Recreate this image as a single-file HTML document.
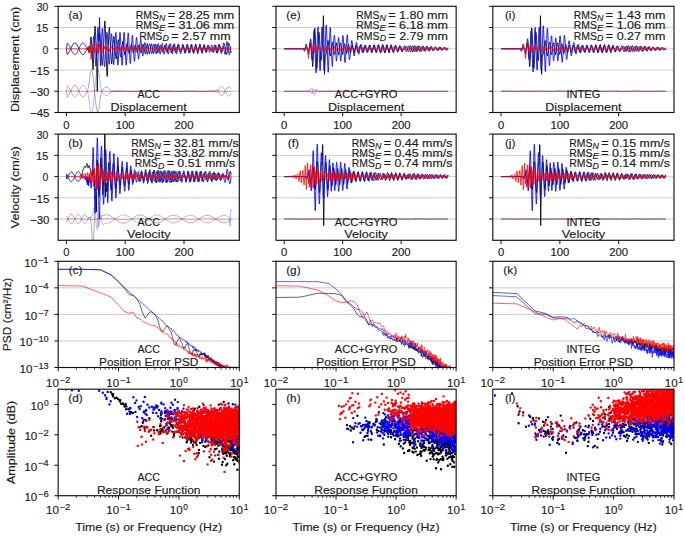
<!DOCTYPE html><html><head><meta charset="utf-8"><style>html,body{margin:0;padding:0;background:#fff;}svg{display:block;}svg text{stroke:#1a1a1a;stroke-width:0.15px;}</style></head><body><svg width="685" height="536" viewBox="0 0 685 536" font-family='"Liberation Sans", sans-serif' fill="#1a1a1a"><defs><clipPath id="c00"><rect x="58.15" y="6.30" width="181.15" height="106.20"/></clipPath><clipPath id="c01"><rect x="58.15" y="134.10" width="181.15" height="106.20"/></clipPath><clipPath id="c02"><rect x="58.15" y="261.30" width="181.15" height="106.20"/></clipPath><clipPath id="c03"><rect x="58.15" y="389.20" width="181.15" height="106.50"/></clipPath><clipPath id="c10"><rect x="276.00" y="6.30" width="180.15" height="106.20"/></clipPath><clipPath id="c11"><rect x="276.00" y="134.10" width="180.15" height="106.20"/></clipPath><clipPath id="c12"><rect x="276.00" y="261.30" width="180.15" height="106.20"/></clipPath><clipPath id="c13"><rect x="276.00" y="389.20" width="180.15" height="106.50"/></clipPath><clipPath id="c20"><rect x="492.80" y="6.30" width="181.20" height="106.20"/></clipPath><clipPath id="c21"><rect x="492.80" y="134.10" width="181.20" height="106.20"/></clipPath><clipPath id="c22"><rect x="492.80" y="261.30" width="181.20" height="106.20"/></clipPath><clipPath id="c23"><rect x="492.80" y="389.20" width="181.20" height="106.50"/></clipPath></defs>
<line x1="58.15" y1="27.54" x2="239.30" y2="27.54" stroke="#c4c4c4" stroke-width="0.9"/>
<line x1="58.15" y1="48.78" x2="239.30" y2="48.78" stroke="#c4c4c4" stroke-width="0.9"/>
<line x1="58.15" y1="70.02" x2="239.30" y2="70.02" stroke="#c4c4c4" stroke-width="0.9"/>
<line x1="58.15" y1="91.26" x2="239.30" y2="91.26" stroke="#c4c4c4" stroke-width="0.9"/>
<line x1="58.15" y1="155.34" x2="239.30" y2="155.34" stroke="#c4c4c4" stroke-width="0.9"/>
<line x1="58.15" y1="176.58" x2="239.30" y2="176.58" stroke="#c4c4c4" stroke-width="0.9"/>
<line x1="58.15" y1="197.82" x2="239.30" y2="197.82" stroke="#c4c4c4" stroke-width="0.9"/>
<line x1="58.15" y1="219.06" x2="239.30" y2="219.06" stroke="#c4c4c4" stroke-width="0.9"/>
<line x1="58.15" y1="287.85" x2="239.30" y2="287.85" stroke="#c4c4c4" stroke-width="0.9"/>
<line x1="58.15" y1="314.40" x2="239.30" y2="314.40" stroke="#c4c4c4" stroke-width="0.9"/>
<line x1="58.15" y1="340.95" x2="239.30" y2="340.95" stroke="#c4c4c4" stroke-width="0.9"/>
<line x1="276.00" y1="27.54" x2="456.15" y2="27.54" stroke="#c4c4c4" stroke-width="0.9"/>
<line x1="276.00" y1="48.78" x2="456.15" y2="48.78" stroke="#c4c4c4" stroke-width="0.9"/>
<line x1="276.00" y1="70.02" x2="456.15" y2="70.02" stroke="#c4c4c4" stroke-width="0.9"/>
<line x1="276.00" y1="91.26" x2="456.15" y2="91.26" stroke="#c4c4c4" stroke-width="0.9"/>
<line x1="276.00" y1="155.34" x2="456.15" y2="155.34" stroke="#c4c4c4" stroke-width="0.9"/>
<line x1="276.00" y1="176.58" x2="456.15" y2="176.58" stroke="#c4c4c4" stroke-width="0.9"/>
<line x1="276.00" y1="197.82" x2="456.15" y2="197.82" stroke="#c4c4c4" stroke-width="0.9"/>
<line x1="276.00" y1="219.06" x2="456.15" y2="219.06" stroke="#c4c4c4" stroke-width="0.9"/>
<line x1="276.00" y1="287.85" x2="456.15" y2="287.85" stroke="#c4c4c4" stroke-width="0.9"/>
<line x1="276.00" y1="314.40" x2="456.15" y2="314.40" stroke="#c4c4c4" stroke-width="0.9"/>
<line x1="276.00" y1="340.95" x2="456.15" y2="340.95" stroke="#c4c4c4" stroke-width="0.9"/>
<line x1="492.80" y1="27.54" x2="674.00" y2="27.54" stroke="#c4c4c4" stroke-width="0.9"/>
<line x1="492.80" y1="48.78" x2="674.00" y2="48.78" stroke="#c4c4c4" stroke-width="0.9"/>
<line x1="492.80" y1="70.02" x2="674.00" y2="70.02" stroke="#c4c4c4" stroke-width="0.9"/>
<line x1="492.80" y1="91.26" x2="674.00" y2="91.26" stroke="#c4c4c4" stroke-width="0.9"/>
<line x1="492.80" y1="155.34" x2="674.00" y2="155.34" stroke="#c4c4c4" stroke-width="0.9"/>
<line x1="492.80" y1="176.58" x2="674.00" y2="176.58" stroke="#c4c4c4" stroke-width="0.9"/>
<line x1="492.80" y1="197.82" x2="674.00" y2="197.82" stroke="#c4c4c4" stroke-width="0.9"/>
<line x1="492.80" y1="219.06" x2="674.00" y2="219.06" stroke="#c4c4c4" stroke-width="0.9"/>
<line x1="492.80" y1="287.85" x2="674.00" y2="287.85" stroke="#c4c4c4" stroke-width="0.9"/>
<line x1="492.80" y1="314.40" x2="674.00" y2="314.40" stroke="#c4c4c4" stroke-width="0.9"/>
<line x1="492.80" y1="340.95" x2="674.00" y2="340.95" stroke="#c4c4c4" stroke-width="0.9"/>
<g clip-path="url(#c00)">
<path d="M66.4 91.3l0.3 1.9l0.3 1.9l0.3 1.8l0.3 -0.2l0.3 -0.2l0.2 -0.3l0.3 -0.4l0.3 -0.5l0.3 -0.5l0.3 -0.5l0.3 -0.6l0.3 -0.6l0.3 -0.7l0.3 -0.6l0.3 -0.7l0.3 -0.6l0.3 -0.7l0.3 -0.6l0.3 -0.6l0.3 -0.6l0.3 -0.5l0.3 -0.5l0.2 -0.4l0.3 -0.4l0.3 -0.3l0.3 -0.2l0.3 -0.1l0.3 -0.1l0.3 0l0.3 0l0.3 0.2l0.3 0.2l0.3 0.3l0.3 0.3l0.3 0.4l0.3 0.5l0.3 0.5l0.3 0.6l0.3 0.6l0.2 0.6l0.3 0.6l0.3 0.7l0.3 0.7l0.3 0.6l0.3 0.7l0.3 0.6l0.3 0.6l0.3 0.5l0.3 0.5l0.3 0.5l0.3 0.4l0.3 0.3l0.3 0.3l0.3 0.2l0.3 0.1l0.3 0.1l0.2 -0.1l0.3 -0.1l0.3 -0.1l0.3 -0.3l0.3 -0.3l0.3 -0.4l0.3 -0.4l0.3 -0.5l0.3 -0.5l0.3 -0.6l0.3 -0.6l0.3 -0.6l0.3 -0.7l0.3 -0.6l0.3 -0.5l0.3 -0.2l0.3 -0.8l0.2 -1.2l0.3 -1.5l0.3 -2l0.3 -2.1l0.3 -2.3l0.3 -2.1l0.3 -2.1l0.3 -1.8l0.3 -1.6l0.3 -1.2l0.3 -0.9l0.3 -0.4l0.3 -0.1l0.3 0.5l0.3 0.9l0.3 1.3l0.3 1.7l0.2 2.1l0.3 2.4l0.3 2.7l0.3 3l0.3 3l0.3 3.2l0.3 3.1l0.3 3.1l0.3 2.9l0.3 2.7l0.3 2.4l0.3 2.1l0.3 1.7l0.3 1.4l0.3 0.8l0.3 0.5l0.3 0l0.2 -0.5l0.3 -0.9l0.3 -1.2l0.3 -1.6l0.3 -1.8l0.3 -2l0.3 -2.2l0.3 -2.2l0.3 -2.2l0.3 -2.1l0.3 -1.8l0.3 -1.4l0.3 -0.8l0.3 -0.5l0.3 -0.4l0.3 -0.4l0.2 -0.4l0.3 -0.3l0.3 -0.4l0.3 -0.3l0.3 -0.3l0.3 -0.3l0.3 -0.3l0.3 -0.2l0.3 -0.2l0.3 -0.1l0.3 -0.1l0.3 -0.1l0.3 0l0.3 0l0.3 0.1l0.3 0.1l0.3 0.1l0.2 0.2l0.3 0.2l0.3 0.3l0.3 0.3l0.3 0.3l0.3 0.3l0.3 0.4l0.3 0.3l0.3 0.4l0.3 0.4l0.3 0.4l0.3 0.5l0.3 0l0.3 0l0.3 0l0.3 0l0.3 0l0.2 0l0.3 0l0.3 0l0.3 0l0.3 0l0.3 0l0.3 0l0.3 0l0.3 0l0.3 0l0.3 0l0.3 0l0.3 0l0.3 0l0.3 0l0.3 0l0.3 0l0.2 0l0.3 0l0.3 0l0.3 0l0.3 0l0.3 0l0.3 0l0.3 0l0.3 0l0.3 0l0.3 0l0.3 0l0.3 0l0.3 0l0.3 0l0.3 0l0.3 0l0.2 0l0.3 0l0.3 0l0.3 0l0.3 0l0.3 0l0.3 0l0.3 0l0.3 0l0.3 0l0.3 0l0.3 0l0.3 0l0.3 0l0.3 0l0.3 0l0.3 0l0.2 0l0.3 0l0.3 0l0.3 0l0.3 0l0.3 0l0.3 0l0.3 0l0.3 0l0.3 0l0.3 0l0.3 0l0.3 0l0.3 0l0.3 0l0.3 0l0.3 0l0.2 0l0.3 0l0.3 0l0.3 0l0.3 0l0.3 0l0.3 0l0.3 0l0.3 0l0.3 0l0.3 0l0.3 0l0.3 0l0.3 0l0.3 0l0.3 0l0.3 0l0.2 0l0.3 0l0.3 0l0.3 0l0.3 0l0.3 0l0.3 0l0.3 0l0.3 0l0.3 0l0.3 0l0.3 0l0.3 0l0.3 0l0.3 0l0.3 0l0.2 0l0.3 0l0.3 0l0.3 0l0.3 0l0.3 0l0.3 0l0.3 0l0.3 0l0.3 0l0.3 0l0.3 0l0.3 0l0.3 0l0.3 0l0.3 0l0.3 0l0.2 0l0.3 0l0.3 0l0.3 0l0.3 0l0.3 0l0.3 0l0.3 0l0.3 0l0.3 0l0.3 0l0.3 0l0.3 0l0.3 0l0.3 0l0.3 0l0.3 0l0.2 0l0.3 0l0.3 0l0.3 0l0.3 0l0.3 0l0.3 0l0.3 0l0.3 0l0.3 0l0.3 0l0.3 0l0.3 0l0.3 0l0.3 0l0.3 0l0.3 0l0.2 0l0.3 0l0.3 0l0.3 0l0.3 0l0.3 0l0.3 0l0.3 0l0.3 0l0.3 0l0.3 0l0.3 0l0.3 0l0.3 0l0.3 0l0.3 0l0.3 0l0.2 0l0.3 0l0.3 0l0.3 0l0.3 0l0.3 0l0.3 0l0.3 0l0.3 0l0.3 0l0.3 0l0.3 0l0.3 0l0.3 0l0.3 0l0.3 0l0.3 0l0.2 0l0.3 0l0.3 0l0.3 0l0.3 0l0.3 0l0.3 0l0.3 0l0.3 0l0.3 0l0.3 0l0.3 0l0.3 0l0.3 0l0.3 0l0.3 0l0.3 0l0.2 0l0.3 0l0.3 0l0.3 0l0.3 0l0.3 0l0.3 0l0.3 0l0.3 0l0.3 0l0.3 0l0.3 0l0.3 0l0.3 0l0.3 0l0.3 0l0.3 0l0.2 0l0.3 0l0.3 0l0.3 0l0.3 0l0.3 0l0.3 0l0.3 0l0.3 0l0.3 0l0.3 0l0.3 0l0.3 0l0.3 0l0.3 0l0.3 0l0.2 0l0.3 0l0.3 0l0.3 0l0.3 0l0.3 0l0.3 0l0.3 0l0.3 0l0.3 0l0.3 0l0.3 0l0.3 0l0.3 0l0.3 0l0.3 0l0.3 0l0.2 0l0.3 0l0.3 0l0.3 0l0.3 0l0.3 0l0.3 0l0.3 0l0.3 0l0.3 0l0.3 0l0.3 0l0.3 0l0.3 0l0.3 0l0.3 0l0.3 0l0.2 0l0.3 0l0.3 0l0.3 0l0.3 0l0.3 0l0.3 0l0.3 0l0.3 0l0.3 0l0.3 0l0.3 0l0.3 0l0.3 0l0.3 0l0.3 0l0.3 0l0.2 0l0.3 0l0.3 0l0.3 0l0.3 0l0.3 0l0.3 0l0.3 0l0.3 0l0.3 0l0.3 0l0.3 0l0.3 0l0.3 0l0.3 0l0.3 0l0.3 0l0.2 0l0.3 0l0.3 0l0.3 0l0.3 0l0.3 0l0.3 0l0.3 0l0.3 0l0.3 0l0.3 0l0.3 0l0.3 0l0.3 0l0.3 0l0.3 0l0.3 0l0.2 0l0.3 0l0.3 0l0.3 0l0.3 0l0.3 0l0.3 0l0.3 0l0.3 0l0.3 0l0.3 0l0.3 0l0.3 0l0.3 0l0.3 0l0.3 0l0.3 0l0.2 0l0.3 0l0.3 0l0.3 0l0.3 0l0.3 0l0.3 0l0.3 0l0.3 0l0.3 -0.1l0.3 -0.1l0.3 -0.2l0.3 -0.2l0.3 -0.2l0.3 -0.2l0.3 -0.1l0.3 0l0.2 0.1l0.3 0.2l0.3 0.3l0.3 0.5l0.3 0.5l0.3 0.5l0.3 0.6l0.3 0.5l0.3 0.4l0.3 0.5l0.3 0.3l0.3 0.3l0.3 0.3l0.3 0.2l0.3 0.1l0.3 0l0.2 0l0.3 -0.1l0.3 -0.2l0.3 -0.3l0.3 -0.3l0.3 -0.3l0.3 -0.5l0.3 -0.4l0.3 -0.5l0.3 -0.5l0.3 -0.6l0.3 -0.5l0.3 -0.6l0.3 -0.5l0.3 -0.6l0.3 -0.5l0.3 -0.4l0.2 -0.4l0.3 -0.4l0.3 -0.3l0.3 -0.3l0.3 -0.1l0.3 -0.2l0.3 0l0.3 0l0.3 0.2l0.3 0.1l0.3 0.3l0.3 0.3l0.3 0.4l0.3 0.4l0.3 0.4" fill="none" stroke="#000000" stroke-width="0.65" stroke-linejoin="round" opacity="0.5"/>
<path d="M66.4 91.3l0.3 -2l0.3 -1.9l0.3 -1.8l0.3 0.2l0.3 0.2l0.2 0.4l0.3 0.4l0.3 0.4l0.3 0.5l0.3 0.5l0.3 0.6l0.3 0.6l0.3 0.7l0.3 0.6l0.3 0.7l0.3 0.7l0.3 0.6l0.3 0.6l0.3 0.6l0.3 0.6l0.3 0.5l0.3 0.5l0.2 0.4l0.3 0.4l0.3 0.3l0.3 0.2l0.3 0.2l0.3 0.1l0.3 0l0.3 -0.1l0.3 -0.1l0.3 -0.3l0.3 -0.2l0.3 -0.4l0.3 -0.4l0.3 -0.5l0.3 -0.5l0.3 -0.6l0.3 -0.5l0.2 -0.7l0.3 -0.6l0.3 -0.7l0.3 -0.6l0.3 -0.7l0.3 -0.6l0.3 -0.7l0.3 -0.5l0.3 -0.6l0.3 -0.5l0.3 -0.5l0.3 -0.4l0.3 -0.3l0.3 -0.3l0.3 -0.2l0.3 -0.1l0.3 0l0.2 0l0.3 0.1l0.3 0.1l0.3 0.3l0.3 0.3l0.3 0.4l0.3 0.4l0.3 0.5l0.3 0.5l0.3 0.6l0.3 0.6l0.3 0.6l0.3 0.7l0.3 0.7l0.3 0.4l0.3 0.2l0.3 0.8l0.2 1.3l0.3 1.7l0.3 2l0.3 2.4l0.3 2.3l0.3 2.3l0.3 2.2l0.3 1.9l0.3 1.7l0.3 1.3l0.3 0.9l0.3 0.5l0.3 0l0.3 -0.5l0.3 -0.9l0.3 -1.4l0.3 -1.8l0.2 -2.2l0.3 -2.6l0.3 -2.9l0.3 -3.1l0.3 -3.2l0.3 -3.3l0.3 -3.4l0.3 -3.2l0.3 -3.1l0.3 -2.9l0.3 -2.5l0.3 -2.3l0.3 -1.8l0.3 -1.4l0.3 -0.9l0.3 -0.5l0.3 0l0.2 0.5l0.3 0.9l0.3 1.4l0.3 1.6l0.3 2l0.3 2.1l0.3 2.3l0.3 2.4l0.3 2.3l0.3 2.2l0.3 1.9l0.3 1.5l0.3 0.9l0.3 0.4l0.3 0.4l0.3 0.4l0.2 0.4l0.3 0.4l0.3 0.3l0.3 0.4l0.3 0.3l0.3 0.2l0.3 0.3l0.3 0.2l0.3 0.2l0.3 0.1l0.3 0.1l0.3 0.1l0.3 0l0.3 0l0.3 -0.1l0.3 -0.1l0.3 -0.1l0.2 -0.2l0.3 -0.2l0.3 -0.3l0.3 -0.2l0.3 -0.3l0.3 -0.4l0.3 -0.3l0.3 -0.4l0.3 -0.4l0.3 -0.4l0.3 -0.4l0.3 -0.4l0.3 0l0.3 0l0.3 0l0.3 0l0.3 0l0.2 0l0.3 0l0.3 0l0.3 0l0.3 0l0.3 0l0.3 0l0.3 0l0.3 0l0.3 0l0.3 0l0.3 0l0.3 0l0.3 0l0.3 0l0.3 0l0.3 0l0.2 0l0.3 0l0.3 0l0.3 0l0.3 0l0.3 0l0.3 0l0.3 0l0.3 0l0.3 0l0.3 0l0.3 0l0.3 0l0.3 0l0.3 0l0.3 0l0.3 0l0.2 0l0.3 0l0.3 0l0.3 0l0.3 0l0.3 0l0.3 0l0.3 0l0.3 0l0.3 0l0.3 0l0.3 0l0.3 0l0.3 0l0.3 0l0.3 0l0.3 0l0.2 0l0.3 0l0.3 0l0.3 0l0.3 0l0.3 0l0.3 0l0.3 0l0.3 0l0.3 0l0.3 0l0.3 0l0.3 0l0.3 0l0.3 0l0.3 0l0.3 0l0.2 0l0.3 0l0.3 0l0.3 0l0.3 0l0.3 0l0.3 0l0.3 0l0.3 0l0.3 0l0.3 0l0.3 0l0.3 0l0.3 0l0.3 0l0.3 0l0.3 0l0.2 0l0.3 0l0.3 0l0.3 0l0.3 0l0.3 0l0.3 0l0.3 0l0.3 0l0.3 0l0.3 0l0.3 0l0.3 0l0.3 0l0.3 0l0.3 0l0.2 0l0.3 0l0.3 0l0.3 0l0.3 0l0.3 0l0.3 0l0.3 0l0.3 0l0.3 0l0.3 0l0.3 0l0.3 0l0.3 0l0.3 0l0.3 0l0.3 0l0.2 0l0.3 0l0.3 0l0.3 0l0.3 0l0.3 0l0.3 0l0.3 0l0.3 0l0.3 0l0.3 0l0.3 0l0.3 0l0.3 0l0.3 0l0.3 0l0.3 0l0.2 0l0.3 0l0.3 0l0.3 0l0.3 0l0.3 0l0.3 0l0.3 0l0.3 0l0.3 0l0.3 0l0.3 0l0.3 0l0.3 0l0.3 0l0.3 0l0.3 0l0.2 0l0.3 0l0.3 0l0.3 0l0.3 0l0.3 0l0.3 0l0.3 0l0.3 0l0.3 0l0.3 0l0.3 0l0.3 0l0.3 0l0.3 0l0.3 0l0.3 0l0.2 0l0.3 0l0.3 0l0.3 0l0.3 0l0.3 0l0.3 0l0.3 0l0.3 0l0.3 0l0.3 0l0.3 0l0.3 0l0.3 0l0.3 0l0.3 0l0.3 0l0.2 0l0.3 0l0.3 0l0.3 0l0.3 0l0.3 0l0.3 0l0.3 0l0.3 0l0.3 0l0.3 0l0.3 0l0.3 0l0.3 0l0.3 0l0.3 0l0.3 0l0.2 0l0.3 0l0.3 0l0.3 0l0.3 0l0.3 0l0.3 0l0.3 0l0.3 0l0.3 0l0.3 0l0.3 0l0.3 0l0.3 0l0.3 0l0.3 0l0.3 0l0.2 0l0.3 0l0.3 0l0.3 0l0.3 0l0.3 0l0.3 0l0.3 0l0.3 0l0.3 0l0.3 0l0.3 0l0.3 0l0.3 0l0.3 0l0.3 0l0.2 0l0.3 0l0.3 0l0.3 0l0.3 0l0.3 0l0.3 0l0.3 0l0.3 0l0.3 0l0.3 0l0.3 0l0.3 0l0.3 0l0.3 0l0.3 0l0.3 0l0.2 0l0.3 0l0.3 0l0.3 0l0.3 0l0.3 0l0.3 0l0.3 0l0.3 0l0.3 0l0.3 0l0.3 0l0.3 0l0.3 0l0.3 0l0.3 0l0.3 0l0.2 0l0.3 0l0.3 0l0.3 0l0.3 0l0.3 0l0.3 0l0.3 0l0.3 0l0.3 0l0.3 0l0.3 0l0.3 0l0.3 0l0.3 0l0.3 0l0.3 0l0.2 0l0.3 0l0.3 0l0.3 0l0.3 0l0.3 0l0.3 0l0.3 0l0.3 0l0.3 0l0.3 0l0.3 0l0.3 0l0.3 0l0.3 0l0.3 0l0.3 0l0.2 0l0.3 0l0.3 0l0.3 0l0.3 0l0.3 0l0.3 0l0.3 0l0.3 0l0.3 0l0.3 0l0.3 0l0.3 0l0.3 0l0.3 0l0.3 0l0.3 0l0.2 0l0.3 0l0.3 0l0.3 0l0.3 0l0.3 0l0.3 0l0.3 0l0.3 0l0.3 0l0.3 0l0.3 0l0.3 0l0.3 0l0.3 0l0.3 0l0.3 0l0.2 0l0.3 0l0.3 0l0.3 0l0.3 0l0.3 0l0.3 0l0.3 0l0.3 0l0.3 0l0.3 0.2l0.3 0.2l0.3 0.2l0.3 0.3l0.3 0.2l0.3 0.1l0.3 0l0.2 -0.1l0.3 -0.3l0.3 -0.3l0.3 -0.5l0.3 -0.6l0.3 -0.7l0.3 -0.6l0.3 -0.6l0.3 -0.6l0.3 -0.4l0.3 -0.5l0.3 -0.3l0.3 -0.3l0.3 -0.2l0.3 -0.2l0.3 0l0.2 0l0.3 0.2l0.3 0.2l0.3 0.3l0.3 0.3l0.3 0.5l0.3 0.4l0.3 0.6l0.3 0.6l0.3 0.6l0.3 0.6l0.3 0.7l0.3 0.6l0.3 0.6l0.3 0.7l0.3 0.5l0.3 0.6l0.2 0.5l0.3 0.4l0.3 0.4l0.3 0.2l0.3 0.2l0.3 0.2l0.3 0l0.3 0l0.3 -0.2l0.3 -0.2l0.3 -0.2l0.3 -0.4l0.3 -0.4l0.3 -0.5l0.3 -0.6" fill="none" stroke="#0000ff" stroke-width="0.65" stroke-linejoin="round" opacity="0.45"/>
<path d="M66.4 91.3l0.3 -0.1l0.3 0l0.3 -0.1l0.3 0l0.3 -0.1l0.2 0l0.3 0l0.3 -0.1l0.3 0l0.3 0l0.3 -0.1l0.3 0l0.3 0l0.3 0l0.3 -0.1l0.3 0l0.3 0l0.3 0l0.3 0l0.3 0l0.3 0l0.3 0l0.2 0l0.3 0l0.3 0l0.3 0.1l0.3 0l0.3 0l0.3 0l0.3 0.1l0.3 0l0.3 0l0.3 0.1l0.3 0l0.3 0l0.3 0.1l0.3 0l0.3 0.1l0.3 0l0.2 0.1l0.3 0l0.3 0l0.3 0.1l0.3 0l0.3 0.1l0.3 0l0.3 0.1l0.3 0l0.3 0l0.3 0.1l0.3 0l0.3 0l0.3 0l0.3 0.1l0.3 0l0.3 0l0.2 0l0.3 0l0.3 0l0.3 0l0.3 0l0.3 0l0.3 0l0.3 0l0.3 0l0.3 0l0.3 -0.1l0.3 0l0.3 0l0.3 0l0.3 -0.1l0.3 0l0.3 0l0.2 -0.1l0.3 0l0.3 -0.1l0.3 0l0.3 -0.1l0.3 0l0.3 0l0.3 -0.1l0.3 0l0.3 -0.1l0.3 0l0.3 -0.1l0.3 0l0.3 0l0.3 -0.1l0.3 0l0.3 0l0.2 -0.1l0.3 0l0.3 0l0.3 0l0.3 -0.1l0.3 0l0.3 0l0.3 0l0.3 0l0.3 0l0.3 0l0.3 0l0.3 0l0.3 0l0.3 0l0.3 0.1l0.3 0l0.2 0l0.3 0l0.3 0.1l0.3 0l0.3 0l0.3 0.1l0.3 0l0.3 0l0.3 0.1l0.3 0l0.3 0.1l0.3 0l0.3 0.1l0.3 0l0.3 0l0.3 0.1l0.2 0l0.3 0.1l0.3 0l0.3 0.1l0.3 0l0.3 0l0.3 0.1l0.3 0l0.3 0l0.3 0l0.3 0.1l0.3 0l0.3 0l0.3 0l0.3 0l0.3 0l0.3 0l0.2 0l0.3 0l0.3 0l0.3 0l0.3 0l0.3 0l0.3 -0.1l0.3 0l0.3 0l0.3 0l0.3 -0.1l0.3 0l0.3 0l0.3 -0.1l0.3 0l0.3 -0.1l0.3 0l0.2 -0.1l0.3 0l0.3 0l0.3 -0.1l0.3 0l0.3 -0.1l0.3 0l0.3 -0.1l0.3 0l0.3 0l0.3 -0.1l0.3 0l0.3 0l0.3 -0.1l0.3 0l0.3 0l0.3 0l0.2 -0.1l0.3 0l0.3 0l0.3 0l0.3 0l0.3 0l0.3 0l0.3 0l0.3 0l0.3 0l0.3 0l0.3 0.1l0.3 0l0.3 0l0.3 0l0.3 0.1l0.3 0l0.2 0l0.3 0.1l0.3 0l0.3 0l0.3 0.1l0.3 0l0.3 0.1l0.3 0l0.3 0.1l0.3 0l0.3 0l0.3 0.1l0.3 0l0.3 0.1l0.3 0l0.3 0.1l0.3 0l0.2 0l0.3 0.1l0.3 0l0.3 0l0.3 0l0.3 0.1l0.3 0l0.3 0l0.3 0l0.3 0l0.3 0l0.3 0l0.3 0l0.3 0l0.3 0l0.3 0l0.3 0l0.2 0l0.3 -0.1l0.3 0l0.3 0l0.3 0l0.3 -0.1l0.3 0l0.3 0l0.3 -0.1l0.3 0l0.3 -0.1l0.3 0l0.3 -0.1l0.3 0l0.3 0l0.3 -0.1l0.3 0l0.2 -0.1l0.3 0l0.3 -0.1l0.3 0l0.3 0l0.3 -0.1l0.3 0l0.3 0l0.3 -0.1l0.3 0l0.3 0l0.3 0l0.3 -0.1l0.3 0l0.3 0l0.3 0l0.2 0l0.3 0l0.3 0l0.3 0l0.3 0l0.3 0l0.3 0l0.3 0.1l0.3 0l0.3 0l0.3 0l0.3 0.1l0.3 0l0.3 0l0.3 0.1l0.3 0l0.3 0l0.2 0.1l0.3 0l0.3 0.1l0.3 0l0.3 0.1l0.3 0l0.3 0l0.3 0.1l0.3 0l0.3 0.1l0.3 0l0.3 0.1l0.3 0l0.3 0l0.3 0.1l0.3 0l0.3 0l0.2 0l0.3 0.1l0.3 0l0.3 0l0.3 0l0.3 0l0.3 0l0.3 0l0.3 0l0.3 0l0.3 0l0.3 0l0.3 0l0.3 0l0.3 -0.1l0.3 0l0.3 0l0.2 0l0.3 -0.1l0.3 0l0.3 0l0.3 -0.1l0.3 0l0.3 -0.1l0.3 0l0.3 -0.1l0.3 0l0.3 0l0.3 -0.1l0.3 0l0.3 -0.1l0.3 0l0.3 -0.1l0.3 0l0.2 0l0.3 -0.1l0.3 0l0.3 0l0.3 -0.1l0.3 0l0.3 0l0.3 0l0.3 -0.1l0.3 0l0.3 0l0.3 0l0.3 0l0.3 0l0.3 0l0.3 0l0.3 0l0.2 0l0.3 0l0.3 0.1l0.3 0l0.3 0l0.3 0l0.3 0.1l0.3 0l0.3 0l0.3 0.1l0.3 0l0.3 0l0.3 0.1l0.3 0l0.3 0.1l0.3 0l0.3 0.1l0.2 0l0.3 0l0.3 0.1l0.3 0l0.3 0.1l0.3 0l0.3 0.1l0.3 0l0.3 0l0.3 0.1l0.3 0l0.3 0l0.3 0l0.3 0.1l0.3 0l0.3 0l0.3 0l0.2 0l0.3 0l0.3 0l0.3 0l0.3 0l0.3 0l0.3 0l0.3 0l0.3 0l0.3 -0.1l0.3 0l0.3 0l0.3 0l0.3 -0.1l0.3 0l0.3 0l0.2 -0.1l0.3 0l0.3 -0.1l0.3 0l0.3 -0.1l0.3 0l0.3 0l0.3 -0.1l0.3 0l0.3 -0.1l0.3 0l0.3 -0.1l0.3 0l0.3 0l0.3 -0.1l0.3 0l0.3 0l0.2 -0.1l0.3 0l0.3 0l0.3 0l0.3 -0.1l0.3 0l0.3 0l0.3 0l0.3 0l0.3 0l0.3 0l0.3 0l0.3 0l0.3 0l0.3 0l0.3 0.1l0.3 0l0.2 0l0.3 0l0.3 0.1l0.3 0l0.3 0l0.3 0.1l0.3 0l0.3 0l0.3 0.1l0.3 0l0.3 0.1l0.3 0l0.3 0.1l0.3 0l0.3 0l0.3 0.1l0.3 0l0.2 0.1l0.3 0l0.3 0.1l0.3 0l0.3 0l0.3 0.1l0.3 0l0.3 0l0.3 0l0.3 0.1l0.3 0l0.3 0l0.3 0l0.3 0l0.3 0l0.3 0l0.3 0l0.2 0l0.3 0l0.3 0l0.3 0l0.3 0l0.3 -0.1l0.3 0l0.3 0l0.3 0l0.3 -0.1l0.3 0l0.3 0l0.3 -0.1l0.3 0l0.3 -0.1l0.3 0l0.3 -0.1l0.2 0l0.3 0l0.3 -0.1l0.3 0l0.3 -0.1l0.3 0l0.3 -0.1l0.3 0l0.3 0l0.3 -0.1l0.3 0l0.3 0l0.3 -0.1l0.3 0l0.3 0l0.3 0l0.3 -0.1l0.2 0l0.3 0l0.3 0l0.3 0l0.3 0l0.3 0l0.3 0l0.3 0l0.3 0l0.3 0l0.3 0.1l0.3 0l0.3 0l0.3 0l0.3 0.1l0.3 0l0.3 0l0.2 0.1l0.3 0l0.3 0l0.3 0.1l0.3 0l0.3 0.1l0.3 0l0.3 0.1l0.3 0l0.3 0l0.3 0.1l0.3 0l0.3 0.1l0.3 0l0.3 0.1l0.3 0l0.2 0l0.3 0.1l0.3 0l0.3 0l0.3 0l0.3 0.1l0.3 0l0.3 0l0.3 0l0.3 0l0.3 0l0.3 0l0.3 0l0.3 0l0.3 0l0.3 0l0.3 0l0.2 0l0.3 -0.1l0.3 0l0.3 0l0.3 0l0.3 -0.1l0.3 0l0.3 0l0.3 -0.1l0.3 0l0.3 -0.1l0.3 0l0.3 -0.1l0.3 0l0.3 0" fill="none" stroke="#ff0000" stroke-width="0.65" stroke-linejoin="round" opacity="0.45"/>
<path d="M66.4 48.8l0.3 1.9l0.3 1.9l0.3 1.8l0.3 -0.1l0.3 -0.3l0.2 -0.3l0.3 -0.4l0.3 -0.5l0.3 -0.5l0.3 -0.5l0.3 -0.6l0.3 -0.6l0.3 -0.6l0.3 -0.7l0.3 -0.7l0.3 -0.6l0.3 -0.7l0.3 -0.6l0.3 -0.6l0.3 -0.6l0.3 -0.5l0.3 -0.5l0.2 -0.4l0.3 -0.3l0.3 -0.3l0.3 -0.3l0.3 -0.1l0.3 -0.1l0.3 0l0.3 0l0.3 0.2l0.3 0.2l0.3 0.3l0.3 0.3l0.3 0.4l0.3 0.5l0.3 0.5l0.3 0.6l0.3 0.6l0.2 0.6l0.3 0.7l0.3 0.6l0.3 0.7l0.3 0.6l0.3 0.7l0.3 0.6l0.3 0.6l0.3 0.5l0.3 0.5l0.3 0.5l0.3 0.4l0.3 0.3l0.3 0.3l0.3 0.2l0.3 0.1l0.3 0.1l0.2 0l0.3 -0.1l0.3 -0.2l0.3 -0.2l0.3 -0.4l0.3 -0.3l0.3 -0.5l0.3 -0.5l0.3 -0.5l0.3 -0.6l0.3 -0.6l0.3 -0.6l0.3 -0.7l0.3 -0.6l0.3 -0.6l0.3 -0.4l0.3 -0.2l0.2 0.7l0.3 1.7l0.3 1.8l0.3 1l0.3 -0.6l0.3 -2l0.3 -1.8l0.3 -3.6l0.3 -4.4l0.3 -3.3l0.3 -0.2l0.3 3.1l0.3 5.3l0.3 4.1l0.3 6.5l0.3 7.9l0.3 5.5l0.2 0.5l0.3 -5.2l0.3 -8.7l0.3 -7.2l0.3 -7.7l0.3 -9.1l0.3 -5.7l0.3 0.1l0.3 5.4l0.3 8.4l0.3 7.5l0.3 4.8l0.3 9.5l0.3 17l0.3 12.4l0.3 -12.3l0.3 -16.9l0.2 -9.1l0.3 -4.4l0.3 -4.7l0.3 -5.8l0.3 -4.1l0.3 -1.2l0.3 2l0.3 4.3l0.3 5.2l0.3 4.1l0.3 3.1l0.3 4.9l0.3 4.9l0.3 3.1l0.3 1l0.3 -1.7l0.2 -4.1l0.3 -4.9l0.3 -5.2l0.3 -4l0.3 -7.6l0.3 -8.6l0.3 -6.4l0.3 -2l0.3 3.7l0.3 9.9l0.3 10.3l0.3 6.1l0.3 9.8l0.3 9.7l0.3 6l0.3 -0.1l0.3 -6.1l0.2 -9.9l0.3 -9.4l0.3 -5.4l0.3 -8.4l0.3 -7l0.3 -2.8l0.3 2.4l0.3 6.1l0.3 7.5l0.3 5.3l0.3 4l0.3 5.8l0.3 4.3l0.3 1.2l0.3 -2.3l0.3 -4.8l0.3 -5.3l0.2 -3.2l0.3 -4.4l0.3 -4.6l0.3 -2.8l0.3 0l0.3 2.8l0.3 4.3l0.3 4.2l0.3 2.4l0.3 3.9l0.3 3.3l0.3 1.5l0.3 -0.9l0.3 -2.6l0.3 -3.7l0.3 -2.8l0.3 -2.5l0.2 -3.4l0.3 -2.6l0.3 -0.7l0.3 1.4l0.3 3l0.3 3.3l0.3 2l0.3 2.9l0.3 3l0.3 1.6l0.3 -0.3l0.3 -2.1l0.3 -3l0.3 -2.6l0.3 -1.9l0.3 -2.9l0.3 -2.2l0.2 -0.6l0.3 1.3l0.3 2.5l0.3 2.7l0.3 1.6l0.3 2.5l0.3 2.2l0.3 1.1l0.3 -0.6l0.3 -1.8l0.3 -2.4l0.3 -1.7l0.3 -1.8l0.3 -2.2l0.3 -1.4l0.3 -0.1l0.3 1.3l0.2 2.1l0.3 1.9l0.3 1.3l0.3 2l0.3 1.6l0.3 0.4l0.3 -0.8l0.3 -1.8l0.3 -1.9l0.3 -1.1l0.3 -1.8l0.3 -1.5l0.3 -0.7l0.3 0.6l0.3 1.6l0.3 1.8l0.3 1l0.2 1.7l0.3 1.5l0.3 0.5l0.3 -0.7l0.3 -1.6l0.3 -1.6l0.3 -1.1l0.3 -1.7l0.3 -1.2l0.3 0l0.3 1.1l0.3 1.8l0.3 1.1l0.3 1.6l0.3 1.5l0.3 0.6l0.3 -0.8l0.2 -1.5l0.3 -1.5l0.3 -1.2l0.3 -1.7l0.3 -1.1l0.3 0l0.3 1.2l0.3 1.7l0.3 1.2l0.3 1.6l0.3 1.6l0.3 0.9l0.3 -0.4l0.3 -1.5l0.3 -1.7l0.3 -1.2l0.2 -1.7l0.3 -1.7l0.3 -0.7l0.3 0.5l0.3 1.6l0.3 1.8l0.3 1.2l0.3 1.9l0.3 1.7l0.3 0.8l0.3 -0.6l0.3 -1.6l0.3 -2l0.3 -1.2l0.3 -2l0.3 -1.8l0.3 -0.9l0.2 0.5l0.3 1.7l0.3 2l0.3 1.3l0.3 1.9l0.3 2l0.3 1l0.3 -0.4l0.3 -1.6l0.3 -2l0.3 -1.4l0.3 -1.7l0.3 -2l0.3 -1.1l0.3 0.1l0.3 1.4l0.3 1.9l0.2 1.6l0.3 1.4l0.3 1.9l0.3 1.2l0.3 0.2l0.3 -1.1l0.3 -1.7l0.3 -1.7l0.3 -1.1l0.3 -1.7l0.3 -1.4l0.3 -0.4l0.3 0.6l0.3 1.5l0.3 1.6l0.3 1l0.3 1.4l0.2 1.4l0.3 0.8l0.3 -0.1l0.3 -1l0.3 -1.4l0.3 -1.3l0.3 -0.8l0.3 -1.4l0.3 -1.1l0.3 -0.4l0.3 0.2l0.3 1l0.3 1.2l0.3 1.1l0.3 0.7l0.3 1.2l0.3 1.1l0.2 0.5l0.3 -0.1l0.3 -0.8l0.3 -1.2l0.3 -1.1l0.3 -0.8l0.3 -1.3l0.3 -1.1l0.3 -0.6l0.3 0.2l0.3 1l0.3 1.3l0.3 1.1l0.3 1.1l0.3 1.4l0.3 1.1l0.3 0.2l0.2 -0.7l0.3 -1.4l0.3 -1.5l0.3 -0.9l0.3 -1.6l0.3 -1.3l0.3 -0.5l0.3 0.6l0.3 1.3l0.3 1.6l0.3 1l0.3 1.6l0.3 1.5l0.3 0.6l0.3 -0.3l0.3 -1.3l0.3 -1.7l0.2 -1l0.3 -1.5l0.3 -1.5l0.3 -0.9l0.3 0.2l0.3 1l0.3 1.6l0.3 1.3l0.3 1.1l0.3 1.5l0.3 1.1l0.3 0.1l0.3 -0.7l0.3 -1.4l0.3 -1.3l0.3 -0.9l0.3 -1.3l0.2 -1.1l0.3 -0.6l0.3 0.1l0.3 0.9l0.3 1.1l0.3 1.1l0.3 0.6l0.3 0.9l0.3 1l0.3 0.6l0.3 0.4l0.3 -0.2l0.3 -0.5l0.3 -0.8l0.3 -1l0.3 -0.7l0.2 -0.7l0.3 -1.2l0.3 -1l0.3 -0.6l0.3 0.2l0.3 0.8l0.3 1.3l0.3 1.1l0.3 1l0.3 1.4l0.3 1.2l0.3 0.3l0.3 -0.6l0.3 -1.3l0.3 -1.5l0.3 -1l0.3 -1.6l0.2 -1.4l0.3 -0.6l0.3 0.5l0.3 1.5l0.3 1.6l0.3 1.1l0.3 1.7l0.3 1.6l0.3 0.6l0.3 -0.6l0.3 -1.5l0.3 -1.8l0.3 -1.1l0.3 -1.8l0.3 -1.6l0.3 -0.6l0.3 0.6l0.2 1.7l0.3 1.8l0.3 1.2l0.3 1.8l0.3 1.7l0.3 0.5l0.3 -0.7l0.3 -1.7l0.3 -1.9l0.3 -1.1l0.3 -2l0.3 -1.6l0.3 -0.6l0.3 0.7l0.3 1.7l0.3 1.9l0.3 1.2l0.2 1.9l0.3 1.7l0.3 0.7l0.3 -0.6l0.3 -1.7l0.3 -1.9l0.3 -1.2l0.3 -1.8l0.3 -1.8l0.3 -0.8l0.3 0.5l0.3 1.5l0.3 1.9l0.3 1.2l0.3 1.7l0.3 1.8l0.3 0.9l0.2 -0.2l0.3 -1.3l0.3 -1.8l0.3 -1.3l0.3 -1.4l0.3 -1.7l0.3 -1.1l0.3 -0.1l0.3 1l0.3 1.6l0.3 1.5l0.3 1l0.3 1.5l0.3 1.2l0.3 0.3l0.3 -0.5l0.3 -1.3l0.2 -1.3l0.3 -0.9l0.3 -1.1l0.3 -1.1l0.3 -0.8l0.3 0l0.3 0.5l0.3 0.7l0.3 0.9l0.3 0.6l0.3 0.4l0.3 0.1l0.3 0.3l0.3 0.5l0.3 0.6l0.3 0.8l0.3 0.7l0.2 0.3l0.3 -0.3l0.3 -0.9l0.3 -1.1l0.3 -0.9l0.3 -1.1l0.3 -1.3l0.3 -1.1l0.3 -0.4l0.3 0.6l0.3 1.2l0.3 1.5l0.3 0.9l0.3 1.5l0.3 1.5l0.3 0.9l0.3 -0.1l0.2 -1l0.3 -1.7l0.3 -1.3l0.3 -1.2l0.3 -1.7l0.3 -1.3l0.3 -0.5l0.3 0.6l0.3 1.5l0.3 1.6l0.3 1.1l0.3 1.4l0.3 1.6l0.3 1.2l0.3 0.3l0.3 -0.7l0.2 -1.2l0.3 -1.4l0.3 -1l0.3 -1.6l0.3 -2l0.3 -1.6l0.3 -0.9l0.3 -0.1l0.3 0.9l0.3 1.3l0.3 1.2l0.3 1.7l0.3 2.3l0.3 2.2l0.3 1.5l0.3 0.5l0.3 -0.2l0.2 -1.2l0.3 -1.3l0.3 -1.2l0.3 -2.3l0.3 -2.2l0.3 -2l0.3 -1l0.3 0.1l0.3 0.8l0.3 1.4l0.3 1.1l0.3 2l0.3 2.8l0.3 1.3l0.3 -1.4" fill="none" stroke="#000000" stroke-width="0.85" stroke-linejoin="round"/>
<path d="M66.4 48.8l0.3 -2l0.3 -1.9l0.3 -1.8l0.3 0.2l0.3 0.3l0.2 0.3l0.3 0.4l0.3 0.4l0.3 0.5l0.3 0.6l0.3 0.5l0.3 0.7l0.3 0.6l0.3 0.7l0.3 0.6l0.3 0.7l0.3 0.6l0.3 0.6l0.3 0.7l0.3 0.5l0.3 0.5l0.3 0.5l0.2 0.4l0.3 0.4l0.3 0.3l0.3 0.2l0.3 0.2l0.3 0.1l0.3 0l0.3 -0.1l0.3 -0.1l0.3 -0.2l0.3 -0.3l0.3 -0.4l0.3 -0.4l0.3 -0.5l0.3 -0.5l0.3 -0.5l0.3 -0.6l0.2 -0.7l0.3 -0.6l0.3 -0.7l0.3 -0.6l0.3 -0.7l0.3 -0.6l0.3 -0.6l0.3 -0.6l0.3 -0.6l0.3 -0.5l0.3 -0.4l0.3 -0.4l0.3 -0.4l0.3 -0.2l0.3 -0.2l0.3 -0.2l0.3 0l0.2 0l0.3 0.1l0.3 0.2l0.3 0.2l0.3 0.3l0.3 0.4l0.3 0.4l0.3 0.5l0.3 0.6l0.3 0.5l0.3 0.6l0.3 0.7l0.3 0.6l0.3 0.7l0.3 0.5l0.3 0.5l0.3 0.2l0.2 0.1l0.3 -0.1l0.3 -0.3l0.3 -0.6l0.3 -1.3l0.3 -1.3l0.3 -0.6l0.3 0.6l0.3 1.4l0.3 1.3l0.3 2.4l0.3 2.8l0.3 2l0.3 -0.2l0.3 -2.3l0.3 -3.5l0.3 -2.5l0.2 -4.4l0.3 -4.7l0.3 -2.6l0.3 0.7l0.3 4l0.3 5.5l0.3 3.7l0.3 6.2l0.3 6.4l0.3 3.5l0.3 -1.1l0.3 -5.3l0.3 -7.3l0.3 -4.9l0.3 -7.4l0.3 -8.2l0.3 -4.8l0.2 0.5l0.3 5.7l0.3 7.8l0.3 -0.1l0.3 -12.1l0.3 -11.4l0.3 16.4l0.3 25.7l0.3 6.2l0.3 -7l0.3 -8.3l0.3 -5l0.3 -8l0.3 -6.5l0.3 -2.8l0.3 2l0.2 5.7l0.3 7l0.3 5.6l0.3 4.6l0.3 6.5l0.3 5.2l0.3 1.8l0.3 -2.1l0.3 -5l0.3 -6.3l0.3 -4.5l0.3 -4.4l0.3 -6l0.3 -4.5l0.3 -1.6l0.3 1.9l0.3 4.8l0.2 5.9l0.3 4l0.3 4.6l0.3 5.6l0.3 4.2l0.3 1l0.3 -2.5l0.3 -5l0.3 -5.6l0.3 -3.4l0.3 -5.2l0.3 -5.5l0.3 -3.3l0.3 0.1l0.3 3.6l0.3 5.7l0.3 5.1l0.2 3.9l0.3 6.1l0.3 4.8l0.3 1.6l0.3 -2.3l0.3 -5.5l0.3 -6l0.3 -3.8l0.3 -6.1l0.3 -5.8l0.3 -2.8l0.3 1.3l0.3 5.1l0.3 6.5l0.3 4.2l0.3 5.9l0.3 6.3l0.2 3.5l0.3 -0.7l0.3 -4.8l0.3 -6.6l0.3 -4.6l0.3 -5.7l0.3 -6.5l0.3 -4l0.3 0.4l0.3 4.7l0.3 6.7l0.3 4.9l0.3 5.6l0.3 6.7l0.3 4.1l0.3 -0.3l0.3 -4.7l0.2 -6.9l0.3 -4.9l0.3 -5.7l0.3 -6.6l0.3 -4.1l0.3 0.4l0.3 4.7l0.3 6.8l0.3 4.9l0.3 5.6l0.3 6.6l0.3 4l0.3 -0.5l0.3 -4.6l0.3 -6.7l0.3 -4.8l0.3 -5.5l0.2 -6.5l0.3 -3.8l0.3 0.5l0.3 4.5l0.3 6.5l0.3 4.6l0.3 5.1l0.3 6l0.3 3.6l0.3 -0.3l0.3 -4.2l0.3 -6l0.3 -4.4l0.3 -4.6l0.3 -5.6l0.3 -3.4l0.3 0.2l0.2 3.8l0.3 5.5l0.3 4.2l0.3 4.1l0.3 5.1l0.3 3.3l0.3 -0.1l0.3 -3.3l0.3 -5l0.3 -4.1l0.3 -3.5l0.3 -4.8l0.3 -3l0.3 -0.1l0.3 2.9l0.3 4.5l0.3 3.8l0.2 3.1l0.3 4.3l0.3 2.9l0.3 0.2l0.3 -2.4l0.3 -4.1l0.3 -3.5l0.3 -2.6l0.3 -3.6l0.3 -2.6l0.3 -0.4l0.3 2l0.3 3.3l0.3 3.1l0.3 1.9l0.3 3l0.2 2.3l0.3 0.6l0.3 -1.2l0.3 -2.5l0.3 -2.7l0.3 -1.6l0.3 -2.4l0.3 -2.2l0.3 -1.1l0.3 0.5l0.3 1.8l0.3 2.3l0.3 1.8l0.3 1.6l0.3 2.1l0.3 1.5l0.3 0.4l0.2 -0.8l0.3 -1.8l0.3 -2l0.3 -1.2l0.3 -1.7l0.3 -1.8l0.3 -1.3l0.3 -0.1l0.3 0.9l0.3 1.7l0.3 1.8l0.3 1.1l0.3 1.8l0.3 1.7l0.3 1l0.3 -0.2l0.3 -1.2l0.2 -1.9l0.3 -1.6l0.3 -1.3l0.3 -1.9l0.3 -1.4l0.3 -0.3l0.3 0.9l0.3 1.8l0.3 1.8l0.3 1.3l0.3 2l0.3 1.6l0.3 0.6l0.3 -0.8l0.3 -1.9l0.3 -1.9l0.3 -1.3l0.2 -2.1l0.3 -1.8l0.3 -0.6l0.3 0.8l0.3 2l0.3 2l0.3 1.4l0.3 2.2l0.3 1.8l0.3 0.5l0.3 -0.9l0.3 -2.1l0.3 -2.1l0.3 -1.4l0.3 -2.3l0.3 -1.7l0.3 -0.4l0.2 1.1l0.3 2.2l0.3 2l0.3 1.5l0.3 2.2l0.3 1.6l0.3 0.3l0.3 -1.3l0.3 -2.2l0.3 -1.9l0.3 -1.5l0.3 -2.3l0.3 -1.4l0.3 -0.1l0.3 1.4l0.3 2.2l0.3 1.7l0.2 1.7l0.3 2.1l0.3 1.4l0.3 -0.1l0.3 -1.4l0.3 -2.2l0.3 -1.6l0.3 -1.7l0.3 -2.1l0.3 -1.3l0.3 0.1l0.3 1.5l0.3 2.1l0.3 1.5l0.3 1.8l0.3 2.1l0.3 1.2l0.2 -0.1l0.3 -1.5l0.3 -2.1l0.3 -1.5l0.3 -1.8l0.3 -2l0.3 -1.2l0.3 0.1l0.3 1.5l0.3 2l0.3 1.5l0.3 1.7l0.3 2l0.3 1.3l0.3 -0.1l0.3 -1.4l0.3 -2l0.2 -1.5l0.3 -1.6l0.3 -2l0.3 -1.3l0.3 0l0.3 1.2l0.3 2l0.3 1.6l0.3 1.5l0.3 2l0.3 1.4l0.3 0.1l0.3 -1.1l0.3 -2l0.3 -1.7l0.3 -1.3l0.2 -2l0.3 -1.4l0.3 -0.2l0.3 1l0.3 1.8l0.3 1.7l0.3 1.2l0.3 1.9l0.3 1.4l0.3 0.4l0.3 -0.8l0.3 -1.7l0.3 -1.7l0.3 -1.1l0.3 -1.7l0.3 -1.5l0.3 -0.5l0.2 0.6l0.3 1.5l0.3 1.7l0.3 1l0.3 1.6l0.3 1.5l0.3 0.7l0.3 -0.4l0.3 -1.3l0.3 -1.7l0.3 -1l0.3 -1.4l0.3 -1.5l0.3 -0.8l0.3 0.2l0.3 1l0.3 1.5l0.2 1.2l0.3 1.1l0.3 1.4l0.3 1l0.3 0.1l0.3 -0.8l0.3 -1.3l0.3 -1.3l0.3 -0.9l0.3 -1.4l0.3 -1.1l0.3 -0.3l0.3 0.5l0.3 1.1l0.3 1.4l0.3 0.8l0.3 1.2l0.2 1.2l0.3 0.6l0.3 -0.2l0.3 -1l0.3 -1.3l0.3 -0.9l0.3 -1.1l0.3 -1.2l0.3 -0.8l0.3 0l0.3 0.8l0.3 1.3l0.3 1.1l0.3 1l0.3 1.3l0.3 0.8l0.3 0l0.2 -0.8l0.3 -1.4l0.3 -0.9l0.3 -1.2l0.3 -1.3l0.3 -0.7l0.3 0.2l0.3 1l0.3 1.4l0.3 0.9l0.3 1.3l0.3 1.2l0.3 0.5l0.3 -0.5l0.3 -1.3l0.3 -1.4l0.3 -0.9l0.2 -1.5l0.3 -1l0.3 -0.1l0.3 1l0.3 1.4l0.3 1.1l0.3 1.3l0.3 1.4l0.3 0.8l0.3 -0.3l0.3 -1.3l0.3 -1.5l0.3 -0.9l0.3 -1.6l0.3 -1.3l0.3 -0.5l0.3 0.6l0.2 1.4l0.3 1.5l0.3 1l0.3 1.6l0.3 1.3l0.3 0.3l0.3 -0.8l0.3 -1.6l0.3 -1.4l0.3 -1.1l0.3 -1.7l0.3 -1.1l0.3 -0.1l0.3 0.9l0.3 1.7l0.3 1.3l0.3 1.2l0.2 1.7l0.3 1l0.3 -0.1l0.3 -1.1l0.3 -1.7l0.3 -1.1l0.3 -1.4l0.3 -1.6l0.3 -0.8l0.3 0.3l0.3 1.3l0.3 1.6l0.3 0.9l0.3 1.4l0.3 1.2l0.3 0.2l0.2 -0.9l0.3 -1.5l0.3 -1.5l0.3 -0.6l0.3 -0.7l0.3 -0.1l0.3 1.1l0.3 2.1l0.3 2.2l0.3 1.2l0.3 1.1l0.3 0.2l0.3 -1.1l0.3 -2.4l0.3 -3.1l0.3 -2.3l0.3 -2.5l0.2 -1.5l0.3 0.2l0.3 1.8l0.3 2.3l0.3 2.3l0.3 3l0.3 2.3l0.3 1.3l0.3 0l0.3 -1.2l0.3 -1.1l0.3 -2l0.3 -2.4l0.3 -1.3l0.3 0.3" fill="none" stroke="#0000ff" stroke-width="0.85" stroke-linejoin="round"/>
<path d="M66.4 48.8l0.3 0l0.3 0l0.3 0l0.3 0l0.3 0l0.2 0l0.3 0l0.3 0l0.3 -0.1l0.3 0l0.3 0.1l0.3 0.1l0.3 0l0.3 -0.1l0.3 -0.1l0.3 0l0.3 0.1l0.3 0.1l0.3 0l0.3 -0.1l0.3 -0.1l0.3 -0.1l0.2 0.1l0.3 0.1l0.3 0.1l0.3 0.1l0.3 -0.1l0.3 -0.1l0.3 0l0.3 0l0.3 0l0.3 -0.1l0.3 -0.1l0.3 0l0.3 0.1l0.3 0.1l0.3 0.1l0.3 0.1l0.3 -0.1l0.2 -0.2l0.3 -0.1l0.3 -0.1l0.3 0.2l0.3 0.1l0.3 0.1l0.3 0.1l0.3 -0.2l0.3 -0.2l0.3 0.2l0.3 0.1l0.3 0.2l0.3 0l0.3 -0.1l0.3 -0.1l0.3 -0.1l0.3 -0.2l0.2 -0.2l0.3 0l0.3 0.1l0.3 0.3l0.3 0.2l0.3 0.1l0.3 0l0.3 -0.2l0.3 -0.1l0.3 0l0.3 -0.1l0.3 -0.1l0.3 -0.1l0.3 0.3l0.3 0.5l0.3 0.1l0.3 -0.8l0.2 -1.7l0.3 -0.7l0.3 1.6l0.3 1.9l0.3 3l0.3 0l0.3 -3.7l0.3 -3.4l0.3 1.7l0.3 7l0.3 5.3l0.3 -3l0.3 -6l0.3 -5.2l0.3 -1l0.3 2.8l0.3 2.2l0.2 2.4l0.3 -0.5l0.3 -4.5l0.3 0.7l0.3 1.9l0.3 2.6l0.3 0.6l0.3 -0.9l0.3 -0.1l0.3 -0.4l0.3 -2.1l0.3 -2.7l0.3 -2.6l0.3 1.4l0.3 3.3l0.3 2.5l0.3 2.5l0.2 -0.4l0.3 -2.8l0.3 -2.2l0.3 -2.8l0.3 -1.2l0.3 2.1l0.3 2.6l0.3 2.8l0.3 1.6l0.3 -1.8l0.3 -2.7l0.3 -2.9l0.3 -1.4l0.3 1.7l0.3 2.5l0.3 1.9l0.2 2.1l0.3 0.1l0.3 -2.3l0.3 -2l0.3 -2.2l0.3 0.1l0.3 2.2l0.3 0.6l0.3 -1.8l0.3 -1.1l0.3 1.7l0.3 1.7l0.3 0.1l0.3 -2.8l0.3 0.2l0.3 1.7l0.3 1.6l0.2 0.5l0.3 -1.7l0.3 -1l0.3 1.2l0.3 1.9l0.3 0.1l0.3 -1.6l0.3 -1l0.3 -0.2l0.3 0.1l0.3 -0.6l0.3 -1.1l0.3 -0.4l0.3 0.8l0.3 1.2l0.3 1l0.3 1.1l0.2 -0.1l0.3 -1.3l0.3 -0.9l0.3 0.7l0.3 1.1l0.3 0.5l0.3 -0.5l0.3 -1.1l0.3 -0.8l0.3 -1.1l0.3 -0.5l0.3 0l0.3 0.4l0.3 1.1l0.3 1.1l0.3 1.8l0.3 0.3l0.2 -1.7l0.3 -1.4l0.3 -1.4l0.3 0l0.3 1.4l0.3 1.3l0.3 -0.7l0.3 -1.5l0.3 0.2l0.3 1.5l0.3 2.1l0.3 -0.6l0.3 -1.8l0.3 -1.8l0.3 -0.9l0.3 1.2l0.3 1.5l0.2 1.1l0.3 0.4l0.3 0l0.3 -0.5l0.3 -1l0.3 -1.2l0.3 -0.7l0.3 0.7l0.3 1.2l0.3 1.3l0.3 1.1l0.3 -0.6l0.3 -1.7l0.3 -1.7l0.3 -0.8l0.3 2l0.3 1.8l0.2 -0.3l0.3 -1.6l0.3 -1.4l0.3 0.4l0.3 1.4l0.3 1l0.3 1l0.3 0.2l0.3 -0.4l0.3 -1.1l0.3 -0.8l0.3 -1l0.3 -0.9l0.3 -0.2l0.3 0.5l0.3 0.6l0.3 0.3l0.2 0.4l0.3 0.6l0.3 1.2l0.3 0.9l0.3 -0.8l0.3 -1.6l0.3 -1.7l0.3 0l0.3 1.6l0.3 1.2l0.3 1.2l0.3 -0.4l0.3 -1.5l0.3 -1l0.3 0.1l0.3 1.7l0.3 -0.4l0.2 -0.9l0.3 -0.7l0.3 0.1l0.3 0.5l0.3 -1.2l0.3 -0.3l0.3 1.3l0.3 1.2l0.3 1.3l0.3 -0.2l0.3 -1.5l0.3 -1.1l0.3 -1.1l0.3 0.3l0.3 1.3l0.3 0.4l0.2 0.1l0.3 0.2l0.3 0.6l0.3 0.4l0.3 -0.1l0.3 -0.3l0.3 -0.5l0.3 -0.5l0.3 -0.7l0.3 -0.6l0.3 0.4l0.3 1l0.3 1.2l0.3 0.7l0.3 -0.7l0.3 -1.2l0.3 -1.1l0.2 -0.7l0.3 0.6l0.3 1l0.3 0.5l0.3 0.4l0.3 -0.4l0.3 -0.4l0.3 0.3l0.3 0.3l0.3 0.3l0.3 0.2l0.3 -0.2l0.3 -0.7l0.3 -0.7l0.3 -0.5l0.3 0.3l0.3 0.7l0.2 0.3l0.3 0.4l0.3 0.2l0.3 -0.3l0.3 -0.5l0.3 -0.5l0.3 -0.3l0.3 0.8l0.3 0.6l0.3 -0.8l0.3 -0.9l0.3 0l0.3 0.8l0.3 0.4l0.3 -0.2l0.3 -0.3l0.3 0.5l0.2 1l0.3 0.6l0.3 -0.5l0.3 -1.2l0.3 -0.7l0.3 1.3l0.3 0.6l0.3 -0.9l0.3 -1l0.3 -1l0.3 0.5l0.3 1.2l0.3 1.4l0.3 0.1l0.3 -1.5l0.3 -1.4l0.3 -0.1l0.2 1.3l0.3 1.3l0.3 0.6l0.3 -1.1l0.3 -1.3l0.3 -1l0.3 1.1l0.3 0.9l0.3 0.6l0.3 -0.1l0.3 0l0.3 -0.1l0.3 -0.7l0.3 -0.7l0.3 -0.4l0.3 0.4l0.3 0.6l0.2 0.4l0.3 0.4l0.3 0.3l0.3 -0.3l0.3 -0.8l0.3 -1l0.3 0l0.3 1l0.3 1.1l0.3 0.3l0.3 -1.2l0.3 -1l0.3 0.7l0.3 1l0.3 0.7l0.3 -0.6l0.3 -0.9l0.2 -0.9l0.3 -0.8l0.3 0.2l0.3 1l0.3 0.9l0.3 1l0.3 0.3l0.3 -0.3l0.3 -0.4l0.3 -0.1l0.3 -0.5l0.3 -0.5l0.3 -0.9l0.3 -0.7l0.3 0.2l0.3 1l0.3 0.8l0.2 1l0.3 -0.2l0.3 -0.6l0.3 -0.1l0.3 0.6l0.3 -0.3l0.3 -0.9l0.3 -1.2l0.3 0.3l0.3 1.1l0.3 0.7l0.3 0.4l0.3 -0.1l0.3 -0.6l0.3 -0.8l0.3 -0.5l0.2 0.9l0.3 1.1l0.3 0l0.3 -1.1l0.3 -0.8l0.3 -0.2l0.3 0.3l0.3 -0.1l0.3 0.3l0.3 0.6l0.3 0.9l0.3 -0.2l0.3 -0.5l0.3 0.3l0.3 -0.1l0.3 -0.6l0.3 -1l0.2 -0.6l0.3 0.7l0.3 1l0.3 0.6l0.3 0.6l0.3 -0.2l0.3 -0.8l0.3 -0.8l0.3 -0.3l0.3 0.9l0.3 1l0.3 -0.2l0.3 -0.9l0.3 -1l0.3 0.3l0.3 0.8l0.3 -0.4l0.2 -0.7l0.3 0.4l0.3 0.9l0.3 1.1l0.3 0.2l0.3 -0.8l0.3 -0.7l0.3 -0.6l0.3 -0.1l0.3 0.9l0.3 0.9l0.3 -0.2l0.3 -0.9l0.3 -0.9l0.3 -0.1l0.3 0.3l0.3 0.1l0.2 -0.5l0.3 0.6l0.3 1.1l0.3 0.9l0.3 -0.9l0.3 -1l0.3 -1l0.3 0.7l0.3 0.9l0.3 0.6l0.3 -1.2l0.3 -0.4l0.3 0.7l0.3 0.7l0.3 0.2l0.3 -0.7l0.3 -0.8l0.2 -0.1l0.3 0.1l0.3 0.3l0.3 0.3l0.3 0.3l0.3 0.7l0.3 0.4l0.3 -0.5l0.3 -0.8l0.3 -0.8l0.3 0.2l0.3 0.9l0.3 1l0.3 -0.2l0.3 -1l0.3 -0.7l0.3 -0.3l0.2 0.8l0.3 0l0.3 -1.2l0.3 -0.5l0.3 0.9l0.3 0.9l0.3 1.2l0.3 0.4l0.3 -1l0.3 -1l0.3 -0.7l0.3 0.7l0.3 0.8l0.3 1.2l0.3 -0.2l0.3 -1.3l0.3 -1.1l0.2 0l0.3 1.3l0.3 0.9l0.3 -1.2l0.3 -1.2l0.3 0l0.3 1.2l0.3 1l0.3 0l0.3 -0.8l0.3 -0.2l0.3 0.8l0.3 0.3l0.3 -0.8l0.3 -0.8l0.3 -0.9l0.3 -0.1l0.2 0.4l0.3 0.6l0.3 0.6l0.3 1.1l0.3 0.5l0.3 -0.9l0.3 -0.9l0.3 -1.2l0.3 -0.5l0.3 0.8l0.3 1l0.3 0.9l0.3 0.5l0.3 -0.6l0.3 -0.9l0.3 -0.9l0.2 0.2l0.3 0.9l0.3 0.9l0.3 -0.3l0.3 -0.5l0.3 0l0.3 -0.2l0.3 -0.6l0.3 -0.9l0.3 0.3l0.3 1.2l0.3 0.9l0.3 0.6l0.3 -0.7l0.3 -0.8l0.3 -0.7l0.3 -0.4l0.2 0.3l0.3 0.5l0.3 0.5l0.3 0.7l0.3 -0.1l0.3 -0.8l0.3 -0.9l0.3 0.2l0.3 0.7l0.3 0.5l0.3 -0.1l0.3 -0.1l0.3 0.6l0.3 0.3l0.3 -0.8" fill="none" stroke="#ff0000" stroke-width="0.8" stroke-linejoin="round"/>
</g>
<g clip-path="url(#c10)">
<path d="M284.2 91.3l0.3 0l0.3 0l0.3 0l0.3 0l0.3 0l0.2 0l0.3 0l0.3 0l0.3 0l0.3 0l0.3 0l0.3 0l0.3 0l0.3 0l0.3 0l0.3 0l0.3 0l0.3 0l0.2 0l0.3 0l0.3 0l0.3 0l0.3 0l0.3 0l0.3 0l0.3 0l0.3 0l0.3 0l0.3 0l0.3 0l0.3 0l0.2 0l0.3 0l0.3 0l0.3 0l0.3 0l0.3 0l0.3 0l0.3 0l0.3 0l0.3 0l0.3 0l0.3 0l0.3 0l0.2 0l0.3 0l0.3 0l0.3 0l0.3 0l0.3 0l0.3 0l0.3 0l0.3 0l0.3 0l0.3 0l0.3 0l0.3 0l0.3 0l0.2 0l0.3 0l0.3 0l0.3 0l0.3 0l0.3 0l0.3 0l0.3 0l0.3 0l0.3 0l0.3 0l0.3 0l0.3 0l0.2 0l0.3 0l0.3 0l0.3 0l0.3 0l0.3 0l0.3 0l0.3 -0.1l0.3 -0.1l0.3 -0.1l0.3 -0.1l0.3 -0.1l0.3 -0.1l0.2 0l0.3 0.1l0.3 0.2l0.3 0.3l0.3 0.3l0.3 0.4l0.3 0.4l0.3 0.3l0.3 0.2l0.3 0l0.3 -0.1l0.3 -0.4l0.3 -0.5l0.2 -0.6l0.3 -0.7l0.3 -0.6l0.3 -0.4l0.3 -0.3l0.3 -0.1l0.3 0.2l0.3 0.3l0.3 0.5l0.3 0.5l0.3 0.6l0.3 0.4l0.3 0.3l0.3 0.2l0.2 0l0.3 0l0.3 -0.2l0.3 -0.2l0.3 -0.2l0.3 -0.2l0.3 -0.1l0.3 -0.1l0.3 -0.1l0.3 0l0.3 0l0.3 0l0.3 0l0.2 0.1l0.3 0l0.3 0l0.3 0.1l0.3 0l0.3 0l0.3 0l0.3 0l0.3 0l0.3 0l0.3 0l0.3 0l0.3 0l0.2 0l0.3 0l0.3 0l0.3 0l0.3 0l0.3 0l0.3 0l0.3 0l0.3 0l0.3 0l0.3 0l0.3 0l0.3 0l0.2 0l0.3 0l0.3 0l0.3 0l0.3 0l0.3 0l0.3 0l0.3 0l0.3 0l0.3 0l0.3 0l0.3 0l0.3 0l0.3 0l0.2 0l0.3 0l0.3 0l0.3 0l0.3 0l0.3 0l0.3 0l0.3 0l0.3 0l0.3 0l0.3 0l0.3 0l0.3 0l0.2 0l0.3 0l0.3 0l0.3 0l0.3 0l0.3 0l0.3 0l0.3 0l0.3 0l0.3 0l0.3 0l0.3 0l0.3 0l0.2 0l0.3 0l0.3 0l0.3 0l0.3 0l0.3 0l0.3 0l0.3 0l0.3 0l0.3 0l0.3 0l0.3 0l0.3 0l0.2 0l0.3 0l0.3 0l0.3 0l0.3 0l0.3 0l0.3 0l0.3 0l0.3 0l0.3 0l0.3 0l0.3 0l0.3 0l0.3 0l0.2 0l0.3 0l0.3 0l0.3 0l0.3 0l0.3 0l0.3 0l0.3 0l0.3 0l0.3 0l0.3 0l0.3 0l0.3 0l0.2 0l0.3 0l0.3 0l0.3 0l0.3 0l0.3 0l0.3 0l0.3 0l0.3 0l0.3 0l0.3 0l0.3 0l0.3 0l0.2 0l0.3 0l0.3 0l0.3 0l0.3 0l0.3 0l0.3 0l0.3 0l0.3 0l0.3 0l0.3 0l0.3 0l0.3 0l0.2 0l0.3 0l0.3 0l0.3 0l0.3 0l0.3 0l0.3 0l0.3 0l0.3 0l0.3 0l0.3 0l0.3 0l0.3 0l0.3 0l0.2 0l0.3 0l0.3 0l0.3 0l0.3 0l0.3 0l0.3 0l0.3 0l0.3 0l0.3 0l0.3 0l0.3 0l0.3 0l0.2 0l0.3 0l0.3 0l0.3 0l0.3 0l0.3 0l0.3 0l0.3 0l0.3 0l0.3 0l0.3 0l0.3 0l0.3 0l0.2 0l0.3 0l0.3 0l0.3 0l0.3 0l0.3 0l0.3 0l0.3 0l0.3 0l0.3 0l0.3 0l0.3 0l0.3 0l0.2 0l0.3 0l0.3 0l0.3 0l0.3 0l0.3 0l0.3 0l0.3 0l0.3 0l0.3 0l0.3 0l0.3 0l0.3 0l0.3 0l0.2 0l0.3 0l0.3 0l0.3 0l0.3 0l0.3 0l0.3 0l0.3 0l0.3 0l0.3 0l0.3 0l0.3 0l0.3 0l0.2 0l0.3 0l0.3 0l0.3 0l0.3 0l0.3 0l0.3 0l0.3 0l0.3 0l0.3 0l0.3 0l0.3 0l0.3 0l0.2 0l0.3 0l0.3 0l0.3 0l0.3 0l0.3 0l0.3 0l0.3 0l0.3 0l0.3 0l0.3 0l0.3 0l0.3 0l0.2 0l0.3 0l0.3 0l0.3 0l0.3 0l0.3 0l0.3 0l0.3 0l0.3 0l0.3 0l0.3 0l0.3 0l0.3 0l0.3 0l0.2 0l0.3 0l0.3 0l0.3 0l0.3 0l0.3 0l0.3 0l0.3 0l0.3 0l0.3 0l0.3 0l0.3 0l0.3 0l0.2 0l0.3 0l0.3 0l0.3 0l0.3 0l0.3 0l0.3 0l0.3 0l0.3 0l0.3 0l0.3 0l0.3 0l0.3 0l0.2 0l0.3 0l0.3 0l0.3 0l0.3 0l0.3 0l0.3 0l0.3 0l0.3 0l0.3 0l0.3 0l0.3 0l0.3 0l0.2 0l0.3 0l0.3 0l0.3 0l0.3 0l0.3 0l0.3 0l0.3 0l0.3 0l0.3 0l0.3 0l0.3 0l0.3 0l0.3 0l0.2 0l0.3 0l0.3 0l0.3 0l0.3 0l0.3 0l0.3 0l0.3 0l0.3 0l0.3 0l0.3 0l0.3 0l0.3 0l0.2 0l0.3 0l0.3 0l0.3 0l0.3 0l0.3 0l0.3 0l0.3 0l0.3 0l0.3 0l0.3 0l0.3 0l0.3 0l0.2 0l0.3 0l0.3 0l0.3 0l0.3 0l0.3 0l0.3 0l0.3 0l0.3 0l0.3 0l0.3 0l0.3 0l0.3 0l0.2 0l0.3 0l0.3 0l0.3 0l0.3 0l0.3 0l0.3 0l0.3 0l0.3 0l0.3 0l0.3 0l0.3 0l0.3 0l0.3 0l0.2 0l0.3 0l0.3 0l0.3 0l0.3 0l0.3 0l0.3 0l0.3 0l0.3 0l0.3 0l0.3 0l0.3 0l0.3 0l0.2 0l0.3 0l0.3 0l0.3 0l0.3 0l0.3 0l0.3 0l0.3 0l0.3 0l0.3 0l0.3 0l0.3 0l0.3 0l0.2 0l0.3 0l0.3 0l0.3 0l0.3 0l0.3 0l0.3 0l0.3 0l0.3 0l0.3 0l0.3 0l0.3 0l0.3 0l0.2 0l0.3 0l0.3 0l0.3 0l0.3 0l0.3 0l0.3 0l0.3 0l0.3 0l0.3 0l0.3 0l0.3 0l0.3 0l0.3 0l0.2 0l0.3 0l0.3 0l0.3 0l0.3 0l0.3 0l0.3 0l0.3 0l0.3 0l0.3 0l0.3 0l0.3 0l0.3 0l0.2 0l0.3 0l0.3 0l0.3 0l0.3 0l0.3 0l0.3 0l0.3 0l0.3 0l0.3 0l0.3 0l0.3 0" fill="none" stroke="#000000" stroke-width="0.65" stroke-linejoin="round" opacity="0.5"/>
<path d="M284.2 91.3l0.3 0l0.3 0l0.3 0l0.3 0l0.3 0l0.2 0l0.3 0l0.3 0l0.3 0l0.3 0l0.3 0l0.3 0l0.3 0l0.3 0l0.3 0l0.3 0l0.3 0l0.3 0l0.2 0l0.3 0l0.3 0l0.3 0l0.3 0l0.3 0l0.3 0l0.3 0l0.3 0l0.3 0l0.3 0l0.3 0l0.3 0l0.2 0l0.3 0l0.3 0l0.3 0l0.3 0l0.3 0l0.3 0l0.3 0l0.3 0l0.3 0l0.3 0l0.3 0l0.3 0l0.2 0l0.3 0l0.3 0l0.3 0l0.3 0l0.3 0l0.3 0l0.3 0l0.3 0l0.3 0l0.3 0l0.3 0l0.3 0l0.3 0l0.2 0l0.3 0l0.3 0l0.3 0l0.3 0l0.3 0l0.3 0l0.3 0l0.3 0l0.3 0l0.3 -0.1l0.3 0l0.3 0l0.2 0l0.3 -0.1l0.3 0l0.3 0l0.3 0l0.3 0.1l0.3 0.1l0.3 0.1l0.3 0.2l0.3 0.2l0.3 0.3l0.3 0.2l0.3 0.1l0.2 0l0.3 -0.2l0.3 -0.4l0.3 -0.5l0.3 -0.8l0.3 -0.8l0.3 -0.7l0.3 -0.7l0.3 -0.4l0.3 0l0.3 0.3l0.3 0.8l0.3 1l0.2 1.3l0.3 1.3l0.3 1.2l0.3 0.9l0.3 0.5l0.3 0.1l0.3 -0.3l0.3 -0.7l0.3 -1l0.3 -1l0.3 -1l0.3 -0.9l0.3 -0.7l0.3 -0.3l0.2 -0.1l0.3 0.1l0.3 0.3l0.3 0.4l0.3 0.5l0.3 0.4l0.3 0.3l0.3 0.2l0.3 0.1l0.3 0l0.3 0l0.3 0l0.3 -0.1l0.2 -0.1l0.3 -0.1l0.3 0l0.3 0l0.3 -0.1l0.3 0l0.3 0l0.3 0l0.3 0l0.3 0l0.3 0.1l0.3 0l0.3 0l0.2 0l0.3 0l0.3 0l0.3 0l0.3 0l0.3 0l0.3 0l0.3 0l0.3 0l0.3 0l0.3 0l0.3 0l0.3 0l0.2 0l0.3 0l0.3 0l0.3 0l0.3 0l0.3 0l0.3 0l0.3 0l0.3 0l0.3 0l0.3 0l0.3 0l0.3 0l0.3 0l0.2 0l0.3 0l0.3 0l0.3 0l0.3 0l0.3 0l0.3 0l0.3 0l0.3 0l0.3 0l0.3 0l0.3 0l0.3 0l0.2 0l0.3 0l0.3 0l0.3 0l0.3 0l0.3 0l0.3 0l0.3 0l0.3 0l0.3 0l0.3 0l0.3 0l0.3 0l0.2 0l0.3 0l0.3 0l0.3 0l0.3 0l0.3 0l0.3 0l0.3 0l0.3 0l0.3 0l0.3 0l0.3 0l0.3 0l0.2 0l0.3 0l0.3 0l0.3 0l0.3 0l0.3 0l0.3 0l0.3 0l0.3 0l0.3 0l0.3 0l0.3 0l0.3 0l0.3 0l0.2 0l0.3 0l0.3 0l0.3 0l0.3 0l0.3 0l0.3 0l0.3 0l0.3 0l0.3 0l0.3 0l0.3 0l0.3 0l0.2 0l0.3 0l0.3 0l0.3 0l0.3 0l0.3 0l0.3 0l0.3 0l0.3 0l0.3 0l0.3 0l0.3 0l0.3 0l0.2 0l0.3 0l0.3 0l0.3 0l0.3 0l0.3 0l0.3 0l0.3 0l0.3 0l0.3 0l0.3 0l0.3 0l0.3 0l0.2 0l0.3 0l0.3 0l0.3 0l0.3 0l0.3 0l0.3 0l0.3 0l0.3 0l0.3 0l0.3 0l0.3 0l0.3 0l0.3 0l0.2 0l0.3 0l0.3 0l0.3 0l0.3 0l0.3 0l0.3 0l0.3 0l0.3 0l0.3 0l0.3 0l0.3 0l0.3 0l0.2 0l0.3 0l0.3 0l0.3 0l0.3 0l0.3 0l0.3 0l0.3 0l0.3 0l0.3 0l0.3 0l0.3 0l0.3 0l0.2 0l0.3 0l0.3 0l0.3 0l0.3 0l0.3 0l0.3 0l0.3 0l0.3 0l0.3 0l0.3 0l0.3 0l0.3 0l0.2 0l0.3 0l0.3 0l0.3 0l0.3 0l0.3 0l0.3 0l0.3 0l0.3 0l0.3 0l0.3 0l0.3 0l0.3 0l0.3 0l0.2 0l0.3 0l0.3 0l0.3 0l0.3 0l0.3 0l0.3 0l0.3 0l0.3 0l0.3 0l0.3 0l0.3 0l0.3 0l0.2 0l0.3 0l0.3 0l0.3 0l0.3 0l0.3 0l0.3 0l0.3 0l0.3 0l0.3 0l0.3 0l0.3 0l0.3 0l0.2 0l0.3 0l0.3 0l0.3 0l0.3 0l0.3 0l0.3 0l0.3 0l0.3 0l0.3 0l0.3 0l0.3 0l0.3 0l0.2 0l0.3 0l0.3 0l0.3 0l0.3 0l0.3 0l0.3 0l0.3 0l0.3 0l0.3 0l0.3 0l0.3 0l0.3 0l0.3 0l0.2 0l0.3 0l0.3 0l0.3 0l0.3 0l0.3 0l0.3 0l0.3 0l0.3 0l0.3 0l0.3 0l0.3 0l0.3 0l0.2 0l0.3 0l0.3 0l0.3 0l0.3 0l0.3 0l0.3 0l0.3 0l0.3 0l0.3 0l0.3 0l0.3 0l0.3 0l0.2 0l0.3 0l0.3 0l0.3 0l0.3 0l0.3 0l0.3 0l0.3 0l0.3 0l0.3 0l0.3 0l0.3 0l0.3 0l0.2 0l0.3 0l0.3 0l0.3 0l0.3 0l0.3 0l0.3 0l0.3 0l0.3 0l0.3 0l0.3 0l0.3 0l0.3 0l0.3 0l0.2 0l0.3 0l0.3 0l0.3 0l0.3 0l0.3 0l0.3 0l0.3 0l0.3 0l0.3 0l0.3 0l0.3 0l0.3 0l0.2 0l0.3 0l0.3 0l0.3 0l0.3 0l0.3 0l0.3 0l0.3 0l0.3 0l0.3 0l0.3 0l0.3 0l0.3 0l0.2 0l0.3 0l0.3 0l0.3 0l0.3 0l0.3 0l0.3 0l0.3 0l0.3 0l0.3 0l0.3 0l0.3 0l0.3 0l0.2 0l0.3 0l0.3 0l0.3 0l0.3 0l0.3 0l0.3 0l0.3 0l0.3 0l0.3 0l0.3 0l0.3 0l0.3 0l0.3 0l0.2 0l0.3 0l0.3 0l0.3 0l0.3 0l0.3 0l0.3 0l0.3 0l0.3 0l0.3 0l0.3 0l0.3 0l0.3 0l0.2 0l0.3 0l0.3 0l0.3 0l0.3 0l0.3 0l0.3 0l0.3 0l0.3 0l0.3 0l0.3 0l0.3 0l0.3 0l0.2 0l0.3 0l0.3 0l0.3 0l0.3 0l0.3 0l0.3 0l0.3 0l0.3 0l0.3 0l0.3 0l0.3 0l0.3 0l0.2 0l0.3 0l0.3 0l0.3 0l0.3 0l0.3 0l0.3 0l0.3 0l0.3 0l0.3 0l0.3 0l0.3 0l0.3 0l0.3 0l0.2 0l0.3 0l0.3 0l0.3 0l0.3 0l0.3 0l0.3 0l0.3 0l0.3 0l0.3 0l0.3 0l0.3 0l0.3 0l0.2 0l0.3 0l0.3 0l0.3 0l0.3 0l0.3 0l0.3 0l0.3 0l0.3 0l0.3 0l0.3 0l0.3 0" fill="none" stroke="#0000ff" stroke-width="0.65" stroke-linejoin="round" opacity="0.45"/>
<path d="M284.2 91.3l0.3 0l0.3 0l0.3 0l0.3 0l0.3 0l0.2 0l0.3 0l0.3 0l0.3 0l0.3 0l0.3 0l0.3 0l0.3 0l0.3 0l0.3 0l0.3 0l0.3 0l0.3 0l0.2 0l0.3 0l0.3 0l0.3 0l0.3 0l0.3 0l0.3 0l0.3 0l0.3 0l0.3 0l0.3 0l0.3 0l0.3 0l0.2 0l0.3 0l0.3 0l0.3 0l0.3 0l0.3 0l0.3 0l0.3 0l0.3 0l0.3 0l0.3 0l0.3 0l0.3 0l0.2 0l0.3 0l0.3 0l0.3 0l0.3 0l0.3 0l0.3 0l0.3 0l0.3 0l0.3 0l0.3 0l0.3 0l0.3 0l0.3 0l0.2 0l0.3 0l0.3 0l0.3 0l0.3 0l0.3 0l0.3 0l0.3 0l0.3 0l0.3 0l0.3 0l0.3 0l0.3 0l0.2 0l0.3 0l0.3 0l0.3 0.1l0.3 0l0.3 0l0.3 0l0.3 -0.1l0.3 0l0.3 -0.1l0.3 -0.2l0.3 -0.1l0.3 -0.2l0.2 -0.1l0.3 -0.1l0.3 -0.1l0.3 0l0.3 0l0.3 0.2l0.3 0.3l0.3 0.4l0.3 0.4l0.3 0.4l0.3 0.5l0.3 0.4l0.3 0.2l0.2 0.1l0.3 0l0.3 -0.2l0.3 -0.3l0.3 -0.5l0.3 -0.5l0.3 -0.5l0.3 -0.5l0.3 -0.4l0.3 -0.3l0.3 -0.2l0.3 0l0.3 0.1l0.3 0.1l0.2 0.3l0.3 0.2l0.3 0.3l0.3 0.2l0.3 0.2l0.3 0.1l0.3 0.1l0.3 0l0.3 0l0.3 0l0.3 -0.1l0.3 0l0.3 0l0.2 -0.1l0.3 0l0.3 0l0.3 0l0.3 0l0.3 -0.1l0.3 0l0.3 0l0.3 0.1l0.3 0l0.3 0l0.3 0l0.3 0l0.2 0l0.3 0l0.3 0l0.3 0l0.3 0l0.3 0l0.3 0l0.3 0l0.3 0l0.3 0l0.3 0l0.3 0l0.3 0l0.2 0l0.3 0l0.3 0l0.3 0l0.3 0l0.3 0l0.3 0l0.3 0l0.3 0l0.3 0l0.3 0l0.3 0l0.3 0l0.3 0l0.2 0l0.3 0l0.3 0l0.3 0l0.3 0l0.3 0l0.3 0l0.3 0l0.3 0l0.3 0l0.3 0l0.3 0l0.3 0l0.2 0l0.3 0l0.3 0l0.3 0l0.3 0l0.3 0l0.3 0l0.3 0l0.3 0l0.3 0l0.3 0l0.3 0l0.3 0l0.2 0l0.3 0l0.3 0l0.3 0l0.3 0l0.3 0l0.3 0l0.3 0l0.3 0l0.3 0l0.3 0l0.3 0l0.3 0l0.2 0l0.3 0l0.3 0l0.3 0l0.3 0l0.3 0l0.3 0l0.3 0l0.3 0l0.3 0l0.3 0l0.3 0l0.3 0l0.3 0l0.2 0l0.3 0l0.3 0l0.3 0l0.3 0l0.3 0l0.3 0l0.3 0l0.3 0l0.3 0l0.3 0l0.3 0l0.3 0l0.2 0l0.3 0l0.3 0l0.3 0l0.3 0l0.3 0l0.3 0l0.3 0l0.3 0l0.3 0l0.3 0l0.3 0l0.3 0l0.2 0l0.3 0l0.3 0l0.3 0l0.3 0l0.3 0l0.3 0l0.3 0l0.3 0l0.3 0l0.3 0l0.3 0l0.3 0l0.2 0l0.3 0l0.3 0l0.3 0l0.3 0l0.3 0l0.3 0l0.3 0l0.3 0l0.3 0l0.3 0l0.3 0l0.3 0l0.3 0l0.2 0l0.3 0l0.3 0l0.3 0l0.3 0l0.3 0l0.3 0l0.3 0l0.3 0l0.3 0l0.3 0l0.3 0l0.3 0l0.2 0l0.3 0l0.3 0l0.3 0l0.3 0l0.3 0l0.3 0l0.3 0l0.3 0l0.3 0l0.3 0l0.3 0l0.3 0l0.2 0l0.3 0l0.3 0l0.3 0l0.3 0l0.3 0l0.3 0l0.3 0l0.3 0l0.3 0l0.3 0l0.3 0l0.3 0l0.2 0l0.3 0l0.3 0l0.3 0l0.3 0l0.3 0l0.3 0l0.3 0l0.3 0l0.3 0l0.3 0l0.3 0l0.3 0l0.3 0l0.2 0l0.3 0l0.3 0l0.3 0l0.3 0l0.3 0l0.3 0l0.3 0l0.3 0l0.3 0l0.3 0l0.3 0l0.3 0l0.2 0l0.3 0l0.3 0l0.3 0l0.3 0l0.3 0l0.3 0l0.3 0l0.3 0l0.3 0l0.3 0l0.3 0l0.3 0l0.2 0l0.3 0l0.3 0l0.3 0l0.3 0l0.3 0l0.3 0l0.3 0l0.3 0l0.3 0l0.3 0l0.3 0l0.3 0l0.2 0l0.3 0l0.3 0l0.3 0l0.3 0l0.3 0l0.3 0l0.3 0l0.3 0l0.3 0l0.3 0l0.3 0l0.3 0l0.3 0l0.2 0l0.3 0l0.3 0l0.3 0l0.3 0l0.3 0l0.3 0l0.3 0l0.3 0l0.3 0l0.3 0l0.3 0l0.3 0l0.2 0l0.3 0l0.3 0l0.3 0l0.3 0l0.3 0l0.3 0l0.3 0l0.3 0l0.3 0l0.3 0l0.3 0l0.3 0l0.2 0l0.3 0l0.3 0l0.3 0l0.3 0l0.3 0l0.3 0l0.3 0l0.3 0l0.3 0l0.3 0l0.3 0l0.3 0l0.2 0l0.3 0l0.3 0l0.3 0l0.3 0l0.3 0l0.3 0l0.3 0l0.3 0l0.3 0l0.3 0l0.3 0l0.3 0l0.3 0l0.2 0l0.3 0l0.3 0l0.3 0l0.3 0l0.3 0l0.3 0l0.3 0l0.3 0l0.3 0l0.3 0l0.3 0l0.3 0l0.2 0l0.3 0l0.3 0l0.3 0l0.3 0l0.3 0l0.3 0l0.3 0l0.3 0l0.3 0l0.3 0l0.3 0l0.3 0l0.2 0l0.3 0l0.3 0l0.3 0l0.3 0l0.3 0l0.3 0l0.3 0l0.3 0l0.3 0l0.3 0l0.3 0l0.3 0l0.2 0l0.3 0l0.3 0l0.3 0l0.3 0l0.3 0l0.3 0l0.3 0l0.3 0l0.3 0l0.3 0l0.3 0l0.3 0l0.3 0l0.2 0l0.3 0l0.3 0l0.3 0l0.3 0l0.3 0l0.3 0l0.3 0l0.3 0l0.3 0l0.3 0l0.3 0l0.3 0l0.2 0l0.3 0l0.3 0l0.3 0l0.3 0l0.3 0l0.3 0l0.3 0l0.3 0l0.3 0l0.3 0l0.3 0l0.3 0l0.2 0l0.3 0l0.3 0l0.3 0l0.3 0l0.3 0l0.3 0l0.3 0l0.3 0l0.3 0l0.3 0l0.3 0l0.3 0l0.2 0l0.3 0l0.3 0l0.3 0l0.3 0l0.3 0l0.3 0l0.3 0l0.3 0l0.3 0l0.3 0l0.3 0l0.3 0l0.3 0l0.2 0l0.3 0l0.3 0l0.3 0l0.3 0l0.3 0l0.3 0l0.3 0l0.3 0l0.3 0l0.3 0l0.3 0l0.3 0l0.2 0l0.3 0l0.3 0l0.3 0l0.3 0l0.3 0l0.3 0l0.3 0l0.3 0l0.3 0l0.3 0l0.3 0" fill="none" stroke="#ff0000" stroke-width="0.65" stroke-linejoin="round" opacity="0.45"/>
<path d="M284.2 48.8l0.3 0l0.3 0l0.3 0l0.3 0l0.3 0l0.2 0l0.3 0l0.3 0l0.3 0l0.3 0l0.3 0l0.3 0l0.3 0l0.3 0l0.3 0l0.3 0l0.3 0l0.3 0l0.2 0l0.3 0l0.3 0l0.3 0l0.3 0l0.3 0l0.3 0l0.3 0l0.3 0l0.3 0l0.3 0l0.3 0l0.3 0l0.2 0l0.3 0l0.3 0l0.3 0l0.3 0l0.3 0l0.3 0l0.3 0l0.3 0l0.3 0l0.3 0l0.3 0l0.3 0l0.2 0l0.3 0l0.3 0l0.3 0l0.3 0l0.3 0l0.3 0l0.3 0l0.3 0l0.3 0l0.3 0l0.3 0l0.3 0l0.3 0l0.2 0l0.3 0l0.3 0l0.3 0l0.3 0l0.3 0l0.3 0l0.3 0l0.3 0.8l0.3 1l0.3 0.8l0.3 -0.3l0.3 -1.3l0.2 -1.2l0.3 -1.9l0.3 -1.8l0.3 -0.8l0.3 0.3l0.3 1.4l0.3 1.7l0.3 1.2l0.3 0.9l0.3 1.7l0.3 1.8l0.3 0.9l0.3 -0.5l0.2 -1.8l0.3 -2.4l0.3 -1.8l0.3 -3.3l0.3 -3.4l0.3 -1.9l0.3 0.3l0.3 2.9l0.3 4.5l0.3 3.3l0.3 5.7l0.3 6.6l0.3 4.3l0.2 0l0.3 -4.7l0.3 -7.6l0.3 -5.7l0.3 -7l0.3 -8.1l0.3 -5.2l0.3 -0.1l0.3 5l0.3 8.1l0.3 7.1l0.3 5.5l0.3 7.9l0.3 5.6l0.2 1.1l0.3 -3.8l0.3 -7.1l0.3 -7l0.3 -4.2l0.3 -6.7l0.3 -5.5l0.3 -1.8l0.3 2.3l0.3 5.3l0.3 6l0.3 3.5l0.3 4.5l0.2 4.4l0.3 2.3l0.3 -0.7l0.3 -3.1l0.3 -4.4l0.3 -3.4l0.3 -2.7l0.3 -7.2l0.3 -14.3l0.3 -9.1l0.3 10.5l0.3 18.8l0.3 18.7l0.2 10.6l0.3 -6.9l0.3 -10l0.3 -2.5l0.3 0.3l0.3 -0.5l0.3 -1.7l0.3 -2.4l0.3 -1.8l0.3 -2.2l0.3 -3.1l0.3 -2.3l0.3 -0.7l0.2 1.1l0.3 2.4l0.3 3l0.3 1.9l0.3 2.4l0.3 2.8l0.3 1.8l0.3 0l0.3 -1.7l0.3 -2.8l0.3 -2.4l0.3 -1.9l0.3 -2.7l0.3 -1.9l0.2 -0.2l0.3 1.5l0.3 2.6l0.3 2.2l0.3 1.7l0.3 2.4l0.3 1.8l0.3 0.2l0.3 -1.3l0.3 -2.4l0.3 -2.1l0.3 -1.8l0.3 -2.5l0.2 -1.7l0.3 -0.1l0.3 1.4l0.3 2.5l0.3 2l0.3 1.8l0.3 2.5l0.3 1.7l0.3 0.1l0.3 -1.5l0.3 -2.4l0.3 -2.1l0.3 -1.7l0.2 -2.5l0.3 -1.6l0.3 -0.1l0.3 1.4l0.3 2.4l0.3 2l0.3 1.7l0.3 2.3l0.3 1.5l0.3 0.2l0.3 -1.4l0.3 -2.2l0.3 -1.9l0.2 -1.6l0.3 -2.2l0.3 -1.4l0.3 -0.1l0.3 1.3l0.3 2.1l0.3 1.7l0.3 1.5l0.3 2.1l0.3 1.2l0.3 0l0.3 -1.4l0.3 -2l0.3 -1.4l0.2 -1.6l0.3 -1.8l0.3 -0.9l0.3 0.5l0.3 1.5l0.3 1.9l0.3 1.1l0.3 1.8l0.3 1.4l0.3 0l0.3 -1.2l0.3 -1.8l0.3 -1.1l0.2 -1.8l0.3 -1.4l0.3 -0.3l0.3 1l0.3 1.7l0.3 1.2l0.3 1.5l0.3 1.5l0.3 0.7l0.3 -0.6l0.3 -1.4l0.3 -1.5l0.3 -1l0.2 -1.6l0.3 -1.2l0.3 -0.3l0.3 0.7l0.3 1.4l0.3 1.4l0.3 1l0.3 1.5l0.3 1.2l0.3 0.4l0.3 -0.6l0.3 -1.3l0.3 -1.4l0.2 -0.9l0.3 -1.3l0.3 -1.3l0.3 -0.6l0.3 0.1l0.3 1l0.3 1.3l0.3 1.1l0.3 0.9l0.3 1.4l0.3 1l0.3 0.4l0.3 -0.4l0.3 -1.1l0.2 -1.3l0.3 -0.8l0.3 -1.1l0.3 -1.3l0.3 -0.9l0.3 -0.3l0.3 0.5l0.3 1l0.3 1.3l0.3 0.8l0.3 1.1l0.3 1.3l0.3 1l0.2 0.2l0.3 -0.5l0.3 -1.1l0.3 -1.3l0.3 -0.9l0.3 -1.1l0.3 -1.4l0.3 -0.9l0.3 -0.1l0.3 0.6l0.3 1.3l0.3 1.3l0.3 0.8l0.2 1.3l0.3 1.3l0.3 0.8l0.3 0l0.3 -0.8l0.3 -1.4l0.3 -1.3l0.3 -0.8l0.3 -1.4l0.3 -1.3l0.3 -0.6l0.3 0.2l0.3 1l0.2 1.5l0.3 1.1l0.3 1.1l0.3 1.4l0.3 1.2l0.3 0.4l0.3 -0.5l0.3 -1.3l0.3 -1.5l0.3 -0.9l0.3 -1.4l0.3 -1.5l0.3 -1l0.3 0l0.2 0.9l0.3 1.5l0.3 1.5l0.3 1l0.3 1.6l0.3 1.4l0.3 0.5l0.3 -0.5l0.3 -1.4l0.3 -1.7l0.3 -1l0.3 -1.6l0.3 -1.6l0.2 -0.8l0.3 0.2l0.3 1.2l0.3 1.6l0.3 1.3l0.3 1.3l0.3 1.7l0.3 1.1l0.3 0.1l0.3 -1l0.3 -1.6l0.3 -1.5l0.3 -1.1l0.2 -1.6l0.3 -1.3l0.3 -0.4l0.3 0.8l0.3 1.5l0.3 1.6l0.3 1l0.3 1.6l0.3 1.4l0.3 0.6l0.3 -0.5l0.3 -1.4l0.3 -1.6l0.2 -1l0.3 -1.5l0.3 -1.5l0.3 -0.9l0.3 0.3l0.3 1.1l0.3 1.7l0.3 1.1l0.3 1.3l0.3 1.5l0.3 1.1l0.3 0l0.3 -0.9l0.3 -1.5l0.2 -1.3l0.3 -0.9l0.3 -1.5l0.3 -1.1l0.3 -0.4l0.3 0.5l0.3 1.2l0.3 1.4l0.3 0.8l0.3 1.2l0.3 1.2l0.3 0.7l0.3 -0.1l0.2 -0.9l0.3 -1.2l0.3 -1l0.3 -0.8l0.3 -1.1l0.3 -0.9l0.3 -0.2l0.3 0.4l0.3 0.9l0.3 1l0.3 0.6l0.3 0.8l0.3 0.9l0.2 0.5l0.3 0.2l0.3 -0.3l0.3 -0.5l0.3 -0.4l0.3 -0.3l0.3 0l0.3 0.1l0.3 -0.2l0.3 -0.4l0.3 -0.4l0.3 -0.5l0.3 -0.8l0.2 -0.8l0.3 -0.4l0.3 0.1l0.3 0.7l0.3 0.9l0.3 0.8l0.3 0.7l0.3 1.1l0.3 0.8l0.3 0.3l0.3 -0.5l0.3 -1l0.3 -1.1l0.3 -0.7l0.2 -1.2l0.3 -1.1l0.3 -0.5l0.3 0.2l0.3 1l0.3 1.3l0.3 0.8l0.3 1.2l0.3 1.2l0.3 0.8l0.3 -0.1l0.3 -0.9l0.3 -1.3l0.2 -1l0.3 -0.9l0.3 -1.3l0.3 -0.9l0.3 -0.1l0.3 0.6l0.3 1.2l0.3 1.2l0.3 0.8l0.3 1.2l0.3 1l0.3 0.3l0.3 -0.5l0.2 -1.1l0.3 -1.2l0.3 -0.7l0.3 -1.2l0.3 -1l0.3 -0.5l0.3 0.4l0.3 1l0.3 1.2l0.3 0.7l0.3 1.1l0.3 1.1l0.3 0.5l0.2 -0.2l0.3 -0.9l0.3 -1.2l0.3 -0.7l0.3 -1l0.3 -1.1l0.3 -0.6l0.3 0.1l0.3 0.8l0.3 1.1l0.3 0.8l0.3 0.9l0.3 1.1l0.3 0.7l0.2 -0.1l0.3 -0.7l0.3 -1.1l0.3 -0.8l0.3 -0.8l0.3 -1.1l0.3 -0.7l0.3 0l0.3 0.7l0.3 1l0.3 0.9l0.3 0.7l0.3 1l0.2 0.6l0.3 0.1l0.3 -0.6l0.3 -0.9l0.3 -0.9l0.3 -0.6l0.3 -0.9l0.3 -0.6l0.3 -0.2l0.3 0.5l0.3 0.8l0.3 0.8l0.3 0.5l0.2 0.9l0.3 0.6l0.3 0.2l0.3 -0.3l0.3 -0.7l0.3 -0.7l0.3 -0.5l0.3 -0.6l0.3 -0.7l0.3 -0.3l0.3 0.1l0.3 0.4l0.3 0.7l0.2 0.6l0.3 0.4l0.3 0.6l0.3 0.5l0.3 0.1l0.3 -0.2l0.3 -0.5l0.3 -0.6l0.3 -0.3l0.3 -0.5l0.3 -0.5l0.3 -0.3l0.3 -0.2l0.3 0.2l0.2 0.4l0.3 0.5l0.3 0.4l0.3 0.3l0.3 0.5l0.3 0.3l0.3 0.2l0.3 -0.1l0.3 -0.4l0.3 -0.4l0.3 -0.4l0.3 -0.2l0.3 -0.4l0.2 -0.4l0.3 -0.2l0.3 0l0.3 0.2l0.3 0.4l0.3 0.4l0.3 0.3l0.3 0.5l0.3 0.3l0.3 0.2l0.3 -0.1l0.3 -0.6" fill="none" stroke="#000000" stroke-width="0.85" stroke-linejoin="round"/>
<path d="M284.2 48.8l0.3 0l0.3 0l0.3 0l0.3 0l0.3 0l0.2 0l0.3 0l0.3 0l0.3 0l0.3 0l0.3 0l0.3 0l0.3 0l0.3 0l0.3 0l0.3 0l0.3 0l0.3 0l0.2 0l0.3 0l0.3 0l0.3 0l0.3 0l0.3 0l0.3 0l0.3 0l0.3 0l0.3 0l0.3 0l0.3 0l0.3 0l0.2 0l0.3 0l0.3 0l0.3 0l0.3 0l0.3 0l0.3 0l0.3 0l0.3 0l0.3 0l0.3 0l0.3 0l0.3 0l0.2 0l0.3 0l0.3 0l0.3 0l0.3 0l0.3 0l0.3 0l0.3 0l0.3 0l0.3 0l0.3 0l0.3 0l0.3 0l0.3 0l0.2 0l0.3 0l0.3 0l0.3 0l0.3 0l0.3 0l0.3 0l0.3 0l0.3 0l0.3 0l0.3 0l0.3 0l0.3 0l0.2 0l0.3 0l0.3 0l0.3 0l0.3 0l0.3 0l0.3 0l0.3 0l0.3 0l0.3 0.6l0.3 0.7l0.3 0.2l0.3 -0.6l0.2 -0.9l0.3 -1.4l0.3 -2.2l0.3 -1.9l0.3 -0.5l0.3 1.5l0.3 2.8l0.3 2.2l0.3 3.7l0.3 4.2l0.3 2.5l0.3 -0.6l0.3 -3.7l0.2 -5l0.3 -3.5l0.3 -6.3l0.3 -6.5l0.3 -3.6l0.3 1.8l0.3 6.7l0.3 8.2l0.3 6.3l0.3 10.1l0.3 7.6l0.3 1.6l0.3 -5.1l0.3 -9.3l0.2 -8.7l0.3 -6.2l0.3 -9.2l0.3 -6.6l0.3 -0.9l0.3 4.7l0.3 8.7l0.3 8l0.3 6.1l0.3 9.1l0.3 6.4l0.3 1l0.3 -5l0.2 -8.7l0.3 -7.8l0.3 -6.2l0.3 -9l0.3 -6.4l0.3 -0.9l0.3 5l0.3 8.8l0.3 7.7l0.3 6.1l0.3 9l0.3 6.3l0.3 1.1l0.2 -4.8l0.3 -8.8l0.3 -7.9l0.3 -6.5l0.3 -9.6l0.3 -6.9l0.3 -1.2l0.3 5.2l0.3 9.4l0.3 8.6l0.3 6.8l0.3 9.9l0.3 6.7l0.2 0.6l0.3 -5.6l0.3 -9.4l0.3 -8l0.3 -6.3l0.3 -8.9l0.3 -6l0.3 -0.6l0.3 5.1l0.3 8.4l0.3 7.3l0.3 5.4l0.3 7.5l0.3 4.9l0.2 0.3l0.3 -4.4l0.3 -6.8l0.3 -5.9l0.3 -4.1l0.3 -5.8l0.3 -3.8l0.3 -0.2l0.3 2.8l0.3 5.1l0.3 4.8l0.3 3.2l0.3 5.1l0.2 3.8l0.3 0.9l0.3 -2.2l0.3 -4.5l0.3 -4.5l0.3 -2.8l0.3 -4.5l0.3 -3.7l0.3 -1.4l0.3 1.3l0.3 3.6l0.3 4.5l0.3 2.8l0.2 4.4l0.3 4.5l0.3 2.6l0.3 -0.6l0.3 -3.4l0.3 -4.9l0.3 -3.6l0.3 -4.1l0.3 -5.2l0.3 -3.6l0.3 -0.4l0.3 2.8l0.3 4.9l0.2 4.8l0.3 3.2l0.3 5.2l0.3 4.5l0.3 1.9l0.3 -1.4l0.3 -4.1l0.3 -5.2l0.3 -3.5l0.3 -4.3l0.3 -5.2l0.3 -3.5l0.3 -0.7l0.3 2.9l0.2 4.8l0.3 4.8l0.3 2.6l0.3 4.2l0.3 3.7l0.3 2l0.3 -0.5l0.3 -2.7l0.3 -3.7l0.3 -3.4l0.3 -2l0.3 -3l0.3 -2.7l0.2 -1.4l0.3 0.4l0.3 1.9l0.3 2.9l0.3 2.6l0.3 1.7l0.3 2.6l0.3 2.4l0.3 1.2l0.3 -0.3l0.3 -1.7l0.3 -2.6l0.3 -2.3l0.2 -1.4l0.3 -2.4l0.3 -2.1l0.3 -1l0.3 0.4l0.3 1.7l0.3 2.2l0.3 2l0.3 1.3l0.3 2.1l0.3 1.6l0.3 0.7l0.3 -0.6l0.2 -1.6l0.3 -1.9l0.3 -1.4l0.3 -1.3l0.3 -1.8l0.3 -1.2l0.3 -0.4l0.3 0.8l0.3 1.5l0.3 1.6l0.3 1l0.3 1.5l0.3 1.5l0.3 0.9l0.2 0l0.3 -1l0.3 -1.5l0.3 -1.4l0.3 -0.9l0.3 -1.5l0.3 -1.1l0.3 -0.5l0.3 0.5l0.3 1.1l0.3 1.4l0.3 0.9l0.3 1.2l0.2 1.3l0.3 0.9l0.3 0.1l0.3 -0.8l0.3 -1.4l0.3 -1.2l0.3 -0.9l0.3 -1.4l0.3 -1.2l0.3 -0.4l0.3 0.4l0.3 1.3l0.3 1.4l0.2 0.9l0.3 1.3l0.3 1.4l0.3 0.7l0.3 -0.2l0.3 -1.1l0.3 -1.4l0.3 -1.1l0.3 -1.2l0.3 -1.4l0.3 -0.9l0.3 -0.1l0.3 0.9l0.2 1.4l0.3 1.3l0.3 1l0.3 1.5l0.3 1.1l0.3 0.2l0.3 -0.7l0.3 -1.4l0.3 -1.4l0.3 -0.9l0.3 -1.5l0.3 -1.2l0.3 -0.3l0.3 0.6l0.2 1.3l0.3 1.4l0.3 0.9l0.3 1.4l0.3 1.3l0.3 0.4l0.3 -0.5l0.3 -1.2l0.3 -1.4l0.3 -0.9l0.3 -1.4l0.3 -1.2l0.3 -0.6l0.2 0.4l0.3 1.2l0.3 1.4l0.3 0.8l0.3 1.3l0.3 1.3l0.3 0.6l0.3 -0.3l0.3 -1l0.3 -1.4l0.3 -0.8l0.3 -1.2l0.3 -1.3l0.2 -0.7l0.3 0.1l0.3 0.9l0.3 1.3l0.3 1l0.3 1l0.3 1.2l0.3 0.8l0.3 0.1l0.3 -0.7l0.3 -1.2l0.3 -1.1l0.3 -0.7l0.2 -1.2l0.3 -1l0.3 -0.3l0.3 0.4l0.3 1l0.3 1.2l0.3 0.7l0.3 1l0.3 1.1l0.3 0.6l0.3 -0.1l0.3 -0.7l0.3 -1l0.3 -1l0.2 -0.7l0.3 -1.1l0.3 -0.9l0.3 -0.4l0.3 0.3l0.3 0.9l0.3 1.1l0.3 0.7l0.3 0.9l0.3 1l0.3 0.8l0.3 0.2l0.3 -0.4l0.2 -1l0.3 -1.1l0.3 -0.6l0.3 -1.1l0.3 -1.1l0.3 -0.6l0.3 0l0.3 0.7l0.3 1.1l0.3 1l0.3 0.8l0.3 1.2l0.3 1l0.2 0.4l0.3 -0.4l0.3 -1l0.3 -1.1l0.3 -0.8l0.3 -1.1l0.3 -1.1l0.3 -0.8l0.3 0l0.3 0.7l0.3 1.2l0.3 1l0.3 0.8l0.2 1.1l0.3 1l0.3 0.4l0.3 -0.4l0.3 -1l0.3 -1.2l0.3 -0.7l0.3 -1.1l0.3 -1.1l0.3 -0.6l0.3 0.1l0.3 0.8l0.3 1.1l0.3 1l0.2 0.8l0.3 1.1l0.3 0.9l0.3 0.2l0.3 -0.6l0.3 -1l0.3 -1.1l0.3 -0.7l0.3 -1.1l0.3 -1l0.3 -0.5l0.3 0.3l0.3 0.9l0.2 1.1l0.3 0.8l0.3 0.9l0.3 1.1l0.3 0.7l0.3 0l0.3 -0.7l0.3 -1.1l0.3 -0.9l0.3 -0.7l0.3 -1.1l0.3 -0.8l0.3 -0.3l0.2 0.4l0.3 0.9l0.3 1l0.3 0.7l0.3 0.9l0.3 0.9l0.3 0.5l0.3 -0.1l0.3 -0.6l0.3 -0.9l0.3 -0.9l0.3 -0.5l0.3 -0.9l0.2 -0.7l0.3 -0.3l0.3 0.3l0.3 0.7l0.3 0.9l0.3 0.5l0.3 0.7l0.3 0.8l0.3 0.6l0.3 0.1l0.3 -0.4l0.3 -0.8l0.3 -0.7l0.3 -0.5l0.2 -0.7l0.3 -0.8l0.3 -0.4l0.3 0.1l0.3 0.4l0.3 0.8l0.3 0.7l0.3 0.4l0.3 0.8l0.3 0.6l0.3 0.3l0.3 -0.1l0.3 -0.6l0.2 -0.7l0.3 -0.6l0.3 -0.6l0.3 -0.7l0.3 -0.6l0.3 -0.1l0.3 0.3l0.3 0.6l0.3 0.8l0.3 0.4l0.3 0.7l0.3 0.7l0.3 0.4l0.2 0l0.3 -0.5l0.3 -0.7l0.3 -0.7l0.3 -0.5l0.3 -0.7l0.3 -0.6l0.3 -0.1l0.3 0.2l0.3 0.6l0.3 0.8l0.3 0.4l0.3 0.6l0.2 0.7l0.3 0.4l0.3 0l0.3 -0.5l0.3 -0.7l0.3 -0.6l0.3 -0.4l0.3 -0.7l0.3 -0.5l0.3 -0.2l0.3 0.2l0.3 0.6l0.3 0.7l0.3 0.4l0.2 0.6l0.3 0.6l0.3 0.3l0.3 0l0.3 -0.4l0.3 -0.6l0.3 -0.5l0.3 -0.4l0.3 -0.7l0.3 -0.5l0.3 -0.1l0.3 0.2l0.3 0.5l0.2 0.6l0.3 0.3l0.3 0.5l0.3 0.6l0.3 0.3l0.3 0.1l0.3 -0.3l0.3 -0.5l0.3 -0.6l0.3 -0.4l0.3 -0.6l0.3 -0.4" fill="none" stroke="#0000ff" stroke-width="0.85" stroke-linejoin="round"/>
<path d="M284.2 48.8l0.3 0l0.3 0l0.3 0l0.3 0l0.3 -0.1l0.2 0l0.3 0l0.3 0.1l0.3 0.1l0.3 0l0.3 0l0.3 -0.1l0.3 -0.1l0.3 -0.1l0.3 0l0.3 0.1l0.3 0.1l0.3 0.1l0.2 0.2l0.3 0l0.3 -0.2l0.3 -0.1l0.3 -0.1l0.3 -0.2l0.3 -0.1l0.3 0.1l0.3 0.2l0.3 0.1l0.3 0.3l0.3 0.1l0.3 0l0.2 -0.3l0.3 -0.1l0.3 -0.3l0.3 -0.2l0.3 0l0.3 0.2l0.3 0.2l0.3 0.2l0.3 0.3l0.3 0.2l0.3 0l0.3 -0.3l0.3 -0.3l0.2 -0.2l0.3 -0.4l0.3 -0.2l0.3 0.1l0.3 0.4l0.3 0.3l0.3 0.3l0.3 0.3l0.3 0.1l0.3 0l0.3 -0.2l0.3 -0.2l0.3 -0.3l0.3 -0.3l0.2 -0.4l0.3 -0.2l0.3 0.1l0.3 0.5l0.3 0.3l0.3 0.6l0.3 0.3l0.3 -0.2l0.3 -0.6l0.3 -0.5l0.3 -0.5l0.3 0.4l0.3 0.5l0.2 0.7l0.3 0.3l0.3 -0.3l0.3 -0.7l0.3 -0.6l0.3 -1.1l0.3 -0.5l0.3 1l0.3 1.6l0.3 3l0.3 3.9l0.3 2.3l0.3 -1l0.2 -3l0.3 -4.2l0.3 -2.6l0.3 0.8l0.3 -0.3l0.3 -1.6l0.3 -1.1l0.3 1l0.3 2.1l0.3 1.8l0.3 1.7l0.3 -1.1l0.3 -2.1l0.2 -2.3l0.3 -1.1l0.3 1.7l0.3 1.9l0.3 2.5l0.3 1.1l0.3 -1.4l0.3 -2.2l0.3 -1.8l0.3 -1.9l0.3 0.1l0.3 1.7l0.3 1.7l0.3 1.9l0.2 1.5l0.3 -0.2l0.3 -1.6l0.3 -1.6l0.3 -1.5l0.3 -1.5l0.3 -0.2l0.3 1.2l0.3 1.5l0.3 0.7l0.3 0.8l0.3 0.5l0.3 0l0.2 -0.3l0.3 0.1l0.3 0.5l0.3 0.3l0.3 -0.2l0.3 -0.7l0.3 -0.9l0.3 -0.7l0.3 -1.1l0.3 -0.8l0.3 -0.1l0.3 1l0.3 1.2l0.2 1l0.3 1.3l0.3 0.3l0.3 -1.1l0.3 -1.3l0.3 -1.4l0.3 -1l0.3 0.4l0.3 1.5l0.3 1l0.3 1.3l0.3 0.5l0.3 -0.7l0.2 -1.2l0.3 -0.6l0.3 -0.9l0.3 -0.6l0.3 -0.1l0.3 0.3l0.3 0.8l0.3 0.7l0.3 0.9l0.3 0.7l0.3 -0.6l0.3 -1.2l0.3 -1.3l0.3 -0.1l0.2 1l0.3 0.9l0.3 1.3l0.3 0.6l0.3 -0.6l0.3 -1.4l0.3 -1l0.3 -1.3l0.3 -0.4l0.3 1l0.3 1.3l0.3 1l0.3 1.2l0.2 0.1l0.3 -1l0.3 -1.1l0.3 -0.9l0.3 -0.8l0.3 0.1l0.3 0.9l0.3 0.7l0.3 0.7l0.3 0.2l0.3 -1.4l0.3 0.5l0.3 0.7l0.2 0.7l0.3 0l0.3 -0.8l0.3 -0.7l0.3 -1l0.3 -0.7l0.3 0.1l0.3 1l0.3 0.8l0.3 1l0.3 0.8l0.3 -0.1l0.3 -1.1l0.2 -0.8l0.3 -1.2l0.3 -0.8l0.3 0.3l0.3 1.1l0.3 0.9l0.3 1.1l0.3 0.7l0.3 -0.1l0.3 -1l0.3 -0.9l0.3 -0.8l0.3 -0.9l0.3 -0.2l0.2 0.6l0.3 0.9l0.3 0.6l0.3 0.8l0.3 0.3l0.3 -0.5l0.3 -1.9l0.3 0.5l0.3 0.7l0.3 0.8l0.3 0.6l0.3 -0.2l0.3 -0.7l0.2 -0.7l0.3 -0.7l0.3 -0.5l0.3 -0.1l0.3 0.5l0.3 0.5l0.3 0.3l0.3 -0.6l0.3 -0.2l0.3 0.4l0.3 0.4l0.3 0.4l0.3 0.4l0.2 0.4l0.3 0.1l0.3 0l0.3 0l0.3 -0.2l0.3 -0.4l0.3 -0.6l0.3 -0.4l0.3 -0.7l0.3 -0.3l0.3 0.4l0.3 0.8l0.3 0.6l0.2 0.8l0.3 0l0.3 -0.9l0.3 -0.7l0.3 -0.9l0.3 0.2l0.3 0.8l0.3 0.7l0.3 0.9l0.3 0.1l0.3 -0.6l0.3 -0.8l0.3 -0.8l0.3 -0.8l0.2 0.1l0.3 0.9l0.3 0.7l0.3 1l0.3 0.4l0.3 -0.4l0.3 -0.9l0.3 -0.6l0.3 -0.7l0.3 -0.2l0.3 0.5l0.3 0.6l0.3 0.2l0.2 -0.4l0.3 -0.1l0.3 0.4l0.3 0.4l0.3 0.6l0.3 0.3l0.3 -0.3l0.3 -0.7l0.3 -0.4l0.3 -0.7l0.3 -0.4l0.3 0.3l0.3 0.6l0.2 0.5l0.3 0.6l0.3 0.4l0.3 -0.5l0.3 -0.7l0.3 -0.8l0.3 0l0.3 0.7l0.3 0.5l0.3 0.7l0.3 0.3l0.3 -0.4l0.3 -0.7l0.2 -0.5l0.3 -0.9l0.3 -0.4l0.3 0.2l0.3 0.8l0.3 0.6l0.3 0.8l0.3 0.7l0.3 0l0.3 -0.7l0.3 -0.8l0.3 -0.7l0.3 -0.8l0.3 0l0.2 0.7l0.3 0.8l0.3 0.7l0.3 0.8l0.3 0l0.3 -0.8l0.3 -0.7l0.3 -0.9l0.3 -0.6l0.3 0.1l0.3 0.8l0.3 0.6l0.3 0.8l0.2 0.6l0.3 -0.1l0.3 -0.6l0.3 -0.6l0.3 -0.4l0.3 -0.6l0.3 -0.3l0.3 0.1l0.3 0.6l0.3 0.5l0.3 0.6l0.3 0.6l0.3 -0.1l0.2 -0.6l0.3 -0.6l0.3 -0.7l0.3 -0.4l0.3 0.2l0.3 0.6l0.3 0.5l0.3 0.6l0.3 0.3l0.3 -0.1l0.3 -0.5l0.3 -0.4l0.3 -0.4l0.2 -0.5l0.3 -0.1l0.3 0.3l0.3 0.5l0.3 0.5l0.3 0.6l0.3 0.3l0.3 -0.3l0.3 -0.7l0.3 -0.5l0.3 -0.7l0.3 -0.3l0.3 0.2l0.3 0.8l0.2 0.5l0.3 0.7l0.3 0.3l0.3 -0.6l0.3 -0.7l0.3 -0.9l0.3 0.1l0.3 0.8l0.3 0.6l0.3 0.7l0.3 0l0.3 -0.7l0.3 -0.6l0.2 -0.8l0.3 -0.5l0.3 0.1l0.3 0.7l0.3 0.6l0.3 0.7l0.3 0.6l0.3 -0.1l0.3 -0.7l0.3 -0.6l0.3 -0.7l0.3 -0.5l0.3 0.3l0.2 0.7l0.3 0.5l0.3 0.8l0.3 0.3l0.3 -0.4l0.3 -0.7l0.3 -0.5l0.3 -0.6l0.3 -0.3l0.3 0.3l0.3 0.5l0.3 0.3l0.3 0.1l0.2 0.1l0.3 0.2l0.3 0.4l0.3 0.3l0.3 -0.1l0.3 -0.5l0.3 -0.4l0.3 -0.6l0.3 -0.5l0.3 0.1l0.3 0.6l0.3 0.5l0.3 0.5l0.3 0.2l0.2 -0.9l0.3 -0.7l0.3 0l0.3 0.4l0.3 0.4l0.3 0.6l0.3 0.5l0.3 0l0.3 -0.5l0.3 -0.5l0.3 -0.5l0.3 -0.5l0.3 -0.3l0.2 0.3l0.3 0.6l0.3 0.4l0.3 0.5l0.3 0.2l0.3 -0.1l0.3 -1.5l0.3 0.8l0.3 0.4l0.3 0.6l0.3 0l0.3 -0.5l0.3 -0.6l0.2 -0.7l0.3 -0.5l0.3 0.1l0.3 0.7l0.3 0.6l0.3 0.7l0.3 0.5l0.3 -0.1l0.3 -0.5l0.3 -0.5l0.3 -0.4l0.3 -0.5l0.3 -0.5l0.2 -0.1l0.3 0.3l0.3 0.7l0.3 0.4l0.3 0.7l0.3 0.5l0.3 -0.2l0.3 -0.7l0.3 -0.6l0.3 -0.8l0.3 -0.3l0.3 0.4l0.3 0.8l0.3 0.7l0.2 0.5l0.3 -0.4l0.3 -0.7l0.3 -0.8l0.3 -0.3l0.3 0.6l0.3 0.6l0.3 0.7l0.3 0.4l0.3 -0.5l0.3 -0.7l0.3 -0.6l0.3 -0.6l0.2 0.1l0.3 0.6l0.3 0.6l0.3 0.7l0.3 0.4l0.3 -0.2l0.3 -0.7l0.3 -0.5l0.3 -0.6l0.3 -0.4l0.3 0.1l0.3 0.5l0.3 0.5l0.2 0.4l0.3 0.6l0.3 0.3l0.3 -0.1l0.3 -0.5l0.3 -0.6l0.3 -0.4l0.3 -0.6l0.3 -0.2l0.3 0.4l0.3 0.6l0.3 0.5l0.3 0.7l0.2 0.2l0.3 -0.4l0.3 -0.6l0.3 -0.5l0.3 -0.6l0.3 -0.3l0.3 0.1l0.3 0.5l0.3 0.6l0.3 0.4l0.3 0.6l0.3 0.2l0.3 -0.3l0.3 -0.7l0.2 -0.4l0.3 -0.6l0.3 -0.4l0.3 0.2l0.3 0.6l0.3 0.5l0.3 0.6l0.3 0.4l0.3 -0.1l0.3 -0.6l0.3 -0.5l0.3 -0.6l0.3 -0.4l0.2 0.3l0.3 0.6l0.3 0.3l0.3 0.4l0.3 0.2l0.3 0l0.3 -0.2l0.3 -0.5l0.3 0.4l0.3 0l0.3 0.2l0.3 -0.7" fill="none" stroke="#ff0000" stroke-width="0.8" stroke-linejoin="round"/>
</g>
<g clip-path="url(#c20)">
<path d="M501 91.3l0.3 -0.1l0.3 0l0.3 0l0.3 0l0.3 0l0.3 0l0.3 0l0.3 0l0.3 0l0.3 0l0.3 0l0.3 0l0.3 -0.1l0.3 0l0.2 0l0.3 0l0.3 0l0.3 0l0.3 0l0.3 0l0.3 0l0.3 0l0.3 0l0.3 0l0.3 0l0.3 0l0.3 0l0.3 0l0.3 0l0.3 0l0.3 0l0.2 0.1l0.3 0l0.3 0l0.3 0l0.3 0l0.3 0l0.3 0l0.3 0l0.3 0l0.3 0l0.3 0l0.3 0.1l0.3 0l0.3 0l0.3 0l0.3 0l0.3 0l0.2 0l0.3 0l0.3 0l0.3 0l0.3 0l0.3 0.1l0.3 0l0.3 0l0.3 0l0.3 0l0.3 0l0.3 0l0.3 0l0.3 0l0.3 0l0.3 0l0.3 0l0.3 0l0.2 0l0.3 0l0.3 0l0.3 0l0.3 0l0.3 0l0.3 0l0.3 0l0.3 0l0.3 0l0.3 0l0.3 0l0.3 -0.1l0.3 0l0.3 0l0.3 0l0.3 0l0.2 0l0.3 0l0.3 0l0.3 0l0.3 0l0.3 -0.1l0.3 0l0.3 0l0.3 0l0.3 0l0.3 0l0.3 0l0.3 0l0.3 0l0.3 0l0.3 0l0.3 0l0.2 -0.1l0.3 0l0.3 0l0.3 0l0.3 0l0.3 0l0.3 0l0.3 0l0.3 0l0.3 0l0.3 0l0.3 0l0.3 0l0.3 0l0.3 0l0.3 0l0.3 0l0.2 0l0.3 0l0.3 0.1l0.3 0l0.3 0l0.3 0l0.3 0l0.3 0l0.3 0l0.3 0l0.3 0l0.3 0l0.3 0l0.3 0.1l0.3 0l0.3 0l0.3 0l0.2 0l0.3 0l0.3 0l0.3 0l0.3 0l0.3 0l0.3 0l0.3 0.1l0.3 0l0.3 0l0.3 0l0.3 0l0.3 0l0.3 0l0.3 0l0.3 0l0.3 0l0.2 0l0.3 0l0.3 0l0.3 0l0.3 0l0.3 0l0.3 0l0.3 0l0.3 0l0.3 0l0.3 0l0.3 0l0.3 0l0.3 0l0.3 0l0.3 -0.1l0.3 0l0.2 0l0.3 0l0.3 0l0.3 0l0.3 0l0.3 0l0.3 0l0.3 0l0.3 -0.1l0.3 0l0.3 0l0.3 0l0.3 0l0.3 0l0.3 0l0.3 0l0.3 0l0.2 0l0.3 0l0.3 0l0.3 -0.1l0.3 0l0.3 0l0.3 0l0.3 0l0.3 0l0.3 0l0.3 0l0.3 0l0.3 0l0.3 0l0.3 0l0.3 0l0.3 0l0.3 0l0.2 0l0.3 0l0.3 0l0.3 0l0.3 0.1l0.3 0l0.3 0l0.3 0l0.3 0l0.3 0l0.3 0l0.3 0l0.3 0l0.3 0l0.3 0l0.3 0.1l0.3 0l0.2 0l0.3 0l0.3 0l0.3 0l0.3 0l0.3 0l0.3 0l0.3 0l0.3 0l0.3 0.1l0.3 0l0.3 0l0.3 0l0.3 0l0.3 0l0.3 0l0.3 0l0.2 0l0.3 0l0.3 0l0.3 0l0.3 0l0.3 0l0.3 0l0.3 0l0.3 0l0.3 0l0.3 0l0.3 0l0.3 0l0.3 0l0.3 0l0.3 0l0.3 0l0.2 -0.1l0.3 0l0.3 0l0.3 0l0.3 0l0.3 0l0.3 0l0.3 0l0.3 0l0.3 0l0.3 -0.1l0.3 0l0.3 0l0.3 0l0.3 0l0.3 0l0.3 0l0.2 0l0.3 0l0.3 0l0.3 0l0.3 0l0.3 -0.1l0.3 0l0.3 0l0.3 0l0.3 0l0.3 0l0.3 0l0.3 0l0.3 0l0.3 0l0.3 0l0.3 0l0.2 0l0.3 0l0.3 0l0.3 0l0.3 0l0.3 0l0.3 0l0.3 0.1l0.3 0l0.3 0l0.3 0l0.3 0l0.3 0l0.3 0l0.3 0l0.3 0l0.3 0l0.2 0l0.3 0.1l0.3 0l0.3 0l0.3 0l0.3 0l0.3 0l0.3 0l0.3 0l0.3 0l0.3 0l0.3 0l0.3 0.1l0.3 0l0.3 0l0.3 0l0.3 0l0.2 0l0.3 0l0.3 0l0.3 0l0.3 0l0.3 0l0.3 0l0.3 0l0.3 0l0.3 0l0.3 0l0.3 0l0.3 0l0.3 0l0.3 0l0.3 0l0.3 0l0.2 0l0.3 0l0.3 0l0.3 -0.1l0.3 0l0.3 0l0.3 0l0.3 0l0.3 0l0.3 0l0.3 0l0.3 0l0.3 0l0.3 -0.1l0.3 0l0.3 0l0.3 0l0.2 0l0.3 0l0.3 0l0.3 0l0.3 0l0.3 0l0.3 0l0.3 0l0.3 -0.1l0.3 0l0.3 0l0.3 0l0.3 0l0.3 0l0.3 0l0.3 0l0.3 0l0.3 0l0.2 0l0.3 0l0.3 0l0.3 0l0.3 0l0.3 0l0.3 0l0.3 0l0.3 0l0.3 0.1l0.3 0l0.3 0l0.3 0l0.3 0l0.3 0l0.3 0l0.3 0l0.2 0l0.3 0l0.3 0l0.3 0.1l0.3 0l0.3 0l0.3 0l0.3 0l0.3 0l0.3 0l0.3 0l0.3 0l0.3 0l0.3 0l0.3 0.1l0.3 0l0.3 0l0.2 0l0.3 0l0.3 0l0.3 0l0.3 0l0.3 0l0.3 0l0.3 0l0.3 0l0.3 0l0.3 0l0.3 0l0.3 0l0.3 0l0.3 0l0.3 0l0.3 0l0.2 0l0.3 0l0.3 0l0.3 0l0.3 0l0.3 -0.1l0.3 0l0.3 0l0.3 0l0.3 0l0.3 0l0.3 0l0.3 0l0.3 0l0.3 0l0.3 -0.1l0.3 0l0.2 0l0.3 0l0.3 0l0.3 0l0.3 0l0.3 0l0.3 0l0.3 0l0.3 0l0.3 0l0.3 -0.1l0.3 0l0.3 0l0.3 0l0.3 0l0.3 0l0.3 0l0.2 0l0.3 0l0.3 0l0.3 0l0.3 0l0.3 0l0.3 0l0.3 0l0.3 0l0.3 0l0.3 0l0.3 0l0.3 0.1l0.3 0l0.3 0l0.3 0l0.3 0l0.2 0l0.3 0l0.3 0l0.3 0l0.3 0l0.3 0l0.3 0.1l0.3 0l0.3 0l0.3 0l0.3 0l0.3 0l0.3 0l0.3 0l0.3 0l0.3 0l0.3 0l0.2 0.1l0.3 0l0.3 0l0.3 0l0.3 0l0.3 0l0.3 0l0.3 0l0.3 0l0.3 0l0.3 0l0.3 0l0.3 0l0.3 0l0.3 0l0.3 0l0.3 0l0.3 0l0.2 0l0.3 0l0.3 0l0.3 0l0.3 0l0.3 0l0.3 0l0.3 -0.1l0.3 0l0.3 0l0.3 0l0.3 0l0.3 0l0.3 0l0.3 0l0.3 0l0.3 0l0.2 -0.1l0.3 0l0.3 0l0.3 0l0.3 0l0.3 0l0.3 0l0.3 0l0.3 0l0.3 0l0.3 0l0.3 0l0.3 -0.1l0.3 0l0.3 0l0.3 0l0.3 0l0.2 0l0.3 0l0.3 0l0.3 0l0.3 0l0.3 0l0.3 0l0.3 0l0.3 0l0.3 0l0.3 0l0.3 0l0.3 0l0.3 0l0.3 0.1" fill="none" stroke="#000000" stroke-width="0.65" stroke-linejoin="round" opacity="0.5"/>
<path d="M501 91.3l0.3 -0.1l0.3 0l0.3 0l0.3 0l0.3 0l0.3 0l0.3 0l0.3 0l0.3 -0.1l0.3 0l0.3 0l0.3 0l0.3 0l0.3 0l0.2 0l0.3 0l0.3 0l0.3 0l0.3 0l0.3 0l0.3 0l0.3 0l0.3 0.1l0.3 0l0.3 0l0.3 0l0.3 0l0.3 0l0.3 0l0.3 0l0.3 0.1l0.2 0l0.3 0l0.3 0l0.3 0l0.3 0l0.3 0l0.3 0l0.3 0.1l0.3 0l0.3 0l0.3 0l0.3 0l0.3 0l0.3 0l0.3 0l0.3 0l0.3 0l0.2 0l0.3 0l0.3 0l0.3 0l0.3 0l0.3 0l0.3 0l0.3 -0.1l0.3 0l0.3 0l0.3 0l0.3 0l0.3 0l0.3 0l0.3 0l0.3 -0.1l0.3 0l0.3 0l0.2 0l0.3 0l0.3 0l0.3 0l0.3 0l0.3 -0.1l0.3 0l0.3 0l0.3 0l0.3 0l0.3 0l0.3 0l0.3 0l0.3 0l0.3 0l0.3 0l0.3 0l0.2 0l0.3 0l0.3 0.1l0.3 0l0.3 0l0.3 0l0.3 0l0.3 0l0.3 0l0.3 0l0.3 0.1l0.3 0l0.3 0l0.3 0l0.3 0l0.3 0l0.3 0l0.2 0l0.3 0.1l0.3 0l0.3 0l0.3 0l0.3 0l0.3 0l0.3 0l0.3 0l0.3 0l0.3 0l0.3 0l0.3 0l0.3 0l0.3 0l0.3 0l0.3 0l0.2 0l0.3 -0.1l0.3 0l0.3 0l0.3 0l0.3 0l0.3 0l0.3 0l0.3 0l0.3 -0.1l0.3 0l0.3 0l0.3 0l0.3 0l0.3 0l0.3 0l0.3 0l0.2 -0.1l0.3 0l0.3 0l0.3 0l0.3 0l0.3 0l0.3 0l0.3 0l0.3 0l0.3 0l0.3 0l0.3 0l0.3 0l0.3 0l0.3 0.1l0.3 0l0.3 0l0.2 0l0.3 0l0.3 0l0.3 0l0.3 0l0.3 0.1l0.3 0l0.3 0l0.3 0l0.3 0l0.3 0l0.3 0l0.3 0.1l0.3 0l0.3 0l0.3 0l0.3 0l0.2 0l0.3 0l0.3 0l0.3 0l0.3 0l0.3 0l0.3 0l0.3 0l0.3 0l0.3 0l0.3 0l0.3 0l0.3 0l0.3 -0.1l0.3 0l0.3 0l0.3 0l0.2 0l0.3 0l0.3 0l0.3 0l0.3 -0.1l0.3 0l0.3 0l0.3 0l0.3 0l0.3 0l0.3 0l0.3 0l0.3 -0.1l0.3 0l0.3 0l0.3 0l0.3 0l0.3 0l0.2 0l0.3 0l0.3 0l0.3 0l0.3 0l0.3 0l0.3 0l0.3 0l0.3 0.1l0.3 0l0.3 0l0.3 0l0.3 0l0.3 0l0.3 0l0.3 0l0.3 0.1l0.2 0l0.3 0l0.3 0l0.3 0l0.3 0l0.3 0l0.3 0.1l0.3 0l0.3 0l0.3 0l0.3 0l0.3 0l0.3 0l0.3 0l0.3 0l0.3 0l0.3 0l0.2 0l0.3 0l0.3 0l0.3 0l0.3 0l0.3 0l0.3 0l0.3 -0.1l0.3 0l0.3 0l0.3 0l0.3 0l0.3 0l0.3 0l0.3 0l0.3 -0.1l0.3 0l0.2 0l0.3 0l0.3 0l0.3 0l0.3 0l0.3 0l0.3 -0.1l0.3 0l0.3 0l0.3 0l0.3 0l0.3 0l0.3 0l0.3 0l0.3 0l0.3 0l0.3 0l0.2 0l0.3 0l0.3 0.1l0.3 0l0.3 0l0.3 0l0.3 0l0.3 0l0.3 0l0.3 0l0.3 0l0.3 0.1l0.3 0l0.3 0l0.3 0l0.3 0l0.3 0l0.2 0l0.3 0.1l0.3 0l0.3 0l0.3 0l0.3 0l0.3 0l0.3 0l0.3 0l0.3 0l0.3 0l0.3 0l0.3 0l0.3 0l0.3 0l0.3 0l0.3 0l0.2 0l0.3 0l0.3 -0.1l0.3 0l0.3 0l0.3 0l0.3 0l0.3 0l0.3 0l0.3 -0.1l0.3 0l0.3 0l0.3 0l0.3 0l0.3 0l0.3 0l0.3 0l0.2 0l0.3 -0.1l0.3 0l0.3 0l0.3 0l0.3 0l0.3 0l0.3 0l0.3 0l0.3 0l0.3 0l0.3 0l0.3 0l0.3 0l0.3 0.1l0.3 0l0.3 0l0.2 0l0.3 0l0.3 0l0.3 0l0.3 0l0.3 0.1l0.3 0l0.3 0l0.3 0l0.3 0l0.3 0l0.3 0l0.3 0l0.3 0.1l0.3 0l0.3 0l0.3 0l0.2 0l0.3 0l0.3 0l0.3 0l0.3 0l0.3 0l0.3 0l0.3 0l0.3 0l0.3 0l0.3 0l0.3 0l0.3 0l0.3 0l0.3 -0.1l0.3 0l0.3 0l0.3 0l0.2 0l0.3 0l0.3 0l0.3 -0.1l0.3 0l0.3 0l0.3 0l0.3 0l0.3 0l0.3 0l0.3 0l0.3 -0.1l0.3 0l0.3 0l0.3 0l0.3 0l0.3 0l0.2 0l0.3 0l0.3 0l0.3 0l0.3 0l0.3 0l0.3 0l0.3 0l0.3 0.1l0.3 0l0.3 0l0.3 0l0.3 0l0.3 0l0.3 0l0.3 0l0.3 0.1l0.2 0l0.3 0l0.3 0l0.3 0l0.3 0l0.3 0l0.3 0l0.3 0.1l0.3 0l0.3 0l0.3 0l0.3 0l0.3 0l0.3 0l0.3 0l0.3 0l0.3 0l0.2 0l0.3 0l0.3 0l0.3 0l0.3 0l0.3 0l0.3 0l0.3 -0.1l0.3 0l0.3 0l0.3 0l0.3 0l0.3 0l0.3 0l0.3 0l0.3 -0.1l0.3 0l0.2 0l0.3 0l0.3 0l0.3 0l0.3 0l0.3 0l0.3 -0.1l0.3 0l0.3 0l0.3 0l0.3 0l0.3 0l0.3 0l0.3 0l0.3 0l0.3 0l0.3 0l0.2 0l0.3 0l0.3 0l0.3 0.1l0.3 0l0.3 0l0.3 0l0.3 0l0.3 0l0.3 0l0.3 0l0.3 0.1l0.3 0l0.3 0l0.3 0l0.3 0l0.3 0l0.2 0l0.3 0l0.3 0.1l0.3 0l0.3 0l0.3 0l0.3 0l0.3 0l0.3 0l0.3 0l0.3 0l0.3 0l0.3 0l0.3 0l0.3 0l0.3 0l0.3 0l0.2 0l0.3 0l0.3 -0.1l0.3 0l0.3 0l0.3 0l0.3 0l0.3 0l0.3 0l0.3 0l0.3 -0.1l0.3 0l0.3 0l0.3 0l0.3 0l0.3 0l0.3 0l0.3 0l0.2 -0.1l0.3 0l0.3 0l0.3 0l0.3 0l0.3 0l0.3 0l0.3 0l0.3 0l0.3 0l0.3 0l0.3 0l0.3 0l0.3 0l0.3 0.1l0.3 0l0.3 0l0.2 0l0.3 0l0.3 0l0.3 0l0.3 0l0.3 0.1l0.3 0l0.3 0l0.3 0l0.3 0l0.3 0l0.3 0l0.3 0.1l0.3 0l0.3 0l0.3 0l0.3 0l0.2 0l0.3 0l0.3 0l0.3 0l0.3 0l0.3 0l0.3 0l0.3 0l0.3 0l0.3 0l0.3 0l0.3 0l0.3 0l0.3 -0.1l0.3 0" fill="none" stroke="#0000ff" stroke-width="0.65" stroke-linejoin="round" opacity="0.45"/>
<path d="M501 91.3l0.3 -0.1l0.3 0l0.3 0l0.3 0l0.3 0l0.3 -0.1l0.3 0l0.3 0l0.3 0l0.3 0l0.3 0l0.3 0l0.3 0l0.3 0.1l0.2 0l0.3 0l0.3 0l0.3 0l0.3 0.1l0.3 0l0.3 0l0.3 0l0.3 0.1l0.3 0l0.3 0l0.3 0l0.3 0l0.3 0l0.3 0l0.3 0l0.3 0l0.2 0l0.3 0l0.3 -0.1l0.3 0l0.3 0l0.3 0l0.3 0l0.3 -0.1l0.3 0l0.3 0l0.3 0l0.3 0l0.3 -0.1l0.3 0l0.3 0l0.3 0l0.3 0l0.2 0l0.3 0l0.3 0l0.3 0.1l0.3 0l0.3 0l0.3 0l0.3 0l0.3 0.1l0.3 0l0.3 0l0.3 0l0.3 0.1l0.3 0l0.3 0l0.3 0l0.3 0l0.3 0l0.2 0l0.3 0l0.3 0l0.3 0l0.3 0l0.3 -0.1l0.3 0l0.3 0l0.3 0l0.3 -0.1l0.3 0l0.3 0l0.3 0l0.3 0l0.3 -0.1l0.3 0l0.3 0l0.2 0l0.3 0l0.3 0l0.3 0l0.3 0l0.3 0.1l0.3 0l0.3 0l0.3 0l0.3 0l0.3 0.1l0.3 0l0.3 0l0.3 0l0.3 0l0.3 0.1l0.3 0l0.2 0l0.3 0l0.3 0l0.3 0l0.3 0l0.3 0l0.3 0l0.3 0l0.3 -0.1l0.3 0l0.3 0l0.3 0l0.3 0l0.3 -0.1l0.3 0l0.3 0l0.3 0l0.2 0l0.3 -0.1l0.3 0l0.3 0l0.3 0l0.3 0l0.3 0l0.3 0l0.3 0l0.3 0.1l0.3 0l0.3 0l0.3 0l0.3 0l0.3 0.1l0.3 0l0.3 0l0.2 0l0.3 0l0.3 0.1l0.3 0l0.3 0l0.3 0l0.3 0l0.3 0l0.3 0l0.3 0l0.3 0l0.3 0l0.3 -0.1l0.3 0l0.3 0l0.3 0l0.3 0l0.2 -0.1l0.3 0l0.3 0l0.3 0l0.3 0l0.3 -0.1l0.3 0l0.3 0l0.3 0l0.3 0l0.3 0l0.3 0l0.3 0l0.3 0.1l0.3 0l0.3 0l0.3 0l0.2 0l0.3 0.1l0.3 0l0.3 0l0.3 0l0.3 0.1l0.3 0l0.3 0l0.3 0l0.3 0l0.3 0l0.3 0l0.3 0l0.3 0l0.3 0l0.3 0l0.3 -0.1l0.2 0l0.3 0l0.3 0l0.3 -0.1l0.3 0l0.3 0l0.3 0l0.3 0l0.3 -0.1l0.3 0l0.3 0l0.3 0l0.3 0l0.3 0l0.3 0l0.3 0l0.3 0l0.3 0.1l0.2 0l0.3 0l0.3 0l0.3 0.1l0.3 0l0.3 0l0.3 0l0.3 0l0.3 0.1l0.3 0l0.3 0l0.3 0l0.3 0l0.3 0l0.3 0l0.3 0l0.3 0l0.2 0l0.3 0l0.3 -0.1l0.3 0l0.3 0l0.3 0l0.3 -0.1l0.3 0l0.3 0l0.3 0l0.3 0l0.3 -0.1l0.3 0l0.3 0l0.3 0l0.3 0l0.3 0l0.2 0l0.3 0l0.3 0.1l0.3 0l0.3 0l0.3 0l0.3 0l0.3 0.1l0.3 0l0.3 0l0.3 0l0.3 0l0.3 0.1l0.3 0l0.3 0l0.3 0l0.3 0l0.2 0l0.3 0l0.3 0l0.3 0l0.3 0l0.3 -0.1l0.3 0l0.3 0l0.3 0l0.3 0l0.3 -0.1l0.3 0l0.3 0l0.3 0l0.3 0l0.3 -0.1l0.3 0l0.2 0l0.3 0l0.3 0l0.3 0l0.3 0l0.3 0l0.3 0.1l0.3 0l0.3 0l0.3 0l0.3 0l0.3 0.1l0.3 0l0.3 0l0.3 0l0.3 0.1l0.3 0l0.2 0l0.3 0l0.3 0l0.3 0l0.3 0l0.3 0l0.3 0l0.3 0l0.3 0l0.3 -0.1l0.3 0l0.3 0l0.3 0l0.3 0l0.3 -0.1l0.3 0l0.3 0l0.2 0l0.3 -0.1l0.3 0l0.3 0l0.3 0l0.3 0l0.3 0l0.3 0l0.3 0l0.3 0l0.3 0.1l0.3 0l0.3 0l0.3 0l0.3 0l0.3 0.1l0.3 0l0.2 0l0.3 0l0.3 0.1l0.3 0l0.3 0l0.3 0l0.3 0l0.3 0l0.3 0l0.3 0l0.3 0l0.3 0l0.3 0l0.3 -0.1l0.3 0l0.3 0l0.3 0l0.2 -0.1l0.3 0l0.3 0l0.3 0l0.3 0l0.3 -0.1l0.3 0l0.3 0l0.3 0l0.3 0l0.3 0l0.3 0l0.3 0l0.3 0.1l0.3 0l0.3 0l0.3 0l0.2 0l0.3 0.1l0.3 0l0.3 0l0.3 0l0.3 0l0.3 0.1l0.3 0l0.3 0l0.3 0l0.3 0l0.3 0l0.3 0l0.3 0l0.3 0l0.3 0l0.3 -0.1l0.3 0l0.2 0l0.3 0l0.3 0l0.3 -0.1l0.3 0l0.3 0l0.3 0l0.3 0l0.3 -0.1l0.3 0l0.3 0l0.3 0l0.3 0l0.3 0l0.3 0l0.3 0l0.3 0.1l0.2 0l0.3 0l0.3 0l0.3 0l0.3 0.1l0.3 0l0.3 0l0.3 0l0.3 0.1l0.3 0l0.3 0l0.3 0l0.3 0l0.3 0l0.3 0l0.3 0l0.3 0l0.2 0l0.3 0l0.3 -0.1l0.3 0l0.3 0l0.3 0l0.3 0l0.3 -0.1l0.3 0l0.3 0l0.3 0l0.3 0l0.3 -0.1l0.3 0l0.3 0l0.3 0l0.3 0l0.2 0l0.3 0l0.3 0l0.3 0.1l0.3 0l0.3 0l0.3 0l0.3 0l0.3 0.1l0.3 0l0.3 0l0.3 0l0.3 0.1l0.3 0l0.3 0l0.3 0l0.3 0l0.2 0l0.3 0l0.3 0l0.3 0l0.3 0l0.3 0l0.3 -0.1l0.3 0l0.3 0l0.3 0l0.3 -0.1l0.3 0l0.3 0l0.3 0l0.3 0l0.3 -0.1l0.3 0l0.2 0l0.3 0l0.3 0l0.3 0l0.3 0l0.3 0l0.3 0.1l0.3 0l0.3 0l0.3 0l0.3 0l0.3 0.1l0.3 0l0.3 0l0.3 0l0.3 0l0.3 0.1l0.2 0l0.3 0l0.3 0l0.3 0l0.3 0l0.3 0l0.3 0l0.3 0l0.3 0l0.3 -0.1l0.3 0l0.3 0l0.3 0l0.3 0l0.3 -0.1l0.3 0l0.3 0l0.2 0l0.3 0l0.3 -0.1l0.3 0l0.3 0l0.3 0l0.3 0l0.3 0l0.3 0l0.3 0l0.3 0.1l0.3 0l0.3 0l0.3 0l0.3 0l0.3 0.1l0.3 0l0.3 0l0.2 0l0.3 0l0.3 0.1l0.3 0l0.3 0l0.3 0l0.3 0l0.3 0l0.3 0l0.3 0l0.3 0l0.3 0l0.3 -0.1l0.3 0l0.3 0l0.3 0l0.3 0l0.2 -0.1l0.3 0l0.3 0l0.3 0l0.3 0l0.3 -0.1l0.3 0l0.3 0l0.3 0l0.3 0l0.3 0l0.3 0l0.3 0l0.3 0.1l0.3 0l0.3 0l0.3 0l0.2 0l0.3 0.1l0.3 0l0.3 0l0.3 0l0.3 0.1l0.3 0l0.3 0l0.3 0l0.3 0l0.3 0l0.3 0l0.3 0l0.3 0l0.3 0" fill="none" stroke="#ff0000" stroke-width="0.65" stroke-linejoin="round" opacity="0.45"/>
<path d="M501 48.8l0.3 0l0.3 0l0.3 0l0.3 0l0.3 0l0.3 0l0.3 0l0.3 0l0.3 0l0.3 0l0.3 0l0.3 0l0.3 0l0.3 0l0.2 0l0.3 0l0.3 0l0.3 0l0.3 0l0.3 0l0.3 0l0.3 0l0.3 0l0.3 0l0.3 0l0.3 0l0.3 0l0.3 0l0.3 0l0.3 0l0.3 0l0.2 0l0.3 0l0.3 0l0.3 0l0.3 0l0.3 0l0.3 0l0.3 0l0.3 0l0.3 0l0.3 0l0.3 0l0.3 0l0.3 0l0.3 0l0.3 0l0.3 0l0.2 0l0.3 0l0.3 0l0.3 0l0.3 0l0.3 0l0.3 0l0.3 0l0.3 0l0.3 0l0.3 0l0.3 0l0.3 0l0.3 0l0.3 0l0.3 0l0.3 0l0.3 0l0.2 0.8l0.3 1l0.3 0.8l0.3 -0.3l0.3 -1.3l0.3 -1.2l0.3 -1.9l0.3 -1.8l0.3 -0.8l0.3 0.3l0.3 1.4l0.3 1.7l0.3 1.2l0.3 0.9l0.3 1.7l0.3 1.8l0.3 0.9l0.2 -0.5l0.3 -1.8l0.3 -2.4l0.3 -1.8l0.3 -3.3l0.3 -3.4l0.3 -1.9l0.3 0.3l0.3 2.9l0.3 4.5l0.3 3.3l0.3 5.7l0.3 6.6l0.3 4.3l0.3 0l0.3 -4.7l0.3 -7.6l0.2 -5.7l0.3 -7l0.3 -8.1l0.3 -5.2l0.3 -0.1l0.3 5l0.3 8.1l0.3 7.1l0.3 5.5l0.3 7.9l0.3 5.6l0.3 1.1l0.3 -3.8l0.3 -7.1l0.3 -7l0.3 -4.2l0.3 -6.7l0.2 -5.5l0.3 -1.8l0.3 2.3l0.3 5.3l0.3 6l0.3 3.5l0.3 4.5l0.3 4.4l0.3 2.3l0.3 -0.7l0.3 -3.1l0.3 -4.4l0.3 -3.4l0.3 -2.7l0.3 -7.2l0.3 -14.3l0.3 -9.1l0.2 10.5l0.3 18.8l0.3 18.7l0.3 10.6l0.3 -6.9l0.3 -10l0.3 -2.5l0.3 0.3l0.3 -0.5l0.3 -1.7l0.3 -2.4l0.3 -1.8l0.3 -2.2l0.3 -3.1l0.3 -2.3l0.3 -0.7l0.3 1.1l0.2 2.4l0.3 3l0.3 1.9l0.3 2.4l0.3 2.8l0.3 1.8l0.3 0l0.3 -1.7l0.3 -2.8l0.3 -2.4l0.3 -1.9l0.3 -2.7l0.3 -1.9l0.3 -0.2l0.3 1.5l0.3 2.6l0.3 2.2l0.2 1.7l0.3 2.4l0.3 1.8l0.3 0.2l0.3 -1.3l0.3 -2.4l0.3 -2.1l0.3 -1.8l0.3 -2.5l0.3 -1.7l0.3 -0.1l0.3 1.4l0.3 2.5l0.3 2l0.3 1.8l0.3 2.5l0.3 1.7l0.2 0.1l0.3 -1.5l0.3 -2.4l0.3 -2.1l0.3 -1.7l0.3 -2.5l0.3 -1.6l0.3 -0.1l0.3 1.4l0.3 2.4l0.3 2l0.3 1.7l0.3 2.3l0.3 1.5l0.3 0.2l0.3 -1.4l0.3 -2.2l0.3 -1.9l0.2 -1.6l0.3 -2.2l0.3 -1.4l0.3 -0.1l0.3 1.3l0.3 2.1l0.3 1.7l0.3 1.5l0.3 2.1l0.3 1.2l0.3 0l0.3 -1.4l0.3 -2l0.3 -1.4l0.3 -1.6l0.3 -1.8l0.3 -0.9l0.2 0.5l0.3 1.5l0.3 1.9l0.3 1.1l0.3 1.8l0.3 1.4l0.3 0l0.3 -1.2l0.3 -1.8l0.3 -1.1l0.3 -1.8l0.3 -1.4l0.3 -0.3l0.3 1l0.3 1.7l0.3 1.2l0.3 1.5l0.2 1.5l0.3 0.7l0.3 -0.6l0.3 -1.4l0.3 -1.5l0.3 -1l0.3 -1.6l0.3 -1.2l0.3 -0.3l0.3 0.7l0.3 1.4l0.3 1.4l0.3 1l0.3 1.5l0.3 1.2l0.3 0.4l0.3 -0.6l0.2 -1.3l0.3 -1.4l0.3 -0.9l0.3 -1.3l0.3 -1.3l0.3 -0.6l0.3 0.1l0.3 1l0.3 1.3l0.3 1.1l0.3 0.9l0.3 1.4l0.3 1l0.3 0.4l0.3 -0.4l0.3 -1.1l0.3 -1.3l0.2 -0.8l0.3 -1.1l0.3 -1.3l0.3 -0.9l0.3 -0.3l0.3 0.5l0.3 1l0.3 1.3l0.3 0.8l0.3 1.1l0.3 1.3l0.3 1l0.3 0.2l0.3 -0.5l0.3 -1.1l0.3 -1.3l0.3 -0.9l0.2 -1.1l0.3 -1.4l0.3 -0.9l0.3 -0.1l0.3 0.6l0.3 1.3l0.3 1.3l0.3 0.8l0.3 1.3l0.3 1.3l0.3 0.8l0.3 0l0.3 -0.8l0.3 -1.4l0.3 -1.3l0.3 -0.8l0.3 -1.4l0.2 -1.3l0.3 -0.6l0.3 0.2l0.3 1l0.3 1.5l0.3 1.1l0.3 1.1l0.3 1.4l0.3 1.2l0.3 0.4l0.3 -0.5l0.3 -1.3l0.3 -1.5l0.3 -0.9l0.3 -1.4l0.3 -1.5l0.3 -1l0.2 0l0.3 0.9l0.3 1.5l0.3 1.5l0.3 1l0.3 1.6l0.3 1.4l0.3 0.5l0.3 -0.5l0.3 -1.4l0.3 -1.7l0.3 -1l0.3 -1.6l0.3 -1.6l0.3 -0.8l0.3 0.2l0.3 1.2l0.2 1.6l0.3 1.3l0.3 1.3l0.3 1.7l0.3 1.1l0.3 0.1l0.3 -1l0.3 -1.6l0.3 -1.5l0.3 -1.1l0.3 -1.6l0.3 -1.3l0.3 -0.4l0.3 0.8l0.3 1.5l0.3 1.6l0.3 1l0.2 1.6l0.3 1.4l0.3 0.6l0.3 -0.5l0.3 -1.4l0.3 -1.6l0.3 -1l0.3 -1.5l0.3 -1.5l0.3 -0.9l0.3 0.3l0.3 1.1l0.3 1.7l0.3 1.1l0.3 1.3l0.3 1.5l0.3 1.1l0.3 0l0.2 -0.9l0.3 -1.5l0.3 -1.3l0.3 -0.9l0.3 -1.5l0.3 -1.1l0.3 -0.4l0.3 0.5l0.3 1.2l0.3 1.4l0.3 0.8l0.3 1.2l0.3 1.2l0.3 0.7l0.3 -0.1l0.3 -0.9l0.3 -1.2l0.2 -1l0.3 -0.8l0.3 -1.1l0.3 -0.9l0.3 -0.2l0.3 0.4l0.3 0.9l0.3 1l0.3 0.6l0.3 0.8l0.3 0.9l0.3 0.5l0.3 0.2l0.3 -0.3l0.3 -0.5l0.3 -0.4l0.3 -0.3l0.2 0l0.3 0.1l0.3 -0.2l0.3 -0.4l0.3 -0.4l0.3 -0.5l0.3 -0.8l0.3 -0.8l0.3 -0.4l0.3 0.1l0.3 0.7l0.3 0.9l0.3 0.8l0.3 0.7l0.3 1.1l0.3 0.8l0.3 0.3l0.2 -0.5l0.3 -1l0.3 -1.1l0.3 -0.7l0.3 -1.2l0.3 -1.1l0.3 -0.5l0.3 0.2l0.3 1l0.3 1.3l0.3 0.8l0.3 1.2l0.3 1.2l0.3 0.8l0.3 -0.1l0.3 -0.9l0.3 -1.3l0.2 -1l0.3 -0.9l0.3 -1.3l0.3 -0.9l0.3 -0.1l0.3 0.6l0.3 1.2l0.3 1.2l0.3 0.8l0.3 1.2l0.3 1l0.3 0.3l0.3 -0.5l0.3 -1.1l0.3 -1.2l0.3 -0.7l0.3 -1.2l0.2 -1l0.3 -0.5l0.3 0.4l0.3 1l0.3 1.2l0.3 0.7l0.3 1.1l0.3 1.1l0.3 0.5l0.3 -0.2l0.3 -0.9l0.3 -1.2l0.3 -0.7l0.3 -1l0.3 -1.1l0.3 -0.6l0.3 0.1l0.2 0.8l0.3 1.1l0.3 0.8l0.3 0.9l0.3 1.1l0.3 0.7l0.3 -0.1l0.3 -0.7l0.3 -1.1l0.3 -0.8l0.3 -0.8l0.3 -1.1l0.3 -0.7l0.3 0l0.3 0.7l0.3 1l0.3 0.9l0.2 0.7l0.3 1l0.3 0.6l0.3 0.1l0.3 -0.6l0.3 -0.9l0.3 -0.9l0.3 -0.6l0.3 -0.9l0.3 -0.6l0.3 -0.2l0.3 0.5l0.3 0.8l0.3 0.8l0.3 0.5l0.3 0.9l0.3 0.6l0.3 0.2l0.2 -0.3l0.3 -0.7l0.3 -0.7l0.3 -0.5l0.3 -0.6l0.3 -0.7l0.3 -0.3l0.3 0.1l0.3 0.4l0.3 0.7l0.3 0.6l0.3 0.4l0.3 0.6l0.3 0.5l0.3 0.1l0.3 -0.2l0.3 -0.5l0.2 -0.6l0.3 -0.3l0.3 -0.5l0.3 -0.5l0.3 -0.3l0.3 -0.2l0.3 0.2l0.3 0.4l0.3 0.5l0.3 0.4l0.3 0.3l0.3 0.5l0.3 0.3l0.3 0.2l0.3 -0.1l0.3 -0.4l0.3 -0.4l0.2 -0.4l0.3 -0.2l0.3 -0.4l0.3 -0.4l0.3 -0.2l0.3 0l0.3 0.2l0.3 0.4l0.3 0.4l0.3 0.3l0.3 0.5l0.3 0.3l0.3 0.2l0.3 -0.1l0.3 -0.6" fill="none" stroke="#000000" stroke-width="0.85" stroke-linejoin="round"/>
<path d="M501 48.8l0.3 0l0.3 0l0.3 0l0.3 0l0.3 0l0.3 0l0.3 0l0.3 0l0.3 0l0.3 0l0.3 0l0.3 0l0.3 0l0.3 0l0.2 0l0.3 0l0.3 0l0.3 0l0.3 0l0.3 0l0.3 0l0.3 0l0.3 0l0.3 0l0.3 0l0.3 0l0.3 0l0.3 0l0.3 0l0.3 0l0.3 0l0.2 0l0.3 0l0.3 0l0.3 0l0.3 0l0.3 0l0.3 0l0.3 0l0.3 0l0.3 0l0.3 0l0.3 0l0.3 0l0.3 0l0.3 0l0.3 0l0.3 0l0.2 0l0.3 0l0.3 0l0.3 0l0.3 0l0.3 0l0.3 0l0.3 0l0.3 0l0.3 0l0.3 0l0.3 0l0.3 0l0.3 0l0.3 0l0.3 0l0.3 0l0.3 0l0.2 0l0.3 0l0.3 0l0.3 0l0.3 0l0.3 0l0.3 0l0.3 0l0.3 0l0.3 0l0.3 0l0.3 0l0.3 0l0.3 0l0.3 0.6l0.3 0.7l0.3 0.1l0.2 -0.5l0.3 -0.9l0.3 -1.3l0.3 -2.2l0.3 -1.9l0.3 -0.4l0.3 1.5l0.3 2.7l0.3 2.1l0.3 3.5l0.3 4.1l0.3 2.5l0.3 -0.6l0.3 -3.6l0.3 -4.8l0.3 -3.4l0.3 -6.1l0.2 -6.4l0.3 -3.4l0.3 1.7l0.3 6.5l0.3 7.9l0.3 6.2l0.3 9.8l0.3 7.3l0.3 1.6l0.3 -4.9l0.3 -9.1l0.3 -8.4l0.3 -6l0.3 -9l0.3 -6.4l0.3 -0.9l0.3 4.7l0.2 8.4l0.3 7.7l0.3 5.9l0.3 8.8l0.3 6.3l0.3 0.9l0.3 -4.8l0.3 -8.5l0.3 -7.5l0.3 -6l0.3 -8.8l0.3 -6.2l0.3 -0.8l0.3 4.8l0.3 8.5l0.3 7.5l0.3 6l0.2 8.7l0.3 6.1l0.3 1l0.3 -4.7l0.3 -8.4l0.3 -7.7l0.3 -6.3l0.3 -9.3l0.3 -6.8l0.3 -1.1l0.3 5.1l0.3 9.1l0.3 8.3l0.3 6.7l0.3 9.5l0.3 6.5l0.3 0.6l0.2 -5.5l0.3 -9l0.3 -7.9l0.3 -6l0.3 -8.6l0.3 -5.9l0.3 -0.5l0.3 4.9l0.3 8.1l0.3 7.1l0.3 5.2l0.3 7.3l0.3 4.8l0.3 0.2l0.3 -4.2l0.3 -6.6l0.3 -5.7l0.2 -4l0.3 -5.6l0.3 -3.7l0.3 -0.2l0.3 2.7l0.3 4.9l0.3 4.7l0.3 3.2l0.3 4.8l0.3 3.7l0.3 1l0.3 -2.2l0.3 -4.3l0.3 -4.4l0.3 -2.8l0.3 -4.3l0.3 -3.6l0.2 -1.3l0.3 1.2l0.3 3.5l0.3 4.3l0.3 2.7l0.3 4.4l0.3 4.3l0.3 2.5l0.3 -0.6l0.3 -3.3l0.3 -4.7l0.3 -3.5l0.3 -4l0.3 -5l0.3 -3.5l0.3 -0.4l0.3 2.7l0.3 4.7l0.2 4.7l0.3 3.1l0.3 5l0.3 4.4l0.3 1.9l0.3 -1.4l0.3 -3.9l0.3 -5.1l0.3 -3.4l0.3 -4.2l0.3 -5l0.3 -3.4l0.3 -0.6l0.3 2.8l0.3 4.6l0.3 4.6l0.3 2.6l0.2 4l0.3 3.7l0.3 1.9l0.3 -0.5l0.3 -2.6l0.3 -3.6l0.3 -3.3l0.3 -1.9l0.3 -3l0.3 -2.6l0.3 -1.3l0.3 0.3l0.3 1.9l0.3 2.8l0.3 2.6l0.3 1.5l0.3 2.6l0.2 2.3l0.3 1.2l0.3 -0.3l0.3 -1.7l0.3 -2.4l0.3 -2.3l0.3 -1.4l0.3 -2.3l0.3 -2l0.3 -1l0.3 0.4l0.3 1.6l0.3 2.2l0.3 1.9l0.3 1.3l0.3 2l0.3 1.6l0.2 0.6l0.3 -0.6l0.3 -1.5l0.3 -1.9l0.3 -1.3l0.3 -1.3l0.3 -1.7l0.3 -1.2l0.3 -0.3l0.3 0.7l0.3 1.4l0.3 1.7l0.3 0.9l0.3 1.5l0.3 1.4l0.3 0.9l0.3 -0.1l0.2 -0.9l0.3 -1.5l0.3 -1.3l0.3 -0.9l0.3 -1.4l0.3 -1.1l0.3 -0.5l0.3 0.5l0.3 1.1l0.3 1.3l0.3 0.9l0.3 1.1l0.3 1.3l0.3 0.9l0.3 0.1l0.3 -0.8l0.3 -1.3l0.2 -1.2l0.3 -0.9l0.3 -1.4l0.3 -1.1l0.3 -0.4l0.3 0.4l0.3 1.2l0.3 1.4l0.3 0.8l0.3 1.4l0.3 1.3l0.3 0.7l0.3 -0.2l0.3 -1l0.3 -1.5l0.3 -1l0.3 -1.1l0.2 -1.4l0.3 -0.9l0.3 -0.1l0.3 0.9l0.3 1.4l0.3 1.2l0.3 1l0.3 1.4l0.3 1.1l0.3 0.2l0.3 -0.7l0.3 -1.4l0.3 -1.3l0.3 -0.9l0.3 -1.4l0.3 -1.2l0.3 -0.3l0.2 0.6l0.3 1.3l0.3 1.3l0.3 0.9l0.3 1.4l0.3 1.2l0.3 0.4l0.3 -0.5l0.3 -1.2l0.3 -1.3l0.3 -0.9l0.3 -1.3l0.3 -1.2l0.3 -0.6l0.3 0.4l0.3 1.1l0.3 1.4l0.2 0.8l0.3 1.3l0.3 1.2l0.3 0.6l0.3 -0.3l0.3 -1l0.3 -1.3l0.3 -0.8l0.3 -1.2l0.3 -1.2l0.3 -0.7l0.3 0.1l0.3 0.9l0.3 1.3l0.3 0.9l0.3 0.9l0.3 1.2l0.2 0.9l0.3 0l0.3 -0.7l0.3 -1.1l0.3 -1.1l0.3 -0.7l0.3 -1.2l0.3 -0.9l0.3 -0.3l0.3 0.4l0.3 1l0.3 1.1l0.3 0.7l0.3 1l0.3 1l0.3 0.6l0.3 0l0.3 -0.7l0.2 -1.1l0.3 -0.9l0.3 -0.7l0.3 -1l0.3 -0.9l0.3 -0.4l0.3 0.3l0.3 0.8l0.3 1.1l0.3 0.7l0.3 0.8l0.3 1.1l0.3 0.8l0.3 0.2l0.3 -0.5l0.3 -0.9l0.3 -1.1l0.2 -0.6l0.3 -1l0.3 -1.1l0.3 -0.6l0.3 0l0.3 0.7l0.3 1l0.3 1l0.3 0.8l0.3 1.1l0.3 1l0.3 0.4l0.3 -0.4l0.3 -0.9l0.3 -1.2l0.3 -0.7l0.3 -1l0.2 -1.2l0.3 -0.7l0.3 0l0.3 0.7l0.3 1.1l0.3 1l0.3 0.8l0.3 1.1l0.3 0.9l0.3 0.4l0.3 -0.4l0.3 -1l0.3 -1.1l0.3 -0.7l0.3 -1l0.3 -1.1l0.3 -0.6l0.2 0.1l0.3 0.7l0.3 1.1l0.3 1l0.3 0.7l0.3 1.2l0.3 0.8l0.3 0.2l0.3 -0.5l0.3 -1.1l0.3 -1l0.3 -0.7l0.3 -1.1l0.3 -0.9l0.3 -0.5l0.3 0.3l0.3 0.9l0.2 1l0.3 0.8l0.3 0.9l0.3 1l0.3 0.7l0.3 0l0.3 -0.7l0.3 -1l0.3 -0.9l0.3 -0.7l0.3 -1l0.3 -0.9l0.3 -0.2l0.3 0.4l0.3 0.9l0.3 1l0.3 0.6l0.2 0.8l0.3 0.9l0.3 0.5l0.3 0l0.3 -0.7l0.3 -0.9l0.3 -0.8l0.3 -0.5l0.3 -0.9l0.3 -0.7l0.3 -0.2l0.3 0.3l0.3 0.7l0.3 0.8l0.3 0.5l0.3 0.7l0.3 0.8l0.2 0.5l0.3 0.1l0.3 -0.4l0.3 -0.7l0.3 -0.8l0.3 -0.4l0.3 -0.7l0.3 -0.7l0.3 -0.4l0.3 0l0.3 0.5l0.3 0.7l0.3 0.7l0.3 0.4l0.3 0.7l0.3 0.7l0.3 0.3l0.2 -0.2l0.3 -0.5l0.3 -0.8l0.3 -0.5l0.3 -0.6l0.3 -0.7l0.3 -0.5l0.3 -0.2l0.3 0.3l0.3 0.7l0.3 0.7l0.3 0.4l0.3 0.7l0.3 0.7l0.3 0.4l0.3 -0.1l0.3 -0.4l0.3 -0.8l0.2 -0.6l0.3 -0.4l0.3 -0.8l0.3 -0.5l0.3 -0.2l0.3 0.3l0.3 0.6l0.3 0.7l0.3 0.4l0.3 0.6l0.3 0.7l0.3 0.4l0.3 -0.1l0.3 -0.4l0.3 -0.7l0.3 -0.6l0.3 -0.4l0.2 -0.7l0.3 -0.5l0.3 -0.2l0.3 0.3l0.3 0.5l0.3 0.7l0.3 0.4l0.3 0.5l0.3 0.6l0.3 0.4l0.3 0l0.3 -0.4l0.3 -0.6l0.3 -0.6l0.3 -0.3l0.3 -0.6l0.3 -0.5l0.2 -0.2l0.3 0.2l0.3 0.5l0.3 0.6l0.3 0.3l0.3 0.5l0.3 0.5l0.3 0.4l0.3 0.1l0.3 -0.4l0.3 -0.4l0.3 -0.6l0.3 -0.4l0.3 -0.5l0.3 -0.5" fill="none" stroke="#0000ff" stroke-width="0.85" stroke-linejoin="round"/>
<path d="M501 48.8l0.3 0l0.3 0l0.3 0l0.3 0l0.3 -0.1l0.3 0l0.3 0l0.3 0.1l0.3 0.1l0.3 0l0.3 0l0.3 -0.1l0.3 -0.1l0.3 -0.1l0.2 0l0.3 0.1l0.3 0.1l0.3 0.1l0.3 0.2l0.3 0l0.3 -0.2l0.3 -0.1l0.3 -0.1l0.3 -0.2l0.3 -0.1l0.3 0.1l0.3 0.2l0.3 0.1l0.3 0.3l0.3 0.1l0.3 0l0.2 -0.3l0.3 -0.1l0.3 -0.3l0.3 -0.2l0.3 0l0.3 0.2l0.3 0.2l0.3 0.2l0.3 0.3l0.3 0.2l0.3 0l0.3 -0.3l0.3 -0.3l0.3 -0.2l0.3 -0.4l0.3 -0.2l0.3 0.1l0.2 0.4l0.3 0.3l0.3 0.3l0.3 0.3l0.3 0.1l0.3 0l0.3 -0.2l0.3 -0.2l0.3 -0.3l0.3 -0.3l0.3 -0.4l0.3 -0.2l0.3 0.1l0.3 0.5l0.3 0.3l0.3 0.6l0.3 0.3l0.3 -0.2l0.2 -0.6l0.3 -0.5l0.3 -0.5l0.3 0.4l0.3 0.5l0.3 0.7l0.3 0.3l0.3 -0.3l0.3 -0.7l0.3 -0.6l0.3 -1.1l0.3 -0.5l0.3 1l0.3 1.6l0.3 3l0.3 3.9l0.3 2.3l0.2 -1l0.3 -3l0.3 -4.2l0.3 -2.6l0.3 0.8l0.3 -0.3l0.3 -1.6l0.3 -1.1l0.3 1l0.3 2.1l0.3 1.8l0.3 1.7l0.3 -1.1l0.3 -2.1l0.3 -2.3l0.3 -1.1l0.3 1.7l0.2 1.9l0.3 2.5l0.3 1.1l0.3 -1.4l0.3 -2.2l0.3 -1.8l0.3 -1.9l0.3 0.1l0.3 1.7l0.3 1.7l0.3 1.9l0.3 1.5l0.3 -0.2l0.3 -1.6l0.3 -1.6l0.3 -1.5l0.3 -1.5l0.2 -0.2l0.3 1.2l0.3 1.5l0.3 0.7l0.3 0.8l0.3 0.5l0.3 0l0.3 -0.3l0.3 0.1l0.3 0.5l0.3 0.3l0.3 -0.2l0.3 -0.7l0.3 -0.9l0.3 -0.7l0.3 -1.1l0.3 -0.8l0.2 -0.1l0.3 1l0.3 1.2l0.3 1l0.3 1.3l0.3 0.3l0.3 -1.1l0.3 -1.3l0.3 -1.4l0.3 -1l0.3 0.4l0.3 1.5l0.3 1l0.3 1.3l0.3 0.5l0.3 -0.7l0.3 -1.2l0.2 -0.6l0.3 -0.9l0.3 -0.6l0.3 -0.1l0.3 0.3l0.3 0.8l0.3 0.7l0.3 0.9l0.3 0.7l0.3 -0.6l0.3 -1.2l0.3 -1.3l0.3 -0.1l0.3 1l0.3 0.9l0.3 1.3l0.3 0.6l0.2 -0.6l0.3 -1.4l0.3 -1l0.3 -1.3l0.3 -0.4l0.3 1l0.3 1.3l0.3 1l0.3 1.2l0.3 0.1l0.3 -1l0.3 -1.1l0.3 -0.9l0.3 -0.8l0.3 0.1l0.3 0.9l0.3 0.7l0.2 0.7l0.3 0.2l0.3 -1.4l0.3 0.5l0.3 0.7l0.3 0.7l0.3 0l0.3 -0.8l0.3 -0.7l0.3 -1l0.3 -0.7l0.3 0.1l0.3 1l0.3 0.8l0.3 1l0.3 0.8l0.3 -0.1l0.3 -1.1l0.2 -0.8l0.3 -1.2l0.3 -0.8l0.3 0.3l0.3 1.1l0.3 0.9l0.3 1.1l0.3 0.7l0.3 -0.1l0.3 -1l0.3 -0.9l0.3 -0.8l0.3 -0.9l0.3 -0.2l0.3 0.6l0.3 0.9l0.3 0.6l0.2 0.8l0.3 0.3l0.3 -0.5l0.3 -1.9l0.3 0.5l0.3 0.7l0.3 0.8l0.3 0.6l0.3 -0.2l0.3 -0.7l0.3 -0.7l0.3 -0.7l0.3 -0.5l0.3 -0.1l0.3 0.5l0.3 0.5l0.3 0.3l0.2 -0.6l0.3 -0.2l0.3 0.4l0.3 0.4l0.3 0.4l0.3 0.4l0.3 0.4l0.3 0.1l0.3 0l0.3 0l0.3 -0.2l0.3 -0.4l0.3 -0.6l0.3 -0.4l0.3 -0.7l0.3 -0.3l0.3 0.4l0.2 0.8l0.3 0.6l0.3 0.8l0.3 0l0.3 -0.9l0.3 -0.7l0.3 -0.9l0.3 0.2l0.3 0.8l0.3 0.7l0.3 0.9l0.3 0.1l0.3 -0.6l0.3 -0.8l0.3 -0.8l0.3 -0.8l0.3 0.1l0.2 0.9l0.3 0.7l0.3 1l0.3 0.4l0.3 -0.4l0.3 -0.9l0.3 -0.6l0.3 -0.7l0.3 -0.2l0.3 0.5l0.3 0.6l0.3 0.2l0.3 -0.4l0.3 -0.1l0.3 0.4l0.3 0.4l0.3 0.6l0.2 0.3l0.3 -0.3l0.3 -0.7l0.3 -0.4l0.3 -0.7l0.3 -0.4l0.3 0.3l0.3 0.6l0.3 0.5l0.3 0.6l0.3 0.4l0.3 -0.5l0.3 -0.7l0.3 -0.8l0.3 0l0.3 0.7l0.3 0.5l0.2 0.7l0.3 0.3l0.3 -0.4l0.3 -0.7l0.3 -0.5l0.3 -0.9l0.3 -0.4l0.3 0.2l0.3 0.8l0.3 0.6l0.3 0.8l0.3 0.7l0.3 0l0.3 -0.7l0.3 -0.8l0.3 -0.7l0.3 -0.8l0.2 0l0.3 0.7l0.3 0.8l0.3 0.7l0.3 0.8l0.3 0l0.3 -0.8l0.3 -0.7l0.3 -0.9l0.3 -0.6l0.3 0.1l0.3 0.8l0.3 0.6l0.3 0.8l0.3 0.6l0.3 -0.1l0.3 -0.6l0.2 -0.6l0.3 -0.4l0.3 -0.6l0.3 -0.3l0.3 0.1l0.3 0.6l0.3 0.5l0.3 0.6l0.3 0.6l0.3 -0.1l0.3 -0.6l0.3 -0.6l0.3 -0.7l0.3 -0.4l0.3 0.2l0.3 0.6l0.3 0.5l0.2 0.6l0.3 0.3l0.3 -0.1l0.3 -0.5l0.3 -0.4l0.3 -0.4l0.3 -0.5l0.3 -0.1l0.3 0.3l0.3 0.5l0.3 0.5l0.3 0.6l0.3 0.3l0.3 -0.3l0.3 -0.7l0.3 -0.5l0.3 -0.7l0.3 -0.3l0.2 0.2l0.3 0.8l0.3 0.5l0.3 0.7l0.3 0.3l0.3 -0.6l0.3 -0.7l0.3 -0.9l0.3 0.1l0.3 0.8l0.3 0.6l0.3 0.7l0.3 0l0.3 -0.7l0.3 -0.6l0.3 -0.8l0.3 -0.5l0.2 0.1l0.3 0.7l0.3 0.6l0.3 0.7l0.3 0.6l0.3 -0.1l0.3 -0.7l0.3 -0.6l0.3 -0.7l0.3 -0.5l0.3 0.3l0.3 0.7l0.3 0.5l0.3 0.8l0.3 0.3l0.3 -0.4l0.3 -0.7l0.2 -0.5l0.3 -0.6l0.3 -0.3l0.3 0.3l0.3 0.5l0.3 0.3l0.3 0.1l0.3 0.1l0.3 0.2l0.3 0.4l0.3 0.3l0.3 -0.1l0.3 -0.5l0.3 -0.4l0.3 -0.6l0.3 -0.5l0.3 0.1l0.2 0.6l0.3 0.5l0.3 0.5l0.3 0.2l0.3 -0.9l0.3 -0.7l0.3 0l0.3 0.4l0.3 0.4l0.3 0.6l0.3 0.5l0.3 0l0.3 -0.5l0.3 -0.5l0.3 -0.5l0.3 -0.5l0.3 -0.3l0.2 0.3l0.3 0.6l0.3 0.4l0.3 0.5l0.3 0.2l0.3 -0.1l0.3 -1.5l0.3 0.8l0.3 0.4l0.3 0.6l0.3 0l0.3 -0.5l0.3 -0.6l0.3 -0.7l0.3 -0.5l0.3 0.1l0.3 0.7l0.2 0.6l0.3 0.7l0.3 0.5l0.3 -0.1l0.3 -0.5l0.3 -0.5l0.3 -0.4l0.3 -0.5l0.3 -0.5l0.3 -0.1l0.3 0.3l0.3 0.7l0.3 0.4l0.3 0.7l0.3 0.5l0.3 -0.2l0.3 -0.7l0.2 -0.6l0.3 -0.8l0.3 -0.3l0.3 0.4l0.3 0.8l0.3 0.7l0.3 0.5l0.3 -0.4l0.3 -0.7l0.3 -0.8l0.3 -0.3l0.3 0.6l0.3 0.6l0.3 0.7l0.3 0.4l0.3 -0.5l0.3 -0.7l0.2 -0.6l0.3 -0.6l0.3 0.1l0.3 0.6l0.3 0.6l0.3 0.7l0.3 0.4l0.3 -0.2l0.3 -0.7l0.3 -0.5l0.3 -0.6l0.3 -0.4l0.3 0.1l0.3 0.5l0.3 0.5l0.3 0.4l0.3 0.6l0.3 0.3l0.2 -0.1l0.3 -0.5l0.3 -0.6l0.3 -0.4l0.3 -0.6l0.3 -0.2l0.3 0.4l0.3 0.6l0.3 0.5l0.3 0.7l0.3 0.2l0.3 -0.4l0.3 -0.6l0.3 -0.5l0.3 -0.6l0.3 -0.3l0.3 0.1l0.2 0.5l0.3 0.6l0.3 0.4l0.3 0.6l0.3 0.2l0.3 -0.3l0.3 -0.7l0.3 -0.4l0.3 -0.6l0.3 -0.4l0.3 0.2l0.3 0.6l0.3 0.5l0.3 0.6l0.3 0.4l0.3 -0.1l0.3 -0.6l0.2 -0.5l0.3 -0.6l0.3 -0.4l0.3 0.3l0.3 0.6l0.3 0.3l0.3 0.4l0.3 0.2l0.3 0l0.3 -0.2l0.3 -0.5l0.3 0.4l0.3 0l0.3 0.2l0.3 -0.7" fill="none" stroke="#ff0000" stroke-width="0.8" stroke-linejoin="round"/>
</g>
<g clip-path="url(#c01)">
<path d="M66.4 222.3l0.3 -0.5l0.3 -0.6l0.3 -0.6l0.3 -0.6l0.3 -0.7l0.2 -0.6l0.3 -0.7l0.3 -0.6l0.3 -0.6l0.3 -0.6l0.3 -0.5l0.3 -0.4l0.3 -0.4l0.3 -0.3l0.3 -0.2l0.3 -0.1l0.3 -0.1l0.3 0.1l0.3 0.1l0.3 0.3l0.3 0.3l0.3 0.4l0.2 0.4l0.3 0.6l0.3 0.5l0.3 0.6l0.3 0.7l0.3 0.6l0.3 0.6l0.3 0.7l0.3 0.6l0.3 0.6l0.3 0.5l0.3 0.5l0.3 0.4l0.3 0.4l0.3 0.3l0.3 0.1l0.3 0.2l0.2 0l0.3 -0.1l0.3 -0.1l0.3 -0.2l0.3 -0.4l0.3 -0.3l0.3 -0.5l0.3 -0.5l0.3 -0.5l0.3 -0.6l0.3 -0.6l0.3 -0.6l0.3 -0.6l0.3 -0.6l0.3 -0.6l0.3 -0.6l0.3 -0.5l0.2 -0.4l0.3 -0.4l0.3 -0.4l0.3 -0.2l0.3 -0.2l0.3 -0.1l0.3 0l0.3 0l0.3 0.2l0.3 0.3l0.3 0.3l0.3 0.4l0.3 0.5l0.3 0.5l0.3 0.5l0.3 0.5l0.3 0.3l0.2 0.2l0.3 0l0.3 -0.2l0.3 -0.4l0.3 -0.5l0.3 -0.4l0.3 -0.2l0.3 0.4l0.3 1.1l0.3 2l0.3 3l0.3 3.9l0.3 4.5l0.3 4.6l0.3 4.3l0.3 3.1l0.3 1.5l0.2 -0.5l0.3 -2.8l0.3 -5.1l0.3 -6.8l0.3 -8l0.3 -8.1l0.3 -7.5l0.3 -5.8l0.3 -3.7l0.3 -1.3l0.3 1.2l0.3 3.2l0.3 4.6l0.3 5.3l0.3 5.2l0.3 4.6l0.3 3.6l0.2 2.2l0.3 1l0.3 0l0.3 -1l0.3 -1.4l0.3 -1.7l0.3 -1.6l0.3 -1.5l0.3 -1.2l0.3 -0.9l0.3 -0.6l0.3 -0.4l0.3 -0.2l0.3 -0.1l0.3 -0.1l0.3 0l0.2 -0.1l0.3 0l0.3 -0.1l0.3 -0.1l0.3 -0.1l0.3 -0.1l0.3 -0.1l0.3 -0.1l0.3 0l0.3 -0.1l0.3 0l0.3 -0.1l0.3 0l0.3 0l0.3 0l0.3 0l0.3 0.1l0.2 0l0.3 0.1l0.3 0.1l0.3 0l0.3 0.1l0.3 0.1l0.3 0.2l0.3 0.1l0.3 0.1l0.3 0.2l0.3 0.1l0.3 0.2l0.3 0.2l0.3 0.2l0.3 0.2l0.3 0.2l0.3 0.2l0.2 0.2l0.3 0.2l0.3 0.2l0.3 0.3l0.3 0.2l0.3 0.2l0.3 0.2l0.3 0.3l0.3 0.2l0.3 0.2l0.3 0.3l0.3 0.2l0.3 0.2l0.3 0.3l0.3 0.2l0.3 0.2l0.3 0.2l0.2 0.2l0.3 0.2l0.3 0.2l0.3 0.2l0.3 0.1l0.3 0.2l0.3 0.2l0.3 0.1l0.3 0.1l0.3 0.2l0.3 0.1l0.3 0.1l0.3 0.1l0.3 0l0.3 0.1l0.3 0.1l0.3 0l0.2 0l0.3 0l0.3 0l0.3 0l0.3 0l0.3 0l0.3 -0.1l0.3 0l0.3 -0.1l0.3 -0.1l0.3 -0.1l0.3 -0.1l0.3 -0.1l0.3 -0.1l0.3 -0.2l0.3 -0.1l0.3 -0.2l0.2 -0.1l0.3 -0.2l0.3 -0.2l0.3 -0.2l0.3 -0.2l0.3 -0.2l0.3 -0.2l0.3 -0.2l0.3 -0.2l0.3 -0.3l0.3 -0.2l0.3 -0.2l0.3 -0.2l0.3 -0.3l0.3 -0.2l0.3 -0.2l0.3 -0.2l0.2 -0.3l0.3 -0.2l0.3 -0.2l0.3 -0.2l0.3 -0.2l0.3 -0.2l0.3 -0.2l0.3 -0.2l0.3 -0.2l0.3 -0.2l0.3 -0.2l0.3 -0.1l0.3 -0.2l0.3 -0.1l0.3 -0.1l0.3 -0.2l0.3 -0.1l0.2 -0.1l0.3 -0.1l0.3 0l0.3 -0.1l0.3 0l0.3 -0.1l0.3 0l0.3 0l0.3 0l0.3 0l0.3 0l0.3 0l0.3 0.1l0.3 0l0.3 0.1l0.3 0.1l0.2 0.1l0.3 0.1l0.3 0.1l0.3 0.1l0.3 0.2l0.3 0.1l0.3 0.2l0.3 0.1l0.3 0.2l0.3 0.2l0.3 0.2l0.3 0.2l0.3 0.2l0.3 0.2l0.3 0.2l0.3 0.2l0.3 0.2l0.2 0.2l0.3 0.2l0.3 0.3l0.3 0.2l0.3 0.2l0.3 0.2l0.3 0.2l0.3 0.3l0.3 0.2l0.3 0.2l0.3 0.2l0.3 0.2l0.3 0.2l0.3 0.2l0.3 0.2l0.3 0.2l0.3 0.1l0.2 0.2l0.3 0.2l0.3 0.1l0.3 0.1l0.3 0.2l0.3 0.1l0.3 0.1l0.3 0.1l0.3 0.1l0.3 0.1l0.3 0l0.3 0.1l0.3 0l0.3 0l0.3 0l0.3 0l0.3 0l0.2 0l0.3 0l0.3 -0.1l0.3 0l0.3 -0.1l0.3 -0.1l0.3 -0.1l0.3 -0.1l0.3 -0.1l0.3 -0.1l0.3 -0.1l0.3 -0.2l0.3 -0.1l0.3 -0.2l0.3 -0.2l0.3 -0.1l0.3 -0.2l0.2 -0.2l0.3 -0.2l0.3 -0.2l0.3 -0.2l0.3 -0.2l0.3 -0.2l0.3 -0.2l0.3 -0.2l0.3 -0.2l0.3 -0.3l0.3 -0.2l0.3 -0.2l0.3 -0.2l0.3 -0.2l0.3 -0.2l0.3 -0.2l0.3 -0.2l0.2 -0.2l0.3 -0.2l0.3 -0.2l0.3 -0.2l0.3 -0.2l0.3 -0.2l0.3 -0.1l0.3 -0.2l0.3 -0.1l0.3 -0.1l0.3 -0.2l0.3 -0.1l0.3 -0.1l0.3 -0.1l0.3 -0.1l0.3 0l0.3 -0.1l0.2 0l0.3 -0.1l0.3 0l0.3 0l0.3 0l0.3 0l0.3 0l0.3 0l0.3 0.1l0.3 0l0.3 0.1l0.3 0.1l0.3 0.1l0.3 0.1l0.3 0.1l0.3 0.1l0.3 0.1l0.2 0.2l0.3 0.1l0.3 0.2l0.3 0.1l0.3 0.2l0.3 0.2l0.3 0.2l0.3 0.2l0.3 0.1l0.3 0.2l0.3 0.2l0.3 0.2l0.3 0.3l0.3 0.2l0.3 0.2l0.3 0.2l0.2 0.2l0.3 0.2l0.3 0.2l0.3 0.2l0.3 0.2l0.3 0.2l0.3 0.2l0.3 0.2l0.3 0.2l0.3 0.2l0.3 0.2l0.3 0.1l0.3 0.2l0.3 0.2l0.3 0.1l0.3 0.2l0.3 0.1l0.2 0.1l0.3 0.1l0.3 0.1l0.3 0.1l0.3 0.1l0.3 0.1l0.3 0l0.3 0.1l0.3 0l0.3 0l0.3 0l0.3 0l0.3 0l0.3 0l0.3 0l0.3 -0.1l0.3 0l0.2 -0.1l0.3 -0.1l0.3 0l0.3 -0.1l0.3 -0.1l0.3 -0.2l0.3 -0.1l0.3 -0.1l0.3 -0.2l0.3 -0.1l0.3 -0.2l0.3 -0.1l0.3 -0.2l0.3 -0.2l0.3 -0.2l0.3 -0.2l0.3 -0.2l0.2 -0.2l0.3 -0.2l0.3 -0.2l0.3 -0.2l0.3 -0.2l0.3 -0.2l0.3 -0.2l0.3 -0.2l0.3 -0.2l0.3 -0.2l0.3 -0.2l0.3 -0.2l0.3 -0.2l0.3 -0.2l0.3 -0.1l0.3 -0.2l0.3 -0.2l0.2 -0.2l0.3 -0.1l0.3 -0.2l0.3 -0.1l0.3 -0.2l0.3 -0.1l0.3 -0.1l0.3 -0.1l0.3 -0.1l0.3 -0.1l0.3 -0.1l0.3 0l0.3 -0.1l0.3 0l0.3 -0.1l0.3 0l0.3 0l0.2 0l0.3 0l0.3 0l0.3 0l0.3 0.1l0.3 0l0.3 0.1l0.3 0.1l0.3 0.1l0.3 0.1l0.3 0.1l0.3 0.1l0.3 0.1l0.3 0.1l0.3 0.2l0.3 0.1l0.3 0.2l0.2 0.1l0.3 0.2l0.3 0.2l0.3 0.1l0.3 0.2l0.3 0.2l0.3 0.2l0.3 0.2l0.3 0.2l0.3 0.2l0.3 0.2l0.3 0.2l0.3 0.2l0.3 0.2l0.3 0.2l0.3 0.2l0.3 0.2l0.2 0.2l0.3 0.2l0.3 0.1l0.3 0.2l0.3 0.2l0.3 0.2l0.3 0.1l0.3 0.2l0.3 0.1l0.3 0.2l0.3 0.1l0.3 0.1l0.3 0.1l0.3 0.1l0.3 0.1l0.3 0.1l0.2 0.1l0.3 0.1l0.3 0l0.3 0.1l0.3 0l0.3 0l0.3 0l0.3 0l0.3 0l0.3 0l0.3 0l0.3 -0.1l0.3 0l0.3 -0.1l0.3 0l0.3 -0.1l0.3 -0.1l0.2 -0.1l0.3 -0.1l0.3 -0.1l0.3 -0.2l0.3 -0.1l0.3 -0.2l0.3 -0.1l0.3 -0.2l0.3 -0.1l0.3 -0.2l0.3 -0.2l0.3 -0.1l0.3 -0.2l0.3 -0.2l0.3 -0.2" fill="none" stroke="#000000" stroke-width="0.65" stroke-linejoin="round" opacity="0.5"/>
<path d="M66.4 215.8l0.3 0.5l0.3 0.6l0.3 0.6l0.3 0.6l0.3 0.7l0.2 0.7l0.3 0.6l0.3 0.6l0.3 0.6l0.3 0.6l0.3 0.5l0.3 0.4l0.3 0.4l0.3 0.3l0.3 0.2l0.3 0.1l0.3 0.1l0.3 -0.1l0.3 -0.1l0.3 -0.3l0.3 -0.3l0.3 -0.4l0.2 -0.4l0.3 -0.5l0.3 -0.6l0.3 -0.6l0.3 -0.6l0.3 -0.7l0.3 -0.6l0.3 -0.7l0.3 -0.6l0.3 -0.6l0.3 -0.5l0.3 -0.5l0.3 -0.4l0.3 -0.4l0.3 -0.2l0.3 -0.2l0.3 -0.1l0.2 -0.1l0.3 0.1l0.3 0.1l0.3 0.3l0.3 0.3l0.3 0.3l0.3 0.5l0.3 0.5l0.3 0.5l0.3 0.6l0.3 0.6l0.3 0.6l0.3 0.6l0.3 0.6l0.3 0.6l0.3 0.6l0.3 0.5l0.2 0.5l0.3 0.4l0.3 0.3l0.3 0.3l0.3 0.2l0.3 0.1l0.3 0l0.3 -0.1l0.3 -0.1l0.3 -0.2l0.3 -0.4l0.3 -0.4l0.3 -0.4l0.3 -0.6l0.3 -0.6l0.3 -0.6l0.3 -0.6l0.2 -0.6l0.3 -0.5l0.3 -0.5l0.3 -0.3l0.3 -0.2l0.3 -0.1l0.3 0l0.3 0.1l0.3 0.1l0.3 0.1l0.3 -0.1l0.3 -0.2l0.3 -0.5l0.3 -0.8l0.3 -1l0.3 -1.3l0.3 -1.3l0.2 -1.6l0.3 -1.3l0.3 -1l0.3 -0.4l0.3 0.3l0.3 1.1l0.3 1.9l0.3 2.6l0.3 3l0.3 3.2l0.3 3.1l0.3 2.7l0.3 2.1l0.3 1.2l0.3 0.2l0.3 -0.8l0.3 -1.7l0.2 -2.2l0.3 -2.7l0.3 -2.7l0.3 -2.4l0.3 -2l0.3 -1.3l0.3 -0.6l0.3 0.1l0.3 0.8l0.3 1.3l0.3 1.6l0.3 1.7l0.3 1.7l0.3 1.5l0.3 1.2l0.3 0.9l0.2 0.5l0.3 0.3l0.3 0l0.3 -0.2l0.3 -0.3l0.3 -0.3l0.3 -0.3l0.3 -0.3l0.3 -0.1l0.3 -0.2l0.3 0l0.3 0l0.3 0l0.3 0.1l0.3 0l0.3 0l0.3 0l0.2 0l0.3 0l0.3 0l0.3 -0.1l0.3 -0.1l0.3 -0.1l0.3 -0.1l0.3 -0.2l0.3 -0.1l0.3 -0.2l0.3 -0.1l0.3 -0.2l0.3 -0.2l0.3 -0.2l0.3 -0.1l0.3 -0.2l0.3 -0.3l0.2 -0.2l0.3 -0.2l0.3 -0.2l0.3 -0.2l0.3 -0.3l0.3 -0.2l0.3 -0.2l0.3 -0.3l0.3 -0.2l0.3 -0.2l0.3 -0.3l0.3 -0.2l0.3 -0.2l0.3 -0.2l0.3 -0.3l0.3 -0.2l0.3 -0.2l0.2 -0.2l0.3 -0.2l0.3 -0.2l0.3 -0.1l0.3 -0.2l0.3 -0.2l0.3 -0.1l0.3 -0.2l0.3 -0.1l0.3 -0.1l0.3 -0.2l0.3 -0.1l0.3 0l0.3 -0.1l0.3 -0.1l0.3 0l0.3 -0.1l0.2 0l0.3 0l0.3 0l0.3 0l0.3 0l0.3 0l0.3 0.1l0.3 0l0.3 0.1l0.3 0.1l0.3 0.1l0.3 0.1l0.3 0.1l0.3 0.2l0.3 0.1l0.3 0.1l0.3 0.2l0.2 0.2l0.3 0.1l0.3 0.2l0.3 0.2l0.3 0.2l0.3 0.2l0.3 0.2l0.3 0.2l0.3 0.3l0.3 0.2l0.3 0.2l0.3 0.2l0.3 0.3l0.3 0.2l0.3 0.2l0.3 0.2l0.3 0.3l0.2 0.2l0.3 0.2l0.3 0.2l0.3 0.2l0.3 0.3l0.3 0.2l0.3 0.2l0.3 0.1l0.3 0.2l0.3 0.2l0.3 0.2l0.3 0.1l0.3 0.2l0.3 0.1l0.3 0.2l0.3 0.1l0.3 0.1l0.2 0.1l0.3 0.1l0.3 0l0.3 0.1l0.3 0.1l0.3 0l0.3 0l0.3 0l0.3 0l0.3 0l0.3 0l0.3 0l0.3 -0.1l0.3 0l0.3 -0.1l0.3 -0.1l0.2 -0.1l0.3 -0.1l0.3 -0.1l0.3 -0.1l0.3 -0.2l0.3 -0.1l0.3 -0.2l0.3 -0.1l0.3 -0.2l0.3 -0.2l0.3 -0.2l0.3 -0.1l0.3 -0.2l0.3 -0.2l0.3 -0.3l0.3 -0.2l0.3 -0.2l0.2 -0.2l0.3 -0.2l0.3 -0.2l0.3 -0.3l0.3 -0.2l0.3 -0.2l0.3 -0.2l0.3 -0.2l0.3 -0.3l0.3 -0.2l0.3 -0.2l0.3 -0.2l0.3 -0.2l0.3 -0.2l0.3 -0.2l0.3 -0.1l0.3 -0.2l0.2 -0.2l0.3 -0.1l0.3 -0.2l0.3 -0.1l0.3 -0.2l0.3 -0.1l0.3 -0.1l0.3 -0.1l0.3 -0.1l0.3 0l0.3 -0.1l0.3 0l0.3 -0.1l0.3 0l0.3 0l0.3 0l0.3 0l0.2 0l0.3 0l0.3 0.1l0.3 0l0.3 0.1l0.3 0.1l0.3 0.1l0.3 0.1l0.3 0.1l0.3 0.1l0.3 0.2l0.3 0.1l0.3 0.1l0.3 0.2l0.3 0.2l0.3 0.1l0.3 0.2l0.2 0.2l0.3 0.2l0.3 0.2l0.3 0.2l0.3 0.2l0.3 0.2l0.3 0.2l0.3 0.3l0.3 0.2l0.3 0.2l0.3 0.2l0.3 0.2l0.3 0.2l0.3 0.2l0.3 0.3l0.3 0.2l0.3 0.2l0.2 0.2l0.3 0.2l0.3 0.1l0.3 0.2l0.3 0.2l0.3 0.2l0.3 0.1l0.3 0.2l0.3 0.1l0.3 0.2l0.3 0.1l0.3 0.1l0.3 0.1l0.3 0.1l0.3 0.1l0.3 0.1l0.3 0l0.2 0.1l0.3 0l0.3 0l0.3 0l0.3 0l0.3 0l0.3 0l0.3 0l0.3 -0.1l0.3 0l0.3 -0.1l0.3 -0.1l0.3 -0.1l0.3 -0.1l0.3 -0.1l0.3 -0.1l0.3 -0.1l0.2 -0.2l0.3 -0.1l0.3 -0.2l0.3 -0.1l0.3 -0.2l0.3 -0.2l0.3 -0.1l0.3 -0.2l0.3 -0.2l0.3 -0.2l0.3 -0.2l0.3 -0.2l0.3 -0.2l0.3 -0.2l0.3 -0.3l0.3 -0.2l0.2 -0.2l0.3 -0.2l0.3 -0.2l0.3 -0.2l0.3 -0.2l0.3 -0.2l0.3 -0.2l0.3 -0.2l0.3 -0.2l0.3 -0.2l0.3 -0.2l0.3 -0.1l0.3 -0.2l0.3 -0.1l0.3 -0.2l0.3 -0.1l0.3 -0.2l0.2 -0.1l0.3 -0.1l0.3 -0.1l0.3 -0.1l0.3 -0.1l0.3 0l0.3 -0.1l0.3 0l0.3 -0.1l0.3 0l0.3 0l0.3 0l0.3 0l0.3 0l0.3 0l0.3 0.1l0.3 0l0.2 0.1l0.3 0.1l0.3 0.1l0.3 0.1l0.3 0.1l0.3 0.1l0.3 0.1l0.3 0.1l0.3 0.2l0.3 0.1l0.3 0.2l0.3 0.2l0.3 0.1l0.3 0.2l0.3 0.2l0.3 0.2l0.3 0.2l0.2 0.2l0.3 0.2l0.3 0.2l0.3 0.2l0.3 0.2l0.3 0.2l0.3 0.2l0.3 0.2l0.3 0.2l0.3 0.2l0.3 0.2l0.3 0.2l0.3 0.2l0.3 0.2l0.3 0.2l0.3 0.1l0.3 0.2l0.2 0.2l0.3 0.1l0.3 0.2l0.3 0.1l0.3 0.2l0.3 0.1l0.3 0.1l0.3 0.1l0.3 0.1l0.3 0.1l0.3 0.1l0.3 0.1l0.3 0l0.3 0.1l0.3 0l0.3 0l0.3 0l0.2 0l0.3 0l0.3 0l0.3 0l0.3 -0.1l0.3 0l0.3 -0.1l0.3 -0.1l0.3 0l0.3 -0.1l0.3 -0.1l0.3 -0.1l0.3 -0.2l0.3 -0.1l0.3 -0.1l0.3 -0.2l0.3 -0.1l0.2 -0.2l0.3 -0.2l0.3 -0.1l0.3 -0.2l0.3 -0.2l0.3 -0.2l0.3 -0.2l0.3 -0.2l0.3 -0.2l0.3 -0.2l0.3 -0.2l0.3 -0.2l0.3 -0.2l0.3 -0.2l0.3 -0.2l0.3 -0.2l0.3 -0.2l0.2 -0.2l0.3 -0.1l0.3 -0.2l0.3 -0.2l0.3 -0.2l0.3 -0.1l0.3 -0.2l0.3 -0.2l0.3 -0.1l0.3 -0.1l0.3 -0.2l0.3 -0.1l0.3 -0.1l0.3 -0.1l0.3 -0.1l0.3 -0.1l0.2 -0.1l0.3 0l0.3 -0.1l0.3 0l0.3 -0.1l0.3 0l0.3 0l0.3 0l0.3 0l0.3 0l0.3 0l0.3 0.1l0.3 0l0.3 0.1l0.3 0.1l0.3 0l0.3 0.1l0.2 0.1l0.3 0.2l0.3 0.1l0.3 0.1l0.3 0.1l0.3 0.2l0.3 0.1l0.3 0.2l0.3 0.6l0.3 2.5l0.3 4.9l0.3 1.2l0.3 -8.4l0.3 -8.3l0.3 1.2" fill="none" stroke="#0000ff" stroke-width="0.65" stroke-linejoin="round" opacity="0.45"/>
<path d="M66.4 219.1l0.3 -0.1l0.3 0l0.3 0l0.3 0l0.3 -0.1l0.2 0l0.3 0l0.3 0l0.3 0l0.3 -0.1l0.3 0l0.3 0l0.3 0l0.3 0l0.3 -0.1l0.3 0l0.3 0l0.3 0l0.3 0l0.3 0l0.3 0l0.3 0l0.2 0l0.3 -0.1l0.3 0l0.3 0l0.3 0l0.3 0l0.3 0l0.3 0l0.3 0l0.3 0l0.3 0l0.3 0.1l0.3 0l0.3 0l0.3 0l0.3 0l0.3 0l0.2 0l0.3 0l0.3 0.1l0.3 0l0.3 0l0.3 0l0.3 0l0.3 0l0.3 0.1l0.3 0l0.3 0l0.3 0l0.3 0.1l0.3 0l0.3 0l0.3 0l0.3 0l0.2 0.1l0.3 0l0.3 0l0.3 0l0.3 0.1l0.3 0l0.3 0l0.3 0l0.3 0.1l0.3 0l0.3 0l0.3 0l0.3 0l0.3 0l0.3 0.1l0.3 0l0.3 0l0.2 0l0.3 0l0.3 0l0.3 0l0.3 0.1l0.3 0l0.3 0l0.3 0l0.3 0l0.3 0l0.3 0l0.3 0l0.3 0l0.3 0l0.3 0l0.3 0l0.3 0l0.2 0l0.3 0l0.3 -0.1l0.3 0l0.3 0l0.3 0l0.3 0l0.3 0l0.3 0l0.3 -0.1l0.3 0l0.3 0l0.3 0l0.3 0l0.3 -0.1l0.3 0l0.3 0l0.2 0l0.3 0l0.3 -0.1l0.3 0l0.3 0l0.3 0l0.3 -0.1l0.3 0l0.3 0l0.3 0l0.3 -0.1l0.3 0l0.3 0l0.3 0l0.3 0l0.3 -0.1l0.2 0l0.3 0l0.3 0l0.3 0l0.3 -0.1l0.3 0l0.3 0l0.3 0l0.3 0l0.3 0l0.3 0l0.3 0l0.3 0l0.3 -0.1l0.3 0l0.3 0l0.3 0l0.2 0l0.3 0l0.3 0l0.3 0l0.3 0l0.3 0l0.3 0.1l0.3 0l0.3 0l0.3 0l0.3 0l0.3 0l0.3 0l0.3 0l0.3 0.1l0.3 0l0.3 0l0.2 0l0.3 0l0.3 0l0.3 0.1l0.3 0l0.3 0l0.3 0l0.3 0.1l0.3 0l0.3 0l0.3 0l0.3 0l0.3 0.1l0.3 0l0.3 0l0.3 0l0.3 0.1l0.2 0l0.3 0l0.3 0l0.3 0.1l0.3 0l0.3 0l0.3 0l0.3 0l0.3 0l0.3 0.1l0.3 0l0.3 0l0.3 0l0.3 0l0.3 0l0.3 0l0.3 0.1l0.2 0l0.3 0l0.3 0l0.3 0l0.3 0l0.3 0l0.3 0l0.3 0l0.3 0l0.3 0l0.3 0l0.3 0l0.3 0l0.3 0l0.3 -0.1l0.3 0l0.3 0l0.2 0l0.3 0l0.3 0l0.3 0l0.3 -0.1l0.3 0l0.3 0l0.3 0l0.3 0l0.3 -0.1l0.3 0l0.3 0l0.3 0l0.3 0l0.3 -0.1l0.3 0l0.3 0l0.2 0l0.3 -0.1l0.3 0l0.3 0l0.3 0l0.3 -0.1l0.3 0l0.3 0l0.3 0l0.3 0l0.3 -0.1l0.3 0l0.3 0l0.3 0l0.3 0l0.3 -0.1l0.3 0l0.2 0l0.3 0l0.3 0l0.3 0l0.3 0l0.3 0l0.3 0l0.3 -0.1l0.3 0l0.3 0l0.3 0l0.3 0l0.3 0l0.3 0l0.3 0l0.3 0l0.2 0l0.3 0.1l0.3 0l0.3 0l0.3 0l0.3 0l0.3 0l0.3 0l0.3 0l0.3 0l0.3 0.1l0.3 0l0.3 0l0.3 0l0.3 0l0.3 0.1l0.3 0l0.2 0l0.3 0l0.3 0l0.3 0.1l0.3 0l0.3 0l0.3 0l0.3 0.1l0.3 0l0.3 0l0.3 0l0.3 0.1l0.3 0l0.3 0l0.3 0l0.3 0l0.3 0.1l0.2 0l0.3 0l0.3 0l0.3 0l0.3 0.1l0.3 0l0.3 0l0.3 0l0.3 0l0.3 0l0.3 0l0.3 0.1l0.3 0l0.3 0l0.3 0l0.3 0l0.3 0l0.2 0l0.3 0l0.3 0l0.3 0l0.3 0l0.3 0l0.3 0l0.3 0l0.3 0l0.3 -0.1l0.3 0l0.3 0l0.3 0l0.3 0l0.3 0l0.3 0l0.3 -0.1l0.2 0l0.3 0l0.3 0l0.3 0l0.3 -0.1l0.3 0l0.3 0l0.3 0l0.3 0l0.3 -0.1l0.3 0l0.3 0l0.3 0l0.3 -0.1l0.3 0l0.3 0l0.3 0l0.2 0l0.3 -0.1l0.3 0l0.3 0l0.3 0l0.3 -0.1l0.3 0l0.3 0l0.3 0l0.3 0l0.3 0l0.3 -0.1l0.3 0l0.3 0l0.3 0l0.3 0l0.3 0l0.2 0l0.3 0l0.3 -0.1l0.3 0l0.3 0l0.3 0l0.3 0l0.3 0l0.3 0l0.3 0l0.3 0l0.3 0l0.3 0.1l0.3 0l0.3 0l0.3 0l0.3 0l0.2 0l0.3 0l0.3 0l0.3 0l0.3 0.1l0.3 0l0.3 0l0.3 0l0.3 0l0.3 0.1l0.3 0l0.3 0l0.3 0l0.3 0l0.3 0.1l0.3 0l0.2 0l0.3 0l0.3 0.1l0.3 0l0.3 0l0.3 0l0.3 0.1l0.3 0l0.3 0l0.3 0l0.3 0l0.3 0.1l0.3 0l0.3 0l0.3 0l0.3 0l0.3 0.1l0.2 0l0.3 0l0.3 0l0.3 0l0.3 0l0.3 0l0.3 0.1l0.3 0l0.3 0l0.3 0l0.3 0l0.3 0l0.3 0l0.3 0l0.3 0l0.3 0l0.3 0l0.2 0l0.3 0l0.3 0l0.3 0l0.3 -0.1l0.3 0l0.3 0l0.3 0l0.3 0l0.3 0l0.3 0l0.3 -0.1l0.3 0l0.3 0l0.3 0l0.3 0l0.3 0l0.2 -0.1l0.3 0l0.3 0l0.3 0l0.3 -0.1l0.3 0l0.3 0l0.3 0l0.3 -0.1l0.3 0l0.3 0l0.3 0l0.3 0l0.3 -0.1l0.3 0l0.3 0l0.3 0l0.2 -0.1l0.3 0l0.3 0l0.3 0l0.3 0l0.3 0l0.3 -0.1l0.3 0l0.3 0l0.3 0l0.3 0l0.3 0l0.3 0l0.3 0l0.3 -0.1l0.3 0l0.3 0l0.2 0l0.3 0l0.3 0l0.3 0l0.3 0l0.3 0l0.3 0l0.3 0.1l0.3 0l0.3 0l0.3 0l0.3 0l0.3 0l0.3 0l0.3 0l0.3 0l0.3 0.1l0.2 0l0.3 0l0.3 0l0.3 0l0.3 0.1l0.3 0l0.3 0l0.3 0l0.3 0l0.3 0.1l0.3 0l0.3 0l0.3 0l0.3 0.1l0.3 0l0.3 0l0.3 0l0.2 0.1l0.3 0l0.3 0l0.3 0l0.3 0l0.3 0.1l0.3 0l0.3 0l0.3 0l0.3 0l0.3 0.1l0.3 0l0.3 0l0.3 0l0.3 0l0.3 0l0.2 0l0.3 0.1l0.3 0l0.3 0l0.3 0l0.3 0l0.3 0l0.3 0l0.3 0l0.3 0l0.3 0l0.3 0l0.3 0l0.3 0l0.3 0l0.3 0l0.3 -0.1l0.2 0l0.3 0l0.3 0l0.3 0l0.3 0l0.3 0l0.3 -0.1l0.3 0l0.3 0l0.3 0l0.3 0l0.3 0l0.3 -0.1l0.3 0l0.3 0" fill="none" stroke="#ff0000" stroke-width="0.65" stroke-linejoin="round" opacity="0.45"/>
<path d="M66.4 176.6l0.3 2.2l0.3 -0.1l0.3 -0.6l0.3 -0.6l0.3 -0.7l0.2 -0.6l0.3 -0.6l0.3 -0.6l0.3 -0.6l0.3 -0.6l0.3 -0.5l0.3 -0.4l0.3 -0.3l0.3 -0.3l0.3 -0.2l0.3 -0.2l0.3 0l0.3 0.1l0.3 0.1l0.3 0.2l0.3 0.3l0.3 0.4l0.2 0.4l0.3 0.5l0.3 0.6l0.3 0.6l0.3 0.6l0.3 0.6l0.3 0.7l0.3 0.6l0.3 0.6l0.3 0.6l0.3 0.5l0.3 0.5l0.3 0.4l0.3 0.4l0.3 0.3l0.3 0.2l0.3 0.1l0.2 0.1l0.3 -0.1l0.3 -0.1l0.3 -0.3l0.3 -0.3l0.3 -0.3l0.3 -0.5l0.3 -0.5l0.3 -0.5l0.3 -0.6l0.3 -0.7l0.3 -0.6l0.3 -0.5l0.3 -1.8l0.3 -1.6l0.3 -1.4l0.3 -1.3l0.2 -0.6l0.3 -0.6l0.3 -0.6l0.3 -0.8l0.3 -0.8l0.3 -0.8l0.3 0.3l0.3 0.4l0.3 0.3l0.3 0.4l0.3 -1l0.3 -1l0.3 -1l0.3 -1l0.3 1.2l0.3 1.1l0.3 1.2l0.2 1.2l0.3 -0.7l0.3 -0.7l0.3 -0.7l0.3 -0.7l0.3 1.1l0.3 1.2l0.3 1.2l0.3 1.2l0.3 1.2l0.3 1.1l0.3 1.8l0.3 1l0.3 0.4l0.3 0l0.3 -2.3l0.3 -2.5l0.2 -1.2l0.3 0.9l0.3 2.9l0.3 3.2l0.3 3.5l0.3 5.6l0.3 4.3l0.3 0.9l0.3 -1.8l0.3 2.5l0.3 14.7l0.3 5.7l0.3 -20.4l0.3 -24.2l0.3 -7l0.3 5.1l0.3 8.2l0.2 5.3l0.3 8.2l0.3 7.2l0.3 2.4l0.3 -3.7l0.3 -7.9l0.3 -7.7l0.3 -5.7l0.3 -8.5l0.3 -5.5l0.3 0l0.3 5.5l0.3 8.2l0.3 5.6l0.3 7l0.3 7.2l0.2 3.5l0.3 -1.8l0.3 -6.4l0.3 -7.5l0.3 -4.9l0.3 -10.6l0.3 -24.1l0.3 -17.5l0.3 35.8l0.3 39.4l0.3 -4.6l0.3 -9.5l0.3 4.1l0.3 4.4l0.3 0.4l0.3 -3.7l0.3 -6.1l0.2 -5.2l0.3 -4l0.3 -5.7l0.3 -4.1l0.3 -0.7l0.3 2.9l0.3 5.1l0.3 5.1l0.3 3.2l0.3 5.1l0.3 4.5l0.3 1.9l0.3 -1.2l0.3 -3.9l0.3 -5.1l0.3 -3.5l0.3 -3.9l0.2 -4.9l0.3 -3.5l0.3 -0.9l0.3 2.2l0.3 4.4l0.3 4.7l0.3 2.8l0.3 4.3l0.3 4.3l0.3 2.6l0.3 -0.2l0.3 -2.8l0.3 -4.4l0.3 -4l0.3 -2.6l0.3 -4.2l0.3 -3.5l0.2 -1.3l0.3 1.2l0.3 3.4l0.3 4l0.3 2.6l0.3 3.2l0.3 3.6l0.3 2.4l0.3 0.1l0.3 -2.1l0.3 -3.6l0.3 -3.3l0.3 -2.3l0.3 -3.6l0.3 -3l0.3 -1.1l0.3 1.3l0.2 3l0.3 3.6l0.3 2.2l0.3 3.2l0.3 3.3l0.3 1.9l0.3 -0.4l0.3 -2.4l0.3 -3.5l0.3 -2.7l0.3 -2.5l0.3 -3.4l0.3 -2.4l0.3 -0.5l0.3 1.7l0.3 3.2l0.3 3.1l0.2 2l0.3 3.1l0.3 2.7l0.3 1l0.3 -0.9l0.3 -2.4l0.3 -3l0.3 -1.9l0.3 -2.3l0.3 -2.6l0.3 -1.6l0.3 0l0.3 1.5l0.3 2.4l0.3 2.3l0.3 1.3l0.3 2.2l0.2 1.9l0.3 0.9l0.3 -0.5l0.3 -1.4l0.3 -2l0.3 -1.7l0.3 -1l0.3 -1.6l0.3 -1.5l0.3 -0.8l0.3 -0.2l0.3 0.4l0.3 0.8l0.3 0.9l0.3 0.9l0.3 0.9l0.3 0.8l0.2 0.5l0.3 1.1l0.3 1.4l0.3 1.4l0.3 0.7l0.3 -0.1l0.3 -1.1l0.3 -1.8l0.3 -1.7l0.3 -1.3l0.3 -2.1l0.3 -1.8l0.3 -0.9l0.3 0.6l0.3 1.9l0.3 2.3l0.2 1.4l0.3 2.4l0.3 2.4l0.3 1.4l0.3 -0.2l0.3 -1.8l0.3 -2.7l0.3 -1.9l0.3 -2.4l0.3 -2.8l0.3 -1.7l0.3 0.1l0.3 1.8l0.3 2.8l0.3 2.2l0.3 2.1l0.3 2.8l0.2 1.9l0.3 0.2l0.3 -1.6l0.3 -2.7l0.3 -2.4l0.3 -1.9l0.3 -2.7l0.3 -2l0.3 -0.5l0.3 1.4l0.3 2.6l0.3 2.5l0.3 1.7l0.3 2.7l0.3 2.1l0.3 0.6l0.3 -1.2l0.2 -2.4l0.3 -2.5l0.3 -1.7l0.3 -2.6l0.3 -2.2l0.3 -0.7l0.3 1l0.3 2.3l0.3 2.6l0.3 1.6l0.3 2.6l0.3 2.2l0.3 0.8l0.3 -1l0.3 -2.3l0.3 -2.6l0.3 -1.6l0.2 -2.7l0.3 -2.2l0.3 -0.6l0.3 1.3l0.3 2.6l0.3 2.4l0.3 1.7l0.3 2.5l0.3 1.6l0.3 -0.2l0.3 -1.9l0.3 -2.5l0.3 -1.5l0.3 -2.4l0.3 -1.9l0.3 -0.4l0.3 1.4l0.2 2.4l0.3 1.6l0.3 2.2l0.3 2.1l0.3 0.7l0.3 -1.1l0.3 -2.2l0.3 -1.9l0.3 -1.7l0.3 -2.3l0.3 -1.3l0.3 0.2l0.3 1.7l0.3 2.3l0.3 1.4l0.3 2.2l0.3 2.1l0.2 1.1l0.3 -0.5l0.3 -1.9l0.3 -2.2l0.3 -1.5l0.3 -2.1l0.3 -2.2l0.3 -1.2l0.3 0.4l0.3 1.6l0.3 2.3l0.3 1.6l0.3 1.9l0.3 2.3l0.3 1.5l0.3 0.1l0.3 -1.3l0.2 -2.2l0.3 -2l0.3 -1.4l0.3 -2.3l0.3 -1.9l0.3 -0.7l0.3 0.8l0.3 1.9l0.3 2.3l0.3 1.3l0.3 2.1l0.3 2.1l0.3 1.1l0.3 -0.2l0.3 -1.5l0.3 -2.1l0.3 -1.8l0.2 -1.4l0.3 -2l0.3 -1.5l0.3 -0.3l0.3 0.9l0.3 1.8l0.3 1.8l0.3 1.1l0.3 1.7l0.3 1.5l0.3 0.8l0.3 -0.2l0.3 -1l0.3 -1.5l0.3 -1.3l0.3 -0.7l0.2 -1.1l0.3 -1.1l0.3 -0.7l0.3 -0.4l0.3 -0.1l0.3 0.2l0.3 0.5l0.3 0.7l0.3 1l0.3 1l0.3 0.7l0.3 1.2l0.3 1.4l0.3 1l0.3 0.2l0.3 -0.8l0.3 -1.5l0.2 -1.6l0.3 -1l0.3 -1.8l0.3 -1.5l0.3 -0.7l0.3 0.5l0.3 1.5l0.3 1.9l0.3 1.2l0.3 1.9l0.3 1.8l0.3 0.9l0.3 -0.5l0.3 -1.6l0.3 -2l0.3 -1.3l0.3 -1.9l0.2 -1.9l0.3 -1l0.3 0.5l0.3 1.7l0.3 2.1l0.3 1.3l0.3 2l0.3 1.9l0.3 0.9l0.3 -0.4l0.3 -1.7l0.3 -2.1l0.3 -1.3l0.3 -2l0.3 -2l0.3 -1l0.3 0.3l0.2 1.5l0.3 2.1l0.3 1.4l0.3 1.8l0.3 2l0.3 1.4l0.3 0.1l0.3 -1.2l0.3 -2l0.3 -1.8l0.3 -1.3l0.3 -2.1l0.3 -1.8l0.3 -0.7l0.3 0.7l0.3 1.7l0.3 2.1l0.2 1.3l0.3 1.9l0.3 2l0.3 1.2l0.3 0l0.3 -1.2l0.3 -2l0.3 -1.9l0.3 -1.3l0.3 -2.1l0.3 -1.7l0.3 -0.6l0.3 0.7l0.3 1.8l0.3 2.1l0.3 1.3l0.3 2l0.2 1.9l0.3 1.1l0.3 -0.3l0.3 -1.6l0.3 -2.1l0.3 -1.5l0.3 -1.6l0.3 -2.1l0.3 -1.4l0.3 -0.1l0.3 1.2l0.3 2.1l0.3 1.8l0.3 1.4l0.3 2.1l0.3 1.5l0.3 0.4l0.2 -1l0.3 -1.9l0.3 -1.9l0.3 -1.1l0.3 -1.9l0.3 -1.6l0.3 -0.6l0.3 0.6l0.3 1.6l0.3 1.8l0.3 1.1l0.3 1.7l0.3 1.6l0.3 0.8l0.3 -0.3l0.3 -1.3l0.3 -1.7l0.2 -1.2l0.3 -1.3l0.3 -1.6l0.3 -1l0.3 0l0.3 1l0.3 1.6l0.3 1.3l0.3 1.1l0.3 1.6l0.3 1.1l0.3 0.2l0.3 -0.8l0.3 -1.4l0.3 -1.2l0.3 -0.8l0.2 -1.2l0.3 -1.1l0.3 -0.3l0.3 0.3l0.3 0.9l0.3 0.6l0.3 0l0.3 0.7l0.3 0.6l0.3 0.2l0.3 -0.5l0.3 -0.6l0.3 -0.3l0.3 0.3l0.3 -0.2l0.3 -0.1l0.3 0.5l0.2 1.1l0.3 1.4l0.3 0.9l0.3 0.2l0.3 0.4l0.3 -0.3l0.3 -1.2l0.3 -2.1l0.3 -2.1l0.3 -1.3l0.3 -1.1l0.3 -0.7l0.3 0l0.3 1l0.3 2.6" fill="none" stroke="#000000" stroke-width="0.85" stroke-linejoin="round"/>
<path d="M66.4 176.6l0.3 -2.4l0.3 0.1l0.3 0.6l0.3 0.7l0.3 0.7l0.2 0.7l0.3 0.7l0.3 0.7l0.3 0.6l0.3 0.6l0.3 0.5l0.3 0.5l0.3 0.4l0.3 0.3l0.3 0.2l0.3 0.1l0.3 0.1l0.3 -0.1l0.3 -0.1l0.3 -0.3l0.3 -0.3l0.3 -0.4l0.2 -0.5l0.3 -0.5l0.3 -0.6l0.3 -0.7l0.3 -0.7l0.3 -0.6l0.3 -0.7l0.3 -0.7l0.3 -0.7l0.3 -0.6l0.3 -0.6l0.3 -0.5l0.3 -0.5l0.3 -0.4l0.3 -0.3l0.3 -0.2l0.3 -0.2l0.2 0l0.3 0l0.3 0.2l0.3 0.2l0.3 0.4l0.3 0.4l0.3 0.5l0.3 0.5l0.3 0.6l0.3 0.7l0.3 0.7l0.3 0.6l0.3 0.6l0.3 0.4l0.3 0.2l0.3 0l0.3 -0.1l0.2 -0.3l0.3 -0.2l0.3 -0.2l0.3 -0.1l0.3 0l0.3 0l0.3 0.9l0.3 -0.6l0.3 1.1l0.3 1.7l0.3 -3.1l0.3 5.1l0.3 -2.6l0.3 -0.5l0.3 6.2l0.3 -7.9l0.3 7.3l0.2 -0.6l0.3 -6.1l0.3 8.5l0.3 -8l0.3 2.4l0.3 1.7l0.3 -5.5l0.3 4.8l0.3 -0.4l0.3 3.2l0.3 4l0.3 -1.9l0.3 -3.8l0.3 -5.3l0.3 -5.1l0.3 -10l0.3 -10l0.2 -4.7l0.3 3.5l0.3 11.2l0.3 12.9l0.3 10l0.3 15.2l0.3 11l0.3 2.1l0.3 -7.5l0.3 -13.6l0.3 -13.2l0.3 -8.4l0.3 -14.3l0.3 -12.9l0.3 -5.6l0.3 4.4l0.3 12.9l0.2 15.9l0.3 10.2l0.3 17.4l0.3 14.8l0.3 5.7l0.3 -5.2l0.3 -13.4l0.3 -15.7l0.3 -9.5l0.3 -11.8l0.3 -11.7l0.3 -5.7l0.3 2.2l0.3 7.8l0.3 11.5l0.3 8.9l0.2 8.5l0.3 11.2l0.3 7.5l0.3 0.7l0.3 -6.3l0.3 -10.8l0.3 -9.8l0.3 -7.2l0.3 -10.9l0.3 -8.2l0.3 -1.7l0.3 5.5l0.3 10.2l0.3 9.9l0.3 6.8l0.3 10.6l0.3 8.1l0.2 2l0.3 -5l0.3 -9.8l0.3 -9.8l0.3 -6.6l0.3 -10.4l0.3 -8l0.3 -1.8l0.3 5.2l0.3 9.9l0.3 9.3l0.3 6.8l0.3 10.4l0.3 7.4l0.3 1l0.3 -5.8l0.3 -10l0.2 -8.6l0.3 -7.2l0.3 -9.8l0.3 -6.2l0.3 0.2l0.3 6.5l0.3 9.7l0.3 6.8l0.3 7.7l0.3 8.7l0.3 4.8l0.3 -1.3l0.3 -6.7l0.3 -8.8l0.3 -5.5l0.3 -7.5l0.3 -7.5l0.2 -3.5l0.3 1.9l0.3 6.3l0.3 7.8l0.3 4.6l0.3 6.7l0.3 6.3l0.3 2.9l0.3 -1.6l0.3 -5.2l0.3 -6.5l0.3 -4.1l0.3 -4.9l0.3 -5.5l0.3 -3.7l0.3 -0.8l0.3 2l0.2 4.3l0.3 4.9l0.3 3.8l0.3 3l0.3 4.8l0.3 4.5l0.3 2.5l0.3 -0.4l0.3 -3.3l0.3 -5.4l0.3 -4.9l0.3 -3.7l0.3 -5.9l0.3 -4.6l0.3 -1.1l0.3 3l0.3 6l0.2 5.4l0.3 4.6l0.3 6.1l0.3 3.4l0.3 -0.9l0.3 -4.6l0.3 -5.9l0.3 -3.5l0.3 -4.9l0.3 -4l0.3 -0.8l0.3 2.6l0.3 4.4l0.3 3.7l0.3 2.8l0.3 3.4l0.3 1.9l0.2 -0.7l0.3 -2.8l0.3 -3.4l0.3 -2l0.3 -3.1l0.3 -2.5l0.3 -0.5l0.3 1.7l0.3 2.9l0.3 2.3l0.3 2.1l0.3 2.5l0.3 1.3l0.3 -0.5l0.3 -2l0.3 -2.4l0.3 -1.4l0.2 -2.2l0.3 -2l0.3 -0.6l0.3 1l0.3 2.1l0.3 2l0.3 1.6l0.3 2.1l0.3 1.3l0.3 -0.1l0.3 -1.7l0.3 -2.1l0.3 -1.4l0.3 -2l0.3 -1.7l0.3 -0.3l0.2 1.2l0.3 2.1l0.3 1.4l0.3 2l0.3 1.8l0.3 0.2l0.3 -1.5l0.3 -2.2l0.3 -1.6l0.3 -2.3l0.3 -1l0.3 1.1l0.3 2.1l0.3 1.6l0.3 2.1l0.3 1.5l0.3 0.1l0.2 -1.5l0.3 -2l0.3 -1.3l0.3 -2l0.3 -1.5l0.3 -0.1l0.3 1.4l0.3 1.9l0.3 1.4l0.3 1.9l0.3 1.7l0.3 0.5l0.3 -1l0.3 -2l0.3 -1.5l0.3 -1.8l0.3 -2l0.2 -0.9l0.3 0.6l0.3 1.9l0.3 1.9l0.3 1.5l0.3 2.2l0.3 1.4l0.3 -0.2l0.3 -1.6l0.3 -2.2l0.3 -1.4l0.3 -2.2l0.3 -1.9l0.3 -0.5l0.3 1.1l0.3 2.2l0.3 1.9l0.2 1.9l0.3 2.3l0.3 1.4l0.3 -0.4l0.3 -1.9l0.3 -2.4l0.3 -1.6l0.3 -2.5l0.3 -2.2l0.3 -0.7l0.3 1.1l0.3 2.4l0.3 2.3l0.3 1.8l0.3 2.7l0.3 1.9l0.3 0.1l0.2 -1.7l0.3 -2.6l0.3 -2l0.3 -2.2l0.3 -2.5l0.3 -1.5l0.3 0.4l0.3 1.9l0.3 2.7l0.3 1.7l0.3 2.4l0.3 2.4l0.3 1.1l0.3 -0.8l0.3 -2.2l0.3 -2.6l0.3 -1.6l0.2 -2.6l0.3 -2.1l0.3 -0.7l0.3 1.2l0.3 2.5l0.3 2.3l0.3 1.8l0.3 2.5l0.3 1.8l0.3 0l0.3 -1.7l0.3 -2.5l0.3 -1.7l0.3 -2.2l0.3 -2.3l0.3 -1.1l0.3 0.6l0.2 2l0.3 2.4l0.3 1.5l0.3 2.4l0.3 1.9l0.3 0.3l0.3 -1.2l0.3 -2.3l0.3 -1.9l0.3 -1.9l0.3 -2.2l0.3 -1.3l0.3 0.3l0.3 1.8l0.3 2.3l0.3 1.5l0.3 2.2l0.2 2.1l0.3 0.7l0.3 -0.8l0.3 -2.1l0.3 -2.2l0.3 -1.5l0.3 -2.3l0.3 -1.9l0.3 -0.4l0.3 1.2l0.3 2.2l0.3 2.1l0.3 1.6l0.3 2.4l0.3 1.7l0.3 0.2l0.2 -1.3l0.3 -2.3l0.3 -2l0.3 -1.7l0.3 -2.4l0.3 -1.7l0.3 -0.1l0.3 1.5l0.3 2.3l0.3 2l0.3 1.7l0.3 2.4l0.3 1.6l0.3 0l0.3 -1.5l0.3 -2.4l0.3 -1.8l0.2 -1.9l0.3 -2.4l0.3 -1.4l0.3 0.1l0.3 1.7l0.3 2.3l0.3 1.7l0.3 2.1l0.3 2.3l0.3 1.2l0.3 -0.3l0.3 -1.8l0.3 -2.4l0.3 -1.6l0.3 -2.2l0.3 -2.2l0.3 -1l0.2 0.7l0.3 2l0.3 2.3l0.3 1.5l0.3 2.3l0.3 2l0.3 0.6l0.3 -0.9l0.3 -2.2l0.3 -2.2l0.3 -1.4l0.3 -2.3l0.3 -1.7l0.3 -0.3l0.3 1.2l0.3 2.2l0.3 1.9l0.2 1.5l0.3 2.1l0.3 1.4l0.3 0.1l0.3 -1.4l0.3 -2.1l0.3 -1.5l0.3 -1.6l0.3 -2l0.3 -1.1l0.3 0.1l0.3 1.4l0.3 1.9l0.3 1.3l0.3 1.6l0.3 1.7l0.3 1l0.2 -0.1l0.3 -1.3l0.3 -1.7l0.3 -1.3l0.3 -1.3l0.3 -1.6l0.3 -1l0.3 0.1l0.3 1.1l0.3 1.5l0.3 1.3l0.3 1.1l0.3 1.4l0.3 1l0.3 0.1l0.3 -0.8l0.3 -1.4l0.2 -1.3l0.3 -0.9l0.3 -1.4l0.3 -1.1l0.3 -0.2l0.3 0.8l0.3 1.3l0.3 1.2l0.3 0.9l0.3 1.3l0.3 1.1l0.3 0.2l0.3 -0.8l0.3 -1.4l0.3 -1.1l0.3 -1.2l0.3 -1.4l0.2 -0.7l0.3 0.4l0.3 1.3l0.3 1.4l0.3 1l0.3 1.6l0.3 0.8l0.3 -0.4l0.3 -1.4l0.3 -1.4l0.3 -1.5l0.3 -1.4l0.3 -0.3l0.3 0.8l0.3 1.5l0.3 1l0.3 1.4l0.2 1.3l0.3 0.4l0.3 -0.7l0.3 -1.4l0.3 -1.1l0.3 -1.2l0.3 -1.4l0.3 -0.7l0.3 0.3l0.3 1.2l0.3 1.3l0.3 0.9l0.3 1.3l0.3 1.1l0.3 0.2l0.3 -0.9l0.2 -1.6l0.3 -1.5l0.3 -0.9l0.3 -1.1l0.3 -0.2l0.3 0.9l0.3 1.9l0.3 2.4l0.3 1.8l0.3 1.1l0.3 1l0.3 0l0.3 -1.2l0.3 -2.2l0.3 -2.9l0.3 -2.3l0.3 -2l0.2 -1.9l0.3 -0.7l0.3 0.6l0.3 1.7l0.3 2.5l0.3 2.3l0.3 2.1l0.3 2.3l0.3 1.6l0.3 1.3l0.3 0.1l0.3 -0.7l0.3 -0.8l0.3 -2.1l0.3 -3.6" fill="none" stroke="#0000ff" stroke-width="0.85" stroke-linejoin="round"/>
<path d="M66.4 176.6l0.3 0l0.3 0l0.3 0l0.3 -0.1l0.3 0l0.2 0l0.3 0.2l0.3 0l0.3 -0.1l0.3 -0.2l0.3 0.1l0.3 0.3l0.3 0l0.3 -0.2l0.3 -0.3l0.3 0l0.3 0.3l0.3 0.3l0.3 0l0.3 -0.3l0.3 -0.4l0.3 0l0.2 0.4l0.3 0.3l0.3 -0.1l0.3 -0.2l0.3 -0.2l0.3 -0.2l0.3 0.1l0.3 0.2l0.3 0.2l0.3 0.3l0.3 -0.1l0.3 -0.3l0.3 -0.2l0.3 0.4l0.3 0.1l0.3 -0.3l0.3 -0.4l0.2 -0.3l0.3 0.4l0.3 0.6l0.3 0.8l0.3 -0.1l0.3 -1l0.3 -1l0.3 -0.8l0.3 0.7l0.3 1.1l0.3 1.1l0.3 0.8l0.3 -0.1l0.3 -1l0.3 -1.1l0.3 -1.8l0.3 -0.6l0.2 1.4l0.3 1.5l0.3 1.8l0.3 0.9l0.3 -0.6l0.3 -1.5l0.3 -1.6l0.3 -2.4l0.3 -0.1l0.3 2.7l0.3 2.3l0.3 2.1l0.3 -1.4l0.3 -2.5l0.3 -2.7l0.3 -1.2l0.3 2.2l0.2 2.5l0.3 3.1l0.3 -1.3l0.3 -3.3l0.3 -2.1l0.3 3.9l0.3 3.5l0.3 -3.7l0.3 -4.6l0.3 -1.8l0.3 5l0.3 5l0.3 1.9l0.3 -5.2l0.3 -5.7l0.3 -4.2l0.3 5.2l0.2 6.3l0.3 7l0.3 -2.6l0.3 -7.1l0.3 -6.5l0.3 -2.1l0.3 5.7l0.3 4.4l0.3 5.1l0.3 1.8l0.3 -5.1l0.3 -6.4l0.3 -7.8l0.3 4.8l0.3 9l0.3 10l0.3 -4.1l0.2 -9.2l0.3 -9.5l0.3 -3.5l0.3 6.6l0.3 7.2l0.3 8.2l0.3 3.4l0.3 -7l0.3 -7l0.3 -6.5l0.3 1.8l0.3 5.5l0.3 1.7l0.3 -0.3l0.3 1.7l0.3 3.5l0.2 -0.4l0.3 -4.4l0.3 -3.9l0.3 -2.7l0.3 3.3l0.3 3.8l0.3 3.8l0.3 -2.5l0.3 -4.5l0.3 -1.5l0.3 4.2l0.3 3.7l0.3 -1.7l0.3 -2.6l0.3 -1.5l0.3 -1l0.3 -1.7l0.2 1l0.3 3.4l0.3 4l0.3 -1.2l0.3 -4.4l0.3 -2.8l0.3 4l0.3 3.8l0.3 0.6l0.3 -3.2l0.3 -1.9l0.3 -2.4l0.3 -1.5l0.3 1.4l0.3 3.4l0.3 4l0.3 1.2l0.2 -4.1l0.3 -3.7l0.3 -2l0.3 2.8l0.3 2.1l0.3 -1l0.3 -0.5l0.3 1.8l0.3 3.4l0.3 0.4l0.3 -3.5l0.3 -2.7l0.3 -2.8l0.3 0.8l0.3 3.2l0.3 2.6l0.3 2.5l0.2 -1.7l0.3 -3l0.3 -2.8l0.3 0.7l0.3 2.6l0.3 2.1l0.3 -1.6l0.3 -1.9l0.3 -1.2l0.3 0.6l0.3 0.1l0.3 -0.7l0.3 1.2l0.3 1.3l0.3 1.7l0.3 0.3l0.3 -1.5l0.2 -1.2l0.3 -1.2l0.3 -0.4l0.3 -0.1l0.3 0.2l0.3 1.7l0.3 1.9l0.3 1.6l0.3 -2l0.3 -2.6l0.3 -1.8l0.3 2.7l0.3 3l0.3 -0.4l0.3 -2.9l0.3 -2.9l0.3 2l0.2 3l0.3 2.5l0.3 -2.1l0.3 -2.7l0.3 -2.1l0.3 2.2l0.3 2.4l0.3 0.4l0.3 -2.1l0.3 -2.2l0.3 0.6l0.3 1.9l0.3 2.2l0.3 -0.5l0.3 -2.2l0.3 -1.9l0.3 2.2l0.2 2.5l0.3 -0.2l0.3 -2.2l0.3 -2.5l0.3 -0.7l0.3 2.2l0.3 2l0.3 1.8l0.3 -1.1l0.3 -1.8l0.3 -1.5l0.3 0.1l0.3 1.6l0.3 -1.5l0.3 -0.1l0.3 1.7l0.3 1.6l0.2 -1.5l0.3 -1.8l0.3 -0.4l0.3 1.8l0.3 1.8l0.3 0.7l0.3 -1.8l0.3 -1.8l0.3 -1.5l0.3 1.3l0.3 1.7l0.3 1.9l0.3 -0.2l0.3 -1.7l0.3 -1.3l0.3 -1l0.2 0.6l0.3 1.1l0.3 0.3l0.3 0.1l0.3 0.9l0.3 0.9l0.3 -0.7l0.3 -1.3l0.3 -1.3l0.3 -0.3l0.3 0.2l0.3 0l0.3 -0.3l0.3 1.3l0.3 1.6l0.3 1.5l0.3 -1.2l0.2 -1.7l0.3 -2l0.3 0.2l0.3 2l0.3 1.4l0.3 0.7l0.3 -0.5l0.3 -1l0.3 -1l0.3 -1.5l0.3 0l0.3 1.8l0.3 1.6l0.3 0.7l0.3 -1.7l0.3 -1.4l0.3 -0.8l0.2 1.2l0.3 1.1l0.3 0.8l0.3 -0.9l0.3 -1.5l0.3 1.2l0.3 1.2l0.3 0l0.3 -1.2l0.3 -1.3l0.3 -0.8l0.3 1.1l0.3 1.3l0.3 1.5l0.3 -0.5l0.3 -1.5l0.3 -1.5l0.2 -0.1l0.3 1.4l0.3 0.9l0.3 0.6l0.3 0l0.3 -0.7l0.3 -0.8l0.3 -0.9l0.3 0.7l0.3 1.3l0.3 0.3l0.3 -1.2l0.3 -1.5l0.3 0.4l0.3 1.3l0.3 1.5l0.3 -0.1l0.2 -1.3l0.3 -1l0.3 -0.6l0.3 0.1l0.3 0.8l0.3 0.6l0.3 0.9l0.3 0.3l0.3 -0.5l0.3 -0.7l0.3 -0.6l0.3 -0.9l0.3 0.3l0.3 1.1l0.3 1.2l0.3 -0.1l0.3 -1.3l0.2 -1.4l0.3 0.5l0.3 1.3l0.3 1.5l0.3 -0.1l0.3 -1.5l0.3 -1.3l0.3 -0.8l0.3 1.2l0.3 1.3l0.3 1.4l0.3 -0.8l0.3 -1.5l0.3 -1.5l0.3 1.1l0.3 1.7l0.3 1l0.2 -1.7l0.3 -1.6l0.3 -0.3l0.3 1.6l0.3 1.5l0.3 0.3l0.3 -1.5l0.3 -1.1l0.3 -0.6l0.3 0.8l0.3 0.9l0.3 1.2l0.3 -0.2l0.3 -1.2l0.3 -1.5l0.3 -0.3l0.3 1.4l0.2 1.2l0.3 1l0.3 -0.6l0.3 -1l0.3 -0.3l0.3 -0.4l0.3 -0.9l0.3 -0.1l0.3 1.1l0.3 1.2l0.3 0.8l0.3 -1l0.3 -1.2l0.3 -0.7l0.3 1.2l0.3 1.1l0.2 -0.3l0.3 -1l0.3 -0.9l0.3 0.8l0.3 1.1l0.3 -0.4l0.3 -1.3l0.3 0.4l0.3 0.9l0.3 0.7l0.3 -0.5l0.3 -0.8l0.3 -0.7l0.3 0.5l0.3 0.8l0.3 0.8l0.3 -0.6l0.2 -1l0.3 -1l0.3 0.6l0.3 1l0.3 1.2l0.3 0.3l0.3 -0.8l0.3 -0.7l0.3 -0.5l0.3 -0.8l0.3 -0.5l0.3 0.5l0.3 1l0.3 0.9l0.3 0.8l0.3 -0.2l0.3 -0.9l0.2 -0.5l0.3 -0.4l0.3 -0.2l0.3 -0.6l0.3 -0.1l0.3 1.1l0.3 1.3l0.3 0.8l0.3 -1.2l0.3 -1.3l0.3 -1.2l0.3 0.9l0.3 1.3l0.3 1.4l0.3 -0.4l0.3 -1.4l0.3 -1.5l0.2 0.1l0.3 1.5l0.3 1.3l0.3 -0.1l0.3 -1.2l0.3 -0.9l0.3 -0.4l0.3 0.6l0.3 0.7l0.3 0.2l0.3 0.2l0.3 0.4l0.3 0.6l0.3 -0.5l0.3 -1l0.3 -1.2l0.3 -0.4l0.2 1.2l0.3 1l0.3 0.8l0.3 -0.4l0.3 -0.9l0.3 -0.6l0.3 -0.4l0.3 0.4l0.3 1.2l0.3 -0.8l0.3 -0.6l0.3 -0.2l0.3 0.3l0.3 0.7l0.3 0.7l0.3 0.6l0.3 -0.6l0.2 -0.8l0.3 -1l0.3 -0.1l0.3 1l0.3 0.7l0.3 0.5l0.3 -0.6l0.3 -1.4l0.3 1.6l0.3 0.3l0.3 -0.6l0.3 -0.8l0.3 -0.8l0.3 0.4l0.3 0.9l0.3 1.1l0.3 0.4l0.2 -1.1l0.3 -1.1l0.3 -1l0.3 0.8l0.3 1.1l0.3 1.1l0.3 -0.2l0.3 -1.1l0.3 -1l0.3 0.3l0.3 1.2l0.3 0.5l0.3 -1l0.3 -1.2l0.3 0.2l0.3 1l0.3 1.3l0.2 -0.1l0.3 -1.2l0.3 -1.1l0.3 -0.1l0.3 1.1l0.3 1l0.3 -0.9l0.3 -1.2l0.3 0.4l0.3 1.1l0.3 1.3l0.3 -0.3l0.3 -1.3l0.3 -1.4l0.3 0l0.3 1.4l0.2 1.5l0.3 -1.2l0.3 -1.6l0.3 0l0.3 1.4l0.3 1.4l0.3 -0.3l0.3 -1.3l0.3 -1.5l0.3 0.4l0.3 1.4l0.3 1.3l0.3 -0.3l0.3 -1.2l0.3 -0.6l0.3 -0.6l0.3 -0.1l0.2 0.6l0.3 0.9l0.3 1.2l0.3 0l0.3 -1.4l0.3 -1.2l0.3 -0.3l0.3 1.3l0.3 1l0.3 0.7l0.3 -0.9l0.3 -0.9l0.3 -1l0.3 0.1l0.3 0.8" fill="none" stroke="#ff0000" stroke-width="0.8" stroke-linejoin="round"/>
</g>
<g clip-path="url(#c11)">
<path d="M284.2 219.1l0.3 -0.1l0.3 0l0.3 0l0.3 0l0.3 0l0.2 0l0.3 0l0.3 0l0.3 0l0.3 0l0.3 0l0.3 0l0.3 -0.1l0.3 0l0.3 0l0.3 0l0.3 0l0.3 0l0.2 0l0.3 0l0.3 0l0.3 0l0.3 0l0.3 0l0.3 0l0.3 0l0.3 0l0.3 0l0.3 0l0.3 0l0.3 0l0.2 0.1l0.3 0l0.3 0l0.3 0l0.3 0l0.3 0l0.3 0l0.3 0l0.3 0l0.3 0l0.3 0l0.3 0.1l0.3 0l0.2 0l0.3 0l0.3 0l0.3 0l0.3 0l0.3 0l0.3 0l0.3 0l0.3 0l0.3 0.1l0.3 0l0.3 0l0.3 0l0.3 0l0.2 0l0.3 0l0.3 0l0.3 0l0.3 0l0.3 0l0.3 0l0.3 0l0.3 0l0.3 0l0.3 0l0.3 0l0.3 0l0.2 0l0.3 0l0.3 0l0.3 0l0.3 0l0.3 0l0.3 0l0.3 -0.1l0.3 0l0.3 0l0.3 0l0.3 0l0.3 0l0.2 0l0.3 0l0.3 0l0.3 0l0.3 -0.1l0.3 0l0.3 0l0.3 0l0.3 0l0.3 0l0.3 0l0.3 0l0.3 0l0.2 0l0.3 0l0.3 0l0.3 -0.1l0.3 0l0.3 0l0.3 0l0.3 0l0.3 0l0.3 0l0.3 0l0.3 0l0.3 0l0.3 0l0.2 0l0.3 0l0.3 0l0.3 0l0.3 0l0.3 0l0.3 0l0.3 0l0.3 0.1l0.3 0l0.3 0l0.3 0l0.3 0l0.2 0l0.3 0l0.3 0l0.3 0l0.3 0l0.3 0l0.3 0.1l0.3 0l0.3 0l0.3 0l0.3 0l0.3 0l0.3 0l0.2 0l0.3 0l0.3 0l0.3 0l0.3 0.1l0.3 0l0.3 0l0.3 0l0.3 0l0.3 0l0.3 0l0.3 0l0.3 0l0.2 0l0.3 0l0.3 0l0.3 0l0.3 0l0.3 0l0.3 0l0.3 0l0.3 0l0.3 0l0.3 0l0.3 0l0.3 0l0.3 0l0.2 0l0.3 0l0.3 -0.1l0.3 0l0.3 0l0.3 0l0.3 0l0.3 0l0.3 0l0.3 0l0.3 0l0.3 0l0.3 -0.1l0.2 0l0.3 0l0.3 0l0.3 0l0.3 0l0.3 0l0.3 0l0.3 0l0.3 0l0.3 0l0.3 0l0.3 -0.1l0.3 0l0.2 0l0.3 0l0.3 0l0.3 0l0.3 0l0.3 0l0.3 0l0.3 0l0.3 0l0.3 0l0.3 0l0.3 0l0.3 0l0.2 0l0.3 0l0.3 0l0.3 0l0.3 0.1l0.3 0l0.3 0l0.3 0l0.3 0l0.3 0l0.3 0l0.3 0l0.3 0l0.3 0l0.2 0l0.3 0.1l0.3 0l0.3 0l0.3 0l0.3 0l0.3 0l0.3 0l0.3 0l0.3 0l0.3 0l0.3 0l0.3 0.1l0.2 0l0.3 0l0.3 0l0.3 0l0.3 0l0.3 0l0.3 0l0.3 0l0.3 0l0.3 0l0.3 0l0.3 0l0.3 0l0.2 0l0.3 0l0.3 0l0.3 0l0.3 0l0.3 0l0.3 0l0.3 0l0.3 0l0.3 0l0.3 0l0.3 -0.1l0.3 0l0.2 0l0.3 0l0.3 0l0.3 0l0.3 0l0.3 0l0.3 0l0.3 0l0.3 -0.1l0.3 0l0.3 0l0.3 0l0.3 0l0.3 0l0.2 0l0.3 0l0.3 0l0.3 0l0.3 0l0.3 0l0.3 -0.1l0.3 0l0.3 0l0.3 0l0.3 0l0.3 0l0.3 0l0.2 0l0.3 0l0.3 0l0.3 0l0.3 0l0.3 0l0.3 0l0.3 0l0.3 0l0.3 0l0.3 0l0.3 0l0.3 0.1l0.2 0l0.3 0l0.3 0l0.3 0l0.3 0l0.3 0l0.3 0l0.3 0l0.3 0l0.3 0l0.3 0.1l0.3 0l0.3 0l0.2 0l0.3 0l0.3 0l0.3 0l0.3 0l0.3 0l0.3 0l0.3 0l0.3 0.1l0.3 0l0.3 0l0.3 0l0.3 0l0.3 0l0.2 0l0.3 0l0.3 0l0.3 0l0.3 0l0.3 0l0.3 0l0.3 0l0.3 0l0.3 0l0.3 0l0.3 0l0.3 0l0.2 0l0.3 0l0.3 0l0.3 0l0.3 0l0.3 0l0.3 -0.1l0.3 0l0.3 0l0.3 0l0.3 0l0.3 0l0.3 0l0.2 0l0.3 0l0.3 0l0.3 -0.1l0.3 0l0.3 0l0.3 0l0.3 0l0.3 0l0.3 0l0.3 0l0.3 0l0.3 0l0.2 0l0.3 0l0.3 -0.1l0.3 0l0.3 0l0.3 0l0.3 0l0.3 0l0.3 0l0.3 0l0.3 0l0.3 0l0.3 0l0.3 0l0.2 0l0.3 0l0.3 0l0.3 0l0.3 0l0.3 0l0.3 0l0.3 0.1l0.3 0l0.3 0l0.3 0l0.3 0l0.3 0l0.2 0l0.3 0l0.3 0l0.3 0l0.3 0l0.3 0.1l0.3 0l0.3 0l0.3 0l0.3 0l0.3 0l0.3 0l0.3 0l0.2 0l0.3 0l0.3 0l0.3 0.1l0.3 0l0.3 0l0.3 0l0.3 0l0.3 0l0.3 0l0.3 0l0.3 0l0.3 0l0.2 0l0.3 0l0.3 0l0.3 0l0.3 0l0.3 0l0.3 0l0.3 0l0.3 0l0.3 0l0.3 0l0.3 0l0.3 0l0.3 0l0.2 0l0.3 -0.1l0.3 0l0.3 0l0.3 0l0.3 0l0.3 0l0.3 0l0.3 0l0.3 0l0.3 0l0.3 -0.1l0.3 0l0.2 0l0.3 0l0.3 0l0.3 0l0.3 0l0.3 0l0.3 0l0.3 0l0.3 0l0.3 0l0.3 -0.1l0.3 0l0.3 0l0.2 0l0.3 0l0.3 0l0.3 0l0.3 0l0.3 0l0.3 0l0.3 0l0.3 0l0.3 0l0.3 0l0.3 0l0.3 0l0.2 0l0.3 0l0.3 0l0.3 0.1l0.3 0l0.3 0l0.3 0l0.3 0l0.3 0l0.3 0l0.3 0l0.3 0l0.3 0l0.3 0l0.2 0.1l0.3 0l0.3 0l0.3 0l0.3 0l0.3 0l0.3 0l0.3 0l0.3 0l0.3 0l0.3 0l0.3 0.1l0.3 0l0.2 0l0.3 0l0.3 0l0.3 0l0.3 0l0.3 0l0.3 0l0.3 0l0.3 0l0.3 0l0.3 0l0.3 0l0.3 0l0.2 0l0.3 0l0.3 0l0.3 0l0.3 0l0.3 0l0.3 0l0.3 0l0.3 0l0.3 0l0.3 -0.1l0.3 0l0.3 0l0.2 0l0.3 0l0.3 0l0.3 0l0.3 0l0.3 0l0.3 0l0.3 -0.1l0.3 0l0.3 0l0.3 0l0.3 0l0.3 0l0.3 0l0.2 0l0.3 0l0.3 0l0.3 0l0.3 0l0.3 -0.1l0.3 0l0.3 0l0.3 0l0.3 0l0.3 0l0.3 0l0.3 0l0.2 0l0.3 0l0.3 0l0.3 0l0.3 0l0.3 0l0.3 0l0.3 0l0.3 0l0.3 0l0.3 0l0.3 0.1" fill="none" stroke="#000000" stroke-width="0.65" stroke-linejoin="round" opacity="0.5"/>
<path d="M284.2 219.1l0.3 -0.1l0.3 0l0.3 0l0.3 0l0.3 0l0.2 0l0.3 0l0.3 0l0.3 -0.1l0.3 0l0.3 0l0.3 0l0.3 0l0.3 0l0.3 0l0.3 0l0.3 0l0.3 0l0.2 0l0.3 0l0.3 0l0.3 0l0.3 0.1l0.3 0l0.3 0l0.3 0l0.3 0l0.3 0l0.3 0l0.3 0l0.3 0.1l0.2 0l0.3 0l0.3 0l0.3 0l0.3 0l0.3 0l0.3 0l0.3 0.1l0.3 0l0.3 0l0.3 0l0.3 0l0.3 0l0.2 0l0.3 0l0.3 0l0.3 0l0.3 0l0.3 0l0.3 0l0.3 0l0.3 0l0.3 0l0.3 0l0.3 -0.1l0.3 0l0.3 0l0.2 0l0.3 0l0.3 0l0.3 0l0.3 0l0.3 -0.1l0.3 0l0.3 0l0.3 0l0.3 0l0.3 0l0.3 0l0.3 0l0.2 -0.1l0.3 0l0.3 0l0.3 0l0.3 0l0.3 0l0.3 0l0.3 0l0.3 0l0.3 0l0.3 0l0.3 0l0.3 0l0.2 0l0.3 0.1l0.3 0l0.3 0l0.3 0l0.3 0l0.3 0l0.3 0l0.3 0l0.3 0.1l0.3 0l0.3 0l0.3 0l0.2 0l0.3 0l0.3 0l0.3 0l0.3 0.1l0.3 0l0.3 0l0.3 0l0.3 0l0.3 0l0.3 0l0.3 0l0.3 0l0.3 0l0.2 0l0.3 0l0.3 0l0.3 0l0.3 0l0.3 0l0.3 0l0.3 -0.1l0.3 0l0.3 0l0.3 0l0.3 0l0.3 0l0.2 0l0.3 0l0.3 -0.1l0.3 0l0.3 0l0.3 0l0.3 0l0.3 0l0.3 0l0.3 0l0.3 -0.1l0.3 0l0.3 0l0.2 0l0.3 0l0.3 0l0.3 0l0.3 0l0.3 0l0.3 0l0.3 0l0.3 0l0.3 0l0.3 0l0.3 0.1l0.3 0l0.2 0l0.3 0l0.3 0l0.3 0l0.3 0l0.3 0l0.3 0.1l0.3 0l0.3 0l0.3 0l0.3 0l0.3 0l0.3 0l0.3 0.1l0.2 0l0.3 0l0.3 0l0.3 0l0.3 0l0.3 0l0.3 0l0.3 0l0.3 0l0.3 0l0.3 0l0.3 0l0.3 0l0.2 0l0.3 0l0.3 0l0.3 0l0.3 -0.1l0.3 0l0.3 0l0.3 0l0.3 0l0.3 0l0.3 0l0.3 0l0.3 -0.1l0.2 0l0.3 0l0.3 0l0.3 0l0.3 0l0.3 0l0.3 0l0.3 -0.1l0.3 0l0.3 0l0.3 0l0.3 0l0.3 0l0.2 0l0.3 0l0.3 0l0.3 0l0.3 0l0.3 0l0.3 0l0.3 0l0.3 0.1l0.3 0l0.3 0l0.3 0l0.3 0l0.3 0l0.2 0l0.3 0l0.3 0.1l0.3 0l0.3 0l0.3 0l0.3 0l0.3 0l0.3 0l0.3 0.1l0.3 0l0.3 0l0.3 0l0.2 0l0.3 0l0.3 0l0.3 0l0.3 0l0.3 0l0.3 0l0.3 0l0.3 0l0.3 0l0.3 0l0.3 0l0.3 0l0.2 0l0.3 -0.1l0.3 0l0.3 0l0.3 0l0.3 0l0.3 0l0.3 0l0.3 0l0.3 -0.1l0.3 0l0.3 0l0.3 0l0.2 0l0.3 0l0.3 0l0.3 0l0.3 -0.1l0.3 0l0.3 0l0.3 0l0.3 0l0.3 0l0.3 0l0.3 0l0.3 0l0.3 0l0.2 0l0.3 0l0.3 0l0.3 0.1l0.3 0l0.3 0l0.3 0l0.3 0l0.3 0l0.3 0l0.3 0l0.3 0l0.3 0.1l0.2 0l0.3 0l0.3 0l0.3 0l0.3 0l0.3 0l0.3 0.1l0.3 0l0.3 0l0.3 0l0.3 0l0.3 0l0.3 0l0.2 0l0.3 0l0.3 0l0.3 0l0.3 0l0.3 0l0.3 0l0.3 0l0.3 0l0.3 0l0.3 0l0.3 -0.1l0.3 0l0.2 0l0.3 0l0.3 0l0.3 0l0.3 0l0.3 -0.1l0.3 0l0.3 0l0.3 0l0.3 0l0.3 0l0.3 0l0.3 0l0.3 0l0.2 -0.1l0.3 0l0.3 0l0.3 0l0.3 0l0.3 0l0.3 0l0.3 0l0.3 0l0.3 0l0.3 0l0.3 0l0.3 0l0.2 0.1l0.3 0l0.3 0l0.3 0l0.3 0l0.3 0l0.3 0l0.3 0l0.3 0.1l0.3 0l0.3 0l0.3 0l0.3 0l0.2 0l0.3 0l0.3 0l0.3 0.1l0.3 0l0.3 0l0.3 0l0.3 0l0.3 0l0.3 0l0.3 0l0.3 0l0.3 0l0.2 0l0.3 0l0.3 0l0.3 0l0.3 0l0.3 0l0.3 0l0.3 0l0.3 -0.1l0.3 0l0.3 0l0.3 0l0.3 0l0.3 0l0.2 0l0.3 -0.1l0.3 0l0.3 0l0.3 0l0.3 0l0.3 0l0.3 0l0.3 0l0.3 -0.1l0.3 0l0.3 0l0.3 0l0.2 0l0.3 0l0.3 0l0.3 0l0.3 0l0.3 0l0.3 0l0.3 0l0.3 0l0.3 0l0.3 0.1l0.3 0l0.3 0l0.2 0l0.3 0l0.3 0l0.3 0l0.3 0l0.3 0.1l0.3 0l0.3 0l0.3 0l0.3 0l0.3 0l0.3 0l0.3 0l0.2 0.1l0.3 0l0.3 0l0.3 0l0.3 0l0.3 0l0.3 0l0.3 0l0.3 0l0.3 0l0.3 0l0.3 0l0.3 0l0.3 0l0.2 0l0.3 0l0.3 0l0.3 -0.1l0.3 0l0.3 0l0.3 0l0.3 0l0.3 0l0.3 0l0.3 0l0.3 -0.1l0.3 0l0.2 0l0.3 0l0.3 0l0.3 0l0.3 0l0.3 0l0.3 -0.1l0.3 0l0.3 0l0.3 0l0.3 0l0.3 0l0.3 0l0.2 0l0.3 0l0.3 0l0.3 0l0.3 0l0.3 0l0.3 0l0.3 0.1l0.3 0l0.3 0l0.3 0l0.3 0l0.3 0l0.2 0l0.3 0l0.3 0.1l0.3 0l0.3 0l0.3 0l0.3 0l0.3 0l0.3 0l0.3 0l0.3 0.1l0.3 0l0.3 0l0.3 0l0.2 0l0.3 0l0.3 0l0.3 0l0.3 0l0.3 0l0.3 0l0.3 0l0.3 0l0.3 0l0.3 0l0.3 0l0.3 0l0.2 -0.1l0.3 0l0.3 0l0.3 0l0.3 0l0.3 0l0.3 0l0.3 0l0.3 -0.1l0.3 0l0.3 0l0.3 0l0.3 0l0.2 0l0.3 0l0.3 0l0.3 -0.1l0.3 0l0.3 0l0.3 0l0.3 0l0.3 0l0.3 0l0.3 0l0.3 0l0.3 0l0.2 0l0.3 0l0.3 0l0.3 0l0.3 0.1l0.3 0l0.3 0l0.3 0l0.3 0l0.3 0l0.3 0l0.3 0l0.3 0.1l0.3 0l0.2 0l0.3 0l0.3 0l0.3 0l0.3 0l0.3 0.1l0.3 0l0.3 0l0.3 0l0.3 0l0.3 0l0.3 0l0.3 0l0.2 0l0.3 0l0.3 0l0.3 0l0.3 0l0.3 0l0.3 0l0.3 0l0.3 0l0.3 0l0.3 -0.1l0.3 0" fill="none" stroke="#0000ff" stroke-width="0.65" stroke-linejoin="round" opacity="0.45"/>
<path d="M284.2 218.9l0.3 0l0.3 0l0.3 0l0.3 0l0.3 0l0.2 0l0.3 0l0.3 0l0.3 0l0.3 0l0.3 0l0.3 0l0.3 0l0.3 0l0.3 0l0.3 0l0.3 0l0.3 0l0.2 0l0.3 0l0.3 0l0.3 0l0.3 0l0.3 0l0.3 0l0.3 0l0.3 0l0.3 0l0.3 0l0.3 0l0.3 0l0.2 0l0.3 0l0.3 0l0.3 0l0.3 0l0.3 0l0.3 0l0.3 0l0.3 0l0.3 0l0.3 0l0.3 0l0.3 0l0.2 0l0.3 0l0.3 0l0.3 0l0.3 0l0.3 0l0.3 0l0.3 0l0.3 0l0.3 0l0.3 0l0.3 0l0.3 0l0.3 0l0.2 0l0.3 0l0.3 0l0.3 0l0.3 0l0.3 0.1l0.3 0l0.3 0.1l0.3 -0.1l0.3 -0.1l0.3 -0.2l0.3 -0.1l0.3 0.1l0.2 0.1l0.3 0.3l0.3 0.2l0.3 0.1l0.3 0l0.3 -0.3l0.3 -0.5l0.3 -0.3l0.3 -0.2l0.3 0.2l0.3 0.5l0.3 0.6l0.3 0.4l0.2 0.1l0.3 -0.3l0.3 -0.7l0.3 -0.7l0.3 -0.4l0.3 0.1l0.3 0.4l0.3 0.7l0.3 0.7l0.3 0.3l0.3 -0.2l0.3 -0.5l0.3 -0.6l0.2 -0.5l0.3 -0.1l0.3 0.2l0.3 0.4l0.3 0.4l0.3 0.3l0.3 0.1l0.3 -0.2l0.3 -0.3l0.3 -0.3l0.3 -0.1l0.3 0l0.3 0.1l0.3 0.2l0.2 0.1l0.3 0.1l0.3 0l0.3 -0.1l0.3 -0.1l0.3 0l0.3 -0.1l0.3 0.1l0.3 0l0.3 0l0.3 0l0.3 0l0.3 0l0.2 0l0.3 0l0.3 0l0.3 0l0.3 0l0.3 0l0.3 0l0.3 0l0.3 0l0.3 0l0.3 0l0.3 0l0.3 0l0.2 0l0.3 0l0.3 0l0.3 0l0.3 0l0.3 0l0.3 0l0.3 0l0.3 0l0.3 0l0.3 0l0.3 0l0.3 0l0.2 0l0.3 0l0.3 0l0.3 0l0.3 0l0.3 0l0.3 0l0.3 0l0.3 0l0.3 0l0.3 0l0.3 0l0.3 0l0.3 0l0.2 0l0.3 0l0.3 0l0.3 0l0.3 0l0.3 0l0.3 0l0.3 0l0.3 0l0.3 0l0.3 0l0.3 0l0.3 0l0.2 0l0.3 0l0.3 0l0.3 0l0.3 0l0.3 0l0.3 0l0.3 0l0.3 0l0.3 0l0.3 0l0.3 0l0.3 0l0.2 0l0.3 0l0.3 0l0.3 0l0.3 0l0.3 0l0.3 0l0.3 0l0.3 0l0.3 0l0.3 0l0.3 0l0.3 0l0.2 0l0.3 0l0.3 0l0.3 0l0.3 0l0.3 0l0.3 0l0.3 0l0.3 0l0.3 0l0.3 0l0.3 0l0.3 0l0.3 0l0.2 0l0.3 0l0.3 0l0.3 0l0.3 0l0.3 0l0.3 0l0.3 0l0.3 0l0.3 0l0.3 0l0.3 0l0.3 0l0.2 0l0.3 0l0.3 0l0.3 0l0.3 0l0.3 0l0.3 0l0.3 0l0.3 0l0.3 0l0.3 0l0.3 0l0.3 0l0.2 0l0.3 0l0.3 0l0.3 0l0.3 0l0.3 0l0.3 0l0.3 0l0.3 0l0.3 0l0.3 0l0.3 0l0.3 0l0.2 0l0.3 0l0.3 0l0.3 0l0.3 0l0.3 0l0.3 0l0.3 0l0.3 0l0.3 0l0.3 0l0.3 0l0.3 0l0.3 0l0.2 0l0.3 0l0.3 0l0.3 0l0.3 0l0.3 0l0.3 0l0.3 0l0.3 0l0.3 0l0.3 0l0.3 0l0.3 0l0.2 0l0.3 0l0.3 0l0.3 0l0.3 0l0.3 0l0.3 0l0.3 0l0.3 0l0.3 0l0.3 0l0.3 0l0.3 0l0.2 0l0.3 0l0.3 0l0.3 0l0.3 0l0.3 0l0.3 0l0.3 0l0.3 0l0.3 0l0.3 0l0.3 0l0.3 0l0.2 0l0.3 0l0.3 0l0.3 0l0.3 0l0.3 0l0.3 0l0.3 0l0.3 0l0.3 0l0.3 0l0.3 0l0.3 0l0.3 0l0.2 0l0.3 0l0.3 0l0.3 0l0.3 0l0.3 0l0.3 0l0.3 0l0.3 0l0.3 0l0.3 0l0.3 0l0.3 0l0.2 0l0.3 0l0.3 0l0.3 0l0.3 0l0.3 0l0.3 0l0.3 0l0.3 0l0.3 0l0.3 0l0.3 0l0.3 0l0.2 0l0.3 0l0.3 0l0.3 0l0.3 0l0.3 0l0.3 0l0.3 0l0.3 0l0.3 0l0.3 0l0.3 0l0.3 0l0.2 0l0.3 0l0.3 0l0.3 0l0.3 0l0.3 0l0.3 0l0.3 0l0.3 0l0.3 0l0.3 0l0.3 0l0.3 0l0.3 0l0.2 0l0.3 0l0.3 0l0.3 0l0.3 0l0.3 0l0.3 0l0.3 0l0.3 0l0.3 0l0.3 0l0.3 0l0.3 0l0.2 0l0.3 0l0.3 0l0.3 0l0.3 0l0.3 0l0.3 0l0.3 0l0.3 0l0.3 0l0.3 0l0.3 0l0.3 0l0.2 0l0.3 0l0.3 0l0.3 0l0.3 0l0.3 0l0.3 0l0.3 0l0.3 0l0.3 0l0.3 0l0.3 0l0.3 0l0.2 0l0.3 0l0.3 0l0.3 0l0.3 0l0.3 0l0.3 0l0.3 0l0.3 0l0.3 0l0.3 0l0.3 0l0.3 0l0.3 0l0.2 0l0.3 0l0.3 0l0.3 0l0.3 0l0.3 0l0.3 0l0.3 0l0.3 0l0.3 0l0.3 0l0.3 0l0.3 0l0.2 0l0.3 0l0.3 0l0.3 0l0.3 0l0.3 0l0.3 0l0.3 0l0.3 0l0.3 0l0.3 0l0.3 0l0.3 0l0.2 0l0.3 0l0.3 0l0.3 0l0.3 0l0.3 0l0.3 0l0.3 0l0.3 0l0.3 0l0.3 0l0.3 0l0.3 0l0.2 0l0.3 0l0.3 0l0.3 0l0.3 0l0.3 0l0.3 0l0.3 0l0.3 0l0.3 0l0.3 0l0.3 0l0.3 0l0.3 0l0.2 0l0.3 0l0.3 0l0.3 0l0.3 0l0.3 0l0.3 0l0.3 0l0.3 0l0.3 0l0.3 0l0.3 0l0.3 0l0.2 0l0.3 0l0.3 0l0.3 0l0.3 0l0.3 0l0.3 0l0.3 0l0.3 0l0.3 0l0.3 0l0.3 0l0.3 0l0.2 0l0.3 0l0.3 0l0.3 0l0.3 0l0.3 0l0.3 0l0.3 0l0.3 0l0.3 0l0.3 0l0.3 0l0.3 0l0.2 0l0.3 0l0.3 0l0.3 0l0.3 0l0.3 0l0.3 0l0.3 0l0.3 0l0.3 0l0.3 0l0.3 0l0.3 0l0.3 0l0.2 0l0.3 0l0.3 0l0.3 0l0.3 0l0.3 0l0.3 0l0.3 0l0.3 0l0.3 0l0.3 0l0.3 0l0.3 0l0.2 0l0.3 0l0.3 0l0.3 0l0.3 0l0.3 0l0.3 0l0.3 0l0.3 0l0.3 0l0.3 0l0.3 0" fill="none" stroke="#ff0000" stroke-width="0.65" stroke-linejoin="round" opacity="0.45"/>
<path d="M284.2 176.6l0.3 0l0.3 0l0.3 0l0.3 0l0.3 0l0.2 0l0.3 0l0.3 0l0.3 0l0.3 0l0.3 0l0.3 0l0.3 0l0.3 0l0.3 0l0.3 0l0.3 0l0.3 0l0.2 0l0.3 0l0.3 0l0.3 0l0.3 0l0.3 0l0.3 0l0.3 0l0.3 0l0.3 0l0.3 0l0.3 0l0.3 0l0.2 0l0.3 0l0.3 0l0.3 0l0.3 0l0.3 0l0.3 0l0.3 0l0.3 0l0.3 0l0.3 0l0.3 0l0.3 0l0.2 0l0.3 0l0.3 0l0.3 0l0.3 0l0.3 0l0.3 0l0.3 0l0.3 0l0.3 0l0.3 0l0.3 0l0.3 0l0.3 0l0.2 0l0.3 0l0.3 0l0.3 0l0.3 0l0.3 0l0.3 0l0.3 0l0.3 0l0.3 0l0.3 0l0.3 0l0.3 -0.2l0.2 0l0.3 0.3l0.3 0.5l0.3 0.8l0.3 0.5l0.3 -0.1l0.3 -0.8l0.3 -1l0.3 -0.9l0.3 -1.6l0.3 -1.3l0.3 -0.3l0.3 0.9l0.2 1.6l0.3 1.5l0.3 1.5l0.3 2.3l0.3 1.9l0.3 0.7l0.3 -0.6l0.3 -1.8l0.3 -2.5l0.3 -1.7l0.3 -2.6l0.3 -3.2l0.3 -2.7l0.2 -1.1l0.3 0.7l0.3 2.7l0.3 3.7l0.3 2.8l0.3 3.3l0.3 4.4l0.3 3.8l0.3 1.5l0.3 -1.4l0.3 -4l0.3 -5.1l0.3 -3.3l0.3 -5.1l0.2 -5.6l0.3 -3.4l0.3 0.2l0.3 3.7l0.3 5.9l0.3 4.9l0.3 4.4l0.3 6.3l0.3 4.6l0.3 0.9l0.3 -3.1l0.3 -6.1l0.3 -5.9l0.2 -3.9l0.3 -5.9l0.3 -4.2l0.3 -0.8l0.3 1.7l0.3 -4l0.3 -15.7l0.3 -0.1l0.3 29.2l0.3 33.4l0.3 18.4l0.3 -16.4l0.3 -21.4l0.2 -9.2l0.3 -3.4l0.3 -5.2l0.3 -5.2l0.3 -2.7l0.3 1.2l0.3 4.6l0.3 6.2l0.3 3.7l0.3 5.4l0.3 4.9l0.3 2l0.3 -1.7l0.2 -4.5l0.3 -5.2l0.3 -3.1l0.3 -4.4l0.3 -4l0.3 -1.6l0.3 1.6l0.3 3.8l0.3 4.2l0.3 2.5l0.3 3.8l0.3 3.3l0.3 1.1l0.3 -1.6l0.2 -3.6l0.3 -3.6l0.3 -2.4l0.3 -3.7l0.3 -2.6l0.3 -0.3l0.3 2.2l0.3 3.6l0.3 2.7l0.3 2.9l0.3 3.5l0.3 1.8l0.3 -0.6l0.2 -2.7l0.3 -3.5l0.3 -2.2l0.3 -3.3l0.3 -3l0.3 -1.1l0.3 1.3l0.3 3.1l0.3 3.3l0.3 2.2l0.3 3.5l0.3 2.6l0.3 0.4l0.2 -1.9l0.3 -3.4l0.3 -2.9l0.3 -2.6l0.3 -3.5l0.3 -2.1l0.3 0.2l0.3 2.4l0.3 3.5l0.3 2.3l0.3 3l0.3 3.1l0.3 1.6l0.2 -0.7l0.3 -2.6l0.3 -3.3l0.3 -1.9l0.3 -3l0.3 -2.7l0.3 -1.1l0.3 1l0.3 2.6l0.3 2.9l0.3 1.7l0.3 2.8l0.3 2.4l0.3 0.8l0.2 -1.1l0.3 -2.4l0.3 -2.6l0.3 -1.7l0.3 -2.6l0.3 -2.2l0.3 -0.7l0.3 1l0.3 2.3l0.3 2.5l0.3 1.6l0.3 2.5l0.3 2l0.2 0.8l0.3 -0.9l0.3 -2.1l0.3 -2.4l0.3 -1.4l0.3 -2.1l0.3 -2l0.3 -0.9l0.3 0.5l0.3 1.7l0.3 2.1l0.3 1.4l0.3 1.8l0.2 1.9l0.3 1.2l0.3 -0.1l0.3 -1.2l0.3 -1.9l0.3 -1.7l0.3 -1.2l0.3 -1.9l0.3 -1.4l0.3 -0.4l0.3 0.8l0.3 1.7l0.3 1.8l0.2 1.1l0.3 1.7l0.3 1.6l0.3 0.6l0.3 -0.6l0.3 -1.5l0.3 -1.8l0.3 -1l0.3 -1.8l0.3 -1.5l0.3 -0.7l0.3 0.6l0.3 1.6l0.3 1.7l0.2 1.1l0.3 1.7l0.3 1.5l0.3 0.3l0.3 -0.8l0.3 -1.7l0.3 -1.5l0.3 -1.2l0.3 -1.8l0.3 -1l0.3 0.1l0.3 1.2l0.3 1.7l0.2 1.1l0.3 1.7l0.3 1.5l0.3 0.5l0.3 -0.6l0.3 -1.6l0.3 -1.5l0.3 -1.1l0.3 -1.7l0.3 -1.2l0.3 0l0.3 1.1l0.3 1.6l0.2 1.2l0.3 1.4l0.3 1.5l0.3 0.8l0.3 -0.3l0.3 -1.3l0.3 -1.6l0.3 -0.9l0.3 -1.5l0.3 -1.4l0.3 -0.7l0.3 0.5l0.3 1.3l0.2 1.5l0.3 0.9l0.3 1.4l0.3 1.3l0.3 0.7l0.3 -0.4l0.3 -1.1l0.3 -1.4l0.3 -0.9l0.3 -1.1l0.3 -1.2l0.3 -0.9l0.3 -0.1l0.3 0.6l0.2 1.1l0.3 1.1l0.3 0.7l0.3 0.9l0.3 1l0.3 0.8l0.3 0.3l0.3 -0.1l0.3 -0.6l0.3 -1l0.3 -1l0.3 -0.6l0.3 -1l0.2 -1.1l0.3 -0.9l0.3 -0.3l0.3 0.5l0.3 1.1l0.3 1.3l0.3 0.8l0.3 1.4l0.3 1.4l0.3 0.8l0.3 0l0.3 -1.1l0.3 -1.5l0.2 -1.2l0.3 -1.3l0.3 -1.7l0.3 -1.2l0.3 0l0.3 1l0.3 1.7l0.3 1.4l0.3 1.3l0.3 1.7l0.3 1.1l0.3 0.1l0.3 -1l0.2 -1.7l0.3 -1.4l0.3 -1.2l0.3 -1.7l0.3 -1.1l0.3 -0.1l0.3 1.1l0.3 1.6l0.3 1.4l0.3 1.2l0.3 1.6l0.3 1.1l0.3 0l0.3 -1l0.2 -1.6l0.3 -1.3l0.3 -1.2l0.3 -1.6l0.3 -1.1l0.3 0l0.3 1l0.3 1.5l0.3 1.3l0.3 1.2l0.3 1.5l0.3 1.1l0.3 0.1l0.2 -0.9l0.3 -1.5l0.3 -1.3l0.3 -1.1l0.3 -1.5l0.3 -1.1l0.3 -0.2l0.3 0.8l0.3 1.4l0.3 1.4l0.3 1l0.3 1.5l0.3 1.1l0.2 0.3l0.3 -0.7l0.3 -1.3l0.3 -1.4l0.3 -0.9l0.3 -1.4l0.3 -1.1l0.3 -0.2l0.3 0.6l0.3 1.2l0.3 1.2l0.3 0.7l0.3 1l0.2 0.9l0.3 0.2l0.3 -0.5l0.3 -1l0.3 -0.9l0.3 -0.6l0.3 -1.3l0.3 1.9l0.3 1.9l0.3 0.1l0.3 -0.7l0.3 -0.9l0.3 -0.6l0.3 -0.8l0.2 -1l0.3 -0.6l0.3 0.1l0.3 0.7l0.3 1l0.3 0.8l0.3 0.9l0.3 1.1l0.3 0.7l0.3 -0.1l0.3 -0.8l0.3 -1.2l0.3 -0.8l0.2 -1l0.3 -1.2l0.3 -0.7l0.3 0.1l0.3 0.9l0.3 1.2l0.3 0.8l0.3 1.1l0.3 1.1l0.3 0.7l0.3 -0.1l0.3 -0.8l0.3 -1.2l0.2 -0.8l0.3 -1l0.3 -1l0.3 -0.7l0.3 0.1l0.3 0.7l0.3 1l0.3 0.9l0.3 0.7l0.3 1l0.3 0.6l0.3 0.1l0.3 -0.5l0.2 -0.9l0.3 -0.8l0.3 -0.5l0.3 -0.8l0.3 -0.7l0.3 -0.3l0.3 0.1l0.3 0.6l0.3 0.7l0.3 0.6l0.3 0.4l0.3 0.7l0.3 0.6l0.3 0.3l0.2 0l0.3 -0.5l0.3 -0.7l0.3 -0.6l0.3 -0.4l0.3 -0.8l0.3 -0.6l0.3 -0.3l0.3 0.1l0.3 0.6l0.3 0.8l0.3 0.5l0.3 0.7l0.2 0.8l0.3 0.6l0.3 0l0.3 -0.6l0.3 -0.8l0.3 -0.7l0.3 -0.6l0.3 -0.9l0.3 -0.7l0.3 -0.1l0.3 0.5l0.3 0.9l0.3 0.8l0.2 0.6l0.3 0.9l0.3 0.7l0.3 0.2l0.3 -0.4l0.3 -0.8l0.3 -0.9l0.3 -0.5l0.3 -0.9l0.3 -0.8l0.3 -0.4l0.3 0.3l0.3 0.7l0.2 0.9l0.3 0.6l0.3 0.8l0.3 0.8l0.3 0.5l0.3 0l0.3 -0.6l0.3 -0.9l0.3 -0.7l0.3 -0.5l0.3 -0.9l0.3 -0.6l0.3 -0.2l0.3 0.4l0.2 0.8l0.3 0.8l0.3 0.5l0.3 0.8l0.3 0.6l0.3 0.3l0.3 -0.2l0.3 -0.7l0.3 -0.8l0.3 -0.5l0.3 -0.7l0.3 -0.7l0.3 -0.4l0.2 0.2l0.3 0.7l0.3 0.8l0.3 0.5l0.3 0.8l0.3 0.6l0.3 0.3l0.3 -0.3l0.3 -0.7l0.3 -0.8l0.3 -0.4l0.3 -1.1" fill="none" stroke="#000000" stroke-width="0.85" stroke-linejoin="round"/>
<path d="M284.2 176.6l0.3 0l0.3 0l0.3 0l0.3 0l0.3 0l0.2 0l0.3 0l0.3 0l0.3 0l0.3 0l0.3 0l0.3 0l0.3 0l0.3 0l0.3 0l0.3 0l0.3 0l0.3 0l0.2 0l0.3 0l0.3 0l0.3 0l0.3 0l0.3 0l0.3 0l0.3 0l0.3 0l0.3 0l0.3 0l0.3 0l0.3 0l0.2 0l0.3 0l0.3 0l0.3 0l0.3 0l0.3 0l0.3 0l0.3 0l0.3 0l0.3 0l0.3 0l0.3 0l0.3 0l0.2 0l0.3 0l0.3 0l0.3 0l0.3 0l0.3 0l0.3 0l0.3 0l0.3 0l0.3 0l0.3 0l0.3 0l0.3 0l0.3 0l0.2 0l0.3 0l0.3 0l0.3 0l0.3 0l0.3 0l0.3 0l0.3 0l0.3 0l0.3 0l0.3 0l0.3 0l0.3 0l0.2 0l0.3 0l0.3 0l0.3 0l0.3 0l0.3 0.7l0.3 0.8l0.3 0.3l0.3 -0.4l0.3 -1.1l0.3 -1l0.3 -2.2l0.3 -2.5l0.2 -1.5l0.3 0.2l0.3 2.1l0.3 3.3l0.3 2.3l0.3 4.4l0.3 5.2l0.3 3.6l0.3 -0.1l0.3 -4.3l0.3 -6.7l0.3 -4.8l0.3 -8.7l0.2 -9.6l0.3 -5.9l0.3 0.9l0.3 8.2l0.3 11.3l0.3 7.5l0.3 12.1l0.3 12.8l0.3 7.2l0.3 -3.3l0.3 -15.7l0.3 -19.2l0.3 -4.5l0.3 -7.1l0.2 -10.9l0.3 -5.8l0.3 2.7l0.3 10l0.3 12.7l0.3 8l0.3 10.3l0.3 10.7l0.3 5.4l0.3 -1.6l0.3 -8.1l0.3 -11l0.3 -7.2l0.2 -8.8l0.3 -9.5l0.3 -5.2l0.3 1.2l0.3 7l0.3 9.5l0.3 6.5l0.3 7.6l0.3 8.8l0.3 5.3l0.3 -0.5l0.3 -6.2l0.3 -9l0.2 -6.4l0.3 -7.4l0.3 -8.6l0.3 -5l0.3 0.7l0.3 6.2l0.3 8.8l0.3 5.9l0.3 7.6l0.3 8l0.3 4l0.3 -1.7l0.3 -6.7l0.2 -8.2l0.3 -5l0.3 -7.3l0.3 -6.3l0.3 -1.8l0.3 3.5l0.3 7l0.3 6.3l0.3 5.1l0.3 6.6l0.3 3.2l0.3 -2.3l0.3 -6.4l0.3 -5.9l0.2 -5.3l0.3 -6.3l0.3 -2.3l0.3 3.2l0.3 6.3l0.3 4.7l0.3 5.8l0.3 5.8l0.3 2l0.3 -2.7l0.3 -5.9l0.3 -5.3l0.3 -4.6l0.2 -6.1l0.3 -3.7l0.3 0.5l0.3 4.4l0.3 6.1l0.3 4l0.3 5.6l0.3 5.7l0.3 2.8l0.3 -1.3l0.3 -4.8l0.3 -6.1l0.3 -3.7l0.2 -5.6l0.3 -5.4l0.3 -2.5l0.3 1.4l0.3 4.7l0.3 5.8l0.3 3.6l0.3 5.2l0.3 5.1l0.3 2.6l0.3 -1l0.3 -4.2l0.3 -5.5l0.2 -3.6l0.3 -4.7l0.3 -5.1l0.3 -2.9l0.3 0.5l0.3 3.7l0.3 5.2l0.3 3.8l0.3 4l0.3 5l0.3 3.2l0.3 0.3l0.3 -2.9l0.3 -5l0.2 -4.2l0.3 -2.7l0.3 -4l0.3 -2.6l0.3 -0.5l0.3 1.9l0.3 3.2l0.3 3.2l0.3 1.7l0.3 2.4l0.3 2.3l0.3 1.2l0.3 -0.5l0.2 -1.7l0.3 -2.3l0.3 -1.9l0.3 -1.3l0.3 -1.9l0.3 -1.4l0.3 -0.4l0.3 0.7l0.3 1.5l0.3 1.7l0.3 1l0.3 1.3l0.3 1.6l0.2 1.2l0.3 0.2l0.3 -0.7l0.3 -1.4l0.3 -1.6l0.3 -1l0.3 -1.6l0.3 -1.6l0.3 -0.9l0.3 0l0.3 1.1l0.3 1.7l0.3 1.6l0.2 1.1l0.3 1.8l0.3 1.5l0.3 0.5l0.3 -0.6l0.3 -1.6l0.3 -1.8l0.3 -1.1l0.3 -1.8l0.3 -1.8l0.3 -1.1l0.3 0.1l0.3 1.3l0.3 1.9l0.2 1.6l0.3 1.3l0.3 2l0.3 1.4l0.3 0.4l0.3 -0.8l0.3 -1.7l0.3 -1.9l0.3 -1.1l0.3 -1.8l0.3 -1.7l0.3 -0.9l0.3 0.3l0.2 1.3l0.3 1.8l0.3 1.5l0.3 1.3l0.3 1.8l0.3 1.3l0.3 0.4l0.3 -0.8l0.3 -1.6l0.3 -1.7l0.3 -1.1l0.3 -1.6l0.3 -1.6l0.2 -1l0.3 0.2l0.3 1.1l0.3 1.6l0.3 1.5l0.3 1l0.3 1.6l0.3 1.4l0.3 0.5l0.3 -0.4l0.3 -1.3l0.3 -1.5l0.3 -1.1l0.2 -1.2l0.3 -1.5l0.3 -1.1l0.3 -0.3l0.3 0.7l0.3 1.3l0.3 1.5l0.3 0.8l0.3 1.3l0.3 1.4l0.3 0.8l0.3 0l0.3 -0.9l0.3 -1.3l0.2 -1.3l0.3 -0.8l0.3 -1.3l0.3 -1.1l0.3 -0.5l0.3 0.3l0.3 1l0.3 1.3l0.3 0.9l0.3 1l0.3 1.2l0.3 0.8l0.3 0.2l0.2 -0.7l0.3 -1.1l0.3 -1.1l0.3 -0.7l0.3 -1.1l0.3 -0.9l0.3 -0.5l0.3 0.3l0.3 0.8l0.3 1.1l0.3 0.7l0.3 0.8l0.3 1l0.2 0.6l0.3 0l0.3 -0.5l0.3 -0.9l0.3 -0.9l0.3 -0.6l0.3 -0.9l0.3 -0.8l0.3 -0.2l0.3 0.5l0.3 2.1l0.3 0.9l0.3 -1.1l0.2 -0.7l0.3 -0.9l0.3 -0.6l0.3 -0.1l0.3 0.5l0.3 0.9l0.3 0.8l0.3 0.6l0.3 0.9l0.3 0.8l0.3 0.2l0.3 -0.3l0.3 -0.9l0.3 -0.9l0.2 -0.6l0.3 -1l0.3 -0.9l0.3 -0.4l0.3 0.1l0.3 0.8l0.3 1l0.3 0.7l0.3 0.9l0.3 1l0.3 0.7l0.3 0.1l0.3 -0.6l0.2 -1l0.3 -1l0.3 -0.6l0.3 -1l0.3 -0.9l0.3 -0.4l0.3 0.3l0.3 0.8l0.3 1l0.3 0.7l0.3 0.9l0.3 1l0.3 0.7l0.2 0.1l0.3 -0.5l0.3 -0.9l0.3 -1l0.3 -0.5l0.3 -1l0.3 -0.9l0.3 -0.6l0.3 0l0.3 0.6l0.3 0.9l0.3 1l0.3 0.5l0.2 1l0.3 0.9l0.3 0.5l0.3 -0.1l0.3 -0.7l0.3 -0.9l0.3 -0.9l0.3 -0.7l0.3 -1l0.3 -0.9l0.3 -0.4l0.3 0.3l0.3 0.8l0.3 1.1l0.2 0.7l0.3 0.9l0.3 1.1l0.3 0.8l0.3 0.2l0.3 -0.6l0.3 -1l0.3 -1.1l0.3 -0.7l0.3 -1.1l0.3 -1l0.3 -0.5l0.3 0.3l0.2 0.8l0.3 1.1l0.3 0.8l0.3 0.9l0.3 1.1l0.3 0.7l0.3 0.1l0.3 -0.6l0.3 -1.1l0.3 -1l0.3 -0.7l0.3 -1.1l0.3 -0.8l0.2 -0.3l0.3 0.4l0.3 0.9l0.3 1.1l0.3 0.7l0.3 1l0.3 1l0.3 0.4l0.3 -0.2l0.3 -0.9l0.3 -1.1l0.3 -0.6l0.3 -1l0.2 -1l0.3 -0.6l0.3 0.1l0.3 0.8l0.3 1.1l0.3 0.7l0.3 1l0.3 1l0.3 0.6l0.3 -0.1l0.3 -0.8l0.3 -1.1l0.3 -0.7l0.3 -0.9l0.2 -1l0.3 -0.6l0.3 0.2l0.3 0.7l0.3 1.1l0.3 0.7l0.3 1l0.3 0.9l0.3 0.5l0.3 -0.3l0.3 -0.8l0.3 -1.1l0.3 -0.6l0.2 -1l0.3 -0.9l0.3 -0.2l0.3 0.5l0.3 0.9l0.3 0.9l0.3 0.7l0.3 0.9l0.3 0.6l0.3 -0.1l0.3 -0.6l0.3 -0.9l0.3 -0.6l0.2 -0.8l0.3 -0.8l0.3 -0.3l0.3 0.3l0.3 0.8l0.3 0.7l0.3 0.6l0.3 0.8l0.3 0.5l0.3 0l0.3 -0.5l0.3 -0.7l0.3 -0.5l0.2 -0.6l0.3 -0.7l0.3 -0.3l0.3 0.1l0.3 0.6l0.3 0.7l0.3 0.4l0.3 0.7l0.3 0.4l0.3 0l0.3 -0.4l0.3 -0.7l0.3 -0.3l0.3 -0.6l0.2 -0.6l0.3 0.2l0.3 1.3l0.3 1.1l0.3 -0.1l0.3 -0.6l0.3 -0.5l0.3 -0.3l0.3 -0.6l0.3 -0.4l0.3 -0.1l0.3 0.2l0.3 0.7l0.2 0.4l0.3 0.6l0.3 0.6l0.3 0.2l0.3 -0.2l0.3 -0.4l0.3 -0.6l0.3 -0.4l0.3 -0.5l0.3 -0.7l0.3 -0.1l0.3 0.6" fill="none" stroke="#0000ff" stroke-width="0.85" stroke-linejoin="round"/>
<path d="M284.2 176.6l0.3 0l0.3 0l0.3 0l0.3 0l0.3 0l0.2 -0.1l0.3 -0.1l0.3 0.1l0.3 0.1l0.3 0.2l0.3 0l0.3 -0.1l0.3 -0.2l0.3 -0.3l0.3 0l0.3 0.3l0.3 0.2l0.3 0.3l0.2 0l0.3 -0.3l0.3 -0.2l0.3 -0.2l0.3 0l0.3 0l0.3 -0.2l0.3 0.1l0.3 0.4l0.3 0.5l0.3 0.2l0.3 -0.5l0.3 -0.6l0.2 -0.5l0.3 0.6l0.3 1.1l0.3 -0.8l0.3 -1.1l0.3 -0.6l0.3 1l0.3 1.2l0.3 1.6l0.3 0.3l0.3 -1.4l0.3 -1.2l0.3 -1.2l0.2 -1l0.3 -0.3l0.3 0.2l0.3 1.4l0.3 1.8l0.3 3.2l0.3 0.9l0.3 -3.2l0.3 -3.2l0.3 -3.9l0.3 0.1l0.3 3.8l0.3 2.8l0.3 3.5l0.2 1.6l0.3 -1.6l0.3 -3.8l0.3 -2.8l0.3 -3.8l0.3 -0.6l0.3 3.6l0.3 3.6l0.3 5.3l0.3 2.2l0.3 -4.1l0.3 -4.9l0.3 -6.6l0.2 -3.8l0.3 3.5l0.3 7l0.3 6.8l0.3 6.7l0.3 -3.3l0.3 -9.1l0.3 -8.2l0.3 -6l0.3 6.3l0.3 8l0.3 6.3l0.3 0.1l0.2 -5.4l0.3 4.8l0.3 4.2l0.3 -5.2l0.3 -7l0.3 -8.9l0.3 -1.5l0.3 8.3l0.3 7.6l0.3 7.8l0.3 -4.8l0.3 -9.1l0.3 -9.7l0.2 5.1l0.3 9.2l0.3 9l0.3 -4.4l0.3 -8.3l0.3 -8.6l0.3 1.7l0.3 8.3l0.3 7.3l0.3 -4.5l0.3 -7.8l0.3 -1.1l0.3 6l0.3 6.4l0.2 1.1l0.3 -5.3l0.3 -4.1l0.3 -4.5l0.3 0.1l0.3 3.9l0.3 3.1l0.3 3.6l0.3 1.5l0.3 -1.6l0.3 -3.6l0.3 -3l0.3 -3l0.2 2.5l0.3 3.9l0.3 3.4l0.3 -2.7l0.3 -3.4l0.3 -2.6l0.3 1.5l0.3 2.5l0.3 1.8l0.3 2.2l0.3 0.2l0.3 -2.8l0.3 -2.7l0.2 -3.1l0.3 1l0.3 3.3l0.3 2.3l0.3 1.3l0.3 -0.5l0.3 -0.5l0.3 -0.8l0.3 -1.5l0.3 -1.7l0.3 -1.3l0.3 0.2l0.3 0.6l0.2 1.1l0.3 1.5l0.3 2.8l0.3 1l0.3 -3l0.3 -3.1l0.3 -2.8l0.3 2.3l0.3 3.4l0.3 3.5l0.3 -2l0.3 -3.7l0.3 -3l0.3 2.9l0.2 3.4l0.3 2.1l0.3 -2.7l0.3 -2.8l0.3 -2.9l0.3 0.5l0.3 3.1l0.3 2.6l0.3 2.3l0.3 -1.6l0.3 -2.8l0.3 -3.3l0.3 -0.3l0.2 3.2l0.3 2.4l0.3 -0.7l0.3 -3.5l0.3 0.6l0.3 2.5l0.3 3.2l0.3 -1.3l0.3 -2.9l0.3 -3.3l0.3 0.1l0.3 3.2l0.3 3l0.2 1.1l0.3 -2.8l0.3 -2.5l0.3 -2.5l0.3 1l0.3 2.7l0.3 2l0.3 0.6l0.3 -3l0.3 -0.1l0.3 2l0.3 2.2l0.3 -1.1l0.2 -2.5l0.3 -2.6l0.3 -1.1l0.3 2l0.3 1.9l0.3 1.3l0.3 0l0.3 -0.4l0.3 1l0.3 0.8l0.3 -1l0.3 -1.7l0.3 -1.5l0.3 -1.6l0.2 0.2l0.3 2.1l0.3 1.8l0.3 1.4l0.3 -2.1l0.3 -2.5l0.3 1.5l0.3 2.3l0.3 1.6l0.3 -2.2l0.3 -2.3l0.3 -2.2l0.3 1.2l0.2 2.4l0.3 2.7l0.3 -0.1l0.3 -2.7l0.3 -2.6l0.3 -0.4l0.3 2.5l0.3 2.2l0.3 1.2l0.3 -1.5l0.3 -1.7l0.3 -2l0.3 -0.8l0.2 1.5l0.3 1.7l0.3 2l0.3 0.4l0.3 -2l0.3 -1.3l0.3 -1l0.3 0.8l0.3 1.5l0.3 -1.4l0.3 -0.7l0.3 0.9l0.3 1.1l0.2 1l0.3 -0.8l0.3 -1.1l0.3 -1l0.3 0.5l0.3 1l0.3 1.2l0.3 0.1l0.3 -1.1l0.3 -0.9l0.3 -0.8l0.3 0.4l0.3 0.9l0.3 0.7l0.2 0.4l0.3 0.1l0.3 -0.1l0.3 -0.7l0.3 -0.8l0.3 -0.9l0.3 0.4l0.3 1l0.3 1l0.3 0.1l0.3 -1.1l0.3 -0.9l0.3 -0.2l0.2 1l0.3 0.9l0.3 0.3l0.3 -0.8l0.3 -0.7l0.3 -0.7l0.3 0l0.3 0.4l0.3 0.5l0.3 0.4l0.3 0.8l0.3 0.3l0.3 -0.5l0.2 -0.8l0.3 -1l0.3 -0.8l0.3 0.3l0.3 1.2l0.3 1l0.3 1.2l0.3 -0.4l0.3 -1.3l0.3 -0.9l0.3 -0.6l0.3 0.3l0.3 -0.1l0.2 0l0.3 0.4l0.3 0.9l0.3 1l0.3 -0.9l0.3 -1.4l0.3 0.2l0.3 1.2l0.3 1.4l0.3 -0.5l0.3 -1.4l0.3 -1.4l0.3 -0.1l0.3 1.4l0.2 1.1l0.3 0.9l0.3 -0.7l0.3 -1l0.3 -0.9l0.3 -0.5l0.3 0.2l0.3 0.5l0.3 0.7l0.3 0.8l0.3 1l0.3 -0.5l0.3 -1.3l0.2 -1.5l0.3 -0.3l0.3 1.5l0.3 1.4l0.3 0.8l0.3 -1.2l0.3 -1.2l0.3 -1.2l0.3 0.5l0.3 1.2l0.3 0.9l0.3 -0.1l0.3 -1.3l0.2 -0.3l0.3 0.9l0.3 1l0.3 -0.2l0.3 -1l0.3 -1l0.3 0l0.3 1l0.3 0.8l0.3 0.5l0.3 -0.1l0.3 -0.3l0.3 -0.5l0.2 -0.5l0.3 -1.1l0.3 -0.6l0.3 0.9l0.3 1.1l0.3 1.3l0.3 0.4l0.3 -1.1l0.3 -1.1l0.3 -1.4l0.3 0.3l0.3 1.4l0.3 1.3l0.3 0.6l0.2 -1l0.3 -1.1l0.3 -1.2l0.3 0l0.3 1.2l0.3 0.9l0.3 0.8l0.3 -0.6l0.3 -1l0.3 -1l0.3 0.3l0.3 1l0.3 0.9l0.2 -0.5l0.3 -1.2l0.3 -0.1l0.3 1l0.3 1.2l0.3 -0.4l0.3 -1.1l0.3 -1.4l0.3 -0.2l0.3 1.2l0.3 1l0.3 0.9l0.3 -0.2l0.2 -0.6l0.3 -0.2l0.3 -0.2l0.3 -0.6l0.3 -1l0.3 -0.1l0.3 1.2l0.3 1.1l0.3 1l0.3 -0.9l0.3 -1.2l0.3 -1.4l0.3 0.5l0.2 1.3l0.3 1.2l0.3 -0.7l0.3 -1.4l0.3 -0.6l0.3 1.3l0.3 1.4l0.3 0.2l0.3 -1.4l0.3 -1.2l0.3 -0.5l0.3 1.1l0.3 0.9l0.3 0.7l0.2 -0.4l0.3 -0.7l0.3 0.1l0.3 -0.1l0.3 -0.8l0.3 0.4l0.3 0.9l0.3 0.4l0.3 -0.8l0.3 -0.9l0.3 -0.6l0.3 0.8l0.3 0.9l0.2 1l0.3 -0.1l0.3 -1l0.3 -0.7l0.3 -0.5l0.3 0l0.3 0.6l0.3 0.5l0.3 0.8l0.3 0l0.3 -0.9l0.3 -1.2l0.3 -0.1l0.2 1.1l0.3 1.2l0.3 0.6l0.3 -1.1l0.3 -1.1l0.3 -1l0.3 0.7l0.3 1.1l0.3 1.2l0.3 -0.2l0.3 -1.1l0.3 -0.9l0.3 -0.4l0.2 0.7l0.3 0.8l0.3 0.7l0.3 -0.7l0.3 -1l0.3 -0.4l0.3 1l0.3 1.2l0.3 0.2l0.3 -1.3l0.3 -1.2l0.3 -0.2l0.3 1.4l0.3 1.3l0.2 -0.1l0.3 -1.3l0.3 -1.3l0.3 0.1l0.3 1.2l0.3 1l0.3 0.6l0.3 -0.7l0.3 -1l0.3 -0.9l0.3 0.4l0.3 1.2l0.3 0.3l0.2 -0.8l0.3 -0.9l0.3 -0.5l0.3 0.6l0.3 0.8l0.3 1l0.3 0.5l0.3 -0.5l0.3 -0.9l0.3 -0.6l0.3 -0.6l0.3 0l0.3 0.5l0.2 0.5l0.3 0.3l0.3 0.5l0.3 0.3l0.3 -0.3l0.3 -0.6l0.3 -0.5l0.3 -0.6l0.3 0l0.3 0.5l0.3 0.5l0.3 0.7l0.3 0.3l0.2 -0.2l0.3 -0.3l0.3 -0.3l0.3 -0.4l0.3 -0.9l0.3 -0.3l0.3 0.9l0.3 0.8l0.3 1l0.3 0l0.3 -1l0.3 -0.7l0.3 -0.7l0.3 0l0.2 0.6l0.3 0.6l0.3 0.7l0.3 0.5l0.3 -0.5l0.3 -0.8l0.3 -1l0.3 -0.4l0.3 0.7l0.3 0.9l0.3 0.9l0.3 0.1l0.3 -0.9l0.2 -0.9l0.3 -0.8l0.3 0.5l0.3 0.9l0.3 0.5l0.3 -0.5l0.3 -0.4l0.3 0.4l0.3 0.8l0.3 0.4l0.3 -0.7l0.3 -1.1" fill="none" stroke="#ff0000" stroke-width="0.8" stroke-linejoin="round"/>
</g>
<g clip-path="url(#c21)">
<path d="M501 219.1l0.3 -0.1l0.3 0l0.3 0l0.3 0l0.3 0l0.3 0l0.3 0l0.3 0l0.3 0l0.3 0l0.3 0l0.3 0l0.3 -0.1l0.3 0l0.2 0l0.3 0l0.3 0l0.3 0l0.3 0l0.3 0l0.3 0l0.3 0l0.3 0l0.3 0l0.3 0l0.3 0l0.3 0l0.3 0l0.3 0l0.3 0l0.3 0l0.2 0.1l0.3 0l0.3 0l0.3 0l0.3 0l0.3 0l0.3 0l0.3 0l0.3 0l0.3 0l0.3 0l0.3 0.1l0.3 0l0.3 0l0.3 0l0.3 0l0.3 0l0.2 0l0.3 0l0.3 0l0.3 0l0.3 0l0.3 0.1l0.3 0l0.3 0l0.3 0l0.3 0l0.3 0l0.3 0l0.3 0l0.3 0l0.3 0l0.3 0l0.3 0l0.3 0l0.2 0l0.3 0l0.3 0l0.3 0l0.3 0l0.3 0l0.3 0l0.3 0l0.3 0l0.3 0l0.3 0l0.3 0l0.3 -0.1l0.3 0l0.3 0l0.3 0l0.3 0l0.2 0l0.3 0l0.3 0l0.3 0l0.3 0l0.3 -0.1l0.3 0l0.3 0l0.3 0l0.3 0l0.3 0l0.3 0l0.3 0l0.3 0l0.3 0l0.3 0l0.3 0l0.2 -0.1l0.3 0l0.3 0l0.3 0l0.3 0l0.3 0l0.3 0l0.3 0l0.3 0l0.3 0l0.3 0l0.3 0l0.3 0l0.3 0l0.3 0l0.3 0l0.3 0l0.2 0l0.3 0l0.3 0.1l0.3 0l0.3 0l0.3 0l0.3 0l0.3 0l0.3 0l0.3 0l0.3 0l0.3 0l0.3 0l0.3 0.1l0.3 0l0.3 0l0.3 0l0.2 0l0.3 0l0.3 0l0.3 0l0.3 0l0.3 0l0.3 0l0.3 0.1l0.3 0l0.3 0l0.3 0l0.3 0l0.3 0l0.3 0l0.3 0l0.3 0l0.3 0l0.2 0l0.3 0l0.3 0l0.3 0l0.3 0l0.3 0l0.3 0l0.3 0l0.3 0l0.3 0l0.3 0l0.3 0l0.3 0l0.3 0l0.3 0l0.3 -0.1l0.3 0l0.2 0l0.3 0l0.3 0l0.3 0l0.3 0l0.3 0l0.3 0l0.3 0l0.3 -0.1l0.3 0l0.3 0l0.3 0l0.3 0l0.3 0l0.3 0l0.3 0l0.3 0l0.2 0l0.3 0l0.3 0l0.3 -0.1l0.3 0l0.3 0l0.3 0l0.3 0l0.3 0l0.3 0l0.3 0l0.3 0l0.3 0l0.3 0l0.3 0l0.3 0l0.3 0l0.3 0l0.2 0l0.3 0l0.3 0l0.3 0l0.3 0.1l0.3 0l0.3 0l0.3 0l0.3 0l0.3 0l0.3 0l0.3 0l0.3 0l0.3 0l0.3 0l0.3 0.1l0.3 0l0.2 0l0.3 0l0.3 0l0.3 0l0.3 0l0.3 0l0.3 0l0.3 0l0.3 0l0.3 0.1l0.3 0l0.3 0l0.3 0l0.3 0l0.3 0l0.3 0l0.3 0l0.2 0l0.3 0l0.3 0l0.3 0l0.3 0l0.3 0l0.3 0l0.3 0l0.3 0l0.3 0l0.3 0l0.3 0l0.3 0l0.3 0l0.3 0l0.3 0l0.3 0l0.2 -0.1l0.3 0l0.3 0l0.3 0l0.3 0l0.3 0l0.3 0l0.3 0l0.3 0l0.3 0l0.3 -0.1l0.3 0l0.3 0l0.3 0l0.3 0l0.3 0l0.3 0l0.2 0l0.3 0l0.3 0l0.3 0l0.3 0l0.3 -0.1l0.3 0l0.3 0l0.3 0l0.3 0l0.3 0l0.3 0l0.3 0l0.3 0l0.3 0l0.3 0l0.3 0l0.2 0l0.3 0l0.3 0l0.3 0l0.3 0l0.3 0l0.3 0l0.3 0.1l0.3 0l0.3 0l0.3 0l0.3 0l0.3 0l0.3 0l0.3 0l0.3 0l0.3 0l0.2 0l0.3 0.1l0.3 0l0.3 0l0.3 0l0.3 0l0.3 0l0.3 0l0.3 0l0.3 0l0.3 0l0.3 0l0.3 0.1l0.3 0l0.3 0l0.3 0l0.3 0l0.2 0l0.3 0l0.3 0l0.3 0l0.3 0l0.3 0l0.3 0l0.3 0l0.3 0l0.3 0l0.3 0l0.3 0l0.3 0l0.3 0l0.3 0l0.3 0l0.3 0l0.2 0l0.3 0l0.3 0l0.3 -0.1l0.3 0l0.3 0l0.3 0l0.3 0l0.3 0l0.3 0l0.3 0l0.3 0l0.3 0l0.3 -0.1l0.3 0l0.3 0l0.3 0l0.2 0l0.3 0l0.3 0l0.3 0l0.3 0l0.3 0l0.3 0l0.3 0l0.3 -0.1l0.3 0l0.3 0l0.3 0l0.3 0l0.3 0l0.3 0l0.3 0l0.3 0l0.3 0l0.2 0l0.3 0l0.3 0l0.3 0l0.3 0l0.3 0l0.3 0l0.3 0l0.3 0l0.3 0.1l0.3 0l0.3 0l0.3 0l0.3 0l0.3 0l0.3 0l0.3 0l0.2 0l0.3 0l0.3 0l0.3 0.1l0.3 0l0.3 0l0.3 0l0.3 0l0.3 0l0.3 0l0.3 0l0.3 0l0.3 0l0.3 0l0.3 0.1l0.3 0l0.3 0l0.2 0l0.3 0l0.3 0l0.3 0l0.3 0l0.3 0l0.3 0l0.3 0l0.3 0l0.3 0l0.3 0l0.3 0l0.3 0l0.3 0l0.3 0l0.3 0l0.3 0l0.2 0l0.3 0l0.3 0l0.3 0l0.3 0l0.3 -0.1l0.3 0l0.3 0l0.3 0l0.3 0l0.3 0l0.3 0l0.3 0l0.3 0l0.3 0l0.3 -0.1l0.3 0l0.2 0l0.3 0l0.3 0l0.3 0l0.3 0l0.3 0l0.3 0l0.3 0l0.3 0l0.3 0l0.3 -0.1l0.3 0l0.3 0l0.3 0l0.3 0l0.3 0l0.3 0l0.2 0l0.3 0l0.3 0l0.3 0l0.3 0l0.3 0l0.3 0l0.3 0l0.3 0l0.3 0l0.3 0l0.3 0l0.3 0.1l0.3 0l0.3 0l0.3 0l0.3 0l0.2 0l0.3 0l0.3 0l0.3 0l0.3 0l0.3 0l0.3 0.1l0.3 0l0.3 0l0.3 0l0.3 0l0.3 0l0.3 0l0.3 0l0.3 0l0.3 0l0.3 0l0.2 0.1l0.3 0l0.3 0l0.3 0l0.3 0l0.3 0l0.3 0l0.3 0l0.3 0l0.3 0l0.3 0l0.3 0l0.3 0l0.3 0l0.3 0l0.3 0l0.3 0l0.3 0l0.2 0l0.3 0l0.3 0l0.3 0l0.3 0l0.3 0l0.3 0l0.3 -0.1l0.3 0l0.3 0l0.3 0l0.3 0l0.3 0l0.3 0l0.3 0l0.3 0l0.3 0l0.2 -0.1l0.3 0l0.3 0l0.3 0l0.3 0l0.3 0l0.3 0l0.3 0l0.3 0l0.3 0l0.3 0l0.3 0l0.3 -0.1l0.3 0l0.3 0l0.3 0l0.3 0l0.2 0l0.3 0l0.3 0l0.3 0l0.3 0l0.3 0l0.3 0l0.3 0l0.3 0l0.3 0l0.3 0l0.3 0l0.3 0l0.3 0l0.3 0.1" fill="none" stroke="#000000" stroke-width="0.65" stroke-linejoin="round" opacity="0.5"/>
<path d="M501 219.1l0.3 -0.1l0.3 0l0.3 0l0.3 0l0.3 0l0.3 0l0.3 0l0.3 0l0.3 -0.1l0.3 0l0.3 0l0.3 0l0.3 0l0.3 0l0.2 0l0.3 0l0.3 0l0.3 0l0.3 0l0.3 0l0.3 0l0.3 0l0.3 0.1l0.3 0l0.3 0l0.3 0l0.3 0l0.3 0l0.3 0l0.3 0l0.3 0.1l0.2 0l0.3 0l0.3 0l0.3 0l0.3 0l0.3 0l0.3 0l0.3 0.1l0.3 0l0.3 0l0.3 0l0.3 0l0.3 0l0.3 0l0.3 0l0.3 0l0.3 0l0.2 0l0.3 0l0.3 0l0.3 0l0.3 0l0.3 0l0.3 0l0.3 -0.1l0.3 0l0.3 0l0.3 0l0.3 0l0.3 0l0.3 0l0.3 0l0.3 -0.1l0.3 0l0.3 0l0.2 0l0.3 0l0.3 0l0.3 0l0.3 0l0.3 -0.1l0.3 0l0.3 0l0.3 0l0.3 0l0.3 0l0.3 0l0.3 0l0.3 0l0.3 0l0.3 0l0.3 0l0.2 0l0.3 0l0.3 0.1l0.3 0l0.3 0l0.3 0l0.3 0l0.3 0l0.3 0l0.3 0l0.3 0.1l0.3 0l0.3 0l0.3 0l0.3 0l0.3 0l0.3 0l0.2 0l0.3 0.1l0.3 0l0.3 0l0.3 0l0.3 0l0.3 0l0.3 0l0.3 0l0.3 0l0.3 0l0.3 0l0.3 0l0.3 0l0.3 0l0.3 0l0.3 0l0.2 0l0.3 -0.1l0.3 0l0.3 0l0.3 0l0.3 0l0.3 0l0.3 0l0.3 0l0.3 -0.1l0.3 0l0.3 0l0.3 0l0.3 0l0.3 0l0.3 0l0.3 0l0.2 -0.1l0.3 0l0.3 0l0.3 0l0.3 0l0.3 0l0.3 0l0.3 0l0.3 0l0.3 0l0.3 0l0.3 0l0.3 0l0.3 0l0.3 0.1l0.3 0l0.3 0l0.2 0l0.3 0l0.3 0l0.3 0l0.3 0l0.3 0.1l0.3 0l0.3 0l0.3 0l0.3 0l0.3 0l0.3 0l0.3 0.1l0.3 0l0.3 0l0.3 0l0.3 0l0.2 0l0.3 0l0.3 0l0.3 0l0.3 0l0.3 0l0.3 0l0.3 0l0.3 0l0.3 0l0.3 0l0.3 0l0.3 0l0.3 -0.1l0.3 0l0.3 0l0.3 0l0.2 0l0.3 0l0.3 0l0.3 0l0.3 -0.1l0.3 0l0.3 0l0.3 0l0.3 0l0.3 0l0.3 0l0.3 0l0.3 -0.1l0.3 0l0.3 0l0.3 0l0.3 0l0.3 0l0.2 0l0.3 0l0.3 0l0.3 0l0.3 0l0.3 0l0.3 0l0.3 0l0.3 0.1l0.3 0l0.3 0l0.3 0l0.3 0l0.3 0l0.3 0l0.3 0l0.3 0.1l0.2 0l0.3 0l0.3 0l0.3 0l0.3 0l0.3 0l0.3 0.1l0.3 0l0.3 0l0.3 0l0.3 0l0.3 0l0.3 0l0.3 0l0.3 0l0.3 0l0.3 0l0.2 0l0.3 0l0.3 0l0.3 0l0.3 0l0.3 0l0.3 0l0.3 -0.1l0.3 0l0.3 0l0.3 0l0.3 0l0.3 0l0.3 0l0.3 0l0.3 -0.1l0.3 0l0.2 0l0.3 0l0.3 0l0.3 0l0.3 0l0.3 0l0.3 -0.1l0.3 0l0.3 0l0.3 0l0.3 0l0.3 0l0.3 0l0.3 0l0.3 0l0.3 0l0.3 0l0.2 0l0.3 0l0.3 0.1l0.3 0l0.3 0l0.3 0l0.3 0l0.3 0l0.3 0l0.3 0l0.3 0l0.3 0.1l0.3 0l0.3 0l0.3 0l0.3 0l0.3 0l0.2 0l0.3 0.1l0.3 0l0.3 0l0.3 0l0.3 0l0.3 0l0.3 0l0.3 0l0.3 0l0.3 0l0.3 0l0.3 0l0.3 0l0.3 0l0.3 0l0.3 0l0.2 0l0.3 0l0.3 -0.1l0.3 0l0.3 0l0.3 0l0.3 0l0.3 0l0.3 0l0.3 -0.1l0.3 0l0.3 0l0.3 0l0.3 0l0.3 0l0.3 0l0.3 0l0.2 0l0.3 -0.1l0.3 0l0.3 0l0.3 0l0.3 0l0.3 0l0.3 0l0.3 0l0.3 0l0.3 0l0.3 0l0.3 0l0.3 0l0.3 0.1l0.3 0l0.3 0l0.2 0l0.3 0l0.3 0l0.3 0l0.3 0l0.3 0.1l0.3 0l0.3 0l0.3 0l0.3 0l0.3 0l0.3 0l0.3 0l0.3 0.1l0.3 0l0.3 0l0.3 0l0.2 0l0.3 0l0.3 0l0.3 0l0.3 0l0.3 0l0.3 0l0.3 0l0.3 0l0.3 0l0.3 0l0.3 0l0.3 0l0.3 0l0.3 -0.1l0.3 0l0.3 0l0.3 0l0.2 0l0.3 0l0.3 0l0.3 -0.1l0.3 0l0.3 0l0.3 0l0.3 0l0.3 0l0.3 0l0.3 0l0.3 -0.1l0.3 0l0.3 0l0.3 0l0.3 0l0.3 0l0.2 0l0.3 0l0.3 0l0.3 0l0.3 0l0.3 0l0.3 0l0.3 0l0.3 0.1l0.3 0l0.3 0l0.3 0l0.3 0l0.3 0l0.3 0l0.3 0l0.3 0.1l0.2 0l0.3 0l0.3 0l0.3 0l0.3 0l0.3 0l0.3 0l0.3 0.1l0.3 0l0.3 0l0.3 0l0.3 0l0.3 0l0.3 0l0.3 0l0.3 0l0.3 0l0.2 0l0.3 0l0.3 0l0.3 0l0.3 0l0.3 0l0.3 0l0.3 -0.1l0.3 0l0.3 0l0.3 0l0.3 0l0.3 0l0.3 0l0.3 0l0.3 -0.1l0.3 0l0.2 0l0.3 0l0.3 0l0.3 0l0.3 0l0.3 0l0.3 -0.1l0.3 0l0.3 0l0.3 0l0.3 0l0.3 0l0.3 0l0.3 0l0.3 0l0.3 0l0.3 0l0.2 0l0.3 0l0.3 0l0.3 0.1l0.3 0l0.3 0l0.3 0l0.3 0l0.3 0l0.3 0l0.3 0l0.3 0.1l0.3 0l0.3 0l0.3 0l0.3 0l0.3 0l0.2 0l0.3 0l0.3 0.1l0.3 0l0.3 0l0.3 0l0.3 0l0.3 0l0.3 0l0.3 0l0.3 0l0.3 0l0.3 0l0.3 0l0.3 0l0.3 0l0.3 0l0.2 0l0.3 0l0.3 -0.1l0.3 0l0.3 0l0.3 0l0.3 0l0.3 0l0.3 0l0.3 0l0.3 -0.1l0.3 0l0.3 0l0.3 0l0.3 0l0.3 0l0.3 0l0.3 0l0.2 -0.1l0.3 0l0.3 0l0.3 0l0.3 0l0.3 0l0.3 0l0.3 0l0.3 0l0.3 0l0.3 0l0.3 0l0.3 0l0.3 0l0.3 0.1l0.3 0l0.3 0l0.2 0l0.3 0l0.3 0l0.3 0l0.3 0l0.3 0.1l0.3 0l0.3 0l0.3 0l0.3 0l0.3 0l0.3 0l0.3 0.1l0.3 0l0.3 0l0.3 0l0.3 0l0.2 0l0.3 0l0.3 0l0.3 0l0.3 0l0.3 0l0.3 0l0.3 0l0.3 0l0.3 0l0.3 0l0.3 0l0.3 0l0.3 -0.1l0.3 0" fill="none" stroke="#0000ff" stroke-width="0.65" stroke-linejoin="round" opacity="0.45"/>
<path d="M501 218.9l0.3 0l0.3 0l0.3 0l0.3 0l0.3 0l0.3 0l0.3 0l0.3 0l0.3 0l0.3 0l0.3 0l0.3 0l0.3 0l0.3 0l0.2 0l0.3 0l0.3 0l0.3 0l0.3 0l0.3 0l0.3 0l0.3 0l0.3 0l0.3 0l0.3 0l0.3 0l0.3 0l0.3 0l0.3 0l0.3 0l0.3 0l0.2 0l0.3 0l0.3 0l0.3 0l0.3 0l0.3 0l0.3 0l0.3 0l0.3 0l0.3 0l0.3 0l0.3 0l0.3 0l0.3 0l0.3 0l0.3 0l0.3 0l0.2 0l0.3 0l0.3 0l0.3 0l0.3 0l0.3 0l0.3 0l0.3 0l0.3 0l0.3 0l0.3 0l0.3 0l0.3 0l0.3 0l0.3 0l0.3 0.1l0.3 0l0.3 0.1l0.2 -0.1l0.3 -0.1l0.3 -0.2l0.3 -0.1l0.3 0.1l0.3 0.1l0.3 0.3l0.3 0.2l0.3 0.1l0.3 0l0.3 -0.3l0.3 -0.5l0.3 -0.3l0.3 -0.2l0.3 0.2l0.3 0.5l0.3 0.6l0.2 0.4l0.3 0.1l0.3 -0.3l0.3 -0.7l0.3 -0.7l0.3 -0.4l0.3 0.1l0.3 0.4l0.3 0.7l0.3 0.7l0.3 0.3l0.3 -0.2l0.3 -0.5l0.3 -0.6l0.3 -0.5l0.3 -0.1l0.3 0.2l0.2 0.4l0.3 0.4l0.3 0.3l0.3 0.1l0.3 -0.2l0.3 -0.3l0.3 -0.3l0.3 -0.1l0.3 0l0.3 0.1l0.3 0.2l0.3 0.1l0.3 0.1l0.3 0l0.3 -0.1l0.3 -0.1l0.3 0l0.2 -0.1l0.3 0.1l0.3 0l0.3 0l0.3 0l0.3 0l0.3 0l0.3 0l0.3 0l0.3 0l0.3 0l0.3 0l0.3 0l0.3 0l0.3 0l0.3 0l0.3 0l0.2 0l0.3 0l0.3 0l0.3 0l0.3 0l0.3 0l0.3 0l0.3 0l0.3 0l0.3 0l0.3 0l0.3 0l0.3 0l0.3 0l0.3 0l0.3 0l0.3 0l0.2 0l0.3 0l0.3 0l0.3 0l0.3 0l0.3 0l0.3 0l0.3 0l0.3 0l0.3 0l0.3 0l0.3 0l0.3 0l0.3 0l0.3 0l0.3 0l0.3 0l0.2 0l0.3 0l0.3 0l0.3 0l0.3 0l0.3 0l0.3 0l0.3 0l0.3 0l0.3 0l0.3 0l0.3 0l0.3 0l0.3 0l0.3 0l0.3 0l0.3 0l0.2 0l0.3 0l0.3 0l0.3 0l0.3 0l0.3 0l0.3 0l0.3 0l0.3 0l0.3 0l0.3 0l0.3 0l0.3 0l0.3 0l0.3 0l0.3 0l0.3 0l0.3 0l0.2 0l0.3 0l0.3 0l0.3 0l0.3 0l0.3 0l0.3 0l0.3 0l0.3 0l0.3 0l0.3 0l0.3 0l0.3 0l0.3 0l0.3 0l0.3 0l0.3 0l0.2 0l0.3 0l0.3 0l0.3 0l0.3 0l0.3 0l0.3 0l0.3 0l0.3 0l0.3 0l0.3 0l0.3 0l0.3 0l0.3 0l0.3 0l0.3 0l0.3 0l0.2 0l0.3 0l0.3 0l0.3 0l0.3 0l0.3 0l0.3 0l0.3 0l0.3 0l0.3 0l0.3 0l0.3 0l0.3 0l0.3 0l0.3 0l0.3 0l0.3 0l0.2 0l0.3 0l0.3 0l0.3 0l0.3 0l0.3 0l0.3 0l0.3 0l0.3 0l0.3 0l0.3 0l0.3 0l0.3 0l0.3 0l0.3 0l0.3 0l0.3 0l0.2 0l0.3 0l0.3 0l0.3 0l0.3 0l0.3 0l0.3 0l0.3 0l0.3 0l0.3 0l0.3 0l0.3 0l0.3 0l0.3 0l0.3 0l0.3 0l0.3 0l0.2 0l0.3 0l0.3 0l0.3 0l0.3 0l0.3 0l0.3 0l0.3 0l0.3 0l0.3 0l0.3 0l0.3 0l0.3 0l0.3 0l0.3 0l0.3 0l0.3 0l0.2 0l0.3 0l0.3 0l0.3 0l0.3 0l0.3 0l0.3 0l0.3 0l0.3 0l0.3 0l0.3 0l0.3 0l0.3 0l0.3 0l0.3 0l0.3 0l0.3 0l0.2 0l0.3 0l0.3 0l0.3 0l0.3 0l0.3 0l0.3 0l0.3 0l0.3 0l0.3 0l0.3 0l0.3 0l0.3 0l0.3 0l0.3 0l0.3 0l0.3 0l0.2 0l0.3 0l0.3 0l0.3 0l0.3 0l0.3 0l0.3 0l0.3 0l0.3 0l0.3 0l0.3 0l0.3 0l0.3 0l0.3 0l0.3 0l0.3 0l0.3 0l0.2 0l0.3 0l0.3 0l0.3 0l0.3 0l0.3 0l0.3 0l0.3 0l0.3 0l0.3 0l0.3 0l0.3 0l0.3 0l0.3 0l0.3 0l0.3 0l0.3 0l0.3 0l0.2 0l0.3 0l0.3 0l0.3 0l0.3 0l0.3 0l0.3 0l0.3 0l0.3 0l0.3 0l0.3 0l0.3 0l0.3 0l0.3 0l0.3 0l0.3 0l0.3 0l0.2 0l0.3 0l0.3 0l0.3 0l0.3 0l0.3 0l0.3 0l0.3 0l0.3 0l0.3 0l0.3 0l0.3 0l0.3 0l0.3 0l0.3 0l0.3 0l0.3 0l0.2 0l0.3 0l0.3 0l0.3 0l0.3 0l0.3 0l0.3 0l0.3 0l0.3 0l0.3 0l0.3 0l0.3 0l0.3 0l0.3 0l0.3 0l0.3 0l0.3 0l0.2 0l0.3 0l0.3 0l0.3 0l0.3 0l0.3 0l0.3 0l0.3 0l0.3 0l0.3 0l0.3 0l0.3 0l0.3 0l0.3 0l0.3 0l0.3 0l0.3 0l0.2 0l0.3 0l0.3 0l0.3 0l0.3 0l0.3 0l0.3 0l0.3 0l0.3 0l0.3 0l0.3 0l0.3 0l0.3 0l0.3 0l0.3 0l0.3 0l0.3 0l0.2 0l0.3 0l0.3 0l0.3 0l0.3 0l0.3 0l0.3 0l0.3 0l0.3 0l0.3 0l0.3 0l0.3 0l0.3 0l0.3 0l0.3 0l0.3 0l0.3 0l0.2 0l0.3 0l0.3 0l0.3 0l0.3 0l0.3 0l0.3 0l0.3 0l0.3 0l0.3 0l0.3 0l0.3 0l0.3 0l0.3 0l0.3 0l0.3 0l0.3 0l0.2 0l0.3 0l0.3 0l0.3 0l0.3 0l0.3 0l0.3 0l0.3 0l0.3 0l0.3 0l0.3 0l0.3 0l0.3 0l0.3 0l0.3 0l0.3 0l0.3 0l0.3 0l0.2 0l0.3 0l0.3 0l0.3 0l0.3 0l0.3 0l0.3 0l0.3 0l0.3 0l0.3 0l0.3 0l0.3 0l0.3 0l0.3 0l0.3 0l0.3 0l0.3 0l0.2 0l0.3 0l0.3 0l0.3 0l0.3 0l0.3 0l0.3 0l0.3 0l0.3 0l0.3 0l0.3 0l0.3 0l0.3 0l0.3 0l0.3 0l0.3 0l0.3 0l0.2 0l0.3 0l0.3 0l0.3 0l0.3 0l0.3 0l0.3 0l0.3 0l0.3 0l0.3 0l0.3 0l0.3 0l0.3 0l0.3 0l0.3 0" fill="none" stroke="#ff0000" stroke-width="0.65" stroke-linejoin="round" opacity="0.45"/>
<path d="M501 176.6l0.3 0l0.3 0l0.3 0l0.3 0l0.3 0l0.3 0l0.3 0l0.3 0l0.3 0l0.3 0l0.3 0l0.3 0l0.3 0l0.3 0l0.2 0l0.3 0l0.3 0l0.3 0l0.3 0l0.3 0l0.3 0l0.3 0l0.3 0l0.3 0l0.3 0l0.3 0l0.3 0l0.3 0l0.3 0l0.3 0l0.3 0l0.2 0l0.3 0l0.3 0l0.3 0l0.3 0l0.3 0l0.3 0l0.3 0l0.3 0l0.3 0l0.3 0l0.3 0l0.3 0l0.3 0l0.3 0l0.3 0l0.3 0l0.2 0l0.3 0l0.3 0l0.3 0l0.3 0l0.3 0l0.3 0l0.3 0l0.3 0l0.3 0l0.3 0l0.3 0l0.3 0l0.3 0l0.3 0l0.3 0l0.3 0l0.3 0l0.2 0l0.3 0l0.3 0l0.3 0l0.3 -0.2l0.3 0l0.3 0.3l0.3 0.5l0.3 0.8l0.3 0.5l0.3 -0.1l0.3 -0.8l0.3 -1l0.3 -0.9l0.3 -1.6l0.3 -1.3l0.3 -0.3l0.2 0.9l0.3 1.6l0.3 1.5l0.3 1.5l0.3 2.3l0.3 1.9l0.3 0.7l0.3 -0.6l0.3 -1.8l0.3 -2.5l0.3 -1.7l0.3 -2.6l0.3 -3.2l0.3 -2.7l0.3 -1.1l0.3 0.7l0.3 2.7l0.2 3.7l0.3 2.8l0.3 3.3l0.3 4.4l0.3 3.8l0.3 1.5l0.3 -1.4l0.3 -4l0.3 -5.1l0.3 -3.3l0.3 -5.1l0.3 -5.6l0.3 -3.4l0.3 0.2l0.3 3.7l0.3 5.9l0.3 4.9l0.2 4.4l0.3 6.3l0.3 4.6l0.3 0.9l0.3 -3.1l0.3 -6.1l0.3 -5.9l0.3 -3.9l0.3 -5.9l0.3 -4.2l0.3 -0.8l0.3 1.7l0.3 -4l0.3 -15.7l0.3 -0.1l0.3 29.2l0.3 33.4l0.2 18.4l0.3 -16.4l0.3 -21.4l0.3 -9.2l0.3 -3.4l0.3 -5.2l0.3 -5.2l0.3 -2.7l0.3 1.2l0.3 4.6l0.3 6.2l0.3 3.7l0.3 5.4l0.3 4.9l0.3 2l0.3 -1.7l0.3 -4.5l0.2 -5.2l0.3 -3.1l0.3 -4.4l0.3 -4l0.3 -1.6l0.3 1.6l0.3 3.8l0.3 4.2l0.3 2.5l0.3 3.8l0.3 3.3l0.3 1.1l0.3 -1.6l0.3 -3.6l0.3 -3.6l0.3 -2.4l0.3 -3.7l0.2 -2.6l0.3 -0.3l0.3 2.2l0.3 3.6l0.3 2.7l0.3 2.9l0.3 3.5l0.3 1.8l0.3 -0.6l0.3 -2.7l0.3 -3.5l0.3 -2.2l0.3 -3.3l0.3 -3l0.3 -1.1l0.3 1.3l0.3 3.1l0.2 3.3l0.3 2.2l0.3 3.5l0.3 2.6l0.3 0.4l0.3 -1.9l0.3 -3.4l0.3 -2.9l0.3 -2.6l0.3 -3.5l0.3 -2.1l0.3 0.2l0.3 2.4l0.3 3.5l0.3 2.3l0.3 3l0.3 3.1l0.3 1.6l0.2 -0.7l0.3 -2.6l0.3 -3.3l0.3 -1.9l0.3 -3l0.3 -2.7l0.3 -1.1l0.3 1l0.3 2.6l0.3 2.9l0.3 1.7l0.3 2.8l0.3 2.4l0.3 0.8l0.3 -1.1l0.3 -2.4l0.3 -2.6l0.2 -1.7l0.3 -2.6l0.3 -2.2l0.3 -0.7l0.3 1l0.3 2.3l0.3 2.5l0.3 1.6l0.3 2.5l0.3 2l0.3 0.8l0.3 -0.9l0.3 -2.1l0.3 -2.4l0.3 -1.4l0.3 -2.1l0.3 -2l0.2 -0.9l0.3 0.5l0.3 1.7l0.3 2.1l0.3 1.4l0.3 1.8l0.3 1.9l0.3 1.2l0.3 -0.1l0.3 -1.2l0.3 -1.9l0.3 -1.7l0.3 -1.2l0.3 -1.9l0.3 -1.4l0.3 -0.4l0.3 0.8l0.2 1.7l0.3 1.8l0.3 1.1l0.3 1.7l0.3 1.6l0.3 0.6l0.3 -0.6l0.3 -1.5l0.3 -1.8l0.3 -1l0.3 -1.8l0.3 -1.5l0.3 -0.7l0.3 0.6l0.3 1.6l0.3 1.7l0.3 1.1l0.2 1.7l0.3 1.5l0.3 0.3l0.3 -0.8l0.3 -1.7l0.3 -1.5l0.3 -1.2l0.3 -1.8l0.3 -1l0.3 0.1l0.3 1.2l0.3 1.7l0.3 1.1l0.3 1.7l0.3 1.5l0.3 0.5l0.3 -0.6l0.2 -1.6l0.3 -1.5l0.3 -1.1l0.3 -1.7l0.3 -1.2l0.3 0l0.3 1.1l0.3 1.6l0.3 1.2l0.3 1.4l0.3 1.5l0.3 0.8l0.3 -0.3l0.3 -1.3l0.3 -1.6l0.3 -0.9l0.3 -1.5l0.2 -1.4l0.3 -0.7l0.3 0.5l0.3 1.3l0.3 1.5l0.3 0.9l0.3 1.4l0.3 1.3l0.3 0.7l0.3 -0.4l0.3 -1.1l0.3 -1.4l0.3 -0.9l0.3 -1.1l0.3 -1.2l0.3 -0.9l0.3 -0.1l0.2 0.6l0.3 1.1l0.3 1.1l0.3 0.7l0.3 0.9l0.3 1l0.3 0.8l0.3 0.3l0.3 -0.1l0.3 -0.6l0.3 -1l0.3 -1l0.3 -0.6l0.3 -1l0.3 -1.1l0.3 -0.9l0.3 -0.3l0.2 0.5l0.3 1.1l0.3 1.3l0.3 0.8l0.3 1.4l0.3 1.4l0.3 0.8l0.3 0l0.3 -1.1l0.3 -1.5l0.3 -1.2l0.3 -1.3l0.3 -1.7l0.3 -1.2l0.3 0l0.3 1l0.3 1.7l0.2 1.4l0.3 1.3l0.3 1.7l0.3 1.1l0.3 0.1l0.3 -1l0.3 -1.7l0.3 -1.4l0.3 -1.2l0.3 -1.7l0.3 -1.1l0.3 -0.1l0.3 1.1l0.3 1.6l0.3 1.4l0.3 1.2l0.3 1.6l0.3 1.1l0.2 0l0.3 -1l0.3 -1.6l0.3 -1.3l0.3 -1.2l0.3 -1.6l0.3 -1.1l0.3 0l0.3 1l0.3 1.5l0.3 1.3l0.3 1.2l0.3 1.5l0.3 1.1l0.3 0.1l0.3 -0.9l0.3 -1.5l0.2 -1.3l0.3 -1.1l0.3 -1.5l0.3 -1.1l0.3 -0.2l0.3 0.8l0.3 1.4l0.3 1.4l0.3 1l0.3 1.5l0.3 1.1l0.3 0.3l0.3 -0.7l0.3 -1.3l0.3 -1.4l0.3 -0.9l0.3 -1.4l0.2 -1.1l0.3 -0.2l0.3 0.6l0.3 1.2l0.3 1.2l0.3 0.7l0.3 1l0.3 0.9l0.3 0.2l0.3 -0.5l0.3 -1l0.3 -0.9l0.3 -0.6l0.3 -1.3l0.3 1.9l0.3 1.9l0.3 0.1l0.2 -0.7l0.3 -0.9l0.3 -0.6l0.3 -0.8l0.3 -1l0.3 -0.6l0.3 0.1l0.3 0.7l0.3 1l0.3 0.8l0.3 0.9l0.3 1.1l0.3 0.7l0.3 -0.1l0.3 -0.8l0.3 -1.2l0.3 -0.8l0.2 -1l0.3 -1.2l0.3 -0.7l0.3 0.1l0.3 0.9l0.3 1.2l0.3 0.8l0.3 1.1l0.3 1.1l0.3 0.7l0.3 -0.1l0.3 -0.8l0.3 -1.2l0.3 -0.8l0.3 -1l0.3 -1l0.3 -0.7l0.2 0.1l0.3 0.7l0.3 1l0.3 0.9l0.3 0.7l0.3 1l0.3 0.6l0.3 0.1l0.3 -0.5l0.3 -0.9l0.3 -0.8l0.3 -0.5l0.3 -0.8l0.3 -0.7l0.3 -0.3l0.3 0.1l0.3 0.6l0.2 0.7l0.3 0.6l0.3 0.4l0.3 0.7l0.3 0.6l0.3 0.3l0.3 0l0.3 -0.5l0.3 -0.7l0.3 -0.6l0.3 -0.4l0.3 -0.8l0.3 -0.6l0.3 -0.3l0.3 0.1l0.3 0.6l0.3 0.8l0.2 0.5l0.3 0.7l0.3 0.8l0.3 0.6l0.3 0l0.3 -0.6l0.3 -0.8l0.3 -0.7l0.3 -0.6l0.3 -0.9l0.3 -0.7l0.3 -0.1l0.3 0.5l0.3 0.9l0.3 0.8l0.3 0.6l0.3 0.9l0.3 0.7l0.2 0.2l0.3 -0.4l0.3 -0.8l0.3 -0.9l0.3 -0.5l0.3 -0.9l0.3 -0.8l0.3 -0.4l0.3 0.3l0.3 0.7l0.3 0.9l0.3 0.6l0.3 0.8l0.3 0.8l0.3 0.5l0.3 0l0.3 -0.6l0.2 -0.9l0.3 -0.7l0.3 -0.5l0.3 -0.9l0.3 -0.6l0.3 -0.2l0.3 0.4l0.3 0.8l0.3 0.8l0.3 0.5l0.3 0.8l0.3 0.6l0.3 0.3l0.3 -0.2l0.3 -0.7l0.3 -0.8l0.3 -0.5l0.2 -0.7l0.3 -0.7l0.3 -0.4l0.3 0.2l0.3 0.7l0.3 0.8l0.3 0.5l0.3 0.8l0.3 0.6l0.3 0.3l0.3 -0.3l0.3 -0.7l0.3 -0.8l0.3 -0.4l0.3 -1.1" fill="none" stroke="#000000" stroke-width="0.85" stroke-linejoin="round"/>
<path d="M501 176.6l0.3 0l0.3 0l0.3 0l0.3 0l0.3 0l0.3 0l0.3 0l0.3 0l0.3 0l0.3 0l0.3 0l0.3 0l0.3 0l0.3 0l0.2 0l0.3 0l0.3 0l0.3 0l0.3 0l0.3 0l0.3 0l0.3 0l0.3 0l0.3 0l0.3 0l0.3 0l0.3 0l0.3 0l0.3 0l0.3 0l0.3 0l0.2 0l0.3 0l0.3 0l0.3 0l0.3 0l0.3 0l0.3 0l0.3 0l0.3 0l0.3 0l0.3 0l0.3 0l0.3 0l0.3 0l0.3 0l0.3 0l0.3 0l0.2 0l0.3 0l0.3 0l0.3 0l0.3 0l0.3 0l0.3 0l0.3 0l0.3 0l0.3 0l0.3 0l0.3 0l0.3 0l0.3 0l0.3 0l0.3 0l0.3 0l0.3 0l0.2 0l0.3 0l0.3 0l0.3 0l0.3 0l0.3 0l0.3 0l0.3 0l0.3 0l0.3 0l0.3 0.7l0.3 0.8l0.3 0.3l0.3 -0.4l0.3 -1.1l0.3 -1l0.3 -2.2l0.2 -2.5l0.3 -1.5l0.3 0.2l0.3 2.1l0.3 3.3l0.3 2.3l0.3 4.4l0.3 5.2l0.3 3.6l0.3 -0.1l0.3 -4.3l0.3 -6.7l0.3 -4.8l0.3 -8.7l0.3 -9.6l0.3 -5.9l0.3 0.9l0.2 8.2l0.3 11.3l0.3 7.5l0.3 12.1l0.3 12.8l0.3 7.2l0.3 -3.3l0.3 -15.7l0.3 -19.2l0.3 -4.5l0.3 -7.1l0.3 -10.9l0.3 -5.8l0.3 2.7l0.3 10l0.3 12.7l0.3 8l0.2 10.3l0.3 10.7l0.3 5.4l0.3 -1.6l0.3 -8.1l0.3 -11l0.3 -7.2l0.3 -8.8l0.3 -9.5l0.3 -5.2l0.3 1.2l0.3 7l0.3 9.5l0.3 6.5l0.3 7.6l0.3 8.8l0.3 5.3l0.2 -0.5l0.3 -6.2l0.3 -9l0.3 -6.4l0.3 -7.4l0.3 -8.6l0.3 -5l0.3 0.7l0.3 6.2l0.3 8.8l0.3 5.9l0.3 7.6l0.3 8l0.3 4l0.3 -1.7l0.3 -6.7l0.3 -8.2l0.2 -5l0.3 -7.3l0.3 -6.3l0.3 -1.8l0.3 3.5l0.3 7l0.3 6.3l0.3 5.1l0.3 6.6l0.3 3.2l0.3 -2.3l0.3 -6.4l0.3 -5.9l0.3 -5.3l0.3 -6.3l0.3 -2.3l0.3 3.2l0.2 6.3l0.3 4.7l0.3 5.8l0.3 5.8l0.3 2l0.3 -2.7l0.3 -5.9l0.3 -5.3l0.3 -4.6l0.3 -6.1l0.3 -3.7l0.3 0.5l0.3 4.4l0.3 6.1l0.3 4l0.3 5.6l0.3 5.7l0.2 2.8l0.3 -1.3l0.3 -4.8l0.3 -6.1l0.3 -3.7l0.3 -5.6l0.3 -5.4l0.3 -2.5l0.3 1.4l0.3 4.7l0.3 5.8l0.3 3.6l0.3 5.2l0.3 5.1l0.3 2.6l0.3 -1l0.3 -4.2l0.3 -5.5l0.2 -3.6l0.3 -4.7l0.3 -5.1l0.3 -2.9l0.3 0.5l0.3 3.7l0.3 5.2l0.3 3.8l0.3 4l0.3 5l0.3 3.2l0.3 0.3l0.3 -2.9l0.3 -5l0.3 -4.2l0.3 -2.7l0.3 -4l0.2 -2.6l0.3 -0.5l0.3 1.9l0.3 3.2l0.3 3.2l0.3 1.7l0.3 2.4l0.3 2.3l0.3 1.2l0.3 -0.5l0.3 -1.7l0.3 -2.3l0.3 -1.9l0.3 -1.3l0.3 -1.9l0.3 -1.4l0.3 -0.4l0.2 0.7l0.3 1.5l0.3 1.7l0.3 1l0.3 1.3l0.3 1.6l0.3 1.2l0.3 0.2l0.3 -0.7l0.3 -1.4l0.3 -1.6l0.3 -1l0.3 -1.6l0.3 -1.6l0.3 -0.9l0.3 0l0.3 1.1l0.2 1.7l0.3 1.6l0.3 1.1l0.3 1.8l0.3 1.5l0.3 0.5l0.3 -0.6l0.3 -1.6l0.3 -1.8l0.3 -1.1l0.3 -1.8l0.3 -1.8l0.3 -1.1l0.3 0.1l0.3 1.3l0.3 1.9l0.3 1.6l0.2 1.3l0.3 2l0.3 1.4l0.3 0.4l0.3 -0.8l0.3 -1.7l0.3 -1.9l0.3 -1.1l0.3 -1.8l0.3 -1.7l0.3 -0.9l0.3 0.3l0.3 1.3l0.3 1.8l0.3 1.5l0.3 1.3l0.3 1.8l0.2 1.3l0.3 0.4l0.3 -0.8l0.3 -1.6l0.3 -1.7l0.3 -1.1l0.3 -1.6l0.3 -1.6l0.3 -1l0.3 0.2l0.3 1.1l0.3 1.6l0.3 1.5l0.3 1l0.3 1.6l0.3 1.4l0.3 0.5l0.2 -0.4l0.3 -1.3l0.3 -1.5l0.3 -1.1l0.3 -1.2l0.3 -1.5l0.3 -1.1l0.3 -0.3l0.3 0.7l0.3 1.3l0.3 1.5l0.3 0.8l0.3 1.3l0.3 1.4l0.3 0.8l0.3 0l0.3 -0.9l0.2 -1.3l0.3 -1.3l0.3 -0.8l0.3 -1.3l0.3 -1.1l0.3 -0.5l0.3 0.3l0.3 1l0.3 1.3l0.3 0.9l0.3 1l0.3 1.2l0.3 0.8l0.3 0.2l0.3 -0.7l0.3 -1.1l0.3 -1.1l0.2 -0.7l0.3 -1.1l0.3 -0.9l0.3 -0.5l0.3 0.3l0.3 0.8l0.3 1.1l0.3 0.7l0.3 0.8l0.3 1l0.3 0.6l0.3 0l0.3 -0.5l0.3 -0.9l0.3 -0.9l0.3 -0.6l0.3 -0.9l0.2 -0.8l0.3 -0.2l0.3 0.5l0.3 2.1l0.3 0.9l0.3 -1.1l0.3 -0.7l0.3 -0.9l0.3 -0.6l0.3 -0.1l0.3 0.5l0.3 0.9l0.3 0.8l0.3 0.6l0.3 0.9l0.3 0.8l0.3 0.2l0.3 -0.3l0.2 -0.9l0.3 -0.9l0.3 -0.6l0.3 -1l0.3 -0.9l0.3 -0.4l0.3 0.1l0.3 0.8l0.3 1l0.3 0.7l0.3 0.9l0.3 1l0.3 0.7l0.3 0.1l0.3 -0.6l0.3 -1l0.3 -1l0.2 -0.6l0.3 -1l0.3 -0.9l0.3 -0.4l0.3 0.3l0.3 0.8l0.3 1l0.3 0.7l0.3 0.9l0.3 1l0.3 0.7l0.3 0.1l0.3 -0.5l0.3 -0.9l0.3 -1l0.3 -0.5l0.3 -1l0.2 -0.9l0.3 -0.6l0.3 0l0.3 0.6l0.3 0.9l0.3 1l0.3 0.5l0.3 1l0.3 0.9l0.3 0.5l0.3 -0.1l0.3 -0.7l0.3 -0.9l0.3 -0.9l0.3 -0.7l0.3 -1l0.3 -0.9l0.2 -0.4l0.3 0.3l0.3 0.8l0.3 1.1l0.3 0.7l0.3 0.9l0.3 1.1l0.3 0.8l0.3 0.2l0.3 -0.6l0.3 -1l0.3 -1.1l0.3 -0.7l0.3 -1.1l0.3 -1l0.3 -0.5l0.3 0.3l0.2 0.8l0.3 1.1l0.3 0.8l0.3 0.9l0.3 1.1l0.3 0.7l0.3 0.1l0.3 -0.6l0.3 -1.1l0.3 -1l0.3 -0.7l0.3 -1.1l0.3 -0.8l0.3 -0.3l0.3 0.4l0.3 0.9l0.3 1.1l0.2 0.7l0.3 1l0.3 1l0.3 0.4l0.3 -0.2l0.3 -0.9l0.3 -1.1l0.3 -0.6l0.3 -1l0.3 -1l0.3 -0.6l0.3 0.1l0.3 0.8l0.3 1.1l0.3 0.7l0.3 1l0.3 1l0.2 0.6l0.3 -0.1l0.3 -0.8l0.3 -1.1l0.3 -0.7l0.3 -0.9l0.3 -1l0.3 -0.6l0.3 0.2l0.3 0.7l0.3 1.1l0.3 0.7l0.3 1l0.3 0.9l0.3 0.5l0.3 -0.3l0.3 -0.8l0.2 -1.1l0.3 -0.6l0.3 -1l0.3 -0.9l0.3 -0.2l0.3 0.5l0.3 0.9l0.3 0.9l0.3 0.7l0.3 0.9l0.3 0.6l0.3 -0.1l0.3 -0.6l0.3 -0.9l0.3 -0.6l0.3 -0.8l0.3 -0.8l0.3 -0.3l0.2 0.3l0.3 0.8l0.3 0.7l0.3 0.6l0.3 0.8l0.3 0.5l0.3 0l0.3 -0.5l0.3 -0.7l0.3 -0.5l0.3 -0.6l0.3 -0.7l0.3 -0.3l0.3 0.1l0.3 0.6l0.3 0.7l0.3 0.4l0.2 0.7l0.3 0.4l0.3 0l0.3 -0.4l0.3 -0.7l0.3 -0.3l0.3 -0.6l0.3 -0.6l0.3 0.2l0.3 1.3l0.3 1.1l0.3 -0.1l0.3 -0.6l0.3 -0.5l0.3 -0.3l0.3 -0.6l0.3 -0.4l0.2 -0.1l0.3 0.2l0.3 0.7l0.3 0.4l0.3 0.6l0.3 0.6l0.3 0.2l0.3 -0.2l0.3 -0.4l0.3 -0.6l0.3 -0.4l0.3 -0.5l0.3 -0.7l0.3 -0.1l0.3 0.6" fill="none" stroke="#0000ff" stroke-width="0.85" stroke-linejoin="round"/>
<path d="M501 176.6l0.3 0l0.3 0l0.3 0l0.3 0l0.3 0l0.3 -0.1l0.3 -0.1l0.3 0.1l0.3 0.1l0.3 0.2l0.3 0l0.3 -0.1l0.3 -0.2l0.3 -0.3l0.2 0l0.3 0.3l0.3 0.2l0.3 0.3l0.3 0l0.3 -0.3l0.3 -0.2l0.3 -0.2l0.3 0l0.3 0l0.3 -0.2l0.3 0.1l0.3 0.4l0.3 0.5l0.3 0.2l0.3 -0.5l0.3 -0.6l0.2 -0.5l0.3 0.6l0.3 1.1l0.3 -0.8l0.3 -1.1l0.3 -0.6l0.3 1l0.3 1.2l0.3 1.6l0.3 0.3l0.3 -1.4l0.3 -1.2l0.3 -1.2l0.3 -1l0.3 -0.3l0.3 0.2l0.3 1.4l0.2 1.8l0.3 3.2l0.3 0.9l0.3 -3.2l0.3 -3.2l0.3 -3.9l0.3 0.1l0.3 3.8l0.3 2.8l0.3 3.5l0.3 1.6l0.3 -1.6l0.3 -3.8l0.3 -2.8l0.3 -3.8l0.3 -0.6l0.3 3.6l0.3 3.6l0.2 5.3l0.3 2.2l0.3 -4.1l0.3 -4.9l0.3 -6.6l0.3 -3.8l0.3 3.5l0.3 7l0.3 6.8l0.3 6.7l0.3 -3.3l0.3 -9.1l0.3 -8.2l0.3 -6l0.3 6.3l0.3 8l0.3 6.3l0.2 0.1l0.3 -5.4l0.3 4.8l0.3 4.2l0.3 -5.2l0.3 -7l0.3 -8.9l0.3 -1.5l0.3 8.3l0.3 7.6l0.3 7.8l0.3 -4.8l0.3 -9.1l0.3 -9.7l0.3 5.1l0.3 9.2l0.3 9l0.2 -4.4l0.3 -8.3l0.3 -8.6l0.3 1.7l0.3 8.3l0.3 7.3l0.3 -4.5l0.3 -7.8l0.3 -1.1l0.3 6l0.3 6.4l0.3 1.1l0.3 -5.3l0.3 -4.1l0.3 -4.5l0.3 0.1l0.3 3.9l0.2 3.1l0.3 3.6l0.3 1.5l0.3 -1.6l0.3 -3.6l0.3 -3l0.3 -3l0.3 2.5l0.3 3.9l0.3 3.4l0.3 -2.7l0.3 -3.4l0.3 -2.6l0.3 1.5l0.3 2.5l0.3 1.8l0.3 2.2l0.2 0.2l0.3 -2.8l0.3 -2.7l0.3 -3.1l0.3 1l0.3 3.3l0.3 2.3l0.3 1.3l0.3 -0.5l0.3 -0.5l0.3 -0.8l0.3 -1.5l0.3 -1.7l0.3 -1.3l0.3 0.2l0.3 0.6l0.3 1.1l0.2 1.5l0.3 2.8l0.3 1l0.3 -3l0.3 -3.1l0.3 -2.8l0.3 2.3l0.3 3.4l0.3 3.5l0.3 -2l0.3 -3.7l0.3 -3l0.3 2.9l0.3 3.4l0.3 2.1l0.3 -2.7l0.3 -2.8l0.2 -2.9l0.3 0.5l0.3 3.1l0.3 2.6l0.3 2.3l0.3 -1.6l0.3 -2.8l0.3 -3.3l0.3 -0.3l0.3 3.2l0.3 2.4l0.3 -0.7l0.3 -3.5l0.3 0.6l0.3 2.5l0.3 3.2l0.3 -1.3l0.2 -2.9l0.3 -3.3l0.3 0.1l0.3 3.2l0.3 3l0.3 1.1l0.3 -2.8l0.3 -2.5l0.3 -2.5l0.3 1l0.3 2.7l0.3 2l0.3 0.6l0.3 -3l0.3 -0.1l0.3 2l0.3 2.2l0.3 -1.1l0.2 -2.5l0.3 -2.6l0.3 -1.1l0.3 2l0.3 1.9l0.3 1.3l0.3 0l0.3 -0.4l0.3 1l0.3 0.8l0.3 -1l0.3 -1.7l0.3 -1.5l0.3 -1.6l0.3 0.2l0.3 2.1l0.3 1.8l0.2 1.4l0.3 -2.1l0.3 -2.5l0.3 1.5l0.3 2.3l0.3 1.6l0.3 -2.2l0.3 -2.3l0.3 -2.2l0.3 1.2l0.3 2.4l0.3 2.7l0.3 -0.1l0.3 -2.7l0.3 -2.6l0.3 -0.4l0.3 2.5l0.2 2.2l0.3 1.2l0.3 -1.5l0.3 -1.7l0.3 -2l0.3 -0.8l0.3 1.5l0.3 1.7l0.3 2l0.3 0.4l0.3 -2l0.3 -1.3l0.3 -1l0.3 0.8l0.3 1.5l0.3 -1.4l0.3 -0.7l0.2 0.9l0.3 1.1l0.3 1l0.3 -0.8l0.3 -1.1l0.3 -1l0.3 0.5l0.3 1l0.3 1.2l0.3 0.1l0.3 -1.1l0.3 -0.9l0.3 -0.8l0.3 0.4l0.3 0.9l0.3 0.7l0.3 0.4l0.2 0.1l0.3 -0.1l0.3 -0.7l0.3 -0.8l0.3 -0.9l0.3 0.4l0.3 1l0.3 1l0.3 0.1l0.3 -1.1l0.3 -0.9l0.3 -0.2l0.3 1l0.3 0.9l0.3 0.3l0.3 -0.8l0.3 -0.7l0.2 -0.7l0.3 0l0.3 0.4l0.3 0.5l0.3 0.4l0.3 0.8l0.3 0.3l0.3 -0.5l0.3 -0.8l0.3 -1l0.3 -0.8l0.3 0.3l0.3 1.2l0.3 1l0.3 1.2l0.3 -0.4l0.3 -1.3l0.2 -0.9l0.3 -0.6l0.3 0.3l0.3 -0.1l0.3 0l0.3 0.4l0.3 0.9l0.3 1l0.3 -0.9l0.3 -1.4l0.3 0.2l0.3 1.2l0.3 1.4l0.3 -0.5l0.3 -1.4l0.3 -1.4l0.3 -0.1l0.2 1.4l0.3 1.1l0.3 0.9l0.3 -0.7l0.3 -1l0.3 -0.9l0.3 -0.5l0.3 0.2l0.3 0.5l0.3 0.7l0.3 0.8l0.3 1l0.3 -0.5l0.3 -1.3l0.3 -1.5l0.3 -0.3l0.3 1.5l0.2 1.4l0.3 0.8l0.3 -1.2l0.3 -1.2l0.3 -1.2l0.3 0.5l0.3 1.2l0.3 0.9l0.3 -0.1l0.3 -1.3l0.3 -0.3l0.3 0.9l0.3 1l0.3 -0.2l0.3 -1l0.3 -1l0.3 0l0.2 1l0.3 0.8l0.3 0.5l0.3 -0.1l0.3 -0.3l0.3 -0.5l0.3 -0.5l0.3 -1.1l0.3 -0.6l0.3 0.9l0.3 1.1l0.3 1.3l0.3 0.4l0.3 -1.1l0.3 -1.1l0.3 -1.4l0.3 0.3l0.3 1.4l0.2 1.3l0.3 0.6l0.3 -1l0.3 -1.1l0.3 -1.2l0.3 0l0.3 1.2l0.3 0.9l0.3 0.8l0.3 -0.6l0.3 -1l0.3 -1l0.3 0.3l0.3 1l0.3 0.9l0.3 -0.5l0.3 -1.2l0.2 -0.1l0.3 1l0.3 1.2l0.3 -0.4l0.3 -1.1l0.3 -1.4l0.3 -0.2l0.3 1.2l0.3 1l0.3 0.9l0.3 -0.2l0.3 -0.6l0.3 -0.2l0.3 -0.2l0.3 -0.6l0.3 -1l0.3 -0.1l0.2 1.2l0.3 1.1l0.3 1l0.3 -0.9l0.3 -1.2l0.3 -1.4l0.3 0.5l0.3 1.3l0.3 1.2l0.3 -0.7l0.3 -1.4l0.3 -0.6l0.3 1.3l0.3 1.4l0.3 0.2l0.3 -1.4l0.3 -1.2l0.2 -0.5l0.3 1.1l0.3 0.9l0.3 0.7l0.3 -0.4l0.3 -0.7l0.3 0.1l0.3 -0.1l0.3 -0.8l0.3 0.4l0.3 0.9l0.3 0.4l0.3 -0.8l0.3 -0.9l0.3 -0.6l0.3 0.8l0.3 0.9l0.2 1l0.3 -0.1l0.3 -1l0.3 -0.7l0.3 -0.5l0.3 0l0.3 0.6l0.3 0.5l0.3 0.8l0.3 0l0.3 -0.9l0.3 -1.2l0.3 -0.1l0.3 1.1l0.3 1.2l0.3 0.6l0.3 -1.1l0.2 -1.1l0.3 -1l0.3 0.7l0.3 1.1l0.3 1.2l0.3 -0.2l0.3 -1.1l0.3 -0.9l0.3 -0.4l0.3 0.7l0.3 0.8l0.3 0.7l0.3 -0.7l0.3 -1l0.3 -0.4l0.3 1l0.3 1.2l0.2 0.2l0.3 -1.3l0.3 -1.2l0.3 -0.2l0.3 1.4l0.3 1.3l0.3 -0.1l0.3 -1.3l0.3 -1.3l0.3 0.1l0.3 1.2l0.3 1l0.3 0.6l0.3 -0.7l0.3 -1l0.3 -0.9l0.3 0.4l0.2 1.2l0.3 0.3l0.3 -0.8l0.3 -0.9l0.3 -0.5l0.3 0.6l0.3 0.8l0.3 1l0.3 0.5l0.3 -0.5l0.3 -0.9l0.3 -0.6l0.3 -0.6l0.3 0l0.3 0.5l0.3 0.5l0.3 0.3l0.3 0.5l0.2 0.3l0.3 -0.3l0.3 -0.6l0.3 -0.5l0.3 -0.6l0.3 0l0.3 0.5l0.3 0.5l0.3 0.7l0.3 0.3l0.3 -0.2l0.3 -0.3l0.3 -0.3l0.3 -0.4l0.3 -0.9l0.3 -0.3l0.3 0.9l0.2 0.8l0.3 1l0.3 0l0.3 -1l0.3 -0.7l0.3 -0.7l0.3 0l0.3 0.6l0.3 0.6l0.3 0.7l0.3 0.5l0.3 -0.5l0.3 -0.8l0.3 -1l0.3 -0.4l0.3 0.7l0.3 0.9l0.2 0.9l0.3 0.1l0.3 -0.9l0.3 -0.9l0.3 -0.8l0.3 0.5l0.3 0.9l0.3 0.5l0.3 -0.5l0.3 -0.4l0.3 0.4l0.3 0.8l0.3 0.4l0.3 -0.7l0.3 -1.1" fill="none" stroke="#ff0000" stroke-width="0.8" stroke-linejoin="round"/>
</g>
<g clip-path="url(#c02)">
<path d="M55.1 269.3l27.1 0l18.2 0.5l10.6 5l7.5 6.9l5.9 5.9l4.8 4.3l4 3.5l3.5 3.3l3.1 5.3l2.8 8.9l2.5 5.2l2.2 -2.8l2.1 -2.9l2 -0.6l1.8 1.4l1.7 1.4l1.6 2.5l1.5 3.4l1.4 5.4l1.3 4l1.3 2.3l1.2 -0.8l1.2 -2.2l1.1 -1.2l1.1 -1.7l1 -0.6l1 2.5l1 1.3l0.9 1.8l0.9 1.5l0.8 3.9l0.9 3.1l0.8 3.2l0.8 1.8l0.7 -0.1l0.8 -1l0.7 -2.5l0.7 -0.4l0.7 -1.6l0.6 -1l0.7 -1l0.6 2.4l0.6 1.5l0.6 1.3l0.6 0.9l0.6 2.7l0.5 0.2l0.6 3.2l0.5 -2.2l0.6 -0.5l0.5 1.1l0.5 -2.2l0.5 -1.6l0.5 0.5l0.5 -0.8l0.4 -0.8l0.5 2.5l0.5 1.6l0.4 1.7l0.4 0.3l0.5 2.1l0.4 1.2l0.4 0.8l0.4 -0.2l0.4 1.7l0.4 0.1l0.4 0.3l0.4 -3.9l0.4 0.3l0.4 -2l0.4 0.8l0.3 0.3l0.4 -1.3l0.3 0.6l0.4 1.3l0.3 0.1l0.4 -1.8l0.3 2.1l0.4 0.8l0.3 1.5l0.3 1.3l0.3 -0.7l0.4 1.4l0.3 0.9l0.3 -0.4l0.3 0.6l0.3 -1.3l0.3 -1.2l0.3 1.4l0.3 -2.5l0.3 1.5l0.3 -1l0.2 0.7l0.3 -0.7l0.3 -0.3l0.3 0.4l0.2 0.3l0.3 0.1l0.3 0.3l0.2 0.8l0.3 -1l0.3 -0.5l0.2 -0.3l0.3 0.4l0.2 -1.5l0.3 2.2l0.2 0.9l0.3 -2l0.2 2.9l0.2 -1.8l0.3 2l0.2 -1l0.3 2.3l0.2 -2.5l0.2 1.1l0.2 0.9l0.3 -2.3l0.6 2.8l0.2 -0.6l0.3 0.3l0.2 -0.7l0.2 0.1l0.2 1.5l0.2 0.1l0.4 1l0.4 -0.9l0.2 -0.6l0.2 -0.5l0.2 2.2l0.4 -0.1l0.2 -2.3l0.8 3.3l0.2 -0.8l0.1 0.7l0.4 1.4l0.2 -2l0.2 1.6l0.1 -2.4l0.6 3.4l0.3 -0.3l0.2 -0.2l0.3 0l0.4 -0.8l0.1 0.2l0.2 0.9l0.7 2.4l0.1 -2.7l0.2 1.1l0.3 -0.9l0.5 2.2l0.1 -1.2l0.5 -0.4l0.3 3.2l0.1 -2l0.2 1.5l0.1 -2.3l0.3 2.4l0.4 -0.5l0.2 -1.7l0.5 4l0.3 -2.7l0.2 1.1l0.4 -1.8l0.5 4.1l0.1 -2.2l0.5 -0.6l0.3 3.2l0.1 0.3l0.3 -3.1l0.6 1.3l0.1 0.1l0.6 -1.7l0.4 4.4l0.1 -2.5l0.3 2.7l0.5 -4.5l0.1 0.8l0.5 4.7l0.4 -0.4l0.1 -2.1l0.3 -0.2l0.4 2.9l0.3 -1.5l0.1 -0.8l0.4 2.2l0.1 -3.1l0.3 2.8l0.1 -0.7l0.2 -0.4l0.6 2.4l0.2 -0.8l0.1 -0.3l0.2 -1.8l0.6 3.3l0.1 -2.1l0.2 3.6l0.8 -5l0 3.1l0.5 1.8l0.3 -3.4l0.1 1.2l0.1 1.4l0.1 -2.4l0.3 2.8l0.6 -0.3l0 0.9l0.4 -3.4l0 4.1l0.5 -2.8l0.1 1.9l0.2 -1.2l0.1 2.7l0.7 -1.6l0 -1.9l0.3 3.8l0.6 -2.5l0.1 2.5l0.1 -2.8l0.9 3.4l0 -2.3l0.2 3.3l0.5 -3.3l0.3 1.6l0 0.3l0.4 -2.1l0.5 3.1l0.1 -0.3l0 0.5l0.2 -2.4l0.1 2.8" fill="none" stroke="#000000" stroke-width="0.6" stroke-linejoin="round"/>
</g>
<g clip-path="url(#c02)">
<path d="M55.1 269.3l27.1 0l18.2 0.5l10.6 5l7.5 6.9l5.9 6.8l4.8 6.2l4 0.7l3.5 3.1l3.1 2.7l2.8 2.5l2.5 2l2.2 2.4l2.1 1.7l2 1.8l1.8 1.2l1.7 1.7l1.6 1.5l1.5 1.5l1.4 1.1l1.3 1.1l1.3 1.2l1.2 0.6l1.2 1.1l1.1 2.7l1.1 0.6l1 0.2l1 1.1l1 0.5l0.9 0.9l0.9 -0.2l0.8 2.5l0.9 0.4l0.8 -0.7l0.8 1.6l0.7 0.7l0.8 1.4l0.7 1.4l0.7 -0.5l0.7 0.6l0.6 1.6l0.7 0.1l0.6 0l0.6 1.1l0.6 -0.2l0.6 0.3l0.6 0.5l0.5 0.8l0.6 -0.4l0.5 0.1l0.6 0.9l0.5 1.2l0.5 -0.8l0.5 1.3l0.5 -0.7l0.5 1.9l0.4 -1.3l0.5 1.1l0.5 1.4l0.4 -0.4l0.4 0l0.5 0.1l0.4 1.4l0.4 0.4l0.4 -0.8l0.4 0.9l0.4 -0.4l0.4 -0.1l0.4 2.4l0.4 -1.4l0.4 -0.6l0.4 1.6l0.3 0.7l0.4 -1.1l0.3 0.7l0.4 -0.3l0.3 1.4l0.4 1.3l0.3 -1l0.4 0.5l0.3 -0.9l0.3 0.8l0.3 1.9l0.4 -0.2l0.3 -1.7l0.3 0.4l0.3 1.4l0.3 -0.3l0.3 -0.2l0.3 0.2l0.3 -0.2l0.3 0.8l0.3 0.5l0.2 0.3l0.3 -1l0.3 3.3l0.3 -1.8l0.2 0l0.3 1.6l0.3 -1.5l0.2 1.1l0.3 -1.2l0.3 1.1l0.2 -0.6l0.3 -0.3l0.2 1l0.3 1.3l0.2 0.8l0.3 -2.9l0.2 1.9l0.2 0.7l0.3 -0.6l0.2 0.5l0.3 -0.9l0.2 1l0.2 0.2l0.2 0.8l0.3 -1l0.6 -0.5l0.2 3l0.3 1.1l0.2 -2.8l0.2 -1.7l0.2 3.5l0.2 0.4l0.2 -1.6l0.6 1.3l0.2 -0.7l0.8 1.9l0.2 -0.4l0.8 1.3l0.2 -2.3l0.1 1.6l0.4 -0.3l0.2 1l0.2 -0.1l0.1 -0.5l0.6 0l0.3 2.1l0.2 0l0.3 -2.3l0.5 4l0.2 -1.9l0.2 -0.8l0.3 1.7l0.3 -1l0.2 0.1l0.1 -1.2l0.4 2.8l0.3 -0.3l0.1 -0.1l0.5 2.1l0.1 -2.4l0.3 2.2l0.2 -1.7l0.5 2l0.2 -3.7l0.1 2.1l0.2 2.1l0.4 0.7l0.4 -2.5l0.2 0.4l0.1 3.7l0.8 -1.1l0.1 -2.7l0.2 -0.2l0.6 3.7l0.1 -3.1l0.2 2.9l0.7 -0.4l0.1 1.1l0.7 -1.6l0.3 1.1l0.1 0.5l0.3 -1l0.2 1.8l0.3 -1.4l0.1 0.9l0.1 1.7l0.5 -2.6l0.3 0.9l0.1 0.3l0.3 -1.9l0.3 3.6l0.4 -1l0.1 -0.3l0.3 -0.5l0.2 1.6l0.3 -0.4l0.1 0.7l0.1 -1.5l0.1 2.5l0.8 -0.7l0.1 -1l0.1 2.9l0.1 -5.6l0.6 2.6l0.1 1.4l0.7 1.4l0.3 -2.4l0 1l0.4 1.1l0.2 -2.5l0.3 2.5l0.1 0.3l0.3 -2.1l0.6 2.6l0.1 -0.4l0 -0.2l0.3 1.8l0.1 -3.2l0.5 2.7l0.1 -0.7l0.8 -1.4l0.1 4.1l0.1 -2.7l0 1.5l0.1 -1.7l0.8 2.8l0 -2.6l0.1 0.5l0.1 -0.5l0.2 2.2l0.7 -1.6l0 2.1l0.3 -3.4l0 4.1l0.7 -1.6l0 -1.4l1 3.9l0 -2l0.2 -0.5l0.1 2.3" fill="none" stroke="#0000ff" stroke-width="0.6" stroke-linejoin="round"/>
</g>
<g clip-path="url(#c02)">
<path d="M55.1 285.6l27.1 0.4l18.2 6.8l10.6 4.2l7.5 8.1l5.9 6.3l4.8 1.9l4 -1.4l3.5 6l3.1 0.9l2.8 2.5l2.5 1.3l2.2 0.8l2.1 1l2 1l1.8 0.2l1.7 0l1.6 1.7l1.5 0.2l1.4 2l1.3 0.8l1.3 -0.3l1.2 1.7l1.2 1.7l1.1 0.5l1.1 0.2l1 -0.4l1 2.7l1 0.9l0.9 -0.3l0.9 2.5l0.8 0.3l0.9 -0.3l0.8 1l0.8 1.2l0.7 0.1l0.8 4l0.7 -3l0.7 2.6l0.7 1.3l0.6 -1.3l0.7 0.2l0.6 1.5l0.6 1l0.6 -0.8l0.6 0.5l0.6 -1.1l0.5 0.9l0.6 0.9l0.5 -0.6l0.6 1.6l0.5 1.1l0.5 -1.3l0.5 0.3l0.5 1.1l0.5 0.9l0.4 -0.8l0.5 3.1l0.5 -3l0.4 0.5l0.4 2.5l0.5 -1.6l0.4 1.4l0.4 -1.6l0.4 3.2l0.4 -1l0.4 -1.5l0.4 -0.2l0.4 3.8l0.4 -1.6l0.4 -0.6l0.4 1.2l0.3 -2.2l0.4 3.2l0.3 -1.5l0.4 1.6l0.3 -2.5l0.4 1.7l0.3 0.5l0.4 1.6l0.3 -3.5l0.3 1.1l0.3 0.1l0.4 -0.3l0.3 1l0.3 1.2l0.3 0.3l0.3 0.1l0.3 -2.2l0.3 3.2l0.3 -0.9l0.3 -0.1l0.3 -0.5l0.2 -0.3l0.3 2.1l0.3 0.6l0.3 -1.7l0.2 -1.3l0.3 0.6l0.3 0.7l0.2 0.7l0.3 -0.6l0.3 0.7l0.2 -1l0.3 1.8l0.2 -0.9l0.3 0.4l0.2 -0.6l0.3 0.4l0.2 -2.5l0.2 1.3l0.3 0.1l0.2 4l0.3 -1.8l0.2 0.4l0.2 -1.2l0.2 3.2l0.3 -3.7l0.4 2.9l0.4 -0.4l0.3 -0.8l0.2 -0.6l0.2 -1.5l0.2 2.6l0.2 -1l0.2 0.7l0.2 -1.7l0.4 0.6l0.2 2.9l0.6 -2.7l0.2 1l0.2 1.2l0.4 -0.8l0.4 1.8l0.2 -1.6l0.1 -2.1l0.8 4.6l0.1 -2.1l0.2 -0.3l0.7 1.1l0.2 2l0.3 -1.8l0.5 1.3l0.2 -0.5l0.2 -1.3l0.1 1.5l0.5 -1l0.2 -1.2l0.1 4.5l0.7 -3.2l0.1 -0.2l0.5 -0.4l0.1 2.2l0.3 -1.1l0.2 1.6l0.1 -3.1l0.6 3.2l0.1 -0.6l0.2 -0.6l0.5 -0.8l0.2 2.7l0.1 -1.9l0.2 2l0.4 0.8l0.2 -2.5l0.3 0.6l0.1 -1.1l0.8 4.2l0.1 -2.8l0.3 -0.4l0.2 2.4l0.4 -0.7l0.1 -0.2l0.6 2.8l0.4 -3.7l0.1 -0.2l0.8 3.9l0.1 -1.7l0.6 -1l0.1 2.3l0.2 -1.2l0.1 0.6l0.3 0.6l0.4 -3.8l0.3 2.3l0.1 0.6l0.1 -2.7l0.5 4.3l0.2 -1.2l0.1 -0.1l0.1 1.2l0.5 -2.4l0.4 0.9l0.1 0.8l0.4 0.5l0.2 -2.7l0.2 2.6l0.1 -1.6l0.1 3.7l0.4 -3.9l0.5 2.7l0 -2.9l0.6 5.1l0.3 -0.9l0.1 -2.1l0.2 2.6l0.4 -3.8l0.4 2l0 -1.1l0.7 3.3l0.2 -0.7l0.1 -2l0.2 -2.6l0.6 7.5l0.2 -3l0 -2.5l0.2 3.3l0.7 -1.9l0.1 0.1l0.1 -2.2l0.7 6.3l0.2 -5l0 2.8l0.4 0.7l0.3 -3.5l0.3 2.9l0 -0.3l0.4 -1.9l0.2 4.1l0.4 -1.7l0 0.7l0.1 -2.8l0.2 3.4" fill="none" stroke="#ff0000" stroke-width="0.6" stroke-linejoin="round"/>
</g>
<g clip-path="url(#c12)">
<path d="M273 297.5l26.9 -0.3l18.1 -4l10.5 0.3l7.5 0.3l5.9 1.7l4.7 6.8l4 2.9l3.5 4l3.1 5.1l2.7 2.5l2.5 -0.4l2.3 2.6l2.1 2.8l1.9 3.2l1.8 -0.9l1.7 0.6l1.6 0.2l1.5 2.5l1.4 -0.9l1.3 3l1.3 1l1.2 0l1.2 0.8l1.1 3.2l1 1l1.1 -1.6l0.9 2.3l1 -1.7l0.9 1.8l0.9 0.8l0.9 0.9l0.8 -0.6l0.8 1.6l0.8 -1.3l0.7 2.4l0.8 -0.2l0.7 0.9l0.7 -1.5l0.6 1l0.7 1.5l0.6 -3.8l0.7 3.5l0.6 -0.1l0.6 -0.5l0.6 -1.7l0.5 2.9l0.6 -1l0.6 1.1l0.5 2.4l0.5 -2.9l0.5 -0.1l0.5 2l0.5 -0.1l0.5 2.3l0.5 0.2l0.5 -1.4l0.4 -1.2l0.5 1.7l0.4 -0.9l0.5 -0.7l0.4 1.4l0.4 -0.5l0.4 -1.1l0.5 4l0.4 -2.6l0.4 3.9l0.4 -3.1l0.3 0.4l0.4 1.3l0.4 0.9l0.4 -1.3l0.3 0.7l0.4 -0.6l0.3 1.6l0.4 -1.9l0.3 2.3l0.4 -0.8l0.3 0.2l0.3 -2.2l0.4 4.1l0.3 -1.3l0.3 -2l0.3 2.8l0.3 1l0.4 -1.9l0.3 1l0.3 -1.4l0.3 2.7l0.3 -1.3l0.2 -0.5l0.3 -0.3l0.3 3.2l0.3 -3.4l0.3 3.5l0.3 1.1l0.2 -0.6l0.3 -1.4l0.3 0.9l0.2 -0.9l0.3 0.1l0.3 0.4l0.2 1l0.3 -2.7l0.2 5.9l0.3 -0.6l0.2 -1.5l0.3 1.2l0.2 2l0.7 0.4l0.3 -4.5l0.2 -0.5l0.2 0.3l0.2 2.6l0.3 -0.8l0.2 2l0.2 -1.7l0.7 1.2l0.2 -1.8l0.2 0.4l0.2 -0.4l0.2 4.2l0.2 0.4l0.2 -3l0.6 0.6l0.2 0.3l0.2 -0.9l0.6 3l0.2 -3.6l1 2.9l0.1 0.1l0.4 1.6l0.4 -0.5l0.1 0.1l0.4 -3.2l0.2 4.9l0.3 -4.6l0.2 4.5l0.2 -1.8l0.6 3.8l0.2 -2l0.3 3.3l0.5 -3.9l0.2 1.1l0.1 1.5l0.6 -4.9l0.2 3.9l0.1 0.5l0.2 -0.7l0.6 1.4l0.1 1.2l0.6 -2.8l0.3 2.6l0.1 -2.5l0.2 4.1l0.7 -2.3l0.1 -0.6l0.7 4.3l0.2 -1.5l0.2 2.1l0.7 0.5l0.2 -3.8l0.1 0.1l0.1 -0.2l0.5 4.8l0.3 -1.5l0.1 -0.2l0.2 -2.1l0.3 4.1l0.3 -0.4l0.1 -0.9l0.3 3l0.2 -3.8l0.4 1.9l0.2 -0.9l0.3 1.9l0.1 -3.1l0.4 2.9l0.1 -3.1l0.9 5.4l0.1 -0.7l0.1 -2.6l0.4 2l0.4 -1l0.1 0.1l0.2 -1.5l0.1 3.9l0.7 -2.3l0.1 2.3l0.5 1.1l0.3 -4l0.1 2.4l0.3 -2.2l0.4 5.4l0.2 -3.5l0.1 1.4l0.6 2l0.1 -4.6l0.3 0.2l0.1 3.3l0.2 -1.8l0.2 3.1l0.4 -1.4l0.1 0.8l0.2 -4.3l0.5 6.6l0.3 -4l0.1 1.8l0.3 -2l0 5.9l0.6 -3.2l0.1 -1.2l0.6 -0.5l0.2 3.2l0.1 -1.4l0 1.4l0.4 1.3l0.4 -5.2l0.2 1.7l0 3.1l0.3 -2.5l0.2 3.2l0.4 -1.7l0.1 1.5l0.2 -5.6l0.4 6.8l0.4 -1.3l0 -0.3l0.1 -2.7l0.1 3.6" fill="none" stroke="#000000" stroke-width="0.6" stroke-linejoin="round"/>
</g>
<g clip-path="url(#c12)">
<path d="M273 281.6l26.9 0l18.1 0.1l10.5 1.8l7.5 5.5l5.9 6.3l4.7 5.8l4 2.6l3.5 3.6l3.1 2.2l2.7 -0.1l2.5 2.5l2.3 4.9l2.1 3.2l1.9 4.7l1.8 -4.2l1.7 6.3l1.6 -3.4l1.5 2.6l1.4 1.4l1.3 0.3l1.3 1.1l1.2 -0.5l1.2 1.7l1.1 -1.5l1 6l1.1 -1.9l0.9 2.2l1 -1.8l0.9 5.4l0.9 -2.1l0.9 -0.2l0.8 3.2l0.8 -3.9l0.8 1.6l0.7 -1.1l0.8 0.3l0.7 3.6l0.7 -0.1l0.6 -0.8l0.7 -1.4l0.6 0l0.7 3l0.6 0l0.6 0.6l0.6 -0.2l0.5 -0.4l0.6 0.1l0.6 -3.6l0.5 4.7l0.5 -0.2l0.5 -1.1l0.5 2.7l0.5 -0.8l0.5 -0.4l0.5 -1.1l0.5 3.7l0.4 -4.4l0.5 3.2l0.4 -0.7l0.5 -1l0.4 0.5l0.4 -0.5l0.4 1.7l0.5 0.5l0.4 -0.4l0.4 2.4l0.4 -3.6l0.3 3.6l0.4 1l0.4 -5.5l0.4 3.9l0.3 1.9l0.4 -4.9l0.3 3.8l0.4 -2.2l0.3 3.3l0.4 -0.8l0.3 2.5l0.3 0.5l0.4 -1.4l0.3 -1.2l0.3 -1.3l0.3 -2.4l0.3 5.9l0.4 -3.1l0.3 2.8l0.3 -0.5l0.3 2.4l0.3 0.2l0.2 -0.9l0.3 0.8l0.3 -1.7l0.3 1.3l0.3 -3l0.3 2l0.2 0.2l0.3 -1.4l0.3 1.2l0.2 1.1l0.3 0.3l0.3 0.2l0.2 -1.8l0.3 0.7l0.2 0.9l0.3 -0.6l0.2 2.4l0.3 -1.6l0.2 3.3l0.2 -4.3l0.8 1.7l0.2 1.2l0.2 0.5l0.2 -2.1l0.3 1.9l0.2 1.8l0.4 1.6l0.3 -5.3l0.2 3.1l0.2 -0.2l0.2 -3.4l0.2 0.4l0.2 3.4l0.2 -0.7l0.4 -1.4l0.2 3l0.2 -0.3l0.2 -1.5l0.8 4.3l0.2 -0.3l0.2 2.9l0.4 -6l0.4 0.4l0.1 0.5l0.8 3.6l0.1 -0.8l0.6 -1.2l0.1 2.5l0.2 -2.3l0.2 2.6l0.3 -1.5l0.5 0.6l0.2 1.4l0.2 0.3l0.6 -3.4l0.2 2.8l0.1 5l0.3 -6.9l0.5 4.3l0.1 -3.2l0.5 1.7l0.3 -0.3l0.1 3.2l0.2 -2.9l0.7 6.3l0.1 -6.8l0.7 5l0.2 -2.4l0.1 1l0.3 1.3l0.4 -3.2l0.2 2.3l0.2 1.4l0.2 -3.7l0.4 6l0.3 -3.7l0.1 2.8l0.1 0.3l0.8 -4.5l0.1 2.6l0.6 -2.8l0.2 3.8l0.1 1.6l0.7 -2.1l0.1 2.8l0.1 -0.4l0.2 -3.1l0.3 0l0.3 4.8l0.2 -2.5l0.1 -1.6l0.7 2.3l0.3 -1.4l0.1 -1.4l0.8 4l0.1 -1.5l0.5 -2.9l0.3 6l0.2 -1.4l0.1 0.1l0.4 -2.2l0.3 3.8l0.1 -1.8l0.1 -1.9l0.4 4.5l0.5 -5.2l0.1 1.9l0.5 5.6l0.1 -5.7l0.4 0.9l0.1 2.4l0.6 -1.7l0.1 3.9l0.1 -0.6l0.1 -0.3l0.2 0.8l0.2 -4l0.6 1.7l0.1 0.9l0.1 -1.8l0.6 4.4l0.2 -3.6l0.1 1.5l0.4 -1.9l0.3 4.4l0.2 -2.5l0 1.2l0.2 2.4l0.6 -5.5l0.2 4l0 -1.7l0.1 5.8l0.8 -2.9l0.1 -1.4l0.4 4.3l0.2 -6l0.4 2.3l0 0.5l0.1 1.1l0.1 2.5" fill="none" stroke="#0000ff" stroke-width="0.6" stroke-linejoin="round"/>
</g>
<g clip-path="url(#c12)">
<path d="M273 285.7l26.9 0.4l18.1 4l10.5 5.6l7.5 5.4l5.9 1.5l4.7 -0.2l4 -1.7l3.5 1l3.1 2.9l2.7 7.5l2.5 6l2.3 -2.3l2.1 -3.8l1.9 4.3l1.8 5.6l1.7 -2.2l1.6 2.9l1.5 -0.3l1.4 0.5l1.3 1.1l1.3 -1.4l1.2 2.4l1.2 2.1l1.1 -1l1 0.1l1.1 6.1l0.9 -2l1 2.4l0.9 -0.9l0.9 3.3l0.9 -2.1l0.8 0.5l0.8 0.9l0.8 2l0.7 -1.1l0.8 1.8l0.7 0.9l0.7 -3.2l0.6 3.3l0.7 -5l0.6 1.3l0.7 6.4l0.6 -4.9l0.6 3.3l0.6 -2.4l0.5 0.2l0.6 4.9l0.6 -3.8l0.5 0.3l0.5 -2.5l0.5 5l0.5 -4l0.5 4.3l0.5 -1.5l0.5 1.3l0.5 -4.9l0.4 2.2l0.5 -3.9l0.4 4.1l0.5 -0.2l0.4 0.2l0.4 3.4l0.4 -1l0.5 -3l0.4 4l0.4 -1.1l0.4 0.6l0.3 -1.2l0.4 2.3l0.4 -0.3l0.4 -0.7l0.3 0.5l0.4 2.2l0.3 -3.6l0.4 4.9l0.3 -0.1l0.4 0.3l0.3 -4.6l0.3 3l0.4 1.4l0.3 0.6l0.3 -3.1l0.3 3.4l0.3 0.7l0.4 -3.8l0.3 4l0.3 -1.6l0.3 -0.5l0.3 1.2l0.2 -0.7l0.3 -2.7l0.3 4.1l0.3 1.8l0.3 1.4l0.3 -3.2l0.2 0.5l0.3 -1.1l0.3 1.7l0.2 0.2l0.3 0.7l0.3 -0.2l0.2 -1.3l0.3 1.3l0.2 -0.8l0.3 -3.5l0.2 3.1l0.3 4.4l0.2 -6.7l0.5 5.9l0.5 -1.6l0.2 1.4l0.2 0.2l0.2 0.9l0.3 -1.9l0.2 -2l0.7 -1.1l0.2 6.4l0.2 -2.8l0.2 1.3l0.2 1.7l0.2 0l0.2 -1.9l0.4 1.4l0.4 -2.3l0.2 1l0.6 0.1l0.2 -2.6l0.2 2.6l0.6 3.5l0.4 -3.2l0.1 0.5l0.6 4.6l0.2 -6.6l0.1 1.8l0.4 -0.2l0.3 6.6l0.2 -2.6l0.2 0.3l0.2 -4l0.1 4.9l0.5 -0.4l0.2 1.2l0.3 -3.7l0.5 4.8l0.2 -2.4l0.4 4l0.2 -7l0.3 6l0.1 -3.6l0.2 -0.7l0.1 7.4l0.5 -5.6l0.1 1.7l0.6 -4l0.3 6.3l0.1 -6.9l0.2 7.2l0.7 -2.1l0.1 2.6l0.4 -5l0.3 6.4l0.2 -5.2l0.2 4l0.1 3.1l0.4 -6.1l0.4 1l0.1 3l0.2 -4.6l0.7 4.1l0.1 0l0.1 1.5l0.4 -6.7l0.3 3l0.1 3l0.1 -2.5l0.5 7.1l0.3 -3.9l0.2 1.7l0.8 -4l0.1 1.9l0.2 -0.5l0.7 4.8l0.1 -3.2l0.1 0.9l0.2 0.1l0.5 -2.7l0.1 1l0.1 2.2l0.5 -2.4l0.2 5.6l0.3 -4.5l0.1 3.9l0.1 -5.6l0.6 5.7l0.1 -4.3l0.1 2.4l0.3 4.5l0.6 -5.5l0 2.9l0.1 0.4l0.5 1.4l0.2 -4.8l0.3 3.6l0.1 -2l0.3 -2.8l0.4 6.6l0.1 -1.1l0.1 1.2l0.2 2.4l0.1 -8.3l0.7 4.2l0.1 1.3l0.4 1.4l0.2 -5.7l0.3 1.2l0.1 1.1l0.5 4.7l0.4 -1.8l0 -0.2l0.4 -1.4l0.6 6.2l0 -5.4l0.2 -1.8l0.3 5.2l0.4 -1.3l0.1 -0.2l0.2 -3.5l0.4 5l0.4 -0.3l0 -1.8l0.1 2.6l0.1 -4.8" fill="none" stroke="#ff0000" stroke-width="0.6" stroke-linejoin="round"/>
</g>
<g clip-path="url(#c22)">
<path d="M489.8 292.2l27 1.4l18.2 17.3l10.7 2.6l7.5 3.8l5.9 -0.4l4.7 0.1l4.1 0.6l3.5 3.5l3.1 1.7l2.7 -2l2.5 1.4l2.3 1.4l2.1 2.2l2 0l1.8 0.1l1.7 3.3l1.6 -0.3l1.5 2.6l1.4 0l1.3 1.5l1.3 -1.5l1.2 2l1.2 -1.5l1.1 0.7l1.1 1l1 4l1 -2.6l0.9 -0.5l1 0l0.9 2.9l0.8 -1.4l0.8 1.1l0.9 0l0.7 -2.9l0.8 3.4l0.7 -1.1l0.8 -1.3l0.7 2.7l0.6 -0.6l0.7 -0.2l0.6 0.3l0.7 2.5l0.6 -2.1l0.6 -2.1l0.6 5.3l0.6 -4l0.5 1.4l0.6 1.6l0.5 -4.5l0.6 2.3l0.5 3.6l0.5 -2.1l0.5 -0.7l0.5 1.5l0.5 -1.4l0.4 1.5l0.5 -1.3l0.4 -1.2l0.5 3.8l0.4 -1.5l0.5 1.3l0.4 -1l0.4 2.4l0.4 -1l0.4 -0.6l0.4 -1.8l0.4 -0.4l0.4 4.5l0.4 -0.9l0.4 -2.5l0.4 4.8l0.3 -2.7l0.4 -0.6l0.3 -2.3l0.4 1.1l0.3 1.8l0.4 0.2l0.3 -0.2l0.4 -3l0.3 3.5l0.3 -0.2l0.3 -1.1l0.3 0.9l0.4 0.2l0.3 1.7l0.3 -1.9l0.3 0.8l0.3 -2.8l0.3 1l0.3 1.3l0.3 -1.2l0.2 1.8l0.3 -2.4l0.3 1.9l0.3 -0.9l0.3 3.4l0.2 -2.9l0.3 3.7l0.3 0.7l0.2 -3l0.3 1.1l0.3 -1.8l0.2 -3.6l0.3 5.5l0.2 -0.3l0.3 -1.4l0.2 -0.5l0.3 1.3l0.2 0.1l0.2 -1.6l0.3 0.4l0.2 2.8l0.2 -1.6l0.3 -0.1l0.2 2l0.7 -3.5l0.2 1.5l0.2 0.2l0.2 1.3l0.3 -0.8l0.2 3.4l0.6 0.4l0.2 -5.3l0.2 4.7l0.2 -4.4l0.6 1.3l0.2 3l0.4 -5.2l0.4 3.1l0.2 -0.1l0.2 1.5l0.2 -3.6l0.3 2.1l0.2 1.3l0.4 1l0.2 -4.4l0.3 0.6l0.2 1.7l0.2 1.3l0.7 -0.4l0.1 -0.1l0.2 2l0.3 -5.3l0.4 4.9l0.1 -2.5l0.2 -1.8l0.6 5.8l0.2 -4.4l0.5 2.7l0.3 -0.3l0.1 -0.6l0.3 1.9l0.2 -4.4l0.4 2.5l0.2 0.8l0.1 0.1l0.7 -2.8l0.2 0.9l0.4 3.8l0.1 -4.1l0.3 2l0.1 -1.2l0.7 -1.5l0.1 4.9l0.1 -3.7l0.2 0.7l0.2 -2.4l0.4 6.4l0.3 -1.1l0.1 -1.8l0.1 -1.4l0.3 5.3l0.5 -3.7l0.1 1.6l0.5 1.5l0.1 -3.8l0.2 0.3l0.1 2.5l0.3 0l0.6 -5.1l0.1 6l0.2 -4l0.3 4.3l0.4 -2.6l0.1 0.6l0.7 5.4l0.2 -8l0.1 2.3l0.1 2.2l0.2 -4l0.6 1.1l0.1 0.7l0.8 2.9l0.1 -5.4l0.1 0.5l0.1 3.4l0.1 -2.1l0.2 6l0.5 -4.2l0.1 -2.4l0.3 -0.5l0.3 6l0.3 -4.3l0.1 1l0.8 1.5l0.1 -3.9l0.1 2l0.1 0.8l0.3 -1.4l0.4 4.5l0.2 -1.3l0.1 -3l0.6 3.5l0.2 -5.3l0.1 4l0 -0.1l0.3 1.9l0.6 -5.5l0.1 3.9l0 0.7l0.1 1.4l0.2 -5l0.6 3.3l0.1 -0.4l0.3 -3.3l0.4 6.8l0.3 -3.1l0 2.8l0.3 -7l0.7 2.3l0.1 0l0.8 5.2l0 -1.7l0.1 -1.7" fill="none" stroke="#000000" stroke-width="0.6" stroke-linejoin="round"/>
</g>
<g clip-path="url(#c22)">
<path d="M489.8 295.4l27 1.4l18.2 16.9l10.7 0.7l7.5 3.5l5.9 0.4l4.7 0.4l4.1 0.1l3.5 0.1l3.1 -0.2l2.7 2l2.5 2.5l2.3 0.9l2.1 0.8l2 3.7l1.8 -0.5l1.7 1.7l1.6 -1l1.5 3.7l1.4 0.1l1.3 -0.2l1.3 0.8l1.2 3.5l1.2 -2.4l1.1 1.4l1.1 0.7l1 0.4l1 -0.4l0.9 3.6l1 -5.4l0.9 4.3l0.8 2.6l0.8 -3.6l0.9 -2.6l0.7 3.8l0.8 -3.7l0.7 0.2l0.8 4.6l0.7 3.3l0.6 -2.2l0.7 -4.5l0.6 4l0.7 1.5l0.6 -0.2l0.6 -2.5l0.6 0.2l0.6 -1.6l0.5 -0.1l0.6 3.8l0.5 -1.3l0.6 2l0.5 -2.3l0.5 2.5l0.5 0.2l0.5 -6.3l0.5 4.2l0.4 -1.1l0.5 -3.5l0.4 3.6l0.5 1.9l0.4 -0.1l0.5 1.7l0.4 -3.4l0.4 2.9l0.4 -3.9l0.4 4.3l0.4 0.1l0.4 0.3l0.4 -1.9l0.4 1l0.4 -2.1l0.4 3.8l0.3 -1.5l0.4 -3l0.3 4.4l0.4 -1.4l0.3 -1.9l0.4 2.1l0.3 2.4l0.4 3l0.3 -8.6l0.3 4l0.3 -1.5l0.3 3.5l0.4 -4.4l0.3 2.7l0.3 1l0.3 2l0.3 -2.4l0.3 1.8l0.3 -0.4l0.3 2.8l0.2 -2.1l0.3 -1.1l0.3 2.8l0.3 -2.5l0.3 -1l0.2 1.9l0.3 0.7l0.3 0.1l0.2 -2.9l0.3 4.9l0.3 -2.4l0.2 0.4l0.3 -1.1l0.2 0.5l0.3 2.1l0.2 -6l0.3 3.7l0.2 3l0.2 -0.8l0.3 -1.8l0.2 -0.9l0.2 3.8l0.3 -3.9l0.2 4.1l0.7 -5.7l0.2 3.5l0.2 0.5l0.2 -3l0.3 4.6l0.2 -2.5l0.4 -1.3l0.4 2.6l0.2 -1.6l0.2 3.4l0.2 -3.7l0.4 3.5l0.2 -1l0.4 -2l0.4 0.1l0.2 -0.4l0.4 3.9l0.3 -2.3l0.2 4.7l0.4 -4.3l0.5 3.8l0.2 -4.1l0.5 -1.8l0.2 3.5l0.2 0l0.1 -4.5l0.5 6.7l0.4 -6.6l0.1 3.6l0.2 2.1l0.2 -6.1l0.4 4.1l0.2 3.3l0.3 -5.7l0.5 3.5l0.1 -2l0.2 7.9l0.7 -5.7l0.2 -0.1l0.2 -1.2l0.3 3.2l0.3 -1.6l0.2 -0.4l0.1 1.3l0.5 -4.7l0.2 0.8l0.1 3.8l0.2 0.3l0.6 -4.2l0.1 4.1l0.2 -2.8l0.6 5.8l0.3 -6.6l0.1 5.2l0.2 -5.2l0.7 2.5l0.1 2.8l0.2 3.2l0.4 -8l0.2 5.4l0.1 -3.1l0.5 -2.7l0.1 6.8l0.3 -3.7l0.1 2.7l0.2 0.6l0.5 -5.6l0.2 4.5l0.1 -5.5l0.8 7.6l0.2 -4.3l0.1 -0.4l0.1 3.1l0.5 -4.2l0.2 2.2l0.1 2l0.4 -3l0.1 3.6l0.5 -1.4l0.1 0.2l0.5 -3.8l0.1 6.4l0.2 -2.8l0.1 -3.9l0.7 5.8l0.2 -1l0.1 -3.5l0.6 6.1l0.4 -0.4l0.1 -1.7l0.5 -1.7l0.4 3.7l0.1 -0.7l0.2 -8.7l0.3 9.4l0.4 -2.5l0 2l0.3 -5.4l0.4 6.2l0.3 -4.3l0 -0.6l0.2 3.5l0.1 -5.1l0.6 3.3l0.1 3.6l0.1 0l0.1 -6.5l0.8 4.7l0 1.3l0.9 -6.8l0.1 4.9l0.1 0.8l0 -4.9l0.3 6.6l0.5 -2l0.1 2.5" fill="none" stroke="#0000ff" stroke-width="0.6" stroke-linejoin="round"/>
</g>
<g clip-path="url(#c22)">
<path d="M489.8 303.2l27 0.6l18.2 8l10.7 5.3l7.5 2.9l5.9 -1.3l4.7 0.3l4.1 2.8l3.5 2.6l3.1 2.6l2.7 2l2.5 -3.5l2.3 1.1l2.1 -3.7l2 2.2l1.8 1.4l1.7 1.9l1.6 -2.3l1.5 3.3l1.4 -2.6l1.3 3.4l1.3 -0.4l1.2 3.2l1.2 -5.8l1.1 4.3l1.1 0.8l1 -1.9l1 3l0.9 -2.8l1 3.5l0.9 -3l0.8 3.1l0.8 1.8l0.9 -1.9l0.7 1.9l0.8 -3.5l0.7 1.3l0.8 -0.6l0.7 1.1l0.6 1.1l0.7 -0.5l0.6 -1.7l0.7 2.6l0.6 1.4l0.6 0.6l0.6 -1.2l0.6 1.3l0.5 -4.9l0.6 6.1l0.5 0.1l0.6 -1.3l0.5 -1.7l0.5 2l0.5 1.5l0.5 -0.1l0.5 -0.7l0.4 -2.4l0.5 3.8l0.4 -1.6l0.5 1.1l0.4 -1.8l0.5 -0.1l0.4 3.7l0.4 -7.4l0.4 4.3l0.4 1.5l0.4 0.8l0.4 -1.2l0.4 -0.5l0.4 -1l0.4 1.2l0.4 -0.9l0.3 4.1l0.4 -1.6l0.3 0.6l0.4 -2.2l0.3 -0.6l0.4 3.8l0.3 -2.4l0.4 -1.7l0.3 -0.3l0.3 4l0.3 -3.2l0.3 0.4l0.4 1.6l0.3 -4.6l0.3 6l0.3 -1.6l0.3 -1.3l0.3 0.4l0.3 0.9l0.3 -3l0.2 -0.1l0.3 1.1l0.3 -0.1l0.3 2.1l0.3 2.2l0.2 -6.5l0.3 6.2l0.3 -6.2l0.2 4.7l0.3 -0.7l0.3 0.9l0.2 -2.2l0.3 2.9l0.2 -4.5l0.3 2.6l0.2 0.7l0.3 1.5l0.2 -1.6l0.2 0.6l0.3 -3.6l0.2 1.9l0.2 4.9l0.3 -6l0.2 7.7l0.7 -4.5l0.2 -1.6l0.2 1.7l0.2 2.1l0.3 -4.5l0.2 5.9l0.4 -6l0.4 2.2l0.2 -1l0.2 1.8l0.6 -0.5l0.2 -1.9l0.8 3.6l0.2 0.4l0.2 0.5l0.3 -5l0.2 3l0.2 4.1l0.9 -5.6l0.2 0.1l0.2 4.5l0.7 -4.9l0.1 -1.1l0.9 5.6l0.1 -1.7l0.5 0.5l0.3 -3.1l0.2 2.1l0.1 3.9l0.7 -3.2l0.1 3l0.2 -5.3l0.7 4.3l0.2 3.5l0.1 0.4l0.1 -9.4l0.6 4.7l0.2 -3l0.4 6.5l0.4 -4.7l0.1 0.2l0.7 -1.3l0.1 3.9l0.1 -2.1l0.2 0.8l0.6 1.6l0.1 -3.9l0.2 0.9l0.1 0.2l0.1 -0.8l0.4 4l0.4 -2.5l0.1 -0.8l0.5 -0.9l0.3 5.9l0.1 -3.6l0.3 4l0.6 -4.8l0.1 -0.2l0.2 3.6l0.7 -3.3l0.1 1.1l0.6 -1.7l0.4 7.9l0.1 -3.6l0.1 1.4l0.6 -6.8l0.1 2l0.1 -1.5l1 4.5l0.1 -4.9l0.8 6.3l0.1 -4.6l0.2 6.7l0.7 -5.8l0.1 -1.3l0.9 6l0.1 -4.6l0.1 1.4l0.4 5.2l0.5 -6.9l0.1 0.6l0.1 -3.3l0.6 8l0.2 -6l0 5.5l0.3 -5l0.3 6.3l0.4 -2.9l0 -0.3l0.6 -2.9l0.3 5.1l0 -0.3l0.1 -2l0.2 -2.5l0.3 5.7l0.5 -2.3l0 -2.4l0.1 4.5l0.9 -3.7l0.1 -1.1l0 -1.2l0.6 7.1l0.2 -2.1l0.1 -4.3" fill="none" stroke="#ff0000" stroke-width="0.6" stroke-linejoin="round"/>
</g>
<g clip-path="url(#c03)">
<path d="M122.4 403.9h0m-9.4 -7.6h0m6.9 5.1h0m-3.2 -3.6h0m-4.7 -3.7h0m9.2 9.7h0m-8.1 -9h0m9.8 8.7h0m-12.1 -11.4h0m9.4 8.1h0m-2 -1h0m-3.4 -0.9h0m-7.1 -6.4h0m5.2 2.1h0m17.4 14.2h0m5.1 3.7h0m-2.5 1.1h0m-4.3 -3.9h0m0.9 2.5h0m-4.9 -5.2h0m5.3 7.4h0m-3.5 -7.4h0m-1.8 -1.5h0m-0.1 1.6h0m1.7 2.7h0m-0.5 -5.3h0m5.2 8.1h0m45.9 15.5h0m-2.9 6.5h0m-3.3 -14.3h0m-0.3 2.4h0m-13.2 8.2h0m9.4 -6.5h0m-1.6 -10.7h0m13 11.7h0m-14 6.6h0m9.1 -3.7h0m-13 -1.7h0m17.3 -2.6h0m-1.7 -3.6h0m3.1 11.7h0m-25 -4.5h0m22.3 -7.9h0m-11.3 0.5h0m1.1 -3.7h0m1.1 17.6h0m-22 -5.5h0m24 2.5h0m-23 -10.3h0m26.9 5.2h0m-26.3 1.5h0m14.5 -12.2h0m9.9 10.3h0m-6.6 2.3h0m-21.5 -4.5h0m26.7 0.4h0m-9.1 10.3h0m0.6 -4.3h0m-11.1 1.3h0m1.3 5.3h0m27.6 -16.1h0m-9.9 -3.9h0m-0.5 1.4h0m5.5 19h0m-12.8 -14.9h0m-11.8 -3h0m19.7 9.9h0m-7 -9.4h0m-0.1 12h0m-17.3 -2.1h0m18 0.4h0m-20.9 -2.9h0m35.1 5.5h0m-16.1 -13.9h0m11.4 13.8h0m-3.7 -4.1h0m-5.1 0.5h0m-4.1 -18h0m-19.3 17.1h0m5.6 -16.2h0m8.6 19.5h0m6.7 -4.6h0m-0.6 6.1h0m11.2 -14.5h0m60.1 19.3h0m-37.3 -10.1h0m-6.8 11.7h0m22.5 -3.5h0m-5.8 -1.5h0m25.2 16.4h0m-7 -21.1h0m4.3 9.8h0m-14.3 -10.2h0m26.5 21.5h0m-42.8 -7h0m33.8 6.3h0m-4.9 10h0m14.2 -12h0m-0.9 -14.4h0m-15.5 -14.3h0m-1.4 2.9h0m-4.7 -2.1h0m-13.2 -0.7h0m27.1 -7.7h0m6 23.7h0m-13.9 -10.9h0m14.7 5.4h0m-27.8 28.3h0m1.5 -27.2h0m27.2 6.3h0m-0.9 -4.2h0m-13.2 7.9h0m1.6 2.9h0m-9.3 -4.7h0m-31.5 -15.3h0m32.7 5.1h0m21.3 -9.1h0m-14.9 29.5h0m10.3 -25.6h0m-31.9 -10.3h0m29.7 34.2h0m-4.9 -12.7h0m11.8 23.1h0m-25 4.5h0m8.1 -12.3h0m-10.8 -17.6h0m20.9 2.1h0m-40.7 -0.4h0m40.5 -4.7h0m3.1 4h0m-25.4 -20.1h0m7 36h0m-0.7 -5.9h0m20.2 1.9h0m-34.3 -7.2h0m35.3 6.1h0m-42.4 -34.7h0m-8.3 23.8h0m47.9 -3.5h0m-43.4 13.5h0m35.4 0.9h0m-2 -18.3h0m12.1 -0.1h0m-6.3 30.2h0m8.7 -43.8h0m-8.5 19.6h0m-15.1 10.2h0m22.5 -9.6h0m-44.8 4.3h0m37.5 17.5h0m-33.7 -24.7h0m7.3 -5.7h0m14.1 -1.3h0m5.4 32h0m-34.4 -15.6h0m30 -2.2h0m6 -13.1h0m-13.4 -4.3h0m7.4 19.8h0m14.3 13.2h0m-28.4 -25.8h0m8.7 12.1h0m-2.1 -10h0m-2 -6.9h0m-23.2 3.3h0m51.8 26.2h0m-23.4 -1.3h0m21.4 -21.2h0m-52.7 -8.2h0m12.9 20.5h0m-13.5 -6.6h0m2.3 3.8h0m-5.8 -7.4h0m48.4 15.9h0m-11.4 -26.2h0m21 6.5h0m-4.7 10.3h0m6.2 -12.9h0m-5.8 20.7h0m-8.6 -14.4h0m-35 8.5h0m8.5 -0.3h0m16.8 -15.3h0m-15 20.1h0m29 -1.6h0m-37.2 -0.3h0m33.7 9.3h0m-8.4 -16.3h0m1.1 -0.3h0m-25.1 10.9h0m38.7 -33.6h0m1.3 8h0m-18.6 24.6h0m3.3 -13.6h0m13.1 5.4h0m-31.4 2.4h0m28.7 14.3h0m-12.3 -18h0m15.3 5.5h0m-2.2 -16.9h0m-14.9 9.5h0m-2.1 11.9h0m6.6 -1.7h0m-5.5 -8.5h0m19.9 -7.9h0m0.9 26.4h0m-10.4 -19.5h0m-14.5 -13.6h0m14.4 33h0m9.5 -31.9h0m-7.3 22.1h0m-43.2 -12.3h0m11.9 5.7h0m26.1 -6.9h0m8.2 -25.6h0m-2.3 61.7h0m-32.9 -29.7h0m29.3 15h0m-2.1 -13.1h0m1.3 5.8h0m15.3 -1.6h0m-23.9 -7.9h0m9.2 -9h0m0.2 27.4h0m8.8 -8.6h0m-8.8 -8.6h0m-32.5 -16.5h0m36.1 33.1h0m-32.2 -9.4h0m19.9 -9.6h0m23.8 23.7h0m-13.3 -34h0m9.2 12h0m-9.7 4.9h0m-17.1 -3.7h0m14.6 -4.3h0m16.5 2.9h0m-12 14.3h0m-6.6 3.2h0m-13.5 -35.5h0m9.5 23.2h0m19.1 -22.9h0m-31.9 13.7h0m19.5 34.7h0m7.1 -31.7h0m-8 11.3h0m-2.2 14.4h0m-32.4 -28.8h0m48 21.1h0m-42.2 -18.6h0m28.3 -10.5h0m-26.9 1.7h0m43.8 13.5h0m-50.5 -1.4h0m26.3 8.2h0m17.4 -1.6h0m-13.3 -9.6h0m21.6 16.1h0m-38.5 -14.8h0m-0.4 -2.4h0m31.8 17h0m-1 -23.7h0m6.9 -2h0m-45.5 6.4h0m-9.7 8.2h0m16.4 12.4h0m38.4 19.8h0m-17 -36.8h0m-9.2 6.5h0m-5.7 7.7h0m-7.7 -13.9h0m34.9 -6.6h0m-45.2 1.2h0m44.8 22.3h0m-8.6 -48.2h0m-19.5 25.2h0m4.1 18.3h0m-20.7 -18.2h0m47.7 6.1h0m-7.8 -5.2h0m-37.3 -0.8h0m41.2 19.6h0m5.1 -10.2h0m-25.7 -3.2h0m7.6 -6.2h0m20.7 8.6h0m-10.9 4.4h0m-28.9 -33.6h0m4.3 28.5h0m6.8 1.3h0m23.9 -4.7h0m-51.7 -10.1h0m43.6 30.9h0m-20.3 -15h0m18.9 -5h0m-19.5 -3.4h0m-18.7 13h0m-1.1 -5.3h0m27 -6h0m-17.7 -6.9h0m40.8 3.1h0m-2.4 33.1h0m-7.1 -23.3h0m6 -0.4h0m-51 -3.6h0m27.9 3.7h0m15.4 11.3h0m9.8 -5.7h0m-6.9 21.5h0m-12.2 -43.3h0m-5.3 10.4h0m26 -10.5h0m-9.9 25.3h0m9.7 13.7h0m-39.4 -44.4h0m38 49.3h0m-17.9 -38.1h0m2.7 -6.8h0m-28.1 17.5h0m0 -10.7h0m39.9 21.6h0m-15.4 -20.1h0m12.2 -1.4h0m2.3 11.9h0m8.7 -0.6h0m-11.9 -27.8h0m11.6 34h0m-23.1 -22.8h0m16.2 24.5h0m-2.2 2.6h0m-14.2 -29.7h0m22.7 5h0m1.1 -1.1h0m0.4 -4.2h0m-8.3 32.3h0m4.1 7h0m1.8 -31.6h0m-9.2 -0.6h0m9.4 10.8h0m-11.3 -8.6h0m-10.9 14h0m9.6 5.5h0m-22 -14.3h0m36.2 0.5h0m-36.2 -7.4h0m-3.7 0h0m36.2 -2.7h0m-2.5 8.4h0m3 12.2h0m2 -26.1h0m-3.8 33.7h0m-6 -17.4h0m3.3 -19.3h0m4.6 -6.4h0m-33.3 8.1h0m6.1 20.2h0m18.5 19.5h0m-4.3 -15.7h0m15.2 -1.6h0m-22.6 -6.5h0m-23.5 7h0m20.7 -1h0m-8.3 -8.7h0m-7.5 -10.3h0m31.9 10.2h0m10.6 32.5h0m-8.4 -20.8h0m-34 4h0m28.1 -11.5h0m6.3 -3.5h0m-8.8 3.2h0m-19.1 -16.3h0m13 23.5h0m20.6 -1.7h0m-49.5 -4.4h0m1.7 -1.7h0m42.1 -11.6h0m3.9 32.6h0m-6.7 -36.6h0m8.7 4.1h0m-12.7 7.3h0m5.2 11.6h0m-8.9 -8.4h0m13.4 10h0m-47.8 -24.1h0m32.4 28.3h0m-1.6 -2h0m-20 -13.5h0m25.8 31.8h0m9.8 -42.7h0m-31.3 14.7h0m38 -5.4h0m-33.3 1.2h0m30.9 28.9h0m-53.7 -29.9h0m7.4 11.3h0m22.4 2.8h0m21.4 6.5h0m-6.4 -22.6h0m8.7 25.7h0m-13.5 -7.8h0m-26.3 -13.3h0m28 10.4h0m12.5 -23.1h0m-45.6 -4.1h0m12 12.3h0m25.1 1.4h0m8.3 26h0m-14.2 -5.7h0m9.8 -44.4h0m4.3 38.8h0m-5 -17.5h0m-29.6 14.9h0m25.8 -29.2h0m8.6 3.7h0m-50 11.8h0m42.9 -8.5h0m-30.9 34.7h0m17.4 -16.1h0m22.6 -9.5h0m-39.5 7.1h0m21.4 7.3h0m8.6 11.9h0m-22.4 -24.8h0m27.5 11.6h0m-30.9 5.6h0m-17 -9.8h0m52.8 -0.5h0m-30.3 -13.9h0m-9.2 6.6h0m-12.7 10.4h0m23.9 -3.5h0m24.3 7.4h0m-25.6 -20.1h0m28.1 24.7h0m1.3 -27.1h0m-41.3 5.2h0m33.4 -2.5h0m-13.7 17.8h0m13.2 -8.5h0m-27.5 -7.8h0m9.7 3.1h0m16.7 18.7h0m-5.5 -26.2h0m-0.2 32.8h0m-25.7 -22.3h0m38.7 -1.7h0m-51.9 -7.2h0m47.7 23.4h0m-20 -6.6h0m20.5 1.9h0m-19.1 3.9h0m14.2 2.8h0m8.5 1.4h0m-20.4 -6.2h0m-9.9 3.9h0m18.9 -12.4h0m11.9 26.9h0m-13.2 -25.5h0m-10.3 5.3h0m12.1 12.9h0m-34 -13.6h0m37.8 2.2h0m8 11h0m-0.3 -7.2h0m-27.1 -29.8h0m22 29.5h0m-11.1 -26.4h0m12.7 38.2h0m-11.2 -10.5h0m-17.2 -28h0m6.8 17.8h0m13.7 -24.1h0m-42.3 6.5h0m42.3 15.3h0m-36.9 -17.2h0m29.9 22.7h0m12.4 -2.4h0m-25.2 3.1h0m23.7 16h0" stroke="#000000" stroke-width="2.40" stroke-linecap="round" fill="none"/>
</g>
<g clip-path="url(#c03)">
<path d="M66 389.2h0m8.2 -0.9h0m4.6 2.4h0m-10.1 -3.1h0m7.4 0.2h0m-4.2 2.5h0m33.2 5h0m-2.3 -2.5h0m3.7 4.8h0m0 1.3h0m-7.3 -8.2h0m11.5 10.6h0m-1.2 3.1h0m43.5 8.4h0m-1.1 -6h0m1.5 2.7h0m11.6 1.8h0m0.1 -3.2h0m-21.3 11.7h0m-13.6 -11.9h0m13.4 -6.2h0m17.7 1.9h0m-19.1 14.5h0m-7.1 -15.2h0m20.4 4.6h0m2.6 8.7h0m-20.9 0.7h0m-8.4 -7.9h0m7.7 -8.6h0m4.3 5.7h0m6 9h0m7.4 -5.7h0m9.4 -5h0m-17.4 5.6h0m10.2 3h0m0.9 -5.5h0m-14.1 14.2h0m10.8 -14.3h0m11.2 11.6h0m-15.9 -11.5h0m12.2 3.9h0m-15.9 2.5h0m15.4 -1.1h0m-13.5 -8.1h0m12.9 13.9h0m-29.9 -5h0m8.2 -6.6h0m17.6 -1.6h0m-16.6 3.7h0m4.2 3.3h0m13.7 -6.3h0m-13.8 5.5h0m1.1 -14.6h0m16.5 5.6h0m-28 -5.4h0m-6.3 16.5h0m34.6 -0.3h0m16.1 -11.3h0m-5.3 17.2h0m2.7 -7.2h0m-8.6 -0.1h0m4.7 14.6h0m-3.3 -12.1h0m0.6 -2.4h0m6.2 -2.2h0m0.3 -10.1h0m-4.4 14.3h0m6.6 0.2h0m-0.8 -0.5h0m-2.2 -3.5h0m-2.9 -7.7h0m4.6 18.5h0m-6.2 -7.5h0m-0.5 17h0m-3.3 -5h0m10.1 -12.9h0m-7.9 16h0m2.6 -17.2h0m2 -6.8h0m0 15.2h0m3.9 -1h0m-9 -5.1h0m6.9 3.7h0m-1.2 -3.2h0m-4.2 4.5h0m1.3 -11h0m1.1 3.9h0m-4.1 2.7h0m-1.1 15.4h0m1.7 -10.9h0m3.6 -5.3h0m5.7 -4.6h0m-7.2 9.5h0m7.4 -10.5h0m-8.4 10.1h0m58.2 17.9h0m-15.1 -16.6h0m18 7.4h0m-48.8 -6.5h0m57 8.5h0m-13.5 4.9h0m-7.3 -0.6h0m3.1 -3h0m-18 -11.4h0m34.5 -5.6h0m-14.4 6.5h0m0.5 10.1h0m-25 -16.6h0m25.2 12.1h0m-12.3 1.1h0m10 0.8h0m9.8 9.3h0m0.5 4.4h0m-21.8 -8.6h0m26.6 -4.3h0m-9.1 10.5h0m-16.4 -10.1h0m-8.5 11.4h0m1 -23.8h0m12.8 15.8h0m-13.8 2.2h0m31.3 -10.4h0m4.4 5.6h0m1 8.9h0m-8 -23.5h0m-7.3 20.1h0m10.3 -9.4h0m-13.2 6.8h0m-34.6 -14h0m52.3 4.8h0m-42.8 7.3h0m-6.9 -0.5h0m44 -10.7h0m-7.5 6.9h0m3.4 -5.2h0m0.2 4.6h0m-7.9 -6.9h0m-29.2 1.2h0m33.2 11.8h0m13.8 -15.5h0m-14 11.9h0m11.5 -1.6h0m-5.5 -8.3h0m-24.6 13.5h0m31.5 -3.2h0m-3.4 1h0m-0.5 1h0m-41.7 2h0m43.9 18.7h0m-7.3 -16.9h0m-1 -14.1h0m-32.6 5.5h0m38.5 6.6h0m-1 -2h0m-21.7 -10.6h0m-10.8 6.8h0m30.3 4.6h0m-25 -8.9h0m14.4 -3.2h0m12.3 6.7h0m1.1 16.8h0m-30 -4h0m32.3 -9.6h0m-9.6 3.9h0m-28.9 -9.2h0m28.9 -1h0m-7.2 -17.4h0m18.3 31.8h0m-36.4 -12.8h0m24.8 -14.8h0m-3.6 24.6h0m16.2 -9.3h0m-2.2 13.4h0m-12.8 -20h0m12.8 17.1h0m-9.7 -11.8h0m-28.3 -4.3h0m-2.4 9.4h0m23.6 10.5h0m18.3 -2.9h0m-4.6 -8.4h0m4.1 -2.9h0m1.2 -1.8h0m-5.6 13.1h0m-13.7 -19.6h0m-8 6.3h0m22.7 6.2h0m0.6 5.1h0m4.1 3.4h0m-9.3 8.7h0m7.2 -12.3h0m-24.1 -19.1h0m9.7 7.1h0m-20.3 12.9h0m34.2 -10.8h0m-1.2 13.9h0m2.6 -25.7h0m-33.3 -6.7h0m25.9 19.7h0m-44.9 2.5h0m11.3 -13.5h0m29.1 9.9h0m6.3 -0.3h0m-1.9 1.9h0m-32.2 4.1h0m17.6 -8.5h0m8.7 -3.9h0m-42.6 4h0m46 8.9h0m-1.1 -8.6h0m13.3 -1.2h0m-17.7 8.8h0m17 9.6h0m-11.5 -14.4h0m-21.1 -0.5h0m28.7 -11.5h0m-20.3 3h0m-2.5 26.1h0m12.2 -14.5h0m-6.9 13.1h0m16.5 4.4h0m-26.4 -15.5h0m1.1 0.8h0m20.1 1h0m-44.8 -8.9h0m33 11h0m18.4 -1.8h0m2.8 -0.2h0m-7.7 -10.2h0m-24.9 21.3h0m11.5 -17.8h0m3.5 19h0m15.4 -1.1h0m-25.8 -17.5h0m22.7 2h0m-11.9 -0.8h0m10.9 4.2h0m-1.5 -1.2h0m6.6 7.4h0m-6.3 -8.3h0m-20.4 -11.4h0m10.6 28.5h0m-0.8 -14.7h0m-15.8 2.2h0m33.1 10.5h0m-31 -13.7h0m7.4 -0.6h0m25.3 24.6h0m-9.2 -5.6h0m5.7 -17.6h0m-53.9 -4.2h0m48.2 -8.2h0m-10.5 13.5h0m19.3 -11.3h0m-2.1 13.1h0m-7.8 5.2h0m4.1 -6.3h0m-36.4 -5.9h0m31.3 22.7h0m10.7 -22.5h0m-10.2 0.2h0m-36 -5h0m28.2 -7.3h0m12.3 15.2h0m-11.7 -0.7h0m17.3 -7.2h0m-23.3 -3.5h0m-29.5 8.2h0m32.5 4.9h0m18.9 3.3h0m-5.1 0h0m1.6 -12.5h0m-13.3 9.6h0m7.6 -8.2h0m2.8 11.8h0m-8.9 -15.2h0m6.7 9h0m-2.4 -11.9h0m-7.1 5.5h0m6 2.4h0m3.6 7.5h0m10.4 -7.9h0m-57.5 -5.8h0m54.5 -3.1h0m-9 12.3h0m-25.8 8.7h0m37.8 -5.5h0m-5.4 -3.1h0m-19.1 1.4h0m-0.6 -4.8h0m-20.5 7.2h0m21.5 -3.7h0m7.5 0.5h0m-10.6 -4.5h0m-17.5 4.7h0m-5.2 -3.7h0m30.1 0.2h0m9.2 5.5h0m7.4 8.5h0m-19.5 -23.6h0m11.3 21.2h0m1.9 -29.8h0m-27.7 20h0m27.6 -9.5h0m-7.4 13.7h0m15.1 -3.6h0m-25.6 1.4h0m-16.6 5.2h0m28.3 -2.9h0m-32.8 3.8h0m48.4 -18h0m-3.2 19.6h0m-29.5 -24.7h0m16.4 17.1h0m15.6 14.3h0m-54.1 -34.5h0m49.1 10.5h0m-33.1 10h0m30.5 -9.8h0m-10.9 18.4h0m-12.6 -8.1h0m30 -9.5h0m-35.1 -10.4h0m26.9 23.1h0m-13.4 -0.4h0m23.6 -11.3h0m0.1 14.3h0m-32.3 -13.5h0m32.9 1.6h0m-13.5 1h0m-29.5 -6.4h0m22.6 -3.2h0m7.3 18.4h0m7.1 -7.1h0m-0.2 10.8h0m-16.9 -22h0m-10.2 11.3h0m15.3 -2.1h0m13.6 8.2h0m-5.2 -10.6h0m7.7 4.6h0m-3.2 1.3h0m-11 25.9h0m8.6 -30h0m-42.7 -2.1h0m29.2 33.5h0m-0.1 -33.5h0m18.6 -0.7h0m-27.2 10.8h0m-11.3 0.7h0m18.1 3.1h0m-18.5 -1.8h0m28.8 5.8h0m-2 -21.3h0m3 10.1h0m3 10.3h0m4.8 -13.9h0m-24.2 6h0m-9.4 -1.9h0m7.7 -4.8h0m-3.1 13h0m25.3 -0.5h0m-7.8 -7.7h0m14.7 -11.1h0m-11.4 6.6h0m7.3 -4.2h0m-0.1 -0.7h0m-19 -1.3h0m-11.1 5.5h0m20.2 -8.3h0m-2.4 16.8h0m11.6 1.3h0m-16.7 -11.5h0m7.4 12.4h0m-7.5 -3.6h0m-5 -12.9h0m26.2 1.8h0m-15.8 21.9h0m-3.5 -24.3h0m-8.3 -4.1h0m9.4 20.4h0m-13.8 6.3h0m29 -20.9h0m-7.4 19.2h0m-21.6 -7.7h0m31.9 2.8h0m-21.6 -17.4h0m-21 -1.2h0m28.3 25h0m13.1 0.1h0m-15.2 -17.9h0m-19.6 20.5h0m-2.6 -17.7h0m25.4 -3.5h0m-8.8 5.9h0m16.5 16.9h0m-0.1 -27.2h0m-27.4 5.3h0m24 9.5h0m0.7 1.1h0m1.9 7h0m-47.2 -10.3h0m25.1 -1.8h0m24.4 3.7h0m-25.2 4.8h0m22.5 -19h0m-11.5 17.3h0m-1.5 -10.6h0m3.3 -11.2h0m-2.9 0.9h0m-19.3 4.5h0m14.6 8.3h0m15.5 7.4h0m-14.7 -11.2h0m9.6 10.8h0m6.9 -11.3h0m-20.1 -5.1h0m7.6 10.7h0m-25.4 2.5h0m27.8 6.6h0m7.4 -7h0m-1.2 -12.3h0m-7.5 22.9h0m-32.5 0.9h0m30.6 -15.2h0m-35.4 1.5h0m42.5 -7.5h0m11.8 18.8h0m-14.1 -16.1h0m10.6 -11.8h0m5.5 17.2h0m-7.3 3.9h0m-31.8 -3.7h0m6.5 3.2h0m32.1 -6h0m0.3 4.7h0m-26.6 -19.4h0m21.6 23.6h0m2 -16.9h0m1.7 0.6h0m-54.7 13h0m38 4.3h0m12.1 -15.1h0m-15.7 4.6h0m-3.6 8h0m20.7 17.6h0m-2.3 -19.9h0m-38 -20h0m18.4 32.6h0m11.2 -20h0m14.8 3.9h0m-54.8 -0.4h0m20.5 -5.1h0m19.4 6h0m-6.2 -13.4h0m-4.1 17h0m10 -4.3h0m-8.6 -7.6h0m8.6 3.3h0m13 7.8h0m-21.1 -20.1h0m-4.7 24.2h0m-15 -13.5h0m-2.6 -6.2h0m14 0.6h0m17.4 5.2h0m-27.9 0.1h0m43.1 13.3h0m-34.6 -15.1h0m-11.7 2.5h0m16.2 -6.3h0m9.5 8.1h0m8.3 -1.8h0m7.3 2.4h0m-5.3 25.8h0m-16.8 -23.8h0m3 -0.7h0m-21 3.9h0m41.4 -6.2h0m-7.4 10.5h0m6 12.3h0m-25.8 -4h0m24.3 3.1h0m-31.9 -12.8h0m-0.5 3.9h0m37.7 -3.6h0m-4.1 -14.7h0m-3.3 10.4h0m-30 -11.5h0m4.3 16.7h0m30.6 -28.2h0m-33.8 26.9h0m35 0.1h0m-14.1 12.5h0m-40.9 -27.5h0m49.4 8.5h0m-30 -6.6h0m31.9 29.1h0m-24.1 -35.6h0m-18.4 10.7h0m40.9 -2.6h0m-32.5 11.7h0m36.6 -3.5h0m-6.3 -8.8h0m-17.5 16.4h0m22.2 -26.1h0m-21.1 2.8h0m21.4 13.6h0m-23 -1.3h0m7.7 -7h0m10.3 16.6h0m-29.1 -5.8h0m15.8 -6.9h0m-17.3 -1.3h0m36.8 -0.5h0m-7.6 3h0m-37.5 -3.9h0m19.4 8h0m-27.6 -15.9h0m36 24.2h0m3 -11.7h0m9.4 -8.9h0m4.5 6.2h0" stroke="#0000ff" stroke-width="2.40" stroke-linecap="round" fill="none"/>
</g>
<g clip-path="url(#c03)">
<path d="M149.4 419.8h0m-3 1.1h0m-1.5 10.1h0m18.1 -2.8h0m-0.1 4.1h0m-21.3 4.5h0m7.1 -5.1h0m10.1 2.7h0m0.9 -4.8h0m-6.5 -2.5h0m1.2 6.1h0m6.1 -9h0m-7.3 15.3h0m11.6 -7.8h0m-15.5 -1.3h0m-7.3 14h0m5.5 -16.9h0m-8 -0.6h0m24.6 -6.9h0m-5.6 12.1h0m-13.1 -4.5h0m-6.8 -0.3h0m24.1 15.7h0m-11.4 -13.3h0m-5.4 12h0m-1.8 -14.9h0m-3.9 3.1h0m-2.4 16h0m-0.6 -24.1h0m36.1 15.4h0m-5.1 -4.4h0m7.7 -14.7h0m2 13.2h0m-11 -6.4h0m1.5 -10.7h0m8 10.1h0m-9.8 0.4h0m8.7 0.9h0m0.7 -11.2h0m1.8 13.4h0m-4.2 4.1h0m-2.3 -10h0m-4.2 -11.9h0m2.7 9.6h0m-1.7 -9h0m5.2 2.4h0m-7.3 17.9h0m10.2 -9.1h0m2.6 1.3h0m-10.9 -0.9h0m7.1 -9.3h0m2.8 -1.4h0m-8.7 5.1h0m8.9 -3.6h0m-2.1 13.8h0m0.3 -10.8h0m-6.6 14.2h0m7.1 1.5h0m-2.8 -6.3h0m-6.7 -9.1h0m7.7 15.7h0m-3.2 -11.7h0m5.9 -4.5h0m-6.6 5.5h0m3.4 -0.8h0m-0.8 0.3h0m-5.9 1.6h0m59.2 2.9h0m7.1 5.2h0m-7 -14.2h0m3.2 -2h0m-19.6 13.2h0m9.1 -12.6h0m8.6 9h0m-12 -12h0m17.7 2.6h0m1.5 15.4h0m-53.5 -15.2h0m38.6 8.5h0m-12.5 9.3h0m20.8 -12.2h0m8.1 6.2h0m-24.6 4.4h0m3.1 -14h0m4.7 2.5h0m3.5 7.7h0m-0.8 -5.6h0m0.4 10.2h0m11.4 -10.9h0m-19.7 11.6h0m9.3 -4.3h0m-19.3 -2h0m12.1 -7.7h0m4.8 -4.5h0m16.2 17.4h0m-5.5 -13.3h0m-22.1 2.3h0m27.2 -5.9h0m-3.5 6h0m1.8 9.2h0m-3.2 -5.2h0m-32 9.2h0m13.6 -15.8h0m-17.3 -1h0m32.1 -0.1h0m4.2 5.4h0m-23.6 -1h0m15.7 9.3h0m-37.4 -9.7h0m32.8 8.6h0m-35.9 -10.7h0m20.6 3.4h0m23.5 -0.5h0m8.8 15.4h0m-3.5 -14.3h0m-4.3 10.6h0m-10.8 -15.7h0m-21.9 5h0m38.2 4.9h0m-3.2 -4.6h0m-1.8 0.2h0m-22.3 0.5h0m5.1 2.7h0m3 6.1h0m13 -3.2h0m1.1 3.9h0m-15.6 -16.3h0m16.9 -0.9h0m-25.1 2h0m29.9 7.5h0m-12.7 0.9h0m-26.9 -5h0m14.1 -4.3h0m11.9 6.6h0m-8.6 5.6h0m15 6.3h0m-3.8 -16.9h0m-3.9 -0.7h0m10.2 6h0m-23.4 5.9h0m0.7 -17.4h0m26.5 4h0m1.7 -0.6h0m1 6.2h0m-5.3 8.4h0m-44.9 -4.6h0m25.5 -2.9h0m20.4 -5.8h0m4.5 0.3h0m-57 8.7h0m54.5 -6.2h0m-22.3 1.4h0m9.6 -3.9h0m0.6 17h0m-34.2 -9.6h0m39 3.1h0m-1.5 1.3h0m9.7 -18.6h0m-20.5 11.7h0m-28.1 8.9h0m50.3 -3.4h0m-0.7 -1.8h0m-15 -3.9h0m14.6 -1h0m-25.7 -7.8h0m9.2 13.1h0m-9 -9.5h0m25.6 5.4h0m-34.6 -2h0m-10 1.2h0m26.4 0.2h0m-17.2 8.2h0m34.6 -12.2h0m1 9.6h0m-45.4 6h0m36.6 0.4h0m-11.8 -11.8h0m-22.3 -1.8h0m33.1 4.4h0m8.7 9.7h0m-9.4 3h0m6 -8.7h0m-6.8 6.5h0m-7.3 -7h0m-16.8 -10.9h0m32.1 8h0m-24 -1.1h0m0.6 -2.5h0m-2.8 -11.3h0m26.9 15.4h0m-28.8 -3.2h0m31.4 1.6h0m-11.3 -5.9h0m-13.7 6.3h0m6.4 4.7h0m-1.1 -15.1h0m-9.9 12.8h0m23.3 12.4h0m0 -14.7h0m3 -1.4h0m-13.5 -1.8h0m17.8 -1.1h0m-10.2 4.4h0m-36.5 0.9h0m8.5 -9.9h0m16.7 23.3h0m7.2 -14.6h0m5.7 4h0m-0.9 -14.9h0m-17.6 10.9h0m-12.4 2.5h0m26.9 -3.1h0m-3.1 9.6h0m16 -19.4h0m-17.1 9.5h0m-29.6 5.9h0m40.1 -8h0m-45.3 2.6h0m18.4 -15.5h0m29.3 13.8h0m3.7 -3.5h0m-33.5 10.4h0m32.6 -8.5h0m-2.1 -5.4h0m-0.2 9.7h0m-38.6 4.4h0m32.1 1.2h0m6.3 -8.7h0m-5.4 1h0m-1.2 -4.8h0m-8.6 5.6h0m-1.4 0.8h0m10.4 -1.7h0m-32 -4h0m35.8 0.8h0m-7.4 7.4h0m-31.9 -8.2h0m25.6 8.4h0m-16.6 -2.9h0m22.3 -2.3h0m14.1 -0.6h0m-12.5 -0.1h0m-32.2 5.5h0m37.5 -7.2h0m1.8 0.5h0m-16.4 7.1h0m-27 -4.1h0m19.6 6.3h0m-10.1 3.7h0m11.2 -10.2h0m7.4 2h0m-24.1 12.7h0m39.2 -25.4h0m-15.5 8.1h0m12.2 1.4h0m-4.5 -4.6h0m-27.8 4.4h0m40.9 -3.1h0m-38.8 1.5h0m22.6 1.8h0m-20.7 -2.6h0m-3.3 9.6h0m40.2 -3h0m-5.1 0.8h0m5.2 -2.2h0m-13.8 -3.6h0m-38.1 -3h0m30.8 1.9h0m5.2 8.5h0m-5.5 -2.7h0m7.1 8.3h0m-34.9 -10h0m41.1 -10.2h0m-7.5 6h0m-27.4 2.4h0m-3.5 -1.3h0m21.1 12.8h0m4.9 7.1h0m15.5 -11.6h0m-1.4 5.1h0m-7.1 -9.7h0m-20.8 3.8h0m32.7 -10.6h0m-29.3 -0.5h0m-20.4 -4h0m47.3 4.7h0m-13.6 0.3h0m-28.2 12.3h0m41.5 -3.5h0m-22.1 -7.1h0m1.2 8.3h0m-15.3 -5.7h0m-10.1 0.7h0m24.5 -2.4h0m-14.4 9.9h0m21.9 -5.5h0m-2 5.8h0m10.8 0.3h0m-33.5 -16.8h0m39 11.3h0m-28.4 -12.6h0m9.2 11.9h0m15.3 -5.9h0m8.4 7.7h0m-35 -13.6h0m19.5 15.8h0m-14.1 6.2h0m12.3 -6h0m-31.5 -8.3h0m35.9 19.6h0m-1.5 -13.7h0m-9.4 -8.5h0m4.2 4.8h0m-11 2.7h0m29.1 -6.6h0m-50 18.6h0m51.1 -24.9h0m-59.3 15.8h0m23.2 3.2h0m23.9 -21.4h0m-5.5 23h0m-36.2 -15.3h0m34.8 4.7h0m18.4 1.5h0m-47.9 -5.6h0m8.9 7.6h0m32.4 -4.2h0m-4 -5.6h0m-7.1 -2.4h0m18.9 0.7h0m-38.5 11.5h0m32.5 -0.4h0m-0.7 10.4h0m-23.4 -12.1h0m12.5 0.1h0m-42.2 -2.7h0m2.7 -3.7h0m47.1 10.8h0m-38.6 7.5h0m-7.9 -23.8h0m24.1 33.8h0m24.4 -27.8h0m2.2 -2.6h0m-27.6 15.7h0m20.6 -0.8h0m-8.8 0.9h0m19.9 2.9h0m-32.4 -10.3h0m-0.9 -2.7h0m24.9 4.4h0m3.2 -5.4h0m-18.5 13.8h0m22.6 -19.8h0m-37.4 9.4h0m28.3 10.3h0m-23.5 -9.2h0m-14.5 -9.7h0m45.1 -2.1h0m-20.9 18.7h0m15.5 -5.4h0m-4.9 -15.3h0m10.7 23.7h0m-47.5 -21h0m43.3 31.5h0m1.5 -13.6h0m-30.8 -15h0m28 20h0m-13.6 -9h0m-1.2 -13.9h0m-28.6 9.8h0m34.2 11.8h0m-14.4 -12.1h0m25.9 6.1h0m-5 -0.1h0m-23.8 -25.6h0m9.8 14.9h0m2.1 -10.3h0m21.1 26.2h0m-31.4 1h0m-24.4 -18.8h0m13.3 12.7h0m42.2 -17.7h0m-1.4 3.7h0m-9.5 13.4h0m7 -11.9h0m-4.9 5.6h0m0.5 4.3h0m3.1 -3.3h0m-36.6 10.3h0m0.2 -21.2h0m8.4 -1.9h0m-0.7 12.3h0m1.7 11.6h0m22.9 -14.1h0m-45.6 5.8h0m5.4 -7.6h0m48.6 19.2h0m-28.4 -20.9h0m-11.3 1.7h0m36.3 8.1h0m-12.3 4.8h0m10.3 -16.3h0m-7.2 11.1h0m-1.9 2.8h0m3.1 8.2h0m13.7 0.6h0m-0.2 -18.7h0m-8.7 12h0m-0.1 -0.8h0m-3.4 -15h0m-26.1 -0.5h0m33.6 14.6h0m-5.1 -4.6h0m-27.1 12.1h0m9.1 -22.3h0m-17.5 -0.9h0m29 18.9h0m-16.7 -3.6h0m21.8 -18h0m-22.2 4.7h0m29 10.4h0m-23.4 16h0m19 -24.5h0m-23.8 9.3h0m-12.6 -2.5h0m0.6 -5.6h0m44.7 5.6h0m1 4.8h0m-31.2 4.3h0m31.5 -3.4h0m-8.3 -13.8h0m-20 10.5h0m-6.9 1h0m-20.8 -10.7h0m20.7 8.1h0m16 -1.6h0m17.2 7.6h0m-18.6 -8.9h0m9.4 9.3h0m6.2 2h0m-23.4 -17.2h0m-27.9 18.2h0m55.8 -16.2h0m-40.5 12.8h0m2.9 4.3h0m22.7 -15.4h0m1.9 10h0m12.6 0.8h0m-40.9 -4.7h0m30.4 -11.9h0m4.2 10.5h0m-3.3 2.4h0m-13.3 -12.6h0m-1.3 12h0m3.6 11.4h0m-31.4 -4.8h0m45.3 -7.5h0m4.8 -13h0m-37.2 19.2h0m22.5 -6.7h0m13.1 6.2h0m-7.9 -0.7h0m13 -15.5h0m-25.7 -0.5h0m24.5 18.9h0m0.7 -20.2h0m-40.3 2h0m41.1 19h0m-3.9 -10.8h0m-14.7 -7.3h0m-9.6 7.5h0m0.4 -6.2h0m-17.9 10.6h0m40.3 8.9h0m-7.1 -9.6h0m-14.7 3.6h0m13.5 -8.4h0m-20.6 -3.5h0m28.8 10.2h0m1 1.6h0m0.4 4.4h0m-33.2 -17.7h0m36.9 10.7h0m-11.6 -9.7h0m-35.7 -9.8h0m15.8 11.5h0m21.7 -4.2h0m2.8 18.8h0m-38.3 -8.1h0m1 -8.7h0m-12.9 2.9h0m51.2 -10.9h0m-15.6 5.7h0m13.2 14.9h0m-14.8 5.6h0m7 -5.2h0m-42.1 -4.8h0m47.4 -5.8h0m4.5 6.4h0m-31.5 -4.9h0m38.1 7.4h0m-55.1 -13.7h0m38.7 -4.9h0m-38.2 16.4h0m51.3 -19.7h0m-1.8 25h0m-18.4 -7.5h0m-14.7 3h0m-2.7 -15.6h0m17.4 10.7h0m-34.5 10h0m52.9 -15.8h0m-39.7 6.5h0m41.4 -4.4h0m-14.4 12.7h0m-4.2 -13.4h0m-1.1 -0.1h0m-21.5 12.9h0m43.5 -24.7h0m-26.4 25.8h0m-10.1 -11.5h0m28.1 11h0m-36.8 0h0m25.7 -17.6h0m-7.7 0.5h0m-26.4 7.3h0m50.2 -11.9h0m-22.2 23.3h0m-3.4 -5.1h0m-1.7 2.5h0m22 -12.6h0m2.6 7.1h0m1.9 -16.2h0m-41.9 12.9h0m38 -4.9h0m-22.5 1.2h0m31.1 -8.4h0m-27.4 0.9h0m-2.2 2h0m27.5 10h0m-10.6 2.3h0m-28.6 0.4h0m32.6 -10h0m-37.4 6.2h0m46.1 6.2h0m-21.7 3.3h0m-18.8 2.2h0m31.8 -6.8h0m0.2 9.5h0m-16.5 -10.2h0m18.3 3.6h0m-48.9 -3.9h0m13 6h0m39.6 -2.9h0m0.2 -2.8h0m-52.9 -4.1h0m3.8 4h0m49.9 -9.4h0m-18.4 11.1h0m-7.9 -13.9h0m-19.9 11.8h0m38 -7.2h0m-19.1 9.3h0m18.4 -6.6h0m3.4 -6.2h0m5.9 5.9h0m-38.2 -7.6h0m-18.8 2.9h0m59.2 -10.5h0m-27.8 14h0m-2.6 11.7h0m23.4 -20.3h0m-11.5 4.4h0m15.3 1.4h0m-29.9 -9.7h0m-25.9 24.8h0m54.8 -12.6h0m-46.7 13.9h0m43.5 -13.7h0m-21.8 0.6h0m-15.9 20.5h0m11.7 -6h0m30.4 -14.9h0m-10.5 4h0m-6.6 1.4h0m-23.6 -1.1h0m32.4 8.5h0m-26.7 -18.7h0m-9.3 12.8h0m-0.6 5.6h0m14.3 -23.6h0m-25 12.4h0m38.7 16.2h0m-10.2 -11.1h0m-23.9 0.7h0m7.8 8.8h0m-6.1 -6.3h0m37.5 -7.2h0m-6.8 5.9h0m16 -5.2h0m-26.3 4h0m-24 -7h0m29.7 -8.4h0m2 11.6h0m14.9 -10.4h0m-9 5.5h0m18.5 22.1h0m-2 -6.7h0m-14.9 -16.9h0m11.2 3.9h0m-3.2 3.4h0m-8.1 0.3h0m10 5.6h0m-10.8 -8.1h0m-6.4 5.4h0m-10.3 1.7h0m-6.2 -5.5h0m-4 -7h0m25.1 -2.2h0m5 29.9h0m5.1 -5.6h0m-14.3 -16.1h0m-21.8 -10.8h0m27.8 18.6h0m8.5 -9.8h0m-37.2 -9h0m13.3 9.6h0m24.8 -8.6h0m-8.6 6.1h0m-4.9 11.9h0m-15.3 0.3h0m-8.6 -8.6h0m27.8 -8.5h0m-25.6 9.9h0m34.3 11.1h0m-21.5 -14.2h0m-2.2 -2.3h0m21.4 4.5h0m-39.7 -5.6h0m40.5 -2.9h0m8.1 14.2h0m-4.4 -0.8h0m-28.8 -4.9h0m24.6 2.7h0m-24.2 -7.7h0m21.1 -1.2h0m-10.6 1.7h0m-18.7 11.8h0m9.9 -9.8h0m31.1 8h0m-4.6 9.7h0m-32.9 -18.8h0m19.2 8.1h0m0.3 -3.7h0m-20 14.8h0m27.3 -33.8h0m-11.2 17.1h0m-7.2 6h0m-3 -17.3h0m15.2 6.6h0m-11 -2.1h0m15.4 10.7h0m-35.4 2.3h0m24.7 2.6h0m-14.8 -4.8h0m40.4 6.3h0m-45.4 -13.5h0m42.6 -8.9h0m-20.8 12.3h0m-24.3 -5h0m20.8 9.2h0m2.1 -17h0m-25 -1.8h0m21.7 12.3h0m20.4 7.9h0m4.5 6.2h0m-28.9 -3.6h0m9.6 -8.6h0m-24.2 -1.9h0m-12.7 -8.3h0m41.7 9.1h0m4.4 12.1h0m-1.5 8.4h0m3.7 -7.7h0m-39.2 0.9h0m2.9 0.1h0m42.4 7.1h0m5.9 -12.9h0m-36.3 4.3h0m-6.9 -4h0m2.7 4.6h0m2.5 -7.6h0m13.2 -6.9h0m-6.7 -6.9h0m-19.3 15.1h0m36.4 -3.4h0m-15.1 18.6h0m-22.8 -10.1h0m8.2 -10.2h0m29.1 13.6h0m-6.3 -3h0m-9.8 -14.9h0m23 14h0m-41 -1.6h0m-9.6 -5h0m39.8 -12.2h0m-5.9 6.9h0m-4.8 13.7h0m-14.3 5.4h0m8.1 -30.7h0m-5.9 0.2h0m28.3 10.8h0m4.9 -2.9h0m-5.5 11.5h0m-24 0.3h0m13.9 3.8h0m21 -24.6h0m-15.1 12h0m-28 -10.7h0m26.8 22.7h0m-34.7 -0.9h0m47 -15.3h0m-7.9 3.1h0m-32 9.1h0m12.5 -2.3h0m2.5 13.7h0m-6.2 -6.8h0m-21.7 -18.8h0m44.2 -0.4h0m3.8 4.5h0m7.6 21.5h0m-40.4 -15.4h0m19.1 15.4h0m13 3.4h0m-38.5 -3.2h0m35.3 -4.7h0m-1.1 -18.9h0m-41.3 13.1h0m50.7 4.2h0m-36.3 -13.7h0m-12.2 -0.8h0m29.9 18.4h0m5.3 -20.7h0m-1.8 18.1h0m-17.4 -2.7h0m36.7 1.6h0m-40.4 -8.3h0m9.1 -2.4h0m8.8 1.8h0m-31.4 -5.8h0m6.4 -7.6h0m15.6 0.9h0m12.5 3.4h0m-28.7 15.6h0m12.9 -14.6h0m-11.3 14.9h0m30.7 -10.4h0m-4.2 -3.9h0m21.7 16.1h0m-26.5 -13.4h0m16.5 19.7h0m-30.4 -14.4h0m25.5 -6.7h0m6.3 16.9h0m-21.6 -6.3h0m24.4 -11.6h0m-48.8 2.9h0m43.3 -5.9h0m4 -4h0m-47.7 11.2h0m31.5 5.6h0m8.3 -3.6h0m-23.1 -5.6h0m-19.9 -1.3h0m32.5 5.6h0m-2.1 13.7h0m14.8 -29.9h0m-15.8 20h0m-23 2.3h0m12.3 -16.1h0m18.6 12.4h0m6 6.6h0m15.8 2.9h0m-26.5 -3h0m-11.1 -3.2h0m4.2 -0.3h0m-9.4 -0.9h0m-7.7 -2.4h0m4.9 1.5h0m21.4 0.5h0m9.4 10.7h0m-10.1 -3.6h0m-33.3 -10.2h0m54.1 5.1h0m-25.7 -3.3h0m7.6 11.5h0m-6.4 -23.4h0m26.5 0.1h0m-29.7 -2.8h0m-10.2 20.2h0m-12.7 -24.7h0m-3.1 8.5h0m6 13.3h0m19.8 -2.1h0m-19.1 13.8h0m4.2 -20.6h0m27 0.5h0m12.8 -9.8h0m-10.2 6.4h0m-31.3 11.9h0m46.2 -13.9h0m-10.9 8.3h0m-1.2 -2.1h0m-0.7 12.8h0m-6.7 -6.2h0m-22.4 8.2h0m37.2 -12.5h0m-19.6 -6.4h0m-15.7 26.4h0m41.2 -3.8h0m-26.8 -7.9h0m16.7 -6.5h0m-6.6 -19.7h0m-4.7 26.9h0m-20.9 2.8h0m-4.4 -18.5h0m42.7 2.2h0m-8.3 -2h0m-5 -6.3h0m3.2 11.5h0m-38.2 4.8h0m15.6 1.9h0m10.8 15.8h0m-10.8 -22.1h0m24.6 -4.8h0m13.7 20.6h0m-29.9 -17h0m-13.9 2.1h0m26.8 -5.5h0m-19.1 5.8h0m-16.5 12.6h0m33.9 -6.3h0m-19.2 -16.3h0m0.5 1.8h0m0.3 9.7h0m13.3 6.9h0m22.4 5.5h0m-1.3 -24.8h0m-49.8 14.4h0m4.3 -6h0m39.5 20h0m-0.5 -20.2h0m9.5 4.1h0m-28.4 10.1h0m5.1 -13.4h0m-0.1 14.4h0m-16.5 -21.4h0m4.2 8.5h0m-16.7 -12.2h0m38.5 26.4h0m-19.2 0.4h0m-22.5 -19.4h0m49.4 17.2h0m-33.8 -9.2h0m-18.5 -1.8h0m51 11h0m-17.7 -9.2h0m19.2 12.9h0m-48.2 -24.1h0m21.9 18.7h0m5.3 -9.6h0m15.9 -12.1h0m-15.9 24.7h0m-32.8 -9.1h0m41 3.7h0m16.2 13.7h0m-17.8 -9.4h0m-37 -21.3h0m3.8 -0.6h0m17.3 21h0m2.6 -5.2h0m-0.1 7.3h0m16.6 -7.1h0m-35.3 1.3h0m3.2 -17.5h0m-1.3 13.8h0m13.6 0.9h0m17.1 -13.6h0m6.4 15.6h0m-5.7 -1.5h0m-28.1 -10h0m5.1 -6.3h0m38.3 7.4h0m-18.7 5.8h0m20.1 21.1h0m-26.7 -21.2h0m-24.4 13.2h0m22.8 -4.5h0m-17.6 -7.2h0m14.2 6.4h0m-2 5.9h0m0.2 -26.1h0m13.9 -1.7h0m-9.3 5.7h0m-22 8.4h0m4.3 -3.2h0m33.7 -6.5h0m10.4 25.1h0m-50.5 -9.5h0m49.5 -18.6h0m-12.6 25.6h0m1.1 0.8h0m2.8 -5.5h0m-11.1 -12.3h0m-12.4 0.5h0m24.9 -7.9h0m-2 -4.8h0m11.9 5.6h0m-55.9 14.1h0m4.2 -15.5h0m0.7 3.6h0m54.4 9.7h0m-15.3 5.7h0m2.3 7.7h0m-33 -13.9h0m0.1 -10.2h0m21.2 21.8h0m-2.9 -21.6h0m-21 16.2h0m35.6 -14.4h0m-40.7 -2.8h0m22.6 15.4h0m-8.1 -12.2h0m11 -5h0m27.4 18.9h0m-33.8 5.2h0m-12.5 -14.6h0m24.8 -1.9h0m-2.6 13.9h0m11.4 -0.7h0m3.5 -25.4h0m-2.3 29.5h0m-1.5 -2.5h0m-19.7 -0.7h0m15.1 -24.8h0m-4.8 19.9h0m-24.6 -9.1h0m2.5 14.3h0m6.5 -24.1h0m-8.9 19.4h0m20.8 -5.9h0m-33.3 3.8h0m29.3 -2.9h0m4.9 -12.1h0m-23.8 12.1h0m45.3 7.8h0m-23.7 -4.3h0m-12.2 0.2h0m1 1.6h0m35.4 -18.9h0m-29.6 9.7h0m-26.7 2.2h0m5.3 1.2h0m54.1 -0.8h0m-27.4 1.6h0m-11.9 -12.3h0m32.9 0.1h0m-24.8 -1.6h0m0.5 10.2h0m20.6 -12.6h0m-4.2 0.6h0m-29.8 16.4h0m-11.1 1.3h0m14.7 3.9h0m40 -18.3h0m-7.8 -1h0m-23.3 10h0m-21.6 3.3h0m14.8 -5.5h0m7.4 0.2h0m-7.3 -6.9h0m39.2 21.5h0m-60.2 -13.7h0m26.8 12.3h0m13.4 -22.3h0m-21.9 21.8h0m-1.4 -13.9h0m2.4 8.6h0m29 10.8h0m-29.8 -17.9h0m6.3 -0.8h0m12.4 -1.6h0m-33.8 17.2h0m6.5 2.2h0m32.3 -20.3h0m3.1 24.9h0m-17.9 -17.6h0m19.7 11.7h0m10.1 -19.6h0m-42.9 0.5h0m28.5 9.7h0m-19.3 -6h0m5.4 -7.1h0m0.7 24.3h0m15.5 -24.1h0m-6.2 24.4h0m-20 -13.4h0m3 0.5h0m11 1.4h0m1.6 2.5h0m4.6 8.2h0m-37.7 -19.2h0m32 11.1h0m-11.1 0h0m-5.7 7.6h0m16.1 0.6h0m3.5 -25.5h0m-21.8 14.7h0m22.5 0.7h0m13.9 3.4h0m-20.5 -12.4h0m29.6 25.5h0m-34.6 -26.1h0m-18 8.8h0m31.2 -16h0m-22.5 22.3h0m2.4 -15.6h0m14.1 13.7h0m12.2 -15.9h0m-37.7 3.8h0m36 14.9h0m-7.5 -21.4h0m6.7 3.7h0m-39.1 18.2h0m21.4 -5.7h0m-6.8 -13.8h0m27.7 6.1h0m-10.8 23.6h0m-5.7 -21.1h0m7.6 -13.1h0m0 31h0m-30.4 -11.6h0m40.8 14h0m-42.7 -14.3h0m34 -16.8h0m-33.8 8.9h0m53.4 1.4h0m-31 3.1h0m20.7 -17.6h0m-34.1 6.9h0m28.3 -7h0m13.3 3.6h0m-31.7 10.3h0m13.9 -0.5h0m-34.8 9.3h0m11.5 -2.3h0m43.8 7.1h0m-42.3 -19.2h0m4.3 14.7h0m40.5 -0.7h0m-0.6 -21.1h0m-51.1 5.9h0m39.5 -1.7h0m-26.7 5.5h0m8 11.4h0m23.8 6.3h0m-3.5 -0.5h0m-3.7 -21.8h0m-23 14.8h0m19.7 5.3h0m-3.2 -13.7h0m-39.6 11.4h0m47.5 0.6h0m-19.4 -3.8h0m-17.3 -11.3h0m40.1 14.8h0m-33.5 -10.1h0m-7.1 4.9h0m-3 8.8h0m10 -15.6h0m26 -15.4h0m-14.4 8.6h0m12.4 -4.9h0m-16 24.9h0m-15.5 -3.8h0m45.2 12.6h0m-36.3 -5.2h0m29.6 -8.6h0m-4.9 7.8h0m-11.4 -7.4h0m27.5 9.4h0m-22.7 0.5h0m-14.8 -8.8h0m10.5 -21.3h0m-0.6 26.7h0m1.2 -20.2h0m-26.5 1.5h0m6.6 -3.2h0m0.6 10.6h0m14 1.5h0m-26.8 -6.2h0m30.7 -13.7h0m2 7.6h0m17.5 24.5h0m-11.1 -16.7h0m-18 -10.5h0m32.2 2.9h0m-22.8 18.4h0m13.8 7.2h0m-44.2 -2.2h0m8 12.5h0m24.5 -7.1h0m-28.5 19h0m31.2 -5.6h0m9.3 16.5h0m-9.3 -27.2h0m23.8 17.4h0m-17 -20.5h0m-42 14h0m33 -19.7h0m10.7 21.9h0m-6.6 -20.8h0m-13.2 14.4h0m18.4 0.2h0m-11.2 9.1h0m13.9 -19h0m-28.1 15.4h0m13.9 -8.2h0m-16.5 4.9h0m3.8 1.4h0m-1.4 -2h0m42 -9.1h0m-27 1.4h0m18.1 -0.8h0m-15.8 7h0m11.5 -1.4h0m-13.3 9.4h0m19.8 -6.2h0m6.6 -1.6h0m-27.5 2.8h0m12 -7.2h0m-30 -0.7h0m42.1 -5.4h0m-25.6 10h0m17.7 -2.2h0m-4.8 -10.7h0m-32.9 11.5h0m38.3 1h0m-0.2 -5.6h0m3.8 11.2h0m0.9 -14.2h0m-7 2.4h0m-30.1 14.4h0m33.5 -12.8h0m-2.8 1.6h0m-29.2 -9.4h0m1.4 -2.9h0m22.7 8.8h0m-29.5 -8.3h0m-2.3 12.3h0m18.3 -14.3h0m27.6 9.4h0m-49.4 7.4h0m32.8 3.8h0m5.5 -5.9h0m-16.3 15.5h0" stroke="#ff0000" stroke-width="2.40" stroke-linecap="round" fill="none"/>
</g>
<g clip-path="url(#c13)">
<path d="M395.9 435.6h0m-12.9 -9.8h0m-1.8 -1.4h0m3.8 -1.6h0m2.9 3.9h0m-5.5 -6.2h0m-19.6 9.5h0m20.5 -5.1h0m10.2 -4.5h0m1.6 6.4h0m-13.2 -4.2h0m1.9 21.9h0m-20.7 -19.5h0m-16.1 0.1h0m43.8 4.8h0m-20.9 -7.3h0m-12.5 -6.8h0m9.8 9h0m1.4 -1.3h0m10.1 7.6h0m12.7 1.2h0m-37.7 -3.5h0m11.8 7.2h0m16.4 -6.5h0m-8.2 -5.7h0m10.6 6.3h0m10 0.9h0m-3.7 3.1h0m-7.9 -11.9h0m-35.5 6.5h0m38.4 -0.4h0m-35.4 -2h0m18.3 -4h0m15.8 12.5h0m-3.1 -3.3h0m-5.2 -9.7h0m13.8 10.1h0m-23.1 -5.6h0m16.7 -13.2h0m-18.8 23.8h0m15.4 -9.3h0m9.4 -2.8h0m-12.9 -5.4h0m9 9.9h0m5.6 8h0m-10.8 -1.2h0m-29.5 -5.6h0m20.4 9.3h0m14.8 -22.6h0m-18.4 18.6h0m1.6 -9.5h0m7.6 3.5h0m-24.7 -2h0m43 11.4h0m40.9 29.1h0m18.2 -21.1h0m-8.6 -4.4h0m-25.1 0.5h0m20.3 -9.2h0m-1.9 10.5h0m-26.4 7.2h0m4.8 -14.7h0m26.1 5.6h0m3 7.6h0m-17.2 -19.1h0m-19.1 13.8h0m44.2 21.8h0m-24.5 -13.6h0m-20.4 -12.3h0m38.8 -3.2h0m-13.9 16.3h0m17.5 -7.4h0m-8.1 -17.7h0m10.5 12.7h0m1.7 -8.2h0m-8.1 8.6h0m-11.7 -18.4h0m14.4 30.4h0m-6.1 -8.8h0m-43.7 1.1h0m55 -9h0m-3.1 18.6h0m-5.8 -31.1h0m-40.4 15.6h0m2.9 10.4h0m26.5 -23.7h0m3.9 2.3h0m-36.9 19h0m32.9 -18.6h0m-36 1h0m34 28.4h0m-9.5 -8.5h0m26.3 -13h0m-7.1 -3.6h0m3.1 7.9h0m-2.2 0.1h0m-2.7 -18.7h0m-3.5 24.6h0m2.8 -0.7h0m-17.6 -3.7h0m23.2 -31.9h0m-17.5 24.5h0m-17.9 6.6h0m41.7 -15.1h0m-11.7 41.5h0m10.5 -35.3h0m-0.4 19.1h0m0.1 4.1h0m-41.2 -23.3h0m45.2 -7.4h0m-2.8 34.4h0m-32.3 -15.1h0m-0.4 -14.1h0m20.8 27.5h0m7.2 6.7h0m-15.3 -20.9h0m3.4 -9.7h0m-3.2 21.4h0m4 -15.1h0m10.1 11.3h0m-8.9 -10.7h0m-34.9 -14.5h0m36.4 26.3h0m16.4 -5.9h0m-30.4 -18.3h0m-11.9 5.3h0m39.3 9.9h0m-31.2 3h0m10.3 -9.9h0m7.2 2.8h0m-22.1 6.7h0m5.2 -17.6h0m22.7 17.4h0m-2.7 -15.3h0m13.5 19.8h0m-5.1 -25.1h0m-2.6 14.1h0m-13 0.3h0m14.3 0.3h0m3.9 8.7h0m-29.4 -0.1h0m8 -8.5h0m-27.6 11.4h0m46.7 -7.2h0m-9 0h0m-15.7 -16.6h0m-18.1 8.6h0m2.1 3.3h0m-13.9 -6.2h0m51.2 -17.7h0m-27.9 36.8h0m26.2 -11.4h0m-9.3 -6.1h0m15.4 -3.6h0m-21.1 5.5h0m15.9 6.5h0m-8.9 -13h0m-22 19.8h0m36.5 1.2h0m-15.4 -9.2h0m-38.2 -17.8h0m35.2 16.1h0m-25.5 -1.8h0m13 -6.2h0m6.9 6.4h0m-17.6 -4.8h0m2.8 17h0m16.1 -9.6h0m25.4 6.8h0m-37.4 -16.5h0m19.1 13.8h0m-27.3 -23.2h0m32.1 13.8h0m-11.6 10.6h0m12.6 2.3h0m-10.3 -25.8h0m21.8 37.7h0m-22.3 -10.7h0m13 -14.9h0m5.3 -11.8h0m-2.6 7.5h0m-38.3 2.7h0m6.4 9.3h0m-2.2 -1.9h0m27.1 7.1h0m8.7 -3.6h0m-39.7 -3.3h0m35 2h0m-20.3 1.9h0m27.6 -26.3h0m-9.8 18.7h0m-44.3 -2.6h0m53 2.8h0m-33.1 -15.7h0m24.2 20.4h0m-8.4 -16.5h0m-4.3 10.5h0m12.9 -21.3h0m-13.4 24.3h0m23.9 25.9h0m3.2 -30.3h0m-5 10.8h0m-23.9 13.3h0m20.7 -1.9h0m-24.2 -30.7h0m-9.5 11.7h0m40.5 6.8h0m0.6 -7.8h0m-42.1 9h0m35.3 -0.5h0m-16.5 -16.6h0m19.4 9.4h0m-19.2 -4.5h0m13 1.8h0m-6.4 16h0m7.2 -34.2h0m2.7 23.7h0m-33.9 -0.6h0m16.2 16.8h0m22.7 -24h0m-30.2 5.7h0m20.8 4.1h0m5.3 -3.2h0m-2.8 -4.1h0m-7 4.5h0m0.5 -5.3h0m-9.6 13.4h0m-9 5.5h0m16.2 -8.9h0m7.6 -2.6h0m-10.6 -3.7h0m20.8 -1.5h0m-29.6 -5.3h0m-12.3 9.8h0m35.9 -9h0m-32.4 -2.6h0m36.7 25h0m-5.1 -3.4h0m-22.5 -5.9h0m3.8 -11.3h0m-11.1 -17.5h0m3.1 1.9h0m25.4 24.6h0m-7.8 15h0m10.9 -3.7h0m2.7 -22.1h0m-26.9 -0.3h0m16.1 -13.2h0m12.5 28.7h0m-29 -0.2h0m13.6 -31.4h0m4.6 23.3h0m9.6 -10.3h0m-3.8 1.8h0m-47.5 -3.1h0m47.2 27.4h0m-15.2 -6.4h0m20.9 3.3h0m-0.4 -36.6h0m-4.7 24.6h0m1 0.9h0m-0.6 21.3h0m-11.4 -24.6h0m14.7 -13.2h0m-29.8 20h0m-20 -2.9h0m-3.7 -5.2h0m40.8 14.1h0m11.7 4.5h0m-16.4 -4h0m-2.9 -16.2h0m-1 11.2h0m9.7 -27.9h0m7.8 24.2h0m-45.9 -7.5h0m18.2 9.8h0m22.2 -10.6h0m-29.2 2.5h0m18.7 10.3h0m-15.7 -7.6h0m15.6 8.7h0m-4.9 -6.6h0m12.6 16h0m4.3 -26.8h0m-36.6 0.7h0m35.6 -5.2h0m-29.6 2h0m12.1 9.3h0m23.1 7.6h0m-43 -19.1h0m39.1 27.4h0m-31.7 -6.4h0m29.5 -5h0m-11.8 9.7h0m5.8 8.9h0m15.7 -5.4h0m-22.1 -20h0m10.7 19.6h0m-13.9 -6.7h0m-8.1 1.5h0m30.5 -7.4h0m4.9 -4h0m-16.7 -7.1h0m-0.8 17.2h0m0.5 -1.1h0m-14.6 -8.4h0m-11.3 -3.9h0m34.4 -7.4h0m5.3 -4.3h0m-4.7 27.9h0m-7.6 -17.9h0m9.7 16.1h0m-3.3 -4h0m-3.5 0.9h0m5.9 -0.8h0m6.5 -6.2h0m-3.1 -26.1h0m-9.3 45.1h0m7.8 -25.5h0m-46.4 0.3h0m34.6 1.4h0m5.6 -4.7h0m-37.4 5h0m30.5 17.8h0m-14.8 -27.6h0m32.1 24h0m-36 -19.9h0m9.9 -0.3h0m-13.9 3.5h0m32.6 -5.8h0m-35 2.2h0m23.7 29.7h0m-3.7 -19h0m2.9 -11.8h0m-39.2 2.1h0m40.8 10.1h0m-0.4 17.5h0m16 -7.1h0m1.2 -17.8h0m-16.3 -5.1h0m8.1 24h0m-5.6 -10.4h0m-7.8 -2.3h0m21.2 -4.9h0m-44.6 14.7h0m27.5 -20h0m-13.5 -5.5h0m12.6 23.5h0m15 -11.5h0m-13.3 6.2h0m15.6 -1h0m-12.7 8.7h0m6.5 -15.1h0m-1.4 -0.3h0m-8.6 -1.9h0m-38 10.5h0m50.5 4.3h0m-1.1 -10.2h0m-44.5 2h0m4.1 -9.3h0m40.6 13.9h0m3.5 14.8h0m-29.5 -13.9h0m26.7 4h0m-44.2 -6.7h0m16.7 9h0m31.3 -33.7h0m-22.6 5.3h0m-9.8 30.5h0m25.1 1.7h0m-5.9 -6.7h0m-22 -27h0m-0.4 33.2h0m36.9 -14.5h0m-46.3 10.6h0m44.3 -13.1h0m2.5 -14.8h0m-20.2 19.6h0m-1.2 12.9h0m3.9 -11.4h0m-40 -11.4h0m51.8 18.8h0m-5.8 6.7h0m-17.7 -33.9h0" stroke="#000000" stroke-width="2.40" stroke-linecap="round" fill="none"/>
</g>
<g clip-path="url(#c13)">
<path d="M362.1 429.6h0m3.1 -2.3h0m9.2 -1.8h0m-2.8 2h0m-11.1 5.2h0m4.6 -8h0m3.4 14.8h0m6.4 -14.7h0m-17.8 1.8h0m19.3 -7.3h0m-15.4 6.9h0m12.6 -1.9h0m-6.1 8.7h0m-5.3 -6.8h0m6.2 -3.7h0m-2 -1.5h0m-11.8 5.5h0m10.7 -8.9h0m5.6 13.6h0m-17.8 11.1h0m18.8 -8.4h0m0 -7.1h0m-5.3 -0.5h0m-18.2 2.7h0m19.9 0.8h0m-8.5 -6.5h0m8.2 7.5h0m-4.8 9.4h0m0.7 -11.1h0m13 -8.1h0m0.1 11.4h0m-21.6 -9.1h0m3.1 0.4h0m19.2 3.6h0m-9.4 -2.6h0m3.3 8.1h0m-2.4 -5.9h0m-16 -8.8h0m15 9.6h0m30.4 -4.5h0m4.8 10.5h0m-18.8 -6.4h0m19.8 -2.1h0m-5.5 -12.9h0m9.2 4.6h0m-8.8 9.2h0m8.4 -6.5h0m-20.4 4.6h0m11.1 2.9h0m-20.2 8.7h0m20.3 -20.4h0m-14.6 8.8h0m22.8 8h0m-1.6 -4.4h0m-7.9 0.7h0m-12.2 -2.5h0m21.2 2h0m3.7 -12.9h0m-10.9 20.3h0m-5.6 -16.8h0m2.5 7.2h0m9.9 -6.7h0m-17.6 9.1h0m-1.2 2.8h0m1.5 -7.2h0m18.6 -11.8h0m-2.6 20.4h0m4.5 -11.9h0m-0.5 -4.3h0m-8.4 5.7h0m-9.7 3.7h0m11.9 -13.2h0m4.8 12.1h0m-0.4 -4.6h0m-27 3.5h0m30 -1.9h0m-12.7 6.4h0m-7.4 1.5h0m1.9 -12.2h0m17.3 7.3h0m-16.5 -3.2h0m3.5 10.4h0m-10.7 -12.7h0m12.5 -2.4h0m4.8 7.1h0m-4.7 10.8h0m-4.7 -14.4h0m8.2 14.8h0m-6.1 -13.6h0m-0.9 -1.6h0m-1.1 13h0m4.2 0.7h0m12 -3.1h0m-21.4 3.4h0m19.1 1.7h0m-1.5 0.3h0m0.5 -14.7h0m2.7 2.9h0m-20.2 -5.6h0m21.1 8.8h0m-15.5 -10.5h0m15.8 16.2h0m-18.1 -7.2h0m-0.6 1.1h0m6.7 5.5h0m3.1 -1.6h0m-18.4 2.5h0m6.7 -8.1h0m13.5 4.8h0m-0.2 -7h0m-2 0.5h0m-0.5 3.1h0m4.4 3.3h0m3.6 -2.4h0m-17.9 -6.9h0m9.3 3.6h0m-4.1 -9.8h0m11.1 13.2h0m-3.4 -6.4h0m4.8 6.8h0m-2.2 5.8h0m-19.3 -6.1h0m-2.5 -2.1h0m5.5 1.1h0m7.8 4.5h0m-1.5 -6.4h0m-10 -3.7h0m14.7 11.9h0m-0.1 -20.8h0m-15.9 19.5h0m3.5 -16.1h0m18.3 1.1h0m-17.5 0.9h0m14.2 1.6h0m2.9 12.8h0m-17.1 -2.9h0m-7 -7.9h0m25.7 9.5h0m-21 0.9h0m23.1 1h0m-3.1 -8.1h0m-14 -1.6h0m1 5.7h0m-0.4 6.1h0m-3.6 -12.4h0m16.6 5.1h0m-8.1 -9.7h0m-4.5 -1.7h0m-1.6 8.9h0m4.4 3.5h0m-8 1.4h0m14.1 -1.8h0m-2.2 -8.5h0m-20.1 16.2h0m29.1 -1.4h0m-26 4.3h0m16.1 -18.1h0m-17.2 6.8h0m20.7 -2.2h0m0.6 -3.9h0m4.7 10.2h0m-25.5 -7.3h0m2.6 6.3h0m6.7 -6.3h0m11.8 0.7h0m-9.3 0.7h0m6.6 15.3h0m0.7 -21.2h0m-3.6 11.2h0m-1.4 -4h0m9.6 11.1h0m2 -5.6h0m-3.4 3.3h0m-5.8 -8.7h0m-13.6 -4.9h0m-0.7 3h0m17 -0.6h0m0.3 -0.7h0m-17.8 -3.3h0m24 3.7h0m-23.5 6.9h0m23.1 -9h0m0 7.7h0m-5.4 -4.2h0m3.6 14.6h0m-5.8 -11.7h0m-2.3 -6.6h0m8.8 4.8h0m-14.8 -6.1h0m16.3 13.3h0m-3.5 -6.9h0m-21.6 -0.6h0m1.2 1.6h0m6.1 -8.8h0m17 12.4h0m-3.6 -14.2h0m0.7 0.5h0m-9.2 4.7h0m3.7 7.5h0m-12 -8h0m-5.7 1.3h0m28.5 -5.3h0m-23 8.9h0m7.1 -5.7h0m7.5 -0.2h0m3.9 -1h0m-23.6 10.1h0m6.1 2.1h0m15.5 -5.1h0m-0.6 -8.5h0m-8.1 5.7h0m5.1 16.6h0m-7.4 -28.2h0m5.1 11.2h0m10.6 0.9h0m-22.9 3.4h0m13.2 -14.8h0m7.1 9.6h0m-17.2 14h0m7.4 -4.4h0m-10.6 -18h0m14.1 0.9h0m-10.6 15.9h0m13.5 -2h0m-8.3 6.3h0m-14.9 -23.2h0m19.4 15.1h0m5.5 8.9h0m32.7 3.2h0m-1.2 -16.5h0m9.3 13.8h0m-31 -1.7h0m12.6 -8.8h0m21.5 -9.4h0m-22.4 15.1h0m27.4 -4.1h0m-23.1 -8h0m13.7 18.6h0m-10.2 -16.3h0m7.8 9.8h0m-18.7 0.5h0m1.3 -4.9h0m17.4 1.6h0m5.6 2.4h0m-0.6 7.4h0m4 -1.2h0m0.6 5.3h0m-5.5 -3.9h0m-7.6 -1.1h0m18.5 0.7h0m-11.3 -10h0m-11.2 4.9h0m11.8 0.8h0m3.6 -0.7h0m-19.6 4.5h0m25.5 -12h0m-1 15.3h0m-8.7 -20.9h0m3 9h0m-15.3 -7.3h0m12 -2.9h0m-9.8 7.9h0m1.6 10.9h0m-6.4 -9.1h0m-2.1 0h0m14.7 18.2h0m-20.1 -18.8h0m1.7 14.4h0m27.4 -8.5h0m-6.5 6.3h0m5.6 -11.8h0m-19.3 12.7h0m20.7 -21h0m-3.5 11.3h0m4 -24.1h0m1.7 22.5h0m-4.2 1.8h0m-21.9 4h0m-15.1 6.8h0m-1.4 -13.1h0m12.5 -2.5h0m5.6 -2.2h0m21.3 17.9h0m-32.8 -23.9h0m35.2 11h0m-29 -4h0m23.1 7.4h0m-18.2 -9.9h0m14.3 18.7h0m-31.5 -9.3h0m9.2 -7.6h0m26.8 3.8h0m-15.7 0.9h0m12.5 -1.8h0m11 -7.7h0m-19.2 11.8h0m7.4 -0.4h0m-15.9 -6.4h0m12.8 0.4h0m3.9 10h0m7.9 -3.3h0m-3.9 -5.9h0m-17.4 9.9h0m-20.7 -17.3h0m43.3 18.6h0m-7.8 -3.3h0m-22.9 -13.1h0m13.1 -0.5h0m-5.5 5.4h0m4.1 13.4h0m-11.1 -2.7h0m8.4 1.2h0m-11.9 -9.8h0m-9.6 -4.5h0m42.5 14.2h0m-38.6 -14.7h0m15.2 8.4h0m21.5 17.2h0m3.1 -12.5h0m-14.8 -9.7h0m10.3 14.2h0m-4.2 4.9h0m7.6 -18.7h0m-7.5 11.4h0m-24.9 -7.2h0m17.5 8.6h0m-2.8 -11.2h0m5.2 -0.9h0m-0.9 -5h0m-1.7 13.1h0m16 -16.1h0m-1.6 29.3h0m1.7 -17h0m-9.1 9.4h0m5 -15.3h0m-38.2 11.7h0m38.5 -7.9h0m-8.4 -1.5h0m7.1 -2.4h0m-13.2 -0.4h0m-4.2 20.3h0m7.5 -7h0m-6.2 -9.8h0m-13.4 14.7h0m29.4 -20.1h0m-16.6 3.1h0m15.4 -3.3h0m-37.3 1.3h0m16.9 -7.7h0m20.8 19.7h0m-21.9 -14h0m10 -1.2h0m5.5 18.2h0m11.8 -22.7h0m-39.6 4.9h0m32.6 10.7h0m-7.6 1.5h0m6.3 -8.6h0m-2.7 23.6h0m-9.2 -22h0m2.6 6.5h0m-3.9 -1.1h0m-18.4 13.2h0m31.5 -17.2h0m-2.1 -3.2h0m-3.5 11.6h0m0 -9.5h0m13.3 9.7h0m-26.2 -10.9h0m20.9 4.5h0m6 -10h0m-31.7 16h0m25.5 8.4h0m-35.4 -23.6h0m14.1 17.6h0m2.1 -13.1h0m14 17.1h0m5.3 -18.3h0m-4.9 -9.6h0m-22.8 17.3h0m28.9 -12.7h0m-1.8 7.3h0m1.2 7.4h0m6.4 11.2h0m-6.2 -18.5h0m-0.5 8.9h0m-22.5 -15.6h0m28.8 26.9h0m-17.2 -2.4h0m6.2 -8.2h0m0.1 -5.8h0m2.3 19.2h0m-7.7 -10.6h0m8.8 -3.4h0m-18.3 -8.7h0m-4.4 -11.8h0m16.4 17.9h0m5.4 -4.9h0m-1.8 4.9h0m-8.9 -6.6h0m4.9 -5.4h0m-2 5.3h0m-5.1 1.8h0m17 3.9h0m2.5 9.5h0m2.8 -11.7h0m-12 0.9h0m-21.1 4.6h0m-11 -12.5h0m43.6 8.9h0m-16.5 -12.5h0m-27.3 2.3h0m22.7 14.7h0m12.4 -5.5h0m-27.1 -13.9h0m29.5 13.5h0m-11 -2.1h0m13.8 -8.2h0m-6.7 20.7h0m-15.5 -3.5h0m-15.9 -13.3h0m17.7 -4.7h0m19.4 20h0m1.3 0.5h0m-28.1 1.2h0m10.4 -32.1h0m11.4 16.6h0m-4.8 -10.7h0m-7.1 16.8h0m13.4 6.8h0m4.8 -22.4h0m0.7 14.5h0m-32.4 -3.3h0m26.6 -1.4h0m0.4 -1h0m7.8 2.6h0m-13.4 5.4h0m10.9 4.3h0m-29.5 -12.2h0m-3.5 10.5h0m21.3 4.2h0m-20 -17.4h0m10.8 4.1h0m5 9.8h0m-19.4 -6.7h0m13.3 0.4h0m15.2 -13.4h0m3.3 19.1h0m-1 4.8h0m8.1 7.5h0m-17.4 -19.2h0m12.2 4.1h0m-21.9 13.8h0m26.7 -4.6h0m-19 -19h0m-26.7 -2.3h0m44.7 12.6h0m-33.3 6.2h0m30.7 -14.7h0m-12.7 16.1h0m-22.1 -13.1h0m26.1 -2h0m5.1 -4.3h0m-15.6 5.6h0m12.5 -4.4h0m-12 0h0m0.1 11.7h0m7 4.5h0m-9.7 -10.1h0m22.6 22.1h0m-17.8 -41h0m15.3 16.9h0m-3 6.6h0m4.9 -8.4h0m-36.7 4.3h0m38.1 9.8h0m-27.9 -20.7h0m24 16.6h0m-12.6 -9.9h0m-12.3 4h0m-8.7 3.8h0m39.2 -10h0m-22.3 12.4h0m-15.4 -15h0m32.1 21.4h0m-27.1 -10.6h0m29.7 -12.9h0m-5.9 1.5h0m-16.8 7.5h0m18.9 -9.7h0m-25.1 10.3h0m14.2 3.9h0m2.8 7.5h0m-7.7 6.7h0m9.3 -17.2h0m11.7 14.8h0m1.8 -7.7h0m-17.1 -8.5h0m-6.3 7.2h0m6.7 -6.2h0m-2.6 2h0m2.9 9.8h0m1.5 -13.9h0m11.6 9.4h0m2.6 -6.2h0m-19 -2.2h0m1.4 8.7h0m10.5 17h0m6.2 -15.3h0m-33.8 6.4h0m34.9 -9.5h0m-22.3 -9h0m-20.1 -7.3h0m7.7 7.4h0m0.9 -2.5h0m9.2 -2.2h0m24.6 28.8h0m-15 -29.8h0m0.6 3.1h0m8.3 14.9h0m-5.7 -2.3h0m-11.4 3.2h0m5.3 -16.2h0m-18.2 14.4h0m29.8 3.1h0m-11.1 -9.7h0m5.5 -11.3h0m4.8 14.5h0m7.6 -7.6h0m-25.3 -8h0m14.2 9h0m-17.7 -6.4h0m-0.7 9.5h0m25.6 4.1h0m-10.7 10.2h0m-18 -15.2h0m0.2 -10.4h0m8.1 15.4h0m-6.8 -14.7h0m-2.5 2.1h0m17.9 23.6h0m2.9 -18.7h0m-4.9 -7.6h0m3.3 18.9h0m-2.2 -0.5h0m13.1 -7.9h0m-14.1 -8.9h0m-27.8 3.7h0m40.3 18.7h0m-29.3 -9.6h0m-4.6 2.5h0m11.3 -5.6h0m14.1 5.2h0m-6.5 -3.8h0m-3.8 -0.4h0m15.3 14.1h0m-36.2 -17.5h0m31.6 -7.5h0m-0.7 1.9h0m6.1 18.6h0m-19.4 -11.3h0m26.9 9.1h0m-37.8 -4.5h0m22 -16.3h0m-12 21h0m21.5 -8.1h0m-1.9 -9.7h0m-6.4 8.3h0m3.2 -3.4h0m-13.2 2.3h0m-9.4 -6.5h0m3.2 -1.4h0m-8.8 -6.9h0m38.3 7.6h0m-28.2 3.6h0m14.6 12.5h0m14.8 -13.5h0m-3.7 9h0m3 16.8h0m-7.2 -24h0m-13.8 13.8h0m-20.9 -8.4h0m17.3 1.2h0m-7.9 -8.5h0m2.9 13.5h0m16.2 4.5h0m-21.6 -11.7h0m-0.3 -6.1h0m7.8 11h0m28.6 12.4h0m-38.1 -10.6h0m-2.8 4h0m19.6 -6h0m12.2 -0.1h0m0.7 0.1h0m3.4 10.1h0m-13 -19h0m-24.4 -12.5h0m26.3 17h0m5.6 -0.5h0m9.6 -4h0m-22.1 23.6h0m0.4 -24.8h0m6 -0.4h0m7.4 -0.9h0m-11.4 10.8h0m7.7 -21.7h0m5.7 15.3h0m5.8 0.4h0m-1.8 16.2h0m-12.9 -16h0m-22.7 5.2h0" stroke="#0000ff" stroke-width="2.40" stroke-linecap="round" fill="none"/>
</g>
<g clip-path="url(#c13)">
<path d="M350.7 398h0m-6.8 8.1h0m-4 13h0m2.2 -6.2h0m1.4 -1.8h0m8.5 -5.7h0m-3.8 -4h0m-2.8 16.4h0m4.3 -9.9h0m2.6 -14.8h0m-10.8 19.5h0m-1.1 1.6h0m9.6 -7.1h0m1.8 5.8h0m-10.1 -6.1h0m11.8 -1.5h0m-7.4 -0.9h0m-7.2 1.6h0m10.9 -7.8h0m-0.6 11.2h0m8.7 -15.6h0m26 7.6h0m-2.6 2.8h0m6.8 -1.2h0m0.3 6.2h0m0.4 -0.7h0m-3.5 -3.7h0m-6.9 9.7h0m3.5 -20.5h0m-24.3 14.1h0m11.8 -1.9h0m6.4 9.2h0m11.7 -5.2h0m-16.9 -5.8h0m4.7 -1.8h0m13.2 8.1h0m-33.9 0.8h0m30.2 -1.7h0m1.8 -12.2h0m-27.3 9.7h0m11.1 -7h0m-11.4 3.2h0m18.3 -6.3h0m-21.8 4.5h0m23.7 5.2h0m10 1.5h0m-18.3 -8.8h0m31.4 -1.6h0m-10.3 1.9h0m0.8 6.4h0m7.1 11.4h0m-8.1 -4h0m4.1 -10.4h0m13.6 19h0m-2.1 -4.9h0m-0.6 -9.8h0m-0.6 17.3h0m2.2 -19.4h0m-17.9 8.9h0m12.9 -20.4h0m-6.4 16.6h0m10.3 -4.9h0m-8.3 1.3h0m9.7 -9.2h0m-18.3 13.4h0m15.8 -4.6h0m0.2 7.8h0m-10.7 8h0m12.5 -12.7h0m-16.3 5.7h0m17.3 1.8h0m-1.1 -8.8h0m-8.7 1.1h0m-3 2.8h0m-1.2 -22.1h0m6.1 20.8h0m6.8 -9.4h0m-5.9 17.1h0m4.5 -20.4h0m-2.3 14.7h0m-5.8 2.5h0m4.5 -1.2h0m2.4 -2.2h0m-1.8 3.9h0m3.7 3.2h0m-0.5 -6.2h0m-2.1 6h0m-1.6 -5.3h0m3.2 0.2h0m-15.8 4.5h0m1.9 -8.1h0m7.6 2.1h0m-4.7 1.1h0m-1.4 5.6h0m10.9 10.4h0m-7 -35.7h0m6.3 14.1h0m-6.1 6h0m6.6 -6.1h0m3.9 3h0m-8.8 1.1h0m3.3 9.1h0m-2.7 -15.2h0m0.6 -3.3h0m-5.3 -1.7h0m7.9 19.2h0m-10.9 -16h0m13 -12.7h0m-10.6 13.9h0m-1.6 0.1h0m4.4 1.1h0m2.4 17.8h0m-8.7 -21.5h0m2.1 8.2h0m3.5 4.8h0m-3 -2.5h0m7.4 -5.4h0m-5.9 -5.7h0m-0.7 7.5h0m7.8 -1.8h0m-8.1 2h0m1.6 5.1h0m-5.8 2.2h0m14.3 -8.4h0m-13.3 3.1h0m8.9 -19.3h0m-6.2 11.7h0m-3.2 15.7h0m17.7 -25.1h0m-3.5 4.9h0m42.3 14.7h0m1.2 -8.2h0m-3 8h0m-4.1 2.2h0m-22.3 -10.7h0m7.2 16.5h0m22.1 0.2h0m3.1 -6.1h0m-19.6 6.4h0m11.5 -0.2h0m-25.4 -2.1h0m16 0.2h0m1.1 2.5h0m11.1 -2.9h0m-28.5 -8.3h0m30.2 3.7h0m-0.1 5.8h0m4.7 -4.8h0m-24.5 1.3h0m-3.5 -2.3h0m-4.5 -2.8h0m-1.7 -0.1h0m35.2 -3.7h0m-26.6 10.8h0m3.5 -5.5h0m12.3 2.9h0m2.6 4.4h0m-18.6 -11h0m25.3 6.5h0m-7.8 4.1h0m-34.1 -5.7h0m39.9 -0.7h0m-2.7 -5.3h0m3.4 2.1h0m-6.4 8.3h0m4.7 -4.8h0m-12.1 8.5h0m13.4 -9.5h0m2 -6.3h0m-2.8 12.8h0m-29.8 3h0m1.2 -3.2h0m22.9 -3.8h0m-17.9 1.5h0m14.1 -2.9h0m11.1 -8.8h0m2.7 13.6h0m-8.7 -8.1h0m4.3 0.4h0m5.1 2.8h0m-39 5.4h0m13.8 -13.8h0m12.2 6.8h0m11.9 0h0m-0.7 15.8h0m-1.6 3.5h0m-25.2 -11.4h0m29.8 -3.2h0m-13.3 -6.6h0m13.4 5.9h0m-9.2 4.4h0m-14.1 -1.7h0m13.9 7.5h0m5.2 -8.2h0m-1.6 -0.8h0m-39.2 -0.2h0m41.2 10.3h0m-15.2 -9.1h0m19.1 -5.5h0m-19.3 3h0m-23.9 -6.2h0m6.4 8.7h0m6.1 -3.8h0m28 6h0m-8.7 -14.5h0m8.4 18.2h0m-11.3 -3.6h0m6.4 6.3h0m7.8 -16.1h0m-11.9 -3.8h0m-3.4 6h0m-3.8 -7h0m-0.9 10.7h0m8.6 11.6h0m-8.5 -14.5h0m15.9 10.3h0m-39.1 -15.4h0m17 13.4h0m16.6 -9.5h0m-4.2 1.2h0m10.8 5.4h0m-16.9 -4.8h0m-12.6 11.1h0m1.9 -15.7h0m25 9.9h0m-1.7 -4.1h0m-9.2 8.2h0m8.5 -22h0m-16.1 7.8h0m4.3 8.2h0m8.7 -12.6h0m10.3 22.3h0m-24 -7.5h0m15.7 -10.8h0m-10.4 1.9h0m-4.4 11.8h0m-8.3 -0.9h0m20.1 -8.1h0m-2.3 6.1h0m-5.7 -22.4h0m13.4 16.4h0m-38.3 15.3h0m32.8 -8.1h0m8.9 -6.9h0m-1.1 6.9h0m-30.3 -4.9h0m9.1 6.7h0m10.2 -8.5h0m-15.1 6h0m28.9 -0.6h0m-13.3 -0.8h0m-22.4 -7.6h0m0.6 6.1h0m20.3 -11h0m6.7 7.4h0m-28 6.2h0m35.9 1.3h0m-12.9 -4.3h0m-17.3 -1.3h0m5 -0.5h0m-2.3 0.7h0m4.5 3h0m19.4 -3.1h0m-28.2 -2.1h0m-10.4 -9.3h0m31.5 -9.6h0m8.3 21.9h0m-29 6.9h0m23.9 -10.8h0m2.5 5h0m-14.3 -8.6h0m19.7 7.4h0m-36.6 8.1h0m25.8 -3.3h0m-25.3 -0.3h0m3.7 -9h0m24.9 -3.1h0m-3.9 -2.5h0m-3.1 9h0m2.9 -6.3h0m-5.8 12.8h0m-21 -12.9h0m36.7 11.1h0m-18.4 -6.1h0m18.3 3.1h0m-13.9 9.2h0m-22.6 -8.4h0m38.2 -2.9h0m-28.3 -8.4h0m29.6 16.3h0m-0.4 -15.7h0m-12.8 16.7h0m6 -3.8h0m-16.3 -4.2h0m-6.8 -6.8h0m-0.2 3.7h0m1.9 9.5h0m20.2 -2h0m-22.6 -11.8h0m-3 16.9h0m23.1 -9h0m-27.5 1.4h0m34 0.7h0m-40.9 -6.6h0m24.7 13.5h0m6.1 -6h0m-2.2 -1.4h0m-25.1 -6.7h0m14.1 -1.4h0m2.7 0.5h0m12.1 6.7h0m8 0.3h0m3.2 -13.7h0m1.7 16.4h0m-30 -9.8h0m1.6 2.3h0m-3.6 2.1h0m10.7 0.6h0m9.1 -2.3h0m-18.8 -2.8h0m29.4 7.5h0m-5.8 -4h0m-7.6 14.6h0m-5.5 -5.8h0m8.2 -6.3h0m-7.3 -3.4h0m5.6 2.3h0m-4.7 -7.4h0m-20.5 1.4h0m2.1 13.3h0m-2.4 -9.9h0m-0.2 1h0m13.2 2.5h0m-0.5 5h0m10.1 -7.1h0m2.2 -7.2h0m14.5 11.1h0m-6.3 -9h0m-36.2 11.5h0m34.7 -5.1h0m5.1 -1.9h0m-19.6 9h0m8.7 -13.5h0m8.5 4.1h0m-0.9 14.1h0m-28.4 -5.8h0m3.8 -13.6h0m-2 8.7h0m17.4 10.5h0m-9.2 -9.7h0m2 -12.8h0m14.6 -0.2h0m0.8 3.7h0m-38 -3.7h0m29.3 12.9h0m6.8 -1.1h0m8.1 -1.4h0m-3.3 7.4h0m-29.3 -2.4h0m29.1 -14.6h0m-26.1 9.9h0m16.6 3.8h0m6.5 -13.4h0m-5 5.9h0m-27.3 -1h0m7.7 3.6h0m23.7 -3.8h0m-16 5.7h0m23.8 4.8h0m-0.3 -11.4h0m-17 14.6h0m0 -12.1h0m-3.6 0.9h0m10.1 3.9h0m9.5 -7.8h0m0.9 -2.9h0m-13.3 10.7h0m-8.4 0.1h0m12.1 4.4h0m9.6 -16.7h0m-27.2 15.8h0m-7.9 -3.5h0m29.2 -7.3h0m-26.9 -1.7h0m15.8 13.4h0m17.6 -18.9h0m-13.1 12.5h0m-1.9 1.4h0m4.9 -1.9h0m4.6 6.5h0m-35.5 -3.3h0m17.9 -2.4h0m16 8.2h0m-26 -12.1h0m-0.8 3h0m17.8 -2.6h0m0.9 11.4h0m0.2 -2.2h0m1.1 5h0m8.9 -10.8h0m-4.8 10.6h0m-5.2 -7.1h0m-20.5 -4.7h0m14.1 13.3h0m7.2 -15.8h0m-8.8 8.6h0m-5.5 3h0m-13.9 -3.1h0m34.4 -1h0m1.2 0.1h0m-23.2 0.4h0m-8.6 -4.9h0m24.4 -4.6h0m1.5 13.8h0m-27.5 -8.4h0m36.3 4h0m-14.8 -2.2h0m15.9 -10.6h0m1.7 16.9h0m-3.6 -20.1h0m-24.9 27h0m-14.1 -16.4h0m26.1 2.3h0m15.7 6.1h0m-4.3 -10.8h0m5.8 -0.2h0m0.5 20.1h0m-15.3 -5.5h0m6.3 -4h0m-13.5 5.2h0m14.2 -4.2h0m-7.1 -11.5h0m-3.2 8.3h0m12.7 -3.3h0m-32.4 -11.4h0m7.4 17.5h0m16.3 3.9h0m8.1 -25.4h0m-21.3 6.8h0m18.5 2.3h0m-12.7 0.9h0m10.9 -2.6h0m8 -2.3h0m-24.8 5.6h0m24.5 0.9h0m-7.6 0.9h0m-27.7 1.9h0m13.1 1.4h0m24.9 -1.1h0m-9 8.7h0m4.5 5.7h0m5.5 -8.1h0m-7.1 0.3h0m-2.7 -4.2h0m-24.4 -2.3h0m21.3 3.8h0m-10.5 2.5h0m10.3 -21.4h0m-10.2 23.5h0m-2.5 -8.6h0m21.7 -6.6h0m1.1 -3.1h0m-19.3 7.7h0m-22.6 -2.3h0m27 8.8h0m1.1 4.9h0m-22.1 -13.3h0m22.2 5.3h0m-17.9 -9.2h0m6.8 13.8h0m15.9 -3.8h0m-8.4 -9.7h0m-6.6 3.3h0m21.2 11h0m-36 -13.4h0m6 0.8h0m15.7 1.7h0m-21.8 5.6h0m14.9 -3.8h0m11.8 8.7h0m4.6 -9.6h0m4.6 11.8h0m-16.5 -14.3h0m21.9 0.7h0m-21.1 0.2h0m7.5 11.1h0m-6 -11.4h0m-24.6 13.2h0m26 2.2h0m-4.2 -7.8h0m-15.4 6.3h0m9.4 -4.2h0m22.5 -4h0m-6 -13h0m10.2 8.3h0m-16.1 -1.1h0m-0.1 3.1h0m17.3 -2.1h0m-23 1.5h0m7.6 9h0m-1.4 -3.5h0m-17.8 1.9h0m17.9 -3.1h0m10.5 14.2h0m-5.8 -3.6h0m-30 -3.3h0m18 -0.6h0m5.9 -11.9h0m-1.4 -2.9h0m13.6 18.2h0m-13.5 -6.7h0m3.6 -11.7h0m-14.1 9.5h0m29.5 6.3h0m-16.7 -5.8h0m-23.3 -16.4h0m5.8 10.1h0m22.2 -4.3h0m11.2 0.4h0m-9.5 3.9h0m-15.3 1.9h0m0.9 -3.6h0m21.7 10.4h0m-13.2 -7.1h0m-5.6 -2.5h0m12.2 -2h0m0.9 9h0m4 4.2h0m-31.5 -14.4h0m7.7 13.4h0m24.8 -13.9h0m-7.3 2.7h0m-4.7 -4.8h0m-6.1 2.4h0m-9.4 -1.1h0m23.3 17h0m-31.7 -0.2h0m6.7 5.9h0m0.8 -12h0m27 15.9h0m-19.7 -5.6h0m1.2 -3h0m-9.3 -5.1h0m19.1 4.1h0m14 -14.5h0m-17.9 11h0m-5.5 -3.9h0m-20.2 3.5h0m13 -10.8h0m7.9 4.2h0m-1.1 10.3h0m15.9 -0.6h0m1.7 -10.6h0m-24.1 4.1h0m15.2 5.3h0m-1.7 -14.3h0m12 1.9h0m-15.1 10.1h0m10.3 -10.8h0m-33.3 -0.7h0m3.9 8.2h0m7.6 4.3h0m11.3 1.9h0m-9 3.7h0m17.6 -1.4h0m-24.9 -2.1h0m35.8 -14.9h0m-20 -8.4h0m19.8 27.4h0m-35.5 1.2h0m-4 -6.7h0m21.5 -6.6h0m17.3 2.3h0m-39.5 -5.4h0m34.1 10.8h0m-16.9 -9.9h0m21.7 7.3h0m-29.1 -7.1h0m-5.5 0.6h0m38.2 4.8h0m-25.5 3.2h0m13 -7h0m-0.4 9.5h0m-15.6 -11.6h0m25.6 14.5h0m-39.4 -9.3h0m38 8.2h0m-11.9 -15.2h0m-19.2 10.8h0m34.2 -8.9h0m-26.8 5.8h0m6.8 -1.6h0m-2.5 -2.4h0m-4 0.9h0m22.3 -5.9h0m-38 23.5h0m29.9 1.1h0m-20.4 -20.9h0m-7.4 13.7h0m37.1 -17.1h0m2.9 12.9h0m-3.8 2.2h0m-17.1 -9.4h0m-11.5 1.1h0m9.1 6h0m-16.4 -5.3h0m27.5 -11.3h0m-12 20.6h0m0.6 -5.3h0m-4.4 -2.8h0m-12.2 -2.3h0m0.7 -11.8h0m24.1 9.6h0m13.9 -11.7h0m-11.4 21.1h0m-16.4 0.8h0m24 -11.9h0m-29.3 5.5h0m-2.9 2.2h0m-2.5 -9h0m2.4 20.1h0m29.1 1.1h0m5 -9.4h0m-0.2 -11.4h0m5 -3.1h0m-1.5 21.8h0m-18.8 -8.9h0m-13.1 -14.8h0m26.6 18.8h0m-1.2 -0.4h0m-10.7 -13.4h0m4 10.2h0m13.7 -7.6h0m0.7 4.7h0m-22.8 0.2h0m15.6 -2.1h0m-5 -3.8h0m-13.1 11.7h0m8.2 -14.3h0m13.6 -1.8h0m-9.1 10h0m12.6 -11.5h0m-10.8 4.7h0m8.1 -1.6h0m-27.7 2.7h0m25.5 14.6h0m5 -2h0m-35 -1.8h0m-3.9 -2.5h0m1 -4.1h0m-1.2 -7.2h0m30.9 2.9h0m-21.3 -5.2h0m6.9 15.7h0m2.2 -5.8h0m-6.7 -15.5h0m15.9 22.8h0m-13.3 -10.4h0m-8.9 1.1h0m-2 -0.9h0m30 19.8h0m-39.9 -10.7h0m24.9 -7.9h0m3.1 7.7h0m-5.6 -16.4h0m1.5 16.2h0m-16.8 -11.2h0m10.1 16.9h0m-7.7 -9.6h0m21.7 6.8h0m-31.2 -14.9h0m17.9 1.2h0m-15.3 0.6h0m11.5 1h0m-3.2 -7.7h0m32.9 8.6h0m-17.7 -11.4h0m-4.2 -0.4h0m21.7 9.3h0m-8.2 3.8h0m1.4 -9.4h0m-4.7 22.3h0m13.3 -9.8h0m-9.5 -3.6h0m-19.2 -0.5h0m6.9 5.5h0m13.1 5.1h0m-20.8 -15.1h0m-3.1 -4.8h0m-10.4 11.4h0m35 10.4h0m-0.3 -9.6h0m-9.1 1.7h0m-24 -5.7h0m25.2 1h0m-16.4 7.9h0m23.2 -14.7h0m-7.5 -0.6h0m10.9 -3.3h0m-28.7 7.1h0m33.1 -8.7h0m-0.3 25.5h0m-33.9 -23.2h0m13.1 3.7h0m14.6 8.1h0m-9.5 16.1h0m-24.1 -13.9h0m0.3 3.6h0m24.6 -1h0m-5.3 -15.8h0m-17.3 10.7h0m29.5 -5h0m5 5.3h0m-26.6 1.9h0m0.4 -7.5h0m6.3 15.1h0m9.6 -14.5h0m-28 -6.3h0m38.9 17.7h0m-41.7 -13.8h0m29.8 -3.3h0m-25.9 16.9h0m39.6 2h0m1.3 -18h0m-11.3 -0.9h0m0.3 15.9h0m-30.3 -17.1h0m2.3 16.2h0m15.8 -21.5h0m4.6 23.4h0m19.8 -2.1h0m-41.1 -0.5h0m0.9 -2.1h0m21.9 -9.2h0m-6.8 0.3h0m25.1 1.1h0m-4 1h0m-11.5 1.3h0m-20 10.8h0m-3 -8.7h0m12 4.4h0m-10.3 14.5h0m-6.2 -31.2h0m3.2 12.2h0m4.3 -9h0m18.8 21.5h0m7.5 6.3h0m-27.7 -23.6h0m14.1 17.6h0m-20.4 -20.8h0m-1 8.8h0m11.7 -3.9h0m17.2 22.9h0m-28 -19.1h0m26.3 -2.7h0m12.6 13.4h0m-32.8 -4.2h0m9.6 -21.1h0m10.2 14.4h0m-25.1 6.4h0m26.2 -17.6h0m-17.6 14.9h0m-10.1 -5.4h0m12.6 -1.6h0m21.4 10.6h0m-7.2 6.1h0m-14.8 -2.3h0m3.1 -12.5h0m17 11.9h0m-24.6 -10.8h0m4.2 9.5h0m-12.9 -2.4h0m10 -0.1h0m12.1 -9.4h0m4.2 11.9h0m-12.1 -19.5h0m6.1 8.4h0m-2.2 12.8h0m6.8 -13.9h0m11.7 -7.1h0m-19.3 0.8h0m-13.4 0.2h0m5.3 0.9h0m12.7 -0.5h0m-2.9 1.6h0m23.2 -4.9h0m-28.8 23.5h0m6.4 -12.2h0m12.8 12h0m-21.6 -13.5h0m-8.8 8.8h0m19.6 -19h0m-6.8 1.5h0m-15.1 11.4h0m32 10.5h0m-23.6 -10h0m-6.3 6.6h0m31.7 0h0m2.5 -19.2h0m-0.9 16.2h0m4.4 16.3h0m-31.5 -28.7h0m28 -1.3h0m-16.7 -1.8h0m10.4 3.6h0m12.5 15.1h0m-1 10.3h0m-0.8 -7h0m-14 -23.4h0m16.5 -1.5h0m-42.8 25.3h0m8.9 -0.2h0m-9.6 -8.2h0m1.2 -0.2h0m17.8 -9.2h0m0.8 8.3h0m-6.5 17h0m18.3 -17.9h0m-0.4 13.2h0m13.8 -0.9h0m-1.1 -0.1h0m-28.1 0h0m23.2 -20.7h0m-25.4 12.3h0m14.2 7h0m5.9 3.6h0m0.9 -29.7h0m-7 5.1h0m17 -5.3h0m-26.8 5.5h0m2.3 12h0m18.6 -16.5h0m-14.9 7.7h0m17.4 4h0m-8.9 3.9h0m-13.2 -11.1h0m-14 14.1h0m0 -13.9h0m29.7 -1.9h0m10.8 21.1h0m-30.4 -0.3h0m-3.7 -22.9h0m20.6 8.2h0m-2.6 -2.4h0m-16.9 -0.8h0m16.9 1.9h0m5.1 8.6h0m4.5 7.9h0m-18.4 -18.4h0m2.6 13.4h0m-1.7 -3.5h0m23.3 -13.6h0m-36.2 12.2h0m16.1 10h0m-9.1 -18.4h0m21.9 22.1h0m-23.1 -3.8h0m19.7 -14.9h0m-20.3 12.1h0m11.6 4.6h0m-23.4 -2.7h0m18.1 -24.1h0m0.2 5.6h0m-14 1.2h0m-2.8 11.5h0m30.4 10.4h0m0.5 -2.1h0m-10.7 -13.7h0m1.7 4.5h0m5 5.2h0m9.1 3.4h0m-28.1 -25.9h0m27.9 5.1h0m-36.3 -4.2h0m25.9 15.4h0m-12.1 -15.3h0m18.9 23.6h0m0.8 2.9h0m0.9 -25h0m-23.5 24.9h0m20 -19.2h0m10.6 -9h0m0.4 23.7h0m-44.3 -1.9h0m22.5 -1.9h0m-5 -9.8h0m-17.9 10.9h0m29 -19h0m-26.9 16.7h0m7.8 10.9h0m-4.9 -6.7h0m-1.3 -19.3h0m10.8 14.2h0m23.3 10.8h0m-23.8 -26.6h0m27 1.7h0m-1.7 15.8h0m-13.6 -15.7h0m-17.9 11h0m-1 6.2h0m11.2 -4h0m-2.7 -14.3h0m26.7 1.4h0m-7.5 2.3h0m-35 11.1h0m3.7 -8.7h0m14.6 11h0m-15.1 5.3h0m-1.8 -20.2h0m35.7 25.5h0m-29.8 -21.4h0m-4.2 0.3h0m25 26.6h0m-16.2 -31.6h0m28.7 20.7h0m-5.2 1h0m-25.5 -10.9h0m25.8 -7.2h0m-9.7 1h0m18.1 -4h0m-27.9 7.1h0m6.4 -2.8h0m-6 15.1h0m0.5 -10.6h0m13.6 13.3h0m-11.2 5.6h0m2.1 -3.7h0m-20.2 -1.7h0m40.7 1.9h0m-40.5 -10.4h0m18.1 -8.4h0m-1.8 -6.7h0m-9 16h0m2.6 -13.2h0m2.6 13.3h0m24 -16.6h0m-29.7 5.1h0m6 12.7h0m17.8 -13.9h0m-15.3 3.7h0m22.3 20.4h0m-15.1 -1.6h0m-15.2 -17.3h0m2.4 -3.5h0m5.2 16.3h0m-12.5 -2.2h0m41.9 -21.4h0m-21.9 5.3h0m-6.2 15.6h0m-14.8 5.2h0m30.4 -19.6h0m-24.8 22.1h0m-3.4 -22.2h0m33.1 1.9h0m-32.5 12.7h0m18 1.6h0m9 -20h0m-32.9 2.8h0m17.3 7.5h0m-11.1 -9.1h0m29.8 -0.7h0m-27.6 -2.5h0m17 28.5h0m10.7 -0.7h0m-18.2 -5.4h0m0.2 -1.3h0m2.3 -10.8h0m-6 20.8h0m22.4 -33.8h0m-31 26.3h0m26 2.3h0m-5.9 -22.6h0m-16.4 23.4h0m34.8 3.5h0m-5.7 -25.5h0m-23.5 0.3h0m25.4 0h0m-8.9 -4.2h0m-25.9 24.2h0m6.7 -20.1h0m1.5 -4.9h0m9.6 5.9h0m-16.2 14.1h0m16.9 5.8h0m-17.2 -15.5h0m33.4 16.6h0m-37.2 -14.4h0m25.2 16.3h0m-0.1 -27.6h0m-9.5 0.9h0m-7.8 13.4h0" stroke="#ff0000" stroke-width="2.40" stroke-linecap="round" fill="none"/>
</g>
<g clip-path="url(#c23)">
<path d="M512 393.5h0m11.2 18.9h0m10.5 8h0m-0.8 -2.1h0m-2.7 -1.5h0m-11.6 6.4h0m-1 -17h0m66.8 33.9h0m-37.7 -7.4h0m50.6 14.7h0m-34 -12h0m-15.3 -3.9h0m-2 4.2h0m16.3 1.3h0m-18.8 -6.2h0m26.5 -4.5h0m9.4 2.9h0m5.6 8.2h0m-34.1 -10.8h0m-14.7 8.7h0m41.2 -1.5h0m-3.3 3.2h0m8.9 -6.7h0m-16.1 0.4h0m27.8 15.2h0m-35.6 -7.1h0m-5.9 -1.8h0m35.3 4.7h0m-44.5 -16.3h0m15.4 0.6h0m-11 5.6h0m44.6 -10.7h0m-0.3 11.2h0m-6.7 3.2h0m-47 -16.8h0m13.6 10.4h0m4.9 -4.8h0m29.1 10.1h0m-34.4 4.2h0m0.4 -6h0m-7.3 -0.6h0m32 8.9h0m11.6 -15.1h0m-22.9 27.1h0m-27 -22.6h0m52.6 0.6h0m-10.2 3.1h0m-3 -3.6h0m-2 -7.7h0m22.2 11.6h0m-23.2 3.9h0m8.8 -3.6h0m6.1 -15.7h0m-44.2 1.3h0m11.2 22.7h0m37.7 -13.4h0m-46.1 4.5h0m11.8 -18.2h0m13.7 7.5h0m13.4 23h0m-44.8 -24.3h0m14.9 18h0m88.1 -15.4h0m13.9 -7.1h0m2.8 24.9h0m-4.8 -11.7h0m-1 -6.9h0m-40.7 2h0m20.7 3.7h0m36.3 -14.3h0m-12.6 3.6h0m5.9 12.5h0m-15.8 -1.5h0m19.2 5.8h0m-22.5 -10.5h0m-18.2 1.2h0m9.8 -0.3h0m22.4 -10.5h0m4.5 7.4h0m-21 -5.8h0m-29.5 7.6h0m32.5 -2.2h0m-19.7 -0.1h0m1.4 -3.6h0m38.3 6.2h0m4.5 4.1h0m-31.7 -1.9h0m11.7 3.8h0m-17.2 0.8h0m27.6 -2.3h0m-1.8 -3.6h0m2.1 9.8h0m-19.2 -11.5h0m18.7 0.2h0m-38.5 -11.4h0m49.5 7.6h0m-19.4 6.3h0m-1.3 -8.5h0m-17.5 0.6h0m16.7 15.3h0m-18.3 -4.9h0m39.1 -3.3h0m-10 -0.6h0m6.3 -2.8h0m-12 1.6h0m8.2 7.9h0m-18.7 -4.8h0m27.1 0h0m-7.6 9.3h0m-1.2 -15.4h0m-55.5 -2.7h0m62.1 8.2h0m-60.6 -8.7h0m47.4 6.4h0m-2.4 8.3h0m0.8 -6.4h0m-35.9 0h0m36.2 3.3h0m1.5 -14.6h0m-6.3 15.4h0m-14.1 3.8h0m10.4 -6.4h0m-23 9h0m-20.6 -22.2h0m40.8 2.2h0m16.9 -0.5h0m9.7 15.7h0m-45.3 9h0m33.8 -16.2h0m6.6 6.4h0m-33.2 -1.2h0m26.3 -1.9h0m-9.4 -1.2h0m-10.9 -1.3h0m31.2 4.8h0m-38.5 -2h0m30.1 -4.3h0m2.2 2.6h0m-17.3 5.8h0m-6.5 -24.8h0m16.8 25.2h0m13.2 -25.7h0m-17.4 7.7h0m-18.3 16.8h0m-11.1 -14.3h0m23 -4.5h0m1.1 30.1h0m-1.2 -3.4h0m-5.4 -13.2h0m24.3 -2.6h0m3 5.2h0m-24.7 -13.2h0m3.3 5.9h0m-15.7 10.1h0m-10.8 -6.5h0m40.9 4.8h0m3.7 -4.9h0m-8 12h0m-48.8 -16.6h0m35.9 6.7h0m-23.1 -0.3h0m22 4.7h0m25.8 -10.4h0m-3.7 8.9h0m-6.5 -19.6h0m-5.9 25.9h0m7.9 -17.2h0m-18.9 3h0m-13.9 1.6h0m44.7 4.9h0m-24.3 4.9h0m-31.9 -15.4h0m55.8 2.7h0m-7.9 -3.1h0m-16.4 -2.6h0m24.1 11.6h0m-36.4 7.3h0m-13.1 -2h0m-17.1 -7h0m65 0.5h0m-39.9 1.7h0m-12.9 -8.4h0m50.9 7h0m-11.9 -21.1h0m12.7 23.6h0m-29.7 -6.9h0m20.1 10.6h0m-24.5 -6.1h0m31.5 -3.4h0m6.1 -3.1h0m-6.9 8.8h0m2.9 1.7h0m-1.5 -6.1h0m-3.9 -9.1h0m-16.8 2.3h0m21.3 7h0m-11.7 -5.6h0m-13.6 9.5h0m16 6.7h0m-31 -13.3h0m11.8 8.5h0m4.5 -7.3h0m4.6 2.6h0m12.4 1.7h0m-17.9 8.7h0m0.5 -10.5h0m-14 -9.1h0m27.7 5.3h0m-52 4.9h0m58.4 3.6h0m-28.6 -1.1h0m27.3 -14.3h0m6.9 12h0m1.3 -1.2h0m-30.3 10.7h0m-8.8 -16.8h0m-12.1 12.3h0m46.4 -11.2h0m-17.5 12.4h0m3.6 -11.8h0m-14.1 -1.9h0m30.3 2.5h0m-66.4 4.8h0m66.2 -13.6h0m-10.7 9.5h0m9.3 12.3h0m-24.3 2.7h0m-16.3 -2.3h0m28.2 -13.8h0m11.8 7.7h0m-5.5 -10.6h0m-9.3 7.7h0m18.5 0.8h0m-2.1 -1h0m-27.6 6.6h0m29.8 -4.2h0m-10.6 -0.8h0m6.5 5h0m2.5 -14.6h0m-5.1 -4.9h0m3.6 15.3h0m-15.9 -16h0m-20.6 10.9h0m34.6 -7.2h0m-33.3 -0.9h0m11.7 10.7h0m-21.9 6.3h0m-7.4 -4.6h0m54.3 -7h0m-45.1 15.5h0m39.1 -0.7h0m-1.8 -7.9h0m-38.3 -3.3h0m46.2 3.9h0m1.2 -12.6h0m1.1 21.3h0m-41.5 -19.9h0m43.1 20.9h0m-43 -6.7h0m30.4 9.3h0m1.9 -27.2h0m8.6 8.3h0m-9.9 -8.1h0m-40.5 14.8h0m-1.7 5.3h0m52.4 -21.2h0m-5.2 9.6h0m5.2 22.5h0m-14.8 -9.2h0m11.6 -14.7h0m-64 12.9h0m62.9 -19.8h0m6.7 6.4h0m-45.6 -7.4h0m26.7 5.6h0m-44 -5h0m23.2 11.7h0m4.2 -2.3h0m5.7 -2.3h0m23.8 -4.6h0m-0.8 19h0m1.8 -15.1h0m-0.5 -1.5h0m-37.2 12.1h0m18.7 -16.9h0m-16.5 26.7h0m-7.3 -14.9h0m36.9 -0.1h0m1 3.4h0m9 -17.8h0m-33.2 -1.5h0m22.8 19h0m-6.1 -11.7h0m-25.3 12h0m-20.1 -11.3h0m39.1 5.9h0m16.8 2.6h0m-8.1 -2.8h0m11 -9.3h0m-28.6 14.6h0m-7.2 -4h0m14.7 10.5h0m15.5 -10.5h0m-10.3 1.9h0m-33.4 6.2h0m31.3 -12.9h0m-12.2 8.2h0m25 0.2h0m-2.2 17.3h0m-13 -8.3h0m20.3 -17h0m-12.4 11.3h0m-9.5 -15.1h0m14.9 8h0m-2.9 10h0m1.3 -9.6h0m-9.7 -6.7h0m18.3 22.3h0m-62.7 -14.3h0m36.6 1.7h0m1.4 -5.9h0m11 -10.6h0" stroke="#000000" stroke-width="2.40" stroke-linecap="round" fill="none"/>
</g>
<g clip-path="url(#c23)">
<path d="M495 395.5h0m40 28h0m-9 3.3h0m-7.5 -12h0m1.2 -3.7h0m9.3 14.6h0m0.1 -10.2h0m3 8.8h0m2.7 0.7h0m60.2 2.7h0m-14.8 6.9h0m-15.5 -5.4h0m12.7 11.4h0m-18.3 3.6h0m-9.4 0.6h0m23.9 -17.2h0m4.6 7.8h0m5.1 2.8h0m-45.4 -2.1h0m23 -8.2h0m35.4 6.8h0m-44.7 -0.9h0m-14.7 1.7h0m56.3 11.7h0m-12.7 -20.4h0m-2.8 4.2h0m0.8 5.2h0m6.2 -5.2h0m-43.6 4.4h0m50.9 -2.3h0m0.4 1.8h0m-57 -1.4h0m57.6 -0.4h0m-45 -2.8h0m-7.1 -1h0m28.7 -1.8h0m-16.8 12.3h0m24.2 -2h0m-18.9 1.8h0m0.5 -14.5h0m29.3 9.3h0m9.8 4.5h0m-61.3 0.8h0m51.9 -12.5h0m-15.6 15.3h0m-14 -9h0m19.8 -1.8h0m-34.8 4.9h0m4.3 -19.5h0m36.5 21.6h0m-44.5 -7h0m49.3 0.4h0m-37.5 -8.4h0m48.2 8h0m-50.7 4.9h0m-4.1 -2.7h0m39.3 0.2h0m4.2 3.7h0m-22.8 -0.9h0m22.9 -3.1h0m-7.7 -1.1h0m4.5 -6.5h0m12.9 -1.8h0m-36.4 14.3h0m10.6 5.4h0m31.8 -17.3h0m18.2 5.5h0m19.1 3.6h0m24.6 -23h0m-64 13.7h0m68.1 -6.7h0m-41.1 10.9h0m-26.3 9.5h0m34.9 -19.6h0m24.7 7.6h0m-53.6 -1.3h0m30.3 -7.2h0m7.6 15.2h0m10.7 -11.6h0m-4.8 17.2h0m2.9 -12.4h0m-46.8 -21.2h0m43 28.3h0m19 -2.3h0m-61.1 4.5h0m29.2 -3.7h0m-38.8 -5.1h0m51.2 -3.8h0m-0.9 -6.8h0m16.5 11.5h0m-19.6 7.1h0m-3.5 -19.5h0m-9.9 2.1h0m26.2 1.4h0m-9.9 10.6h0m-3.2 2.5h0m5.3 -2.8h0m3.2 -9.9h0m15.1 6.3h0m-16.5 -6h0m-3 -5.9h0m-34.9 11.3h0m42 2.4h0m14 5.3h0m-18.4 1.3h0m-1.4 -3.6h0m18.2 0.5h0m-64.6 4.7h0m66.4 -13.3h0m-29.2 0.3h0m-0.7 16.4h0m-6.6 -10.3h0m9.5 2.9h0m16.8 -2h0m-20.1 0.9h0m19.5 -19.6h0m-24.9 12.5h0m35.3 8.1h0m-2.4 -5.9h0m-0.2 14.9h0m-22.7 -25.6h0m6.1 20.4h0m7.5 -20.3h0m-24.2 4h0m-19.3 8.2h0m45.5 4.2h0m5.7 -1.7h0m-46 -0.8h0m23.1 -4.4h0m14.7 17.3h0m-39.7 -5h0m33.4 -1.2h0m-33.6 -12.3h0m50.8 10.7h0m-56.6 -15.5h0m49.6 7.5h0m-40.3 -2h0m46.5 -3h0m-27 -2.8h0m24 7h0m-5.4 0.1h0m-1 -7.2h0m3.5 10.8h0m9.4 -8.9h0m-13 5.8h0m1.9 -7.9h0m-48.3 5.9h0m24.8 -0.6h0m-0.9 6.1h0m31.8 5.3h0m-19.8 -13.7h0m14.9 -2.3h0m-1.1 8.1h0m-22.6 -5.4h0m-32.3 0.9h0m25.9 -0.1h0m33.2 -0.4h0m5.1 10.2h0m-1.6 -4.4h0m2.1 3h0m-31.7 -5.3h0m25.4 -4.7h0m-5.6 2.9h0m8.3 4.9h0m-7 3.7h0m-25.6 -8.9h0m27.6 1.6h0m-11 -2.3h0m-1.7 -10.3h0m-11.4 8.1h0m20.3 16h0m-4.2 -4.8h0m0.8 -7.1h0m-11.2 -1.8h0m20.6 -10h0m-47.9 3.8h0m25.3 7.3h0m-13.8 -1.1h0m15.2 -6.3h0m26.5 17.5h0m-11.8 -0.6h0m-28.4 -5.8h0m24.3 4.9h0m-21.6 -5.6h0m-21.9 2h0m42.7 -8.1h0m0 7h0m-0.4 3.6h0m8.6 0.2h0m8.3 -16h0m-9.2 1.6h0m-6.2 8.4h0m-20.8 -3.7h0m25.2 9.9h0m-3.2 -3.7h0m9.8 -1.3h0m-10.3 -0.6h0m0.8 12.4h0m4.1 -10.8h0m-5.4 -13.4h0m-11.5 21.4h0m24.3 -12.5h0m-1.3 -2.7h0m-29.3 4.9h0m27.2 8.7h0m-7.9 -5.7h0m-10.7 -4.5h0m8.3 2.9h0m16.4 8.6h0m-8 -17.1h0m4.9 -4.3h0m-16.7 5.9h0m6.4 -1.6h0m-25.7 9.8h0m22.8 -4.5h0m2.7 -10.2h0m-42.9 9h0m45.6 0.7h0m3.7 -3.4h0m-2.5 -0.5h0m-6.4 16.2h0m-5.5 -13.4h0m21.3 3.9h0m-23.2 4.3h0m14.6 -11.3h0m8.4 -5.8h0m-15.6 8.8h0m15.1 8.7h0m2.1 -0.9h0m-29.4 1.9h0m1.8 -10.3h0m-12.2 -3.2h0m39.8 -7.3h0m-29 18h0m23.6 5.6h0m-2.8 -13.9h0m-14.8 5.2h0m-11.5 -7.9h0m-9.2 4.5h0m33 17.2h0m-48 -4.7h0m18.2 -13.2h0m9.8 -8.3h0m24.2 14.3h0m0.6 1h0m-24.7 1.7h0m28 -8.1h0m-58.1 4.8h0m0 -12.2h0m44.3 3h0m10.7 0.3h0m-6.2 18.8h0m10.5 -18.4h0m-25 0.3h0m17.3 5h0m-17.5 5.1h0m25.5 -2.5h0m-38.9 1h0m34.8 -0.6h0m4.5 -5.3h0m-8.6 9.7h0m0.5 -4.5h0m-6.7 -8.3h0m15.2 -3.6h0m-8 13.4h0m-15.4 -10.9h0m-6 10.3h0m-15.1 6.8h0m-14.4 -16.5h0m57.6 7.7h0m-52.3 -10.6h0m40.2 6.1h0m1.8 -4.2h0m-58.8 -0.7h0m57.7 13.9h0m-16.2 -4.2h0m-2.5 7h0m15.6 -9.9h0m-3.2 7.9h0m18.8 -6h0m-26.2 -0.7h0m8.2 11.1h0m-20.8 0.8h0m20.2 -12.3h0m-1.6 0.5h0m-36.8 13.4h0m54.8 -16.7h0m-32.7 0.1h0m22.1 3.2h0m-26.8 -7.7h0m-12 -1h0m-1.3 18.3h0m-1.1 -3h0m3.1 -12h0m35 10.3h0m16.4 -9.5h0m-1.2 1.7h0m-5.8 14h0m-26.2 -13.5h0m28.4 -6.9h0m4.1 23.6h0m-26.8 -22.6h0m4.1 16.7h0m-32.8 -8.8h0m55.9 -7.3h0m-71.6 3.4h0m4.6 7.5h0m50.7 -7.9h0m-9.1 1.4h0m24.4 3h0m-2 4.5h0m-8.8 -12.7h0m-18.6 21.1h0m7.2 -21.1h0m23.3 8.7h0m-32.8 3h0m29.8 8.9h0m-42 -17.9h0m32.5 21.2h0m-29.5 -19.9h0m20.5 5.7h0m-16.6 6.9h0m29.5 -17h0m-3.6 3.8h0m-15 14.6h0m-4.2 3.9h0m2.2 -7.4h0m8.8 -0.3h0m-27.1 -0.8h0m3.6 -3.3h0m34.6 -4.6h0m-0.7 9.4h0m1.9 -16.2h0m-13.7 11.7h0m3.6 -7.5h0m10.3 11h0m-8.4 -4.8h0m-4.3 -6.1h0m4.5 16.2h0m-29.8 -6.4h0m42.3 -9.5h0m-13.3 -2.7h0m-21.6 12.7h0m35.4 -11.1h0m-49.4 13.4h0m20.2 -5.6h0m31.6 -4.5h0m-36.4 13.7h0m-23.6 -3.8h0m30.2 -11.2h0m-21.7 7.9h0m4.7 -15.6h0m40.7 8.5h0m5.7 -3.6h0m-34.6 23.1h0m-24.1 -19.8h0m60.2 7h0m-68.9 1.1h0m64.6 0.5h0m-45.1 -5.8h0m-22.4 -0.6h0m25.6 14.1h0m28.3 -3.6h0m-39.6 -10.1h0m32.1 1.1h0m-1.6 -6.6h0m-22.8 7.9h0m38.6 2.9h0m-39.9 -4.9h0m18.5 9h0m13.4 -7.2h0m-2.5 8h0m-15.8 -3.6h0m-21.7 -9.8h0m55.5 11.2h0m-18.7 -4.7h0m-12.6 -1.8h0m-30.4 7.2h0m19.5 -4.2h0m18.2 9h0m6 -13h0m6.7 -0.5h0m-6.9 -4.7h0m4.7 2.4h0m-6.2 1.6h0m-0.7 4.2h0m-17.5 -12.9h0m-20.4 20.1h0m49.6 -6.2h0m11.6 1.6h0" stroke="#0000ff" stroke-width="2.40" stroke-linecap="round" fill="none"/>
</g>
<g clip-path="url(#c23)">
<path d="M519 412.8h0m4.1 2.6h0m8 6.6h0m-10.9 -13.9h0m11.1 13.4h0m-14.5 -18.1h0m61.5 28.9h0m-17.1 -4.4h0m13.6 -4.7h0m-14.7 7.9h0m-13.4 3.8h0m0.7 -9.9h0m32.1 -1.5h0m-34.6 -1.3h0m-9.4 15.1h0m28.9 -11.1h0m-13.4 3.2h0m5.8 -7.2h0m-15.6 9.8h0m16.7 4h0m-15.8 -8.3h0m22.6 12.3h0m-29.4 -2.8h0m27.2 -7.4h0m-0.2 -9.2h0m0.5 17.8h0m4.2 -6.9h0m-14.4 0.7h0m16 9.7h0m4 -16.5h0m4.5 6.4h0m-15.4 -1.1h0m17.9 -4.4h0m-5.7 10.1h0m-12 0.6h0m-25.7 -16h0m34 7.5h0m-19.4 -6.5h0m20.4 -3.7h0m-14.1 8.2h0m-20.8 -8.8h0m4.8 13.9h0m-3.1 2.4h0m-2.1 -6.5h0m19.8 -4.6h0m1.5 2.3h0m-6.7 6.8h0m-5.3 -8.7h0m-7.3 11.9h0m35.7 -10.1h0m21.2 -18h0m1.3 22.3h0m15.9 -7.2h0m-3 -8.9h0m-5.4 8.9h0m-7.4 -4.2h0m2.5 -1.1h0m-8 -9.3h0m22.3 -5.2h0m-17.4 6.8h0m9.3 7.7h0m-4.4 3.5h0m1.9 -6.2h0m-0.6 0.3h0m6.8 1.1h0m1.4 -8.1h0m1.7 3.8h0m0.5 7.5h0m-3.2 -9.4h0m-10.6 5.8h0m-9.6 0.6h0m24 -6.8h0m-14.7 9.1h0m-5 -7.9h0m18.2 7.6h0m-12.6 -20h0m-1.1 10.7h0m3.4 -1.2h0m7.3 13.4h0m-4.4 -8.2h0m-11.1 12.4h0m7 -2.7h0m6.4 -12.5h0m-13.5 -4.9h0m-4.3 10.3h0m15.1 -4.9h0m7.6 10h0m0.3 10.1h0m-10.6 -29.1h0m-9.2 26.5h0m8 -6.2h0m0.9 -5.2h0m8.2 13.4h0m-2.1 -2.3h0m1 -12.8h0m-1 8.6h0m5.5 -7.1h0m-17.6 -4.3h0m-9.1 6.7h0m8.5 -3.5h0m12.2 13.9h0m-1 -10h0m3.2 -20.9h0m1.7 7.6h0m-6.1 12h0m-8.3 12.6h0m4.5 -10.7h0m-7.2 -5.2h0m57.8 -14.9h0m-9.8 6.6h0m28.1 -4.3h0m-49.9 15.4h0m40 -12.6h0m13.8 -2h0m-8.4 5.1h0m-1.4 -1.1h0m4.2 -11.7h0m-12.3 17.8h0m4.4 -5.2h0m-34 6.3h0m46.7 -19h0m-1.8 25.8h0m-0.5 -19.8h0m-17.1 -0.2h0m-27 10.6h0m3.1 -6.9h0m42.8 -5.5h0m-18.4 8.3h0m14.1 -7.7h0m-21.1 7.5h0m4.7 -0.9h0m-3.7 -9.8h0m6.3 10.1h0m4.1 8.6h0m1.1 -4.5h0m5.2 4.2h0m5.6 -3.7h0m-8.6 -9.2h0m10.3 -11.5h0m-33.3 9.6h0m20.2 2.7h0m12.3 -12.3h0m-21.8 10h0m19.7 -2.8h0m-34.2 15.1h0m25.8 -5.7h0m-39 1.7h0m37.6 -13.7h0m1.1 13.9h0m9.1 -2.5h0m-4.2 1.1h0m-23.4 7.7h0m19.3 -26.7h0m5.5 11.7h0m-10.2 18.4h0m8 -10h0m-9.2 -8.8h0m3.3 7.2h0m15.7 3h0m-18.4 -10.8h0m2 -3.4h0m-18.7 4.8h0m-4.1 11.4h0m34.1 -17.7h0m4.9 6.9h0m-16.5 1h0m3.2 3.3h0m8.5 -6.8h0m-42 13h0m35.4 -3.6h0m10.2 -10.7h0m-16.2 6.5h0m-29 -9.6h0m28.6 8.4h0m4.4 7.9h0m2 -9.2h0m4.2 1.2h0m-47.8 9h0m39.7 -2.7h0m-14.4 2h0m5.9 10.1h0m9.6 -21.1h0m-12 -8.8h0m-12.8 31.3h0m2.5 -23.5h0m1.6 16.6h0m18.6 -12.4h0m13.2 -3.3h0m-16.2 7.9h0m10 5.5h0m-5.2 -9.4h0m0.7 -1.8h0m1.2 -8.2h0m-18.4 14.9h0m3.2 -11.8h0m13.7 3.8h0m-6.2 7.3h0m4.7 -13.5h0m13.9 4.7h0m-3.5 10.8h0m-20.6 -6.4h0m7.1 -4.9h0m-10 8.6h0m-0.4 7.3h0m19.2 -12.6h0m3.1 -1.1h0m3.2 2.9h0m3.7 0.4h0m-0.9 -0.7h0m-37.7 3.7h0m1.6 -1.4h0m33.8 -3.1h0m0.1 -13.3h0m-52 37.7h0m43.3 -32.1h0m-2.6 14.6h0m1.9 -7.2h0m-32.6 8.1h0m-6.7 7.4h0m29.5 -8.3h0m-17.8 -2.7h0m16.6 -7.4h0m-36.2 17h0m55.5 -7.8h0m-7.3 -4.7h0m-25 8.5h0m26.1 -8.6h0m3.4 1.7h0m-8.1 -4.7h0m14.3 -13.9h0m-1 13.5h0m-7.3 -5.5h0m-14.5 5.3h0m23.9 -0.6h0m-15.1 -1.5h0m9.1 6.7h0m5.8 -8.4h0m-31.4 10.2h0m12.3 -2.5h0m-15.8 -3.7h0m-11.9 3.5h0m25.6 6.3h0m16.9 0h0m-44.3 -7h0m44.1 2.1h0m-32.2 2.8h0m22.3 7.4h0m0.9 -33.1h0m-2 28.5h0m1.8 -6.5h0m-2 4.8h0m-29 -1.6h0m39.5 -15.1h0m0.8 -3.6h0m-1.6 17.2h0m-30.4 -5h0m33.4 -1h0m2.9 2.1h0m-32.5 6.6h0m29.6 -11.9h0m-0.6 5h0m-5.7 -0.1h0m1 0.4h0m-2 -2h0m-37.9 20.3h0m-1.4 -8.4h0m39.9 -0.7h0m7.6 -4.1h0m-9.1 1.9h0m-36.2 -15.1h0m11.1 23h0m27.6 -7.8h0m4.3 -5.5h0m-3.5 -7.4h0m-45 13.9h0m35.3 -15.7h0m-1 2.2h0m-20 11.3h0m37 -23h0m-25.1 23.3h0m27.1 -27.1h0m-38.8 31.3h0m38.9 -13.7h0m-32.1 5.5h0m7.7 1.9h0m7.8 -2.9h0m-7.8 -14.7h0m-18.1 31.5h0m39.6 -17.8h0m-16 3.4h0m9.6 -2.6h0m-12.8 -8.4h0m-31.3 16.5h0m34.3 -4.7h0m-37.9 -0.8h0m32.6 9.6h0m14.2 -5.2h0m-30.8 -10.7h0m31.5 1.5h0m-39.5 13.2h0m29.4 -11.2h0m7.2 4h0m-10.1 -3.8h0m-13.9 -0.6h0m-16.3 0.4h0m43.5 7.1h0m-0.3 -6.4h0m5 -10h0m-6.4 -4.5h0m8 -0.3h0m-53.3 17.6h0m52 -9.1h0m-31.4 13.4h0m4.8 -5.8h0m29.4 -11.1h0m-42.5 1.2h0m19.7 14h0m12.6 -4.3h0m-9.8 2.4h0m19.6 -16h0m-0.8 8.6h0m-6 -7.4h0m-11.1 26.6h0m-2.3 -15.4h0m-34 15.8h0m17.5 -5.2h0m23.9 -18.2h0m13.2 13.2h0m-0.6 2.8h0m-19.2 -0.9h0m-5.6 -5h0m20.1 -10.3h0m6.5 1h0m-8.7 -2.9h0m-42.6 17.9h0m42.8 -1.5h0m-8.4 -1.9h0m10.4 -17.1h0m2.6 14.8h0m-6.4 -9.9h0m0 1.6h0m-41.8 15.2h0m49.8 -35.3h0m1.3 17.4h0m-21.9 1h0m22.7 8.5h0m-7.4 -6.1h0m-21.3 11h0m13.6 -12.4h0m2.3 13.2h0m-7.8 -10.3h0m0.2 11.5h0m-17.3 -7.2h0m-4.4 2.1h0m17.7 -2h0m0.8 0.3h0m-18.9 3.1h0m41.2 6.7h0m-33 1.4h0m4 -12.3h0m-27.4 2.5h0m45.6 2.2h0m-12 -0.2h0m13.3 4.3h0m0.1 -5.9h0m5.8 -3.2h0m-24.7 -0.6h0m-0.6 4.5h0m-23 11.8h0m25 -14.6h0m1.3 -1.8h0m-7.2 4.6h0m27.7 5.9h0m-13.6 -3.2h0m9 -12.9h0m-9.3 6.1h0m17.1 -7.7h0m-30.8 13.2h0m33.6 -14.6h0m-27.5 19.8h0m14.5 -7.8h0m-5.9 -12.1h0m-3.2 9.5h0m-14.5 -1.9h0m-7.4 -9.3h0m37.6 -0.2h0m-2.6 4.5h0m3.9 17h0m-23.3 -1.4h0m24.9 -6.9h0m-11.2 9.5h0m1.6 -13.6h0m-21 4.6h0m13.1 0h0m-7.8 -2.6h0m-17.2 10.3h0m37.8 -9.9h0m1.1 14.8h0m-15.7 -15.4h0m22.3 -11h0m0.7 14.5h0m-25.7 5.7h0m24.7 -1.7h0m-18.2 11.4h0m18.6 -4.8h0m-27 -18.6h0m2.2 4.2h0m-4.9 19.1h0m26.6 -23.8h0m-20.6 25.4h0m10.7 -24.6h0m14.1 8.9h0m-56 15.1h0m46 -17.9h0m-34.7 20.4h0m-9.6 -7.5h0m20.1 -5.7h0m-24.3 11.6h0m5.5 -18.8h0m41.9 0.2h0m-5.8 0.1h0m-10.9 -11.2h0m9.9 -1.4h0m-13.7 22.1h0m24.6 -25.7h0m-6.3 11.3h0m12 7.7h0m-16 -10.5h0m-12.8 15.2h0m19.4 -17.8h0m-26.8 2.9h0m28 8.7h0m-11.5 3.9h0m-24.8 -17.2h0m8.2 9h0m17.9 -2h0m-15.5 -4h0m29.2 14.5h0m-46.1 -5.6h0m23.7 0.1h0m-31.3 6.8h0m58.2 -9.9h0m-20.8 11.9h0m1.6 -9h0m12 8.5h0m-5 -18.6h0m13.1 23h0m-38.1 -14.5h0m23.1 -5.7h0m-0.1 1.6h0m-23.7 19.5h0m37.4 -15.5h0m0.9 -4.7h0m-0.5 8.3h0m-30.8 -4.6h0m19.1 6.7h0m-3.4 -4.7h0m-4.9 -6.4h0m-9.8 13.3h0m24 -9.5h0m-13.7 1.1h0m18.3 1.8h0m-9.6 14h0m-13.8 -9.7h0m-8.9 3.2h0m-17.9 -2.2h0m31.9 -11.3h0m19.6 -6.3h0m-6.9 12.4h0m3.1 6.6h0m-14.1 -3.3h0m-1.5 -11.3h0m-12.5 8.5h0m10.8 6.4h0m-22.7 -6.7h0m12.7 2.4h0m-13.3 10.6h0m29 -18.7h0m16 -1.3h0m-34.5 6.8h0m1 13.1h0m16 -7.1h0m3.6 -21.7h0m2.4 7.4h0m-2.7 15.2h0m3.6 -15.3h0m-28.6 3.5h0m34.9 -3.2h0m-3.2 11.5h0m-19.2 -7.3h0m-3.7 -0.8h0m4.8 1.6h0m-18.5 1.8h0m2.9 -9.1h0m39.9 -4.8h0m-15.6 19.9h0m-13.6 -10.5h0m31.5 2.2h0m-6.8 2.6h0m-38.2 6h0m15.7 -4.5h0m6.4 2.8h0m16.4 -14.2h0m-40.2 9.6h0m43.6 4.8h0m-5.8 -10.3h0m-19.3 20.3h0m0.5 7.2h0m-13.6 -12.4h0m3.6 -7.2h0m29.6 -13.4h0m-11.1 19.3h0m6 -13.4h0m-9.2 6.6h0m10.9 2.1h0m-4.1 -3.7h0m-13.7 -4h0m-20.9 8.5h0m40.7 -20.6h0m-37.9 19.7h0m22.6 -1.5h0m23.6 -16.8h0m-1 17h0m-32.4 -7.4h0m19.5 -7.6h0m1.7 29.8h0m-10.5 -21.8h0m3.8 3.3h0m7 10.1h0m9 -4.1h0m-8.5 -17.5h0m-7.3 1.4h0m-34.9 21.3h0m30.5 -15.3h0m-14.1 14.6h0m31.7 -15.5h0m-2.6 2.1h0m-19.7 3.3h0m-26.4 7.1h0m19.1 -0.1h0m30.4 -7.8h0m-51.7 9.4h0m24.9 0.9h0m18.7 0h0m7.3 -23.1h0m-1.8 22.8h0m-44.4 2.6h0m-6.1 8.7h0m38.2 -9.7h0m19.6 -4.8h0m-10.9 6.6h0m-3.5 -6.5h0m-33.5 1.4h0m36.4 -17.9h0m5.8 4.8h0m-15.8 25.6h0m-31.6 -12.3h0m31.6 -18.6h0m10.7 2.4h0m-7.7 11.2h0m14.7 2.1h0m-44.4 12.6h0m43.4 -21.3h0m-29.3 6.2h0m25.1 -5.3h0m-7.6 11.1h0m-39.2 13.4h0m0.4 -12.2h0m43.1 12.5h0m-15.7 -7.6h0m-23.8 -7.5h0m12.6 7.8h0m23.8 -2.5h0m-26.9 -3.4h0m32.2 -8.5h0m-13.8 -0.7h0m3.7 -12.6h0m19.7 6.9h0m-45.7 9.3h0m27.9 -9.5h0m-8.2 9.2h0m21.5 -2.5h0m-40.7 5.6h0m39.4 -0.9h0m-35 9.8h0m-13.9 1.7h0m24.4 0.2h0m10.2 -4.8h0m14 -2.8h0m-52 2.3h0m44 -20.4h0m-11.1 9h0m18.9 -3h0m-2.6 17.2h0m2.3 -10.1h0m-25.4 10.6h0m15.4 2.6h0m4.8 -4.6h0m-3.8 -5.6h0m-13.7 -1.3h0m7.2 -1h0m4.2 10.9h0m4.2 -16.6h0m9.7 -6.1h0m-27.7 11.6h0m-24 8.8h0m38.2 2.1h0m17 -5.1h0m-50.6 12.5h0m43.8 -18.1h0m-46.1 -3.3h0m43.6 -5.3h0m-18.6 13h0m2.6 -14.1h0m10.2 10.2h0m-5.7 -8.6h0m11.5 12.4h0m-16.3 0.5h0m10.3 -0.1h0m5.3 -12.6h0m-10.1 8.2h0m-5.3 7.2h0m13.2 -11.8h0m-22.7 0.6h0m32.3 6.6h0m-19.3 0.4h0m23.9 -0.9h0m-13.5 -0.4h0m4.3 2.7h0m-6.9 -5.9h0m7.5 -7.2h0m-7.5 -10.4h0m-13.1 25.5h0m1.5 -18.4h0m12.5 -3h0m-2.2 22.9h0m-11 -12.5h0m8.6 -7.6h0m3.9 3.7h0m-23.8 13.3h0m-13.8 -9.1h0m17.6 1.3h0m4.8 -3.6h0m6.5 12.8h0m15 -15.8h0m-19 1.4h0m25.7 -0.1h0m-27.7 2h0m24.8 24.6h0m-27.3 -4.3h0m9.8 -9.3h0m-26.6 6.4h0m10.8 -3.5h0m32.1 1.9h0m-38.2 -10.2h0m18.6 7.8h0m-31.2 0.4h0m15.9 -1.8h0m24 -14.8h0m12.2 -4.8h0m-11.7 -4.8h0m-25.8 20h0m7.3 -11.4h0m11.2 5.2h0m-6.3 7.2h0m21.2 -10.3h0m-33.1 23.8h0m43.1 -27.9h0m-34.3 18.7h0m12.1 -8.9h0m22.1 -0.3h0m-14.2 -8.4h0m1 18.3h0m11.5 -0.6h0m-41.3 -16.5h0m21.2 2.1h0m20.5 -6.3h0m-11.7 6.4h0m-0.7 -8.5h0m6.1 3.1h0m-4.1 18.5h0m4.1 1.2h0m-3.9 -7.8h0m-34.1 8.4h0m33.6 -28.2h0m-6.4 15.9h0m18.3 -11.3h0m-18.2 16.1h0m10 8.2h0m-2.7 -22h0m-16.1 13.6h0m-5.7 -4h0m-11.2 4.5h0m15.2 5.2h0m-10.3 -1.9h0m31.2 -7.8h0m6 2.9h0m-27.4 -16.7h0m8.2 12.9h0m4.8 11.2h0m9.2 -7.4h0m6.9 7.5h0m-25.6 -12.8h0m22.9 5.3h0m-37.9 -2h0m34.9 -2.8h0m-49.2 6.3h0m51.9 -11.8h0m-25.9 5.3h0m-10.9 13.1h0m32.8 -32.2h0m-19.5 5.6h0m-7.3 28h0m23.6 -5.9h0m-44.9 -4.9h0m26.8 1.2h0m28.5 -13.1h0m-2.9 11.2h0m-5.7 -14.1h0m-8.6 9h0m-9.8 1.2h0m-24.1 3.7h0m38.1 2.2h0m-4.4 7.9h0m-0.4 -17.9h0m16.1 -7.5h0m-58.1 24.9h0m47.9 10.1h0m-23.7 -14.5h0m-18.3 7.5h0m4.7 -9.1h0m17.9 10.6h0m-19.7 -6.9h0m47.2 -15h0m-44.9 10.2h0m19.4 -9.4h0m8.4 -9.6h0m3.6 33.2h0m6.3 -16.9h0m-2.8 13h0m9.9 -8.6h0m-12.9 -17.7h0m-7.9 1.5h0m-24 26.2h0m35.2 -18.6h0m-2.1 19.9h0m-1.2 -23.9h0m-23.2 19.5h0m34.9 -14h0m-33.2 1.8h0m26.7 -1.7h0m5.7 20.7h0m-27.7 -28h0m8.1 11.8h0m22.4 6.6h0m-19.7 -10h0m1.4 -7.3h0m-7.9 3.1h0m-24.2 19.3h0m48.6 -29.4h0m4.7 29h0m-31.2 -11.2h0m-16.1 -2.3h0m27 15.4h0m-18.6 -21.4h0m31.4 -4.3h0m-19.4 -0.8h0m-1 17h0m2.4 0.1h0m-28.1 6.4h0m17.9 -26.5h0m10.3 21.3h0m20.1 5.8h0m-25.6 -2.7h0m-4.5 7.1h0m29.3 -39.4h0m-20.4 22.4h0m-20.1 8.9h0m9.8 2.5h0m32.4 -24.4h0m-1.8 16.9h0m-10.7 -1.1h0m-19.8 5.5h0m30.6 -3h0m-33.4 -6.5h0m10 -11.3h0m0.8 15.3h0m21.4 4.8h0m-19.4 -15.6h0m5.5 12.8h0m1.6 1.8h0m-14.6 0.5h0m15 4.4h0m-14.5 -18.1h0m-10.6 -2.1h0m41 15h0m-0.3 -17.1h0m-44.6 16h0m36.9 -23.1h0m4.1 11.8h0m-4.4 13.2h0m11.7 -4.1h0m-18 -14.3h0m-27.2 21.7h0m-8.6 0.3h0m53.4 -7.4h0m-11.9 -2.3h0m4.3 -8.9h0m5.7 -1.4h0m-23.4 5.8h0m-20 8.2h0m6.6 -8.9h0m-0.2 16.7h0m19.3 -15.7h0m-10 -2.5h0m21.1 -3.8h0m-11.8 4.2h0m-38.7 15.9h0m24.6 11.5h0m-15.4 -26.7h0m18 5.5h0m5 6.6h0m2.7 -25.5h0m6.5 22.9h0m4.9 4.1h0m-37.8 4h0m40.6 -25.4h0m-35.6 18.1h0m-12.3 6.6h0m37.7 3.9h0m-7.8 -18.9h0m15.5 -10.6h0m6.7 -4.4h0m-24.2 20.4h0m-25.6 -5.3h0m23.9 4.3h0m22 10h0m-22 -23.8h0m-10.3 15.7h0m38.8 5.4h0m-44.8 -2.5h0m-2.4 10.9h0m8.9 -4.3h0m32.3 -24.8h0m-33.5 4.9h0m5.2 8.3h0m13.3 -9.5h0m-16.8 2.2h0m21.3 18.9h0m19.4 -25.6h0m-25 24.5h0m-18.4 -5.8h0m37.2 -22.3h0m-28.8 28.9h0m-6.9 -6.6h0m39.9 -19.5h0m-43.8 20.3h0m-2.6 4.3h0m49.1 1.9h0m-49.3 -24h0m31.8 25.2h0m-6.2 -9.2h0m-1.5 -14.7h0m4 23.5h0m12.4 -29.3h0m-51.1 12.7h0m59.6 -8.2h0m-11 20.9h0m3.8 -4.1h0m4.8 -7.3h0m-47.1 0.7h0m36.3 14.1h0m-11.8 -11.1h0m-33.3 -0.9h0m30.2 10.5h0m8.8 -25.5h0m-7.4 21.3h0m24.5 -24.7h0m-26.7 24.2h0m26.1 -0.4h0m-29.4 -10.9h0m27.9 23.9h0m-25.9 -6.8h0m-3.7 -8h0m-20.7 5.6h0m54.8 -11.2h0m-13.9 9.6h0m-11.2 -28.1h0m-31.1 20.6h0m24 -8.4h0m20.5 -5h0m-23.2 23.3h0m23.8 -21.8h0m-24.1 20.6h0m7.1 -18h0m-14.8 5.2h0m35.6 3h0m-33.4 -6.2h0m14.1 18h0m-7 -9.5h0m31.2 -27.3h0m-28.4 39.6h0m-4.7 -10.9h0m9.9 -15.9h0m-3.8 6.9h0m13.2 -6.9h0m-7.4 26.5h0m-5.1 -10.3h0m-1.3 1.4h0m-28.4 -2.1h0m33.9 2.5h0m0.6 6.2h0m-36 -5.7h0m39.2 6.7h0m-37.2 -15.3h0m12.5 15.5h0m-12.4 -8.1h0m29.3 7.7h0m9.1 -14.8h0m3.3 -7h0m-6.2 -0.4h0m7.9 30h0m-14.1 -23h0m7.7 2.5h0m19.9 7.1h0m-17.4 -22.1h0m-5.3 13.1h0m23.8 -8.6h0m-34.1 1.8h0m-2 16.7h0m20 -15.7h0m-23.8 10.1h0m39.8 8h0m-34 -11.6h0m-23.9 -14.7h0m55.1 8h0m-48.3 5.5h0m12.9 -2.4h0m22 17.8h0m-42.2 0.4h0m36 -1.9h0m-0.7 -15.3h0m0.4 10.5h0m-9.1 -12.9h0m24.4 -2.4h0m-42.4 13h0m16.6 10.9h0m-25.3 -8.2h0m51.4 -21.8h0m-36.2 22.6h0m-3 -4.9h0m2.5 17.2h0m-4 -26.4h0m39 20.8h0m-25.5 -14.9h0m24.4 16.6h0m-34.1 -2.3h0m-11.1 -15.4h0m48.9 16.7h0m-52.5 -0.5h0m34.9 -14.7h0m-14.9 1h0m9.9 16.3h0m-30.8 -14.7h0m20.8 -8h0m29.9 20.7h0m-9.3 -25.2h0m-40.1 10.7h0m17 -2.5h0m30.1 -14.8h0m-25.8 28.6h0m-19.7 -3.5h0m9.7 -13h0m-0.8 17h0m10.4 -20h0m15.4 -3.8h0m-28.7 11.3h0m11.8 2h0m-12 2.5h0m50.7 1.9h0m-12.7 -17.5h0m-11.7 17.2h0m-16 -16.6h0m19.5 22h0m11 -17.4h0m7 11.4h0m2 -28.2h0m-36.2 36.4h0m0.2 -7.1h0m-22.3 -1.2h0m0.8 1.4h0m21.2 11.2h0m33.9 -30.9h0m-33.4 22.2h0m7.4 -18.3h0m5.1 22.3h0m-15.2 -0.2h0m-18.7 -9.5h0m32.3 11.7h0m-14.4 -27.4h0m-2.1 21.4h0m8.7 -12.7h0m32.7 20.4h0m-48.3 -4.7h0m45.8 -5.3h0m-40.3 -11.4h0m2.3 5.5h0m30.4 13h0m-42.7 3.3h0m20.2 -5.3h0m13.7 -20.7h0m14.1 -5.5h0m-11.3 3.6h0m-37.3 6.9h0m37.6 0h0m16.9 3.2h0m-31.7 -0.5h0m-22.4 5.4h0m7.1 -11.2h0m-2.8 18.4h0m28.5 -25.8h0m-8.4 3.9h0m0.1 10.2h0m-28.1 14.4h0m1.1 -2h0m26.7 -17.1h0m9.4 14.5h0m4.2 -12.8h0m-39 15.4h0m15.4 -14.3h0m23.7 3.2h0m-22.7 -13.5h0m-10.3 30.4h0m11.7 -12.5h0m-5.7 -11.9h0m2.7 12.1h0m-1 -2.4h0m14.1 -9.5h0m-10.9 -1.9h0m-17.4 19.6h0m14.4 -7.2h0m-8.8 0.6h0m5.5 8.9h0m40.7 -4.2h0m-39.4 -8.8h0m1.6 6.5h0m27 0.9h0m-42.8 0h0m52.3 1.4h0m-39.3 -9.5h0m-10.8 -1.3h0m33.8 9.4h0m-12.7 -13h0m-8.1 24.1h0m37.4 -34.1h0m-13.7 26.4h0m-15.4 -27.5h0m23.5 5.6h0m-3.8 -6.3h0m8.8 11.8h0m-1.8 -9.3h0m-52.7 15.4h0m13.4 12.5h0m21.9 -22h0m17.8 3h0m-51.1 5.1h0m22.7 -4.8h0m17.7 13.6h0m-31.8 -0.8h0m34.3 -6.3h0m-1.4 -27.1h0m-43.6 41.4h0m13.9 -18.6h0m25.1 7.9h0m-8.9 -7.6h0m-12.1 1.7h0m23.9 8.8h0m3.6 -25.1h0m-18.2 25.8h0m8.7 -16.6h0m-24.2 14h0m5.3 7.3h0m-1.8 -0.8h0m19.6 -2.7h0m16.4 -5.5h0m-15.4 -14.4h0m-9.2 3.9h0m11 -8.5h0m22.3 -5h0m-25.8 12.3h0m-0.1 15.5h0m20.1 -24.9h0m-10.7 23.7h0m-18.1 -19.9h0m1 12.5h0m-1 8.2h0m7.2 -19h0m-15.7 27.9h0m2.8 -16.7h0m-10.3 -5.5h0m36 -9.8h0m7.4 18.6h0m-46.9 2.4h0m23 -18.6h0m16.8 -2.4h0m-38.4 18.5h0m11.5 -6h0m21 -7.8h0m-31.1 11.3h0m8.8 9.5h0m35 0.6h0m-46.8 -14.1h0m5.6 10.9h0m-2.5 6.4h0m19.9 -2.2h0m-2.6 -15.1h0m2.1 20.9h0m-11.1 -6.6h0m23.1 -27h0m-6.1 17.7h0m-19.5 12.8h0m36.1 -38.6h0m-40.3 30.4h0m7.2 -9.2h0m4.6 8.4h0m-18.6 -1.2h0" stroke="#ff0000" stroke-width="2.40" stroke-linecap="round" fill="none"/>
</g>
<rect x="58.15" y="6.30" width="181.15" height="106.20" fill="none" stroke="#111" stroke-width="1.15"/>
<rect x="58.15" y="134.10" width="181.15" height="106.20" fill="none" stroke="#111" stroke-width="1.15"/>
<rect x="58.15" y="261.30" width="181.15" height="106.20" fill="none" stroke="#111" stroke-width="1.15"/>
<rect x="58.15" y="389.20" width="181.15" height="106.50" fill="none" stroke="#111" stroke-width="1.15"/>
<rect x="276.00" y="6.30" width="180.15" height="106.20" fill="none" stroke="#111" stroke-width="1.15"/>
<rect x="276.00" y="134.10" width="180.15" height="106.20" fill="none" stroke="#111" stroke-width="1.15"/>
<rect x="276.00" y="261.30" width="180.15" height="106.20" fill="none" stroke="#111" stroke-width="1.15"/>
<rect x="276.00" y="389.20" width="180.15" height="106.50" fill="none" stroke="#111" stroke-width="1.15"/>
<rect x="492.80" y="6.30" width="181.20" height="106.20" fill="none" stroke="#111" stroke-width="1.15"/>
<rect x="492.80" y="134.10" width="181.20" height="106.20" fill="none" stroke="#111" stroke-width="1.15"/>
<rect x="492.80" y="261.30" width="181.20" height="106.20" fill="none" stroke="#111" stroke-width="1.15"/>
<rect x="492.80" y="389.20" width="181.20" height="106.50" fill="none" stroke="#111" stroke-width="1.15"/>
<line x1="66.38" y1="112.50" x2="66.38" y2="116.30" stroke="#111" stroke-width="1.0"/>
<text x="66.38" y="128.60" font-size="10.55" text-anchor="middle" textLength="6.25" lengthAdjust="spacingAndGlyphs">0</text>
<line x1="125.20" y1="112.50" x2="125.20" y2="116.30" stroke="#111" stroke-width="1.0"/>
<text x="125.20" y="128.60" font-size="10.55" text-anchor="middle" textLength="18.88" lengthAdjust="spacingAndGlyphs">100</text>
<line x1="184.01" y1="112.50" x2="184.01" y2="116.30" stroke="#111" stroke-width="1.0"/>
<text x="184.01" y="128.60" font-size="10.55" text-anchor="middle" textLength="18.88" lengthAdjust="spacingAndGlyphs">200</text>
<line x1="54.35" y1="6.30" x2="58.15" y2="6.30" stroke="#111" stroke-width="1.0"/>
<text x="48.25" y="11.10" font-size="10.55" text-anchor="end" textLength="11.62" lengthAdjust="spacingAndGlyphs">30</text>
<line x1="54.35" y1="27.54" x2="58.15" y2="27.54" stroke="#111" stroke-width="1.0"/>
<text x="48.25" y="32.34" font-size="10.55" text-anchor="end" textLength="11.86" lengthAdjust="spacingAndGlyphs">15</text>
<line x1="54.35" y1="48.78" x2="58.15" y2="48.78" stroke="#111" stroke-width="1.0"/>
<text x="48.25" y="53.58" font-size="10.55" text-anchor="end" textLength="5.81" lengthAdjust="spacingAndGlyphs">0</text>
<line x1="54.35" y1="70.02" x2="58.15" y2="70.02" stroke="#111" stroke-width="1.0"/>
<text x="49.45" y="74.82" font-size="10.55" text-anchor="end" textLength="19.65" lengthAdjust="spacingAndGlyphs">−15</text>
<line x1="54.35" y1="91.26" x2="58.15" y2="91.26" stroke="#111" stroke-width="1.0"/>
<text x="49.45" y="96.06" font-size="10.55" text-anchor="end" textLength="19.41" lengthAdjust="spacingAndGlyphs">−30</text>
<line x1="54.35" y1="112.50" x2="58.15" y2="112.50" stroke="#111" stroke-width="1.0"/>
<text x="49.45" y="117.30" font-size="10.55" text-anchor="end" textLength="19.53" lengthAdjust="spacingAndGlyphs">−45</text>
<line x1="66.38" y1="240.30" x2="66.38" y2="244.10" stroke="#111" stroke-width="1.0"/>
<text x="66.38" y="256.40" font-size="10.55" text-anchor="middle" textLength="6.25" lengthAdjust="spacingAndGlyphs">0</text>
<line x1="125.20" y1="240.30" x2="125.20" y2="244.10" stroke="#111" stroke-width="1.0"/>
<text x="125.20" y="256.40" font-size="10.55" text-anchor="middle" textLength="18.88" lengthAdjust="spacingAndGlyphs">100</text>
<line x1="184.01" y1="240.30" x2="184.01" y2="244.10" stroke="#111" stroke-width="1.0"/>
<text x="184.01" y="256.40" font-size="10.55" text-anchor="middle" textLength="18.88" lengthAdjust="spacingAndGlyphs">200</text>
<line x1="54.35" y1="134.10" x2="58.15" y2="134.10" stroke="#111" stroke-width="1.0"/>
<text x="48.25" y="138.90" font-size="10.55" text-anchor="end" textLength="11.62" lengthAdjust="spacingAndGlyphs">30</text>
<line x1="54.35" y1="155.34" x2="58.15" y2="155.34" stroke="#111" stroke-width="1.0"/>
<text x="48.25" y="160.14" font-size="10.55" text-anchor="end" textLength="11.86" lengthAdjust="spacingAndGlyphs">15</text>
<line x1="54.35" y1="176.58" x2="58.15" y2="176.58" stroke="#111" stroke-width="1.0"/>
<text x="48.25" y="181.38" font-size="10.55" text-anchor="end" textLength="5.81" lengthAdjust="spacingAndGlyphs">0</text>
<line x1="54.35" y1="197.82" x2="58.15" y2="197.82" stroke="#111" stroke-width="1.0"/>
<text x="49.45" y="202.62" font-size="10.55" text-anchor="end" textLength="19.65" lengthAdjust="spacingAndGlyphs">−15</text>
<line x1="54.35" y1="219.06" x2="58.15" y2="219.06" stroke="#111" stroke-width="1.0"/>
<text x="49.45" y="223.86" font-size="10.55" text-anchor="end" textLength="19.41" lengthAdjust="spacingAndGlyphs">−30</text>
<line x1="58.15" y1="367.50" x2="58.15" y2="371.30" stroke="#111" stroke-width="1.0"/>
<text x="45.96" y="386.90" font-size="11.60" text-anchor="start" textLength="12.90" lengthAdjust="spacingAndGlyphs">10</text>
<text x="59.46" y="382.80" font-size="8.90" text-anchor="start" textLength="10.87" lengthAdjust="spacingAndGlyphs">−2</text>
<line x1="118.53" y1="367.50" x2="118.53" y2="371.30" stroke="#111" stroke-width="1.0"/>
<text x="106.29" y="386.90" font-size="11.60" text-anchor="start" textLength="12.90" lengthAdjust="spacingAndGlyphs">10</text>
<text x="119.79" y="382.80" font-size="8.90" text-anchor="start" textLength="10.99" lengthAdjust="spacingAndGlyphs">−1</text>
<line x1="178.92" y1="367.50" x2="178.92" y2="371.30" stroke="#111" stroke-width="1.0"/>
<text x="169.84" y="386.90" font-size="11.60" text-anchor="start" textLength="12.90" lengthAdjust="spacingAndGlyphs">10</text>
<text x="183.34" y="382.80" font-size="8.90" text-anchor="start" textLength="4.66" lengthAdjust="spacingAndGlyphs">0</text>
<line x1="239.30" y1="367.50" x2="239.30" y2="371.30" stroke="#111" stroke-width="1.0"/>
<text x="230.16" y="386.90" font-size="11.60" text-anchor="start" textLength="12.90" lengthAdjust="spacingAndGlyphs">10</text>
<text x="243.66" y="382.80" font-size="8.90" text-anchor="start" textLength="4.78" lengthAdjust="spacingAndGlyphs">1</text>
<line x1="76.33" y1="367.50" x2="76.33" y2="369.70" stroke="#111" stroke-width="0.8"/>
<line x1="86.96" y1="367.50" x2="86.96" y2="369.70" stroke="#111" stroke-width="0.8"/>
<line x1="94.50" y1="367.50" x2="94.50" y2="369.70" stroke="#111" stroke-width="0.8"/>
<line x1="100.36" y1="367.50" x2="100.36" y2="369.70" stroke="#111" stroke-width="0.8"/>
<line x1="105.14" y1="367.50" x2="105.14" y2="369.70" stroke="#111" stroke-width="0.8"/>
<line x1="109.18" y1="367.50" x2="109.18" y2="369.70" stroke="#111" stroke-width="0.8"/>
<line x1="112.68" y1="367.50" x2="112.68" y2="369.70" stroke="#111" stroke-width="0.8"/>
<line x1="115.77" y1="367.50" x2="115.77" y2="369.70" stroke="#111" stroke-width="0.8"/>
<line x1="136.71" y1="367.50" x2="136.71" y2="369.70" stroke="#111" stroke-width="0.8"/>
<line x1="147.34" y1="367.50" x2="147.34" y2="369.70" stroke="#111" stroke-width="0.8"/>
<line x1="154.89" y1="367.50" x2="154.89" y2="369.70" stroke="#111" stroke-width="0.8"/>
<line x1="160.74" y1="367.50" x2="160.74" y2="369.70" stroke="#111" stroke-width="0.8"/>
<line x1="165.52" y1="367.50" x2="165.52" y2="369.70" stroke="#111" stroke-width="0.8"/>
<line x1="169.56" y1="367.50" x2="169.56" y2="369.70" stroke="#111" stroke-width="0.8"/>
<line x1="173.06" y1="367.50" x2="173.06" y2="369.70" stroke="#111" stroke-width="0.8"/>
<line x1="176.15" y1="367.50" x2="176.15" y2="369.70" stroke="#111" stroke-width="0.8"/>
<line x1="197.09" y1="367.50" x2="197.09" y2="369.70" stroke="#111" stroke-width="0.8"/>
<line x1="207.73" y1="367.50" x2="207.73" y2="369.70" stroke="#111" stroke-width="0.8"/>
<line x1="215.27" y1="367.50" x2="215.27" y2="369.70" stroke="#111" stroke-width="0.8"/>
<line x1="221.12" y1="367.50" x2="221.12" y2="369.70" stroke="#111" stroke-width="0.8"/>
<line x1="225.90" y1="367.50" x2="225.90" y2="369.70" stroke="#111" stroke-width="0.8"/>
<line x1="229.95" y1="367.50" x2="229.95" y2="369.70" stroke="#111" stroke-width="0.8"/>
<line x1="233.45" y1="367.50" x2="233.45" y2="369.70" stroke="#111" stroke-width="0.8"/>
<line x1="236.54" y1="367.50" x2="236.54" y2="369.70" stroke="#111" stroke-width="0.8"/>
<line x1="54.35" y1="261.30" x2="58.15" y2="261.30" stroke="#111" stroke-width="1.0"/>
<text x="24.26" y="266.60" font-size="11.60" text-anchor="start" textLength="12.90" lengthAdjust="spacingAndGlyphs">10</text>
<text x="37.76" y="262.50" font-size="8.90" text-anchor="start" textLength="10.99" lengthAdjust="spacingAndGlyphs">−1</text>
<line x1="54.35" y1="287.85" x2="58.15" y2="287.85" stroke="#111" stroke-width="1.0"/>
<text x="24.26" y="293.15" font-size="11.60" text-anchor="start" textLength="12.90" lengthAdjust="spacingAndGlyphs">10</text>
<text x="37.76" y="289.05" font-size="8.90" text-anchor="start" textLength="10.99" lengthAdjust="spacingAndGlyphs">−4</text>
<line x1="54.35" y1="314.40" x2="58.15" y2="314.40" stroke="#111" stroke-width="1.0"/>
<text x="24.38" y="319.70" font-size="11.60" text-anchor="start" textLength="12.90" lengthAdjust="spacingAndGlyphs">10</text>
<text x="37.88" y="315.60" font-size="8.90" text-anchor="start" textLength="10.87" lengthAdjust="spacingAndGlyphs">−7</text>
<line x1="54.35" y1="340.95" x2="58.15" y2="340.95" stroke="#111" stroke-width="1.0"/>
<text x="19.60" y="346.25" font-size="11.60" text-anchor="start" textLength="12.90" lengthAdjust="spacingAndGlyphs">10</text>
<text x="33.10" y="342.15" font-size="8.90" text-anchor="start" textLength="15.65" lengthAdjust="spacingAndGlyphs">−10</text>
<line x1="54.35" y1="367.50" x2="58.15" y2="367.50" stroke="#111" stroke-width="1.0"/>
<text x="19.60" y="372.80" font-size="11.60" text-anchor="start" textLength="12.90" lengthAdjust="spacingAndGlyphs">10</text>
<text x="33.10" y="368.70" font-size="8.90" text-anchor="start" textLength="15.65" lengthAdjust="spacingAndGlyphs">−13</text>
<line x1="58.15" y1="495.70" x2="58.15" y2="499.50" stroke="#111" stroke-width="1.0"/>
<text x="45.96" y="514.00" font-size="11.60" text-anchor="start" textLength="12.90" lengthAdjust="spacingAndGlyphs">10</text>
<text x="59.46" y="509.90" font-size="8.90" text-anchor="start" textLength="10.87" lengthAdjust="spacingAndGlyphs">−2</text>
<line x1="118.53" y1="495.70" x2="118.53" y2="499.50" stroke="#111" stroke-width="1.0"/>
<text x="106.29" y="514.00" font-size="11.60" text-anchor="start" textLength="12.90" lengthAdjust="spacingAndGlyphs">10</text>
<text x="119.79" y="509.90" font-size="8.90" text-anchor="start" textLength="10.99" lengthAdjust="spacingAndGlyphs">−1</text>
<line x1="178.92" y1="495.70" x2="178.92" y2="499.50" stroke="#111" stroke-width="1.0"/>
<text x="169.84" y="514.00" font-size="11.60" text-anchor="start" textLength="12.90" lengthAdjust="spacingAndGlyphs">10</text>
<text x="183.34" y="509.90" font-size="8.90" text-anchor="start" textLength="4.66" lengthAdjust="spacingAndGlyphs">0</text>
<line x1="239.30" y1="495.70" x2="239.30" y2="499.50" stroke="#111" stroke-width="1.0"/>
<text x="230.16" y="514.00" font-size="11.60" text-anchor="start" textLength="12.90" lengthAdjust="spacingAndGlyphs">10</text>
<text x="243.66" y="509.90" font-size="8.90" text-anchor="start" textLength="4.78" lengthAdjust="spacingAndGlyphs">1</text>
<line x1="76.33" y1="495.70" x2="76.33" y2="497.90" stroke="#111" stroke-width="0.8"/>
<line x1="86.96" y1="495.70" x2="86.96" y2="497.90" stroke="#111" stroke-width="0.8"/>
<line x1="94.50" y1="495.70" x2="94.50" y2="497.90" stroke="#111" stroke-width="0.8"/>
<line x1="100.36" y1="495.70" x2="100.36" y2="497.90" stroke="#111" stroke-width="0.8"/>
<line x1="105.14" y1="495.70" x2="105.14" y2="497.90" stroke="#111" stroke-width="0.8"/>
<line x1="109.18" y1="495.70" x2="109.18" y2="497.90" stroke="#111" stroke-width="0.8"/>
<line x1="112.68" y1="495.70" x2="112.68" y2="497.90" stroke="#111" stroke-width="0.8"/>
<line x1="115.77" y1="495.70" x2="115.77" y2="497.90" stroke="#111" stroke-width="0.8"/>
<line x1="136.71" y1="495.70" x2="136.71" y2="497.90" stroke="#111" stroke-width="0.8"/>
<line x1="147.34" y1="495.70" x2="147.34" y2="497.90" stroke="#111" stroke-width="0.8"/>
<line x1="154.89" y1="495.70" x2="154.89" y2="497.90" stroke="#111" stroke-width="0.8"/>
<line x1="160.74" y1="495.70" x2="160.74" y2="497.90" stroke="#111" stroke-width="0.8"/>
<line x1="165.52" y1="495.70" x2="165.52" y2="497.90" stroke="#111" stroke-width="0.8"/>
<line x1="169.56" y1="495.70" x2="169.56" y2="497.90" stroke="#111" stroke-width="0.8"/>
<line x1="173.06" y1="495.70" x2="173.06" y2="497.90" stroke="#111" stroke-width="0.8"/>
<line x1="176.15" y1="495.70" x2="176.15" y2="497.90" stroke="#111" stroke-width="0.8"/>
<line x1="197.09" y1="495.70" x2="197.09" y2="497.90" stroke="#111" stroke-width="0.8"/>
<line x1="207.73" y1="495.70" x2="207.73" y2="497.90" stroke="#111" stroke-width="0.8"/>
<line x1="215.27" y1="495.70" x2="215.27" y2="497.90" stroke="#111" stroke-width="0.8"/>
<line x1="221.12" y1="495.70" x2="221.12" y2="497.90" stroke="#111" stroke-width="0.8"/>
<line x1="225.90" y1="495.70" x2="225.90" y2="497.90" stroke="#111" stroke-width="0.8"/>
<line x1="229.95" y1="495.70" x2="229.95" y2="497.90" stroke="#111" stroke-width="0.8"/>
<line x1="233.45" y1="495.70" x2="233.45" y2="497.90" stroke="#111" stroke-width="0.8"/>
<line x1="236.54" y1="495.70" x2="236.54" y2="497.90" stroke="#111" stroke-width="0.8"/>
<line x1="54.35" y1="404.41" x2="58.15" y2="404.41" stroke="#111" stroke-width="1.0"/>
<text x="30.59" y="409.71" font-size="11.60" text-anchor="start" textLength="12.90" lengthAdjust="spacingAndGlyphs">10</text>
<text x="44.09" y="405.61" font-size="8.90" text-anchor="start" textLength="4.66" lengthAdjust="spacingAndGlyphs">0</text>
<line x1="54.35" y1="434.84" x2="58.15" y2="434.84" stroke="#111" stroke-width="1.0"/>
<text x="24.38" y="440.14" font-size="11.60" text-anchor="start" textLength="12.90" lengthAdjust="spacingAndGlyphs">10</text>
<text x="37.88" y="436.04" font-size="8.90" text-anchor="start" textLength="10.87" lengthAdjust="spacingAndGlyphs">−2</text>
<line x1="54.35" y1="465.27" x2="58.15" y2="465.27" stroke="#111" stroke-width="1.0"/>
<text x="24.26" y="470.57" font-size="11.60" text-anchor="start" textLength="12.90" lengthAdjust="spacingAndGlyphs">10</text>
<text x="37.76" y="466.47" font-size="8.90" text-anchor="start" textLength="10.99" lengthAdjust="spacingAndGlyphs">−4</text>
<line x1="54.35" y1="495.70" x2="58.15" y2="495.70" stroke="#111" stroke-width="1.0"/>
<text x="24.38" y="501.00" font-size="11.60" text-anchor="start" textLength="12.90" lengthAdjust="spacingAndGlyphs">10</text>
<text x="37.88" y="496.90" font-size="8.90" text-anchor="start" textLength="10.87" lengthAdjust="spacingAndGlyphs">−6</text>
<text x="75.55" y="19.40" font-size="11.60" text-anchor="middle" textLength="14.18" lengthAdjust="spacingAndGlyphs">(a)</text>
<text x="75.55" y="147.20" font-size="11.60" text-anchor="middle" textLength="14.43" lengthAdjust="spacingAndGlyphs">(b)</text>
<text x="75.55" y="274.40" font-size="11.60" text-anchor="middle" textLength="13.55" lengthAdjust="spacingAndGlyphs">(c)</text>
<text x="75.55" y="402.30" font-size="11.60" text-anchor="middle" textLength="14.43" lengthAdjust="spacingAndGlyphs">(d)</text>
<text x="148.72" y="97.70" font-size="11.60" text-anchor="middle" textLength="22.50" lengthAdjust="spacingAndGlyphs">ACC</text>
<text x="148.72" y="110.50" font-size="11.60" text-anchor="middle" textLength="76.25" lengthAdjust="spacingAndGlyphs">Displacement</text>
<text x="148.72" y="225.50" font-size="11.60" text-anchor="middle" textLength="22.50" lengthAdjust="spacingAndGlyphs">ACC</text>
<text x="148.72" y="238.30" font-size="11.60" text-anchor="middle" textLength="43.50" lengthAdjust="spacingAndGlyphs">Velocity</text>
<text x="148.72" y="352.70" font-size="11.60" text-anchor="middle" textLength="22.50" lengthAdjust="spacingAndGlyphs">ACC</text>
<text x="148.72" y="365.50" font-size="11.60" text-anchor="middle" textLength="99.38" lengthAdjust="spacingAndGlyphs">Position Error PSD</text>
<text x="148.72" y="480.90" font-size="11.60" text-anchor="middle" textLength="22.50" lengthAdjust="spacingAndGlyphs">ACC</text>
<text x="148.72" y="493.70" font-size="11.60" text-anchor="middle" textLength="103.62" lengthAdjust="spacingAndGlyphs">Response Function</text>
<text x="135.82" y="19.20" font-size="11.02" text-anchor="start" textLength="23.12" lengthAdjust="spacingAndGlyphs">RMS</text>
<text x="159.14" y="20.80" font-size="8.60" text-anchor="start" textLength="6.40" lengthAdjust="spacingAndGlyphs" font-style="italic">N</text>
<text x="167.84" y="19.20" font-size="11.02" text-anchor="start" textLength="66.25" lengthAdjust="spacingAndGlyphs">= 28.25 mm</text>
<text x="135.75" y="29.40" font-size="11.02" text-anchor="start" textLength="23.12" lengthAdjust="spacingAndGlyphs">RMS</text>
<text x="159.08" y="31.00" font-size="8.60" text-anchor="start" textLength="6.40" lengthAdjust="spacingAndGlyphs" font-style="italic">E</text>
<text x="167.78" y="29.40" font-size="11.02" text-anchor="start" textLength="66.38" lengthAdjust="spacingAndGlyphs">= 31.06 mm</text>
<text x="139.19" y="39.60" font-size="11.02" text-anchor="start" textLength="23.12" lengthAdjust="spacingAndGlyphs">RMS</text>
<text x="162.52" y="41.20" font-size="8.60" text-anchor="start" textLength="6.40" lengthAdjust="spacingAndGlyphs" font-style="italic">D</text>
<text x="171.22" y="39.60" font-size="11.02" text-anchor="start" textLength="59.50" lengthAdjust="spacingAndGlyphs">= 2.57 mm</text>
<text x="131.25" y="147.00" font-size="11.02" text-anchor="start" textLength="23.12" lengthAdjust="spacingAndGlyphs">RMS</text>
<text x="154.58" y="148.60" font-size="8.60" text-anchor="start" textLength="6.40" lengthAdjust="spacingAndGlyphs" font-style="italic">N</text>
<text x="163.28" y="147.00" font-size="11.02" text-anchor="start" textLength="75.38" lengthAdjust="spacingAndGlyphs">= 32.81 mm/s</text>
<text x="131.19" y="157.20" font-size="11.02" text-anchor="start" textLength="23.12" lengthAdjust="spacingAndGlyphs">RMS</text>
<text x="154.52" y="158.80" font-size="8.60" text-anchor="start" textLength="6.40" lengthAdjust="spacingAndGlyphs" font-style="italic">E</text>
<text x="163.22" y="157.20" font-size="11.02" text-anchor="start" textLength="75.50" lengthAdjust="spacingAndGlyphs">= 33.82 mm/s</text>
<text x="134.63" y="167.40" font-size="11.02" text-anchor="start" textLength="23.12" lengthAdjust="spacingAndGlyphs">RMS</text>
<text x="157.95" y="169.00" font-size="8.60" text-anchor="start" textLength="6.40" lengthAdjust="spacingAndGlyphs" font-style="italic">D</text>
<text x="166.66" y="167.40" font-size="11.02" text-anchor="start" textLength="68.62" lengthAdjust="spacingAndGlyphs">= 0.51 mm/s</text>
<text x="148.72" y="531.10" font-size="11.60" text-anchor="middle" textLength="146.88" lengthAdjust="spacingAndGlyphs">Time (s) or Frequency (Hz)</text>
<line x1="284.19" y1="112.50" x2="284.19" y2="116.30" stroke="#111" stroke-width="1.0"/>
<text x="284.19" y="128.60" font-size="10.55" text-anchor="middle" textLength="6.25" lengthAdjust="spacingAndGlyphs">0</text>
<line x1="342.68" y1="112.50" x2="342.68" y2="116.30" stroke="#111" stroke-width="1.0"/>
<text x="342.68" y="128.60" font-size="10.55" text-anchor="middle" textLength="18.88" lengthAdjust="spacingAndGlyphs">100</text>
<line x1="401.17" y1="112.50" x2="401.17" y2="116.30" stroke="#111" stroke-width="1.0"/>
<text x="401.17" y="128.60" font-size="10.55" text-anchor="middle" textLength="18.88" lengthAdjust="spacingAndGlyphs">200</text>
<line x1="272.20" y1="6.30" x2="276.00" y2="6.30" stroke="#111" stroke-width="1.0"/>
<line x1="272.20" y1="27.54" x2="276.00" y2="27.54" stroke="#111" stroke-width="1.0"/>
<line x1="272.20" y1="48.78" x2="276.00" y2="48.78" stroke="#111" stroke-width="1.0"/>
<line x1="272.20" y1="70.02" x2="276.00" y2="70.02" stroke="#111" stroke-width="1.0"/>
<line x1="272.20" y1="91.26" x2="276.00" y2="91.26" stroke="#111" stroke-width="1.0"/>
<line x1="272.20" y1="112.50" x2="276.00" y2="112.50" stroke="#111" stroke-width="1.0"/>
<line x1="284.19" y1="240.30" x2="284.19" y2="244.10" stroke="#111" stroke-width="1.0"/>
<text x="284.19" y="256.40" font-size="10.55" text-anchor="middle" textLength="6.25" lengthAdjust="spacingAndGlyphs">0</text>
<line x1="342.68" y1="240.30" x2="342.68" y2="244.10" stroke="#111" stroke-width="1.0"/>
<text x="342.68" y="256.40" font-size="10.55" text-anchor="middle" textLength="18.88" lengthAdjust="spacingAndGlyphs">100</text>
<line x1="401.17" y1="240.30" x2="401.17" y2="244.10" stroke="#111" stroke-width="1.0"/>
<text x="401.17" y="256.40" font-size="10.55" text-anchor="middle" textLength="18.88" lengthAdjust="spacingAndGlyphs">200</text>
<line x1="272.20" y1="134.10" x2="276.00" y2="134.10" stroke="#111" stroke-width="1.0"/>
<line x1="272.20" y1="155.34" x2="276.00" y2="155.34" stroke="#111" stroke-width="1.0"/>
<line x1="272.20" y1="176.58" x2="276.00" y2="176.58" stroke="#111" stroke-width="1.0"/>
<line x1="272.20" y1="197.82" x2="276.00" y2="197.82" stroke="#111" stroke-width="1.0"/>
<line x1="272.20" y1="219.06" x2="276.00" y2="219.06" stroke="#111" stroke-width="1.0"/>
<line x1="276.00" y1="367.50" x2="276.00" y2="371.30" stroke="#111" stroke-width="1.0"/>
<text x="263.81" y="386.90" font-size="11.60" text-anchor="start" textLength="12.90" lengthAdjust="spacingAndGlyphs">10</text>
<text x="277.31" y="382.80" font-size="8.90" text-anchor="start" textLength="10.87" lengthAdjust="spacingAndGlyphs">−2</text>
<line x1="336.05" y1="367.50" x2="336.05" y2="371.30" stroke="#111" stroke-width="1.0"/>
<text x="323.80" y="386.90" font-size="11.60" text-anchor="start" textLength="12.90" lengthAdjust="spacingAndGlyphs">10</text>
<text x="337.30" y="382.80" font-size="8.90" text-anchor="start" textLength="10.99" lengthAdjust="spacingAndGlyphs">−1</text>
<line x1="396.10" y1="367.50" x2="396.10" y2="371.30" stroke="#111" stroke-width="1.0"/>
<text x="387.02" y="386.90" font-size="11.60" text-anchor="start" textLength="12.90" lengthAdjust="spacingAndGlyphs">10</text>
<text x="400.52" y="382.80" font-size="8.90" text-anchor="start" textLength="4.66" lengthAdjust="spacingAndGlyphs">0</text>
<line x1="456.15" y1="367.50" x2="456.15" y2="371.30" stroke="#111" stroke-width="1.0"/>
<text x="447.01" y="386.90" font-size="11.60" text-anchor="start" textLength="12.90" lengthAdjust="spacingAndGlyphs">10</text>
<text x="460.51" y="382.80" font-size="8.90" text-anchor="start" textLength="4.78" lengthAdjust="spacingAndGlyphs">1</text>
<line x1="294.08" y1="367.50" x2="294.08" y2="369.70" stroke="#111" stroke-width="0.8"/>
<line x1="304.65" y1="367.50" x2="304.65" y2="369.70" stroke="#111" stroke-width="0.8"/>
<line x1="312.15" y1="367.50" x2="312.15" y2="369.70" stroke="#111" stroke-width="0.8"/>
<line x1="317.97" y1="367.50" x2="317.97" y2="369.70" stroke="#111" stroke-width="0.8"/>
<line x1="322.73" y1="367.50" x2="322.73" y2="369.70" stroke="#111" stroke-width="0.8"/>
<line x1="326.75" y1="367.50" x2="326.75" y2="369.70" stroke="#111" stroke-width="0.8"/>
<line x1="330.23" y1="367.50" x2="330.23" y2="369.70" stroke="#111" stroke-width="0.8"/>
<line x1="333.30" y1="367.50" x2="333.30" y2="369.70" stroke="#111" stroke-width="0.8"/>
<line x1="354.13" y1="367.50" x2="354.13" y2="369.70" stroke="#111" stroke-width="0.8"/>
<line x1="364.70" y1="367.50" x2="364.70" y2="369.70" stroke="#111" stroke-width="0.8"/>
<line x1="372.20" y1="367.50" x2="372.20" y2="369.70" stroke="#111" stroke-width="0.8"/>
<line x1="378.02" y1="367.50" x2="378.02" y2="369.70" stroke="#111" stroke-width="0.8"/>
<line x1="382.78" y1="367.50" x2="382.78" y2="369.70" stroke="#111" stroke-width="0.8"/>
<line x1="386.80" y1="367.50" x2="386.80" y2="369.70" stroke="#111" stroke-width="0.8"/>
<line x1="390.28" y1="367.50" x2="390.28" y2="369.70" stroke="#111" stroke-width="0.8"/>
<line x1="393.35" y1="367.50" x2="393.35" y2="369.70" stroke="#111" stroke-width="0.8"/>
<line x1="414.18" y1="367.50" x2="414.18" y2="369.70" stroke="#111" stroke-width="0.8"/>
<line x1="424.75" y1="367.50" x2="424.75" y2="369.70" stroke="#111" stroke-width="0.8"/>
<line x1="432.25" y1="367.50" x2="432.25" y2="369.70" stroke="#111" stroke-width="0.8"/>
<line x1="438.07" y1="367.50" x2="438.07" y2="369.70" stroke="#111" stroke-width="0.8"/>
<line x1="442.83" y1="367.50" x2="442.83" y2="369.70" stroke="#111" stroke-width="0.8"/>
<line x1="446.85" y1="367.50" x2="446.85" y2="369.70" stroke="#111" stroke-width="0.8"/>
<line x1="450.33" y1="367.50" x2="450.33" y2="369.70" stroke="#111" stroke-width="0.8"/>
<line x1="453.40" y1="367.50" x2="453.40" y2="369.70" stroke="#111" stroke-width="0.8"/>
<line x1="272.20" y1="261.30" x2="276.00" y2="261.30" stroke="#111" stroke-width="1.0"/>
<line x1="272.20" y1="287.85" x2="276.00" y2="287.85" stroke="#111" stroke-width="1.0"/>
<line x1="272.20" y1="314.40" x2="276.00" y2="314.40" stroke="#111" stroke-width="1.0"/>
<line x1="272.20" y1="340.95" x2="276.00" y2="340.95" stroke="#111" stroke-width="1.0"/>
<line x1="272.20" y1="367.50" x2="276.00" y2="367.50" stroke="#111" stroke-width="1.0"/>
<line x1="276.00" y1="495.70" x2="276.00" y2="499.50" stroke="#111" stroke-width="1.0"/>
<text x="263.81" y="514.00" font-size="11.60" text-anchor="start" textLength="12.90" lengthAdjust="spacingAndGlyphs">10</text>
<text x="277.31" y="509.90" font-size="8.90" text-anchor="start" textLength="10.87" lengthAdjust="spacingAndGlyphs">−2</text>
<line x1="336.05" y1="495.70" x2="336.05" y2="499.50" stroke="#111" stroke-width="1.0"/>
<text x="323.80" y="514.00" font-size="11.60" text-anchor="start" textLength="12.90" lengthAdjust="spacingAndGlyphs">10</text>
<text x="337.30" y="509.90" font-size="8.90" text-anchor="start" textLength="10.99" lengthAdjust="spacingAndGlyphs">−1</text>
<line x1="396.10" y1="495.70" x2="396.10" y2="499.50" stroke="#111" stroke-width="1.0"/>
<text x="387.02" y="514.00" font-size="11.60" text-anchor="start" textLength="12.90" lengthAdjust="spacingAndGlyphs">10</text>
<text x="400.52" y="509.90" font-size="8.90" text-anchor="start" textLength="4.66" lengthAdjust="spacingAndGlyphs">0</text>
<line x1="456.15" y1="495.70" x2="456.15" y2="499.50" stroke="#111" stroke-width="1.0"/>
<text x="447.01" y="514.00" font-size="11.60" text-anchor="start" textLength="12.90" lengthAdjust="spacingAndGlyphs">10</text>
<text x="460.51" y="509.90" font-size="8.90" text-anchor="start" textLength="4.78" lengthAdjust="spacingAndGlyphs">1</text>
<line x1="294.08" y1="495.70" x2="294.08" y2="497.90" stroke="#111" stroke-width="0.8"/>
<line x1="304.65" y1="495.70" x2="304.65" y2="497.90" stroke="#111" stroke-width="0.8"/>
<line x1="312.15" y1="495.70" x2="312.15" y2="497.90" stroke="#111" stroke-width="0.8"/>
<line x1="317.97" y1="495.70" x2="317.97" y2="497.90" stroke="#111" stroke-width="0.8"/>
<line x1="322.73" y1="495.70" x2="322.73" y2="497.90" stroke="#111" stroke-width="0.8"/>
<line x1="326.75" y1="495.70" x2="326.75" y2="497.90" stroke="#111" stroke-width="0.8"/>
<line x1="330.23" y1="495.70" x2="330.23" y2="497.90" stroke="#111" stroke-width="0.8"/>
<line x1="333.30" y1="495.70" x2="333.30" y2="497.90" stroke="#111" stroke-width="0.8"/>
<line x1="354.13" y1="495.70" x2="354.13" y2="497.90" stroke="#111" stroke-width="0.8"/>
<line x1="364.70" y1="495.70" x2="364.70" y2="497.90" stroke="#111" stroke-width="0.8"/>
<line x1="372.20" y1="495.70" x2="372.20" y2="497.90" stroke="#111" stroke-width="0.8"/>
<line x1="378.02" y1="495.70" x2="378.02" y2="497.90" stroke="#111" stroke-width="0.8"/>
<line x1="382.78" y1="495.70" x2="382.78" y2="497.90" stroke="#111" stroke-width="0.8"/>
<line x1="386.80" y1="495.70" x2="386.80" y2="497.90" stroke="#111" stroke-width="0.8"/>
<line x1="390.28" y1="495.70" x2="390.28" y2="497.90" stroke="#111" stroke-width="0.8"/>
<line x1="393.35" y1="495.70" x2="393.35" y2="497.90" stroke="#111" stroke-width="0.8"/>
<line x1="414.18" y1="495.70" x2="414.18" y2="497.90" stroke="#111" stroke-width="0.8"/>
<line x1="424.75" y1="495.70" x2="424.75" y2="497.90" stroke="#111" stroke-width="0.8"/>
<line x1="432.25" y1="495.70" x2="432.25" y2="497.90" stroke="#111" stroke-width="0.8"/>
<line x1="438.07" y1="495.70" x2="438.07" y2="497.90" stroke="#111" stroke-width="0.8"/>
<line x1="442.83" y1="495.70" x2="442.83" y2="497.90" stroke="#111" stroke-width="0.8"/>
<line x1="446.85" y1="495.70" x2="446.85" y2="497.90" stroke="#111" stroke-width="0.8"/>
<line x1="450.33" y1="495.70" x2="450.33" y2="497.90" stroke="#111" stroke-width="0.8"/>
<line x1="453.40" y1="495.70" x2="453.40" y2="497.90" stroke="#111" stroke-width="0.8"/>
<line x1="272.20" y1="404.41" x2="276.00" y2="404.41" stroke="#111" stroke-width="1.0"/>
<line x1="272.20" y1="434.84" x2="276.00" y2="434.84" stroke="#111" stroke-width="1.0"/>
<line x1="272.20" y1="465.27" x2="276.00" y2="465.27" stroke="#111" stroke-width="1.0"/>
<line x1="272.20" y1="495.70" x2="276.00" y2="495.70" stroke="#111" stroke-width="1.0"/>
<text x="293.40" y="19.40" font-size="11.60" text-anchor="middle" textLength="14.30" lengthAdjust="spacingAndGlyphs">(e)</text>
<text x="293.40" y="147.20" font-size="11.60" text-anchor="middle" textLength="11.43" lengthAdjust="spacingAndGlyphs">(f)</text>
<text x="293.40" y="274.40" font-size="11.60" text-anchor="middle" textLength="14.43" lengthAdjust="spacingAndGlyphs">(g)</text>
<text x="293.40" y="402.30" font-size="11.60" text-anchor="middle" textLength="14.43" lengthAdjust="spacingAndGlyphs">(h)</text>
<text x="366.07" y="97.70" font-size="11.60" text-anchor="middle" textLength="62.62" lengthAdjust="spacingAndGlyphs">ACC+GYRO</text>
<text x="366.07" y="110.50" font-size="11.60" text-anchor="middle" textLength="76.25" lengthAdjust="spacingAndGlyphs">Displacement</text>
<text x="366.07" y="225.50" font-size="11.60" text-anchor="middle" textLength="62.62" lengthAdjust="spacingAndGlyphs">ACC+GYRO</text>
<text x="366.07" y="238.30" font-size="11.60" text-anchor="middle" textLength="43.50" lengthAdjust="spacingAndGlyphs">Velocity</text>
<text x="366.07" y="352.70" font-size="11.60" text-anchor="middle" textLength="62.62" lengthAdjust="spacingAndGlyphs">ACC+GYRO</text>
<text x="366.07" y="365.50" font-size="11.60" text-anchor="middle" textLength="99.38" lengthAdjust="spacingAndGlyphs">Position Error PSD</text>
<text x="366.07" y="480.90" font-size="11.60" text-anchor="middle" textLength="62.62" lengthAdjust="spacingAndGlyphs">ACC+GYRO</text>
<text x="366.07" y="493.70" font-size="11.60" text-anchor="middle" textLength="103.62" lengthAdjust="spacingAndGlyphs">Response Function</text>
<text x="356.22" y="19.20" font-size="11.02" text-anchor="start" textLength="23.12" lengthAdjust="spacingAndGlyphs">RMS</text>
<text x="379.54" y="20.80" font-size="8.60" text-anchor="start" textLength="6.40" lengthAdjust="spacingAndGlyphs" font-style="italic">N</text>
<text x="388.24" y="19.20" font-size="11.02" text-anchor="start" textLength="59.75" lengthAdjust="spacingAndGlyphs">= 1.80 mm</text>
<text x="356.28" y="29.40" font-size="11.02" text-anchor="start" textLength="23.12" lengthAdjust="spacingAndGlyphs">RMS</text>
<text x="379.60" y="31.00" font-size="8.60" text-anchor="start" textLength="6.40" lengthAdjust="spacingAndGlyphs" font-style="italic">E</text>
<text x="388.30" y="29.40" font-size="11.02" text-anchor="start" textLength="59.62" lengthAdjust="spacingAndGlyphs">= 6.18 mm</text>
<text x="356.34" y="39.60" font-size="11.02" text-anchor="start" textLength="23.12" lengthAdjust="spacingAndGlyphs">RMS</text>
<text x="379.67" y="41.20" font-size="8.60" text-anchor="start" textLength="6.40" lengthAdjust="spacingAndGlyphs" font-style="italic">D</text>
<text x="388.37" y="39.60" font-size="11.02" text-anchor="start" textLength="59.50" lengthAdjust="spacingAndGlyphs">= 2.79 mm</text>
<text x="351.78" y="147.00" font-size="11.02" text-anchor="start" textLength="23.12" lengthAdjust="spacingAndGlyphs">RMS</text>
<text x="375.10" y="148.60" font-size="8.60" text-anchor="start" textLength="6.40" lengthAdjust="spacingAndGlyphs" font-style="italic">N</text>
<text x="383.80" y="147.00" font-size="11.02" text-anchor="start" textLength="68.62" lengthAdjust="spacingAndGlyphs">= 0.44 mm/s</text>
<text x="351.78" y="157.20" font-size="11.02" text-anchor="start" textLength="23.12" lengthAdjust="spacingAndGlyphs">RMS</text>
<text x="375.10" y="158.80" font-size="8.60" text-anchor="start" textLength="6.40" lengthAdjust="spacingAndGlyphs" font-style="italic">E</text>
<text x="383.80" y="157.20" font-size="11.02" text-anchor="start" textLength="68.62" lengthAdjust="spacingAndGlyphs">= 0.45 mm/s</text>
<text x="351.78" y="167.40" font-size="11.02" text-anchor="start" textLength="23.12" lengthAdjust="spacingAndGlyphs">RMS</text>
<text x="375.10" y="169.00" font-size="8.60" text-anchor="start" textLength="6.40" lengthAdjust="spacingAndGlyphs" font-style="italic">D</text>
<text x="383.80" y="167.40" font-size="11.02" text-anchor="start" textLength="68.62" lengthAdjust="spacingAndGlyphs">= 0.74 mm/s</text>
<text x="366.07" y="531.10" font-size="11.60" text-anchor="middle" textLength="146.88" lengthAdjust="spacingAndGlyphs">Time (s) or Frequency (Hz)</text>
<line x1="501.04" y1="112.50" x2="501.04" y2="116.30" stroke="#111" stroke-width="1.0"/>
<text x="501.04" y="128.60" font-size="10.55" text-anchor="middle" textLength="6.25" lengthAdjust="spacingAndGlyphs">0</text>
<line x1="559.87" y1="112.50" x2="559.87" y2="116.30" stroke="#111" stroke-width="1.0"/>
<text x="559.87" y="128.60" font-size="10.55" text-anchor="middle" textLength="18.88" lengthAdjust="spacingAndGlyphs">100</text>
<line x1="618.70" y1="112.50" x2="618.70" y2="116.30" stroke="#111" stroke-width="1.0"/>
<text x="618.70" y="128.60" font-size="10.55" text-anchor="middle" textLength="18.88" lengthAdjust="spacingAndGlyphs">200</text>
<line x1="489.00" y1="6.30" x2="492.80" y2="6.30" stroke="#111" stroke-width="1.0"/>
<line x1="489.00" y1="27.54" x2="492.80" y2="27.54" stroke="#111" stroke-width="1.0"/>
<line x1="489.00" y1="48.78" x2="492.80" y2="48.78" stroke="#111" stroke-width="1.0"/>
<line x1="489.00" y1="70.02" x2="492.80" y2="70.02" stroke="#111" stroke-width="1.0"/>
<line x1="489.00" y1="91.26" x2="492.80" y2="91.26" stroke="#111" stroke-width="1.0"/>
<line x1="489.00" y1="112.50" x2="492.80" y2="112.50" stroke="#111" stroke-width="1.0"/>
<line x1="501.04" y1="240.30" x2="501.04" y2="244.10" stroke="#111" stroke-width="1.0"/>
<text x="501.04" y="256.40" font-size="10.55" text-anchor="middle" textLength="6.25" lengthAdjust="spacingAndGlyphs">0</text>
<line x1="559.87" y1="240.30" x2="559.87" y2="244.10" stroke="#111" stroke-width="1.0"/>
<text x="559.87" y="256.40" font-size="10.55" text-anchor="middle" textLength="18.88" lengthAdjust="spacingAndGlyphs">100</text>
<line x1="618.70" y1="240.30" x2="618.70" y2="244.10" stroke="#111" stroke-width="1.0"/>
<text x="618.70" y="256.40" font-size="10.55" text-anchor="middle" textLength="18.88" lengthAdjust="spacingAndGlyphs">200</text>
<line x1="489.00" y1="134.10" x2="492.80" y2="134.10" stroke="#111" stroke-width="1.0"/>
<line x1="489.00" y1="155.34" x2="492.80" y2="155.34" stroke="#111" stroke-width="1.0"/>
<line x1="489.00" y1="176.58" x2="492.80" y2="176.58" stroke="#111" stroke-width="1.0"/>
<line x1="489.00" y1="197.82" x2="492.80" y2="197.82" stroke="#111" stroke-width="1.0"/>
<line x1="489.00" y1="219.06" x2="492.80" y2="219.06" stroke="#111" stroke-width="1.0"/>
<line x1="492.80" y1="367.50" x2="492.80" y2="371.30" stroke="#111" stroke-width="1.0"/>
<text x="480.61" y="386.90" font-size="11.60" text-anchor="start" textLength="12.90" lengthAdjust="spacingAndGlyphs">10</text>
<text x="494.11" y="382.80" font-size="8.90" text-anchor="start" textLength="10.87" lengthAdjust="spacingAndGlyphs">−2</text>
<line x1="553.20" y1="367.50" x2="553.20" y2="371.30" stroke="#111" stroke-width="1.0"/>
<text x="540.95" y="386.90" font-size="11.60" text-anchor="start" textLength="12.90" lengthAdjust="spacingAndGlyphs">10</text>
<text x="554.45" y="382.80" font-size="8.90" text-anchor="start" textLength="10.99" lengthAdjust="spacingAndGlyphs">−1</text>
<line x1="613.60" y1="367.50" x2="613.60" y2="371.30" stroke="#111" stroke-width="1.0"/>
<text x="604.52" y="386.90" font-size="11.60" text-anchor="start" textLength="12.90" lengthAdjust="spacingAndGlyphs">10</text>
<text x="618.02" y="382.80" font-size="8.90" text-anchor="start" textLength="4.66" lengthAdjust="spacingAndGlyphs">0</text>
<line x1="674.00" y1="367.50" x2="674.00" y2="371.30" stroke="#111" stroke-width="1.0"/>
<text x="664.86" y="386.90" font-size="11.60" text-anchor="start" textLength="12.90" lengthAdjust="spacingAndGlyphs">10</text>
<text x="678.36" y="382.80" font-size="8.90" text-anchor="start" textLength="4.78" lengthAdjust="spacingAndGlyphs">1</text>
<line x1="510.98" y1="367.50" x2="510.98" y2="369.70" stroke="#111" stroke-width="0.8"/>
<line x1="521.62" y1="367.50" x2="521.62" y2="369.70" stroke="#111" stroke-width="0.8"/>
<line x1="529.16" y1="367.50" x2="529.16" y2="369.70" stroke="#111" stroke-width="0.8"/>
<line x1="535.02" y1="367.50" x2="535.02" y2="369.70" stroke="#111" stroke-width="0.8"/>
<line x1="539.80" y1="367.50" x2="539.80" y2="369.70" stroke="#111" stroke-width="0.8"/>
<line x1="543.84" y1="367.50" x2="543.84" y2="369.70" stroke="#111" stroke-width="0.8"/>
<line x1="547.35" y1="367.50" x2="547.35" y2="369.70" stroke="#111" stroke-width="0.8"/>
<line x1="550.44" y1="367.50" x2="550.44" y2="369.70" stroke="#111" stroke-width="0.8"/>
<line x1="571.38" y1="367.50" x2="571.38" y2="369.70" stroke="#111" stroke-width="0.8"/>
<line x1="582.02" y1="367.50" x2="582.02" y2="369.70" stroke="#111" stroke-width="0.8"/>
<line x1="589.56" y1="367.50" x2="589.56" y2="369.70" stroke="#111" stroke-width="0.8"/>
<line x1="595.42" y1="367.50" x2="595.42" y2="369.70" stroke="#111" stroke-width="0.8"/>
<line x1="600.20" y1="367.50" x2="600.20" y2="369.70" stroke="#111" stroke-width="0.8"/>
<line x1="604.24" y1="367.50" x2="604.24" y2="369.70" stroke="#111" stroke-width="0.8"/>
<line x1="607.75" y1="367.50" x2="607.75" y2="369.70" stroke="#111" stroke-width="0.8"/>
<line x1="610.84" y1="367.50" x2="610.84" y2="369.70" stroke="#111" stroke-width="0.8"/>
<line x1="631.78" y1="367.50" x2="631.78" y2="369.70" stroke="#111" stroke-width="0.8"/>
<line x1="642.42" y1="367.50" x2="642.42" y2="369.70" stroke="#111" stroke-width="0.8"/>
<line x1="649.96" y1="367.50" x2="649.96" y2="369.70" stroke="#111" stroke-width="0.8"/>
<line x1="655.82" y1="367.50" x2="655.82" y2="369.70" stroke="#111" stroke-width="0.8"/>
<line x1="660.60" y1="367.50" x2="660.60" y2="369.70" stroke="#111" stroke-width="0.8"/>
<line x1="664.64" y1="367.50" x2="664.64" y2="369.70" stroke="#111" stroke-width="0.8"/>
<line x1="668.15" y1="367.50" x2="668.15" y2="369.70" stroke="#111" stroke-width="0.8"/>
<line x1="671.24" y1="367.50" x2="671.24" y2="369.70" stroke="#111" stroke-width="0.8"/>
<line x1="489.00" y1="261.30" x2="492.80" y2="261.30" stroke="#111" stroke-width="1.0"/>
<line x1="489.00" y1="287.85" x2="492.80" y2="287.85" stroke="#111" stroke-width="1.0"/>
<line x1="489.00" y1="314.40" x2="492.80" y2="314.40" stroke="#111" stroke-width="1.0"/>
<line x1="489.00" y1="340.95" x2="492.80" y2="340.95" stroke="#111" stroke-width="1.0"/>
<line x1="489.00" y1="367.50" x2="492.80" y2="367.50" stroke="#111" stroke-width="1.0"/>
<line x1="492.80" y1="495.70" x2="492.80" y2="499.50" stroke="#111" stroke-width="1.0"/>
<text x="480.61" y="514.00" font-size="11.60" text-anchor="start" textLength="12.90" lengthAdjust="spacingAndGlyphs">10</text>
<text x="494.11" y="509.90" font-size="8.90" text-anchor="start" textLength="10.87" lengthAdjust="spacingAndGlyphs">−2</text>
<line x1="553.20" y1="495.70" x2="553.20" y2="499.50" stroke="#111" stroke-width="1.0"/>
<text x="540.95" y="514.00" font-size="11.60" text-anchor="start" textLength="12.90" lengthAdjust="spacingAndGlyphs">10</text>
<text x="554.45" y="509.90" font-size="8.90" text-anchor="start" textLength="10.99" lengthAdjust="spacingAndGlyphs">−1</text>
<line x1="613.60" y1="495.70" x2="613.60" y2="499.50" stroke="#111" stroke-width="1.0"/>
<text x="604.52" y="514.00" font-size="11.60" text-anchor="start" textLength="12.90" lengthAdjust="spacingAndGlyphs">10</text>
<text x="618.02" y="509.90" font-size="8.90" text-anchor="start" textLength="4.66" lengthAdjust="spacingAndGlyphs">0</text>
<line x1="674.00" y1="495.70" x2="674.00" y2="499.50" stroke="#111" stroke-width="1.0"/>
<text x="664.86" y="514.00" font-size="11.60" text-anchor="start" textLength="12.90" lengthAdjust="spacingAndGlyphs">10</text>
<text x="678.36" y="509.90" font-size="8.90" text-anchor="start" textLength="4.78" lengthAdjust="spacingAndGlyphs">1</text>
<line x1="510.98" y1="495.70" x2="510.98" y2="497.90" stroke="#111" stroke-width="0.8"/>
<line x1="521.62" y1="495.70" x2="521.62" y2="497.90" stroke="#111" stroke-width="0.8"/>
<line x1="529.16" y1="495.70" x2="529.16" y2="497.90" stroke="#111" stroke-width="0.8"/>
<line x1="535.02" y1="495.70" x2="535.02" y2="497.90" stroke="#111" stroke-width="0.8"/>
<line x1="539.80" y1="495.70" x2="539.80" y2="497.90" stroke="#111" stroke-width="0.8"/>
<line x1="543.84" y1="495.70" x2="543.84" y2="497.90" stroke="#111" stroke-width="0.8"/>
<line x1="547.35" y1="495.70" x2="547.35" y2="497.90" stroke="#111" stroke-width="0.8"/>
<line x1="550.44" y1="495.70" x2="550.44" y2="497.90" stroke="#111" stroke-width="0.8"/>
<line x1="571.38" y1="495.70" x2="571.38" y2="497.90" stroke="#111" stroke-width="0.8"/>
<line x1="582.02" y1="495.70" x2="582.02" y2="497.90" stroke="#111" stroke-width="0.8"/>
<line x1="589.56" y1="495.70" x2="589.56" y2="497.90" stroke="#111" stroke-width="0.8"/>
<line x1="595.42" y1="495.70" x2="595.42" y2="497.90" stroke="#111" stroke-width="0.8"/>
<line x1="600.20" y1="495.70" x2="600.20" y2="497.90" stroke="#111" stroke-width="0.8"/>
<line x1="604.24" y1="495.70" x2="604.24" y2="497.90" stroke="#111" stroke-width="0.8"/>
<line x1="607.75" y1="495.70" x2="607.75" y2="497.90" stroke="#111" stroke-width="0.8"/>
<line x1="610.84" y1="495.70" x2="610.84" y2="497.90" stroke="#111" stroke-width="0.8"/>
<line x1="631.78" y1="495.70" x2="631.78" y2="497.90" stroke="#111" stroke-width="0.8"/>
<line x1="642.42" y1="495.70" x2="642.42" y2="497.90" stroke="#111" stroke-width="0.8"/>
<line x1="649.96" y1="495.70" x2="649.96" y2="497.90" stroke="#111" stroke-width="0.8"/>
<line x1="655.82" y1="495.70" x2="655.82" y2="497.90" stroke="#111" stroke-width="0.8"/>
<line x1="660.60" y1="495.70" x2="660.60" y2="497.90" stroke="#111" stroke-width="0.8"/>
<line x1="664.64" y1="495.70" x2="664.64" y2="497.90" stroke="#111" stroke-width="0.8"/>
<line x1="668.15" y1="495.70" x2="668.15" y2="497.90" stroke="#111" stroke-width="0.8"/>
<line x1="671.24" y1="495.70" x2="671.24" y2="497.90" stroke="#111" stroke-width="0.8"/>
<line x1="489.00" y1="404.41" x2="492.80" y2="404.41" stroke="#111" stroke-width="1.0"/>
<line x1="489.00" y1="434.84" x2="492.80" y2="434.84" stroke="#111" stroke-width="1.0"/>
<line x1="489.00" y1="465.27" x2="492.80" y2="465.27" stroke="#111" stroke-width="1.0"/>
<line x1="489.00" y1="495.70" x2="492.80" y2="495.70" stroke="#111" stroke-width="1.0"/>
<text x="510.20" y="19.40" font-size="11.60" text-anchor="middle" textLength="10.55" lengthAdjust="spacingAndGlyphs">(i)</text>
<text x="510.20" y="147.20" font-size="11.60" text-anchor="middle" textLength="10.55" lengthAdjust="spacingAndGlyphs">(j)</text>
<text x="510.20" y="274.40" font-size="11.60" text-anchor="middle" textLength="13.80" lengthAdjust="spacingAndGlyphs">(k)</text>
<text x="510.20" y="402.30" font-size="11.60" text-anchor="middle" textLength="10.55" lengthAdjust="spacingAndGlyphs">(l)</text>
<text x="583.40" y="97.70" font-size="11.60" text-anchor="middle" textLength="33.75" lengthAdjust="spacingAndGlyphs">INTEG</text>
<text x="583.40" y="110.50" font-size="11.60" text-anchor="middle" textLength="76.25" lengthAdjust="spacingAndGlyphs">Displacement</text>
<text x="583.40" y="225.50" font-size="11.60" text-anchor="middle" textLength="33.75" lengthAdjust="spacingAndGlyphs">INTEG</text>
<text x="583.40" y="238.30" font-size="11.60" text-anchor="middle" textLength="43.50" lengthAdjust="spacingAndGlyphs">Velocity</text>
<text x="583.40" y="352.70" font-size="11.60" text-anchor="middle" textLength="33.75" lengthAdjust="spacingAndGlyphs">INTEG</text>
<text x="583.40" y="365.50" font-size="11.60" text-anchor="middle" textLength="99.38" lengthAdjust="spacingAndGlyphs">Position Error PSD</text>
<text x="583.40" y="480.90" font-size="11.60" text-anchor="middle" textLength="33.75" lengthAdjust="spacingAndGlyphs">INTEG</text>
<text x="583.40" y="493.70" font-size="11.60" text-anchor="middle" textLength="103.62" lengthAdjust="spacingAndGlyphs">Response Function</text>
<text x="573.81" y="19.20" font-size="11.02" text-anchor="start" textLength="23.12" lengthAdjust="spacingAndGlyphs">RMS</text>
<text x="597.14" y="20.80" font-size="8.60" text-anchor="start" textLength="6.40" lengthAdjust="spacingAndGlyphs" font-style="italic">N</text>
<text x="605.84" y="19.20" font-size="11.02" text-anchor="start" textLength="59.62" lengthAdjust="spacingAndGlyphs">= 1.43 mm</text>
<text x="573.81" y="29.40" font-size="11.02" text-anchor="start" textLength="23.12" lengthAdjust="spacingAndGlyphs">RMS</text>
<text x="597.14" y="31.00" font-size="8.60" text-anchor="start" textLength="6.40" lengthAdjust="spacingAndGlyphs" font-style="italic">E</text>
<text x="605.84" y="29.40" font-size="11.02" text-anchor="start" textLength="59.62" lengthAdjust="spacingAndGlyphs">= 1.06 mm</text>
<text x="573.81" y="39.60" font-size="11.02" text-anchor="start" textLength="23.12" lengthAdjust="spacingAndGlyphs">RMS</text>
<text x="597.14" y="41.20" font-size="8.60" text-anchor="start" textLength="6.40" lengthAdjust="spacingAndGlyphs" font-style="italic">D</text>
<text x="605.84" y="39.60" font-size="11.02" text-anchor="start" textLength="59.62" lengthAdjust="spacingAndGlyphs">= 0.27 mm</text>
<text x="569.31" y="147.00" font-size="11.02" text-anchor="start" textLength="23.12" lengthAdjust="spacingAndGlyphs">RMS</text>
<text x="592.64" y="148.60" font-size="8.60" text-anchor="start" textLength="6.40" lengthAdjust="spacingAndGlyphs" font-style="italic">N</text>
<text x="601.34" y="147.00" font-size="11.02" text-anchor="start" textLength="68.62" lengthAdjust="spacingAndGlyphs">= 0.15 mm/s</text>
<text x="569.31" y="157.20" font-size="11.02" text-anchor="start" textLength="23.12" lengthAdjust="spacingAndGlyphs">RMS</text>
<text x="592.64" y="158.80" font-size="8.60" text-anchor="start" textLength="6.40" lengthAdjust="spacingAndGlyphs" font-style="italic">E</text>
<text x="601.34" y="157.20" font-size="11.02" text-anchor="start" textLength="68.62" lengthAdjust="spacingAndGlyphs">= 0.15 mm/s</text>
<text x="569.31" y="167.40" font-size="11.02" text-anchor="start" textLength="23.12" lengthAdjust="spacingAndGlyphs">RMS</text>
<text x="592.64" y="169.00" font-size="8.60" text-anchor="start" textLength="6.40" lengthAdjust="spacingAndGlyphs" font-style="italic">D</text>
<text x="601.34" y="167.40" font-size="11.02" text-anchor="start" textLength="68.62" lengthAdjust="spacingAndGlyphs">= 0.14 mm/s</text>
<text x="583.40" y="531.10" font-size="11.60" text-anchor="middle" textLength="146.88" lengthAdjust="spacingAndGlyphs">Time (s) or Frequency (Hz)</text>
<text transform="translate(18.90,59.40) rotate(-90)" x="0" y="0" font-size="11.60" text-anchor="middle" textLength="105.25" lengthAdjust="spacingAndGlyphs">Displacement (cm)</text>
<text transform="translate(18.90,187.20) rotate(-90)" x="0" y="0" font-size="11.60" text-anchor="middle" textLength="82.00" lengthAdjust="spacingAndGlyphs">Velocity (cm/s)</text>
<text transform="translate(11.00,314.40) rotate(-90)" x="0" y="0" font-size="11.60" text-anchor="middle" textLength="73.50" lengthAdjust="spacingAndGlyphs">PSD (cm²/Hz)</text>
<text transform="translate(14.60,442.45) rotate(-90)" x="0" y="0" font-size="11.60" text-anchor="middle" textLength="83.25" lengthAdjust="spacingAndGlyphs">Amplitude (dB)</text></svg></body></html>
